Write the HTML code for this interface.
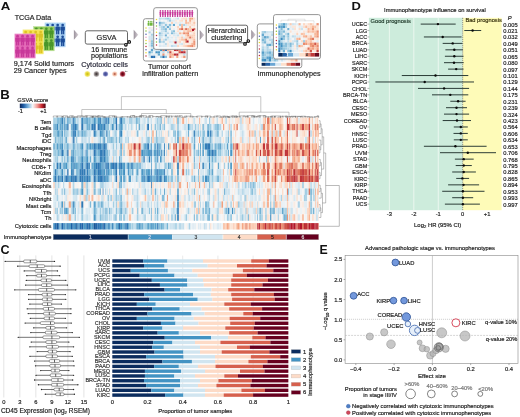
<!DOCTYPE html>
<html><head><meta charset="utf-8"><style>
html,body{margin:0;padding:0;background:#fff;width:520px;height:417px;overflow:hidden}
svg{display:block;will-change:transform}
text{font-family:"Liberation Sans",sans-serif}
</style></head><body>
<svg width="520" height="417" viewBox="0 0 520 417" font-family="Liberation Sans, sans-serif">
<defs><filter id="tblur" x="0" y="0" width="1" height="1"><feGaussianBlur stdDeviation="0.5"/></filter></defs>
<text transform="translate(0.75,9.85) scale(1.25,1)" font-size="10.6" text-anchor="start" fill="#111" font-weight="bold" >A</text>
<text x="14.70" y="20.00" font-size="7.15" text-anchor="start" fill="#222" stroke="#222" stroke-width="0.18" >TCGA Data</text>
<rect x="44.9" y="22.8" width="20.6" height="24.2" fill="#a9d1f2" stroke="#cfe5f8" stroke-width="0.6"/>
<circle cx="47.65" cy="25.05" r="1.35" fill="#1d4d9a" stroke="none" stroke-width="0.5" />
<rect x="45.4" y="26.4" width="4.5" height="4.4" fill="#1d4d9a" rx="1.0"/>
<rect x="46.05" y="30.2" width="1.45" height="4.1" fill="#1d4d9a"/>
<rect x="47.8" y="30.2" width="1.45" height="4.1" fill="#1d4d9a"/>
<circle cx="52.65" cy="25.05" r="1.35" fill="#1d4d9a" stroke="none" stroke-width="0.5" />
<rect x="50.4" y="26.4" width="4.5" height="4.4" fill="#1d4d9a" rx="1.0"/>
<rect x="51.05" y="30.2" width="1.45" height="4.1" fill="#1d4d9a"/>
<rect x="52.8" y="30.2" width="1.45" height="4.1" fill="#1d4d9a"/>
<circle cx="57.65" cy="25.05" r="1.35" fill="#1d4d9a" stroke="none" stroke-width="0.5" />
<rect x="55.4" y="26.4" width="4.5" height="4.4" fill="#1d4d9a" rx="1.0"/>
<rect x="56.05" y="30.2" width="1.45" height="4.1" fill="#1d4d9a"/>
<rect x="57.8" y="30.2" width="1.45" height="4.1" fill="#1d4d9a"/>
<circle cx="62.65" cy="25.05" r="1.35" fill="#1d4d9a" stroke="none" stroke-width="0.5" />
<rect x="60.4" y="26.4" width="4.5" height="4.4" fill="#1d4d9a" rx="1.0"/>
<rect x="61.05" y="30.2" width="1.45" height="4.1" fill="#1d4d9a"/>
<rect x="62.8" y="30.2" width="1.45" height="4.1" fill="#1d4d9a"/>
<circle cx="47.65" cy="36.85" r="1.35" fill="#1d4d9a" stroke="none" stroke-width="0.5" />
<rect x="45.4" y="38.2" width="4.5" height="4.4" fill="#1d4d9a" rx="1.0"/>
<rect x="46.05" y="42" width="1.45" height="4.1" fill="#1d4d9a"/>
<rect x="47.8" y="42" width="1.45" height="4.1" fill="#1d4d9a"/>
<circle cx="52.65" cy="36.85" r="1.35" fill="#1d4d9a" stroke="none" stroke-width="0.5" />
<rect x="50.4" y="38.2" width="4.5" height="4.4" fill="#1d4d9a" rx="1.0"/>
<rect x="51.05" y="42" width="1.45" height="4.1" fill="#1d4d9a"/>
<rect x="52.8" y="42" width="1.45" height="4.1" fill="#1d4d9a"/>
<circle cx="57.65" cy="36.85" r="1.35" fill="#1d4d9a" stroke="none" stroke-width="0.5" />
<rect x="55.4" y="38.2" width="4.5" height="4.4" fill="#1d4d9a" rx="1.0"/>
<rect x="56.05" y="42" width="1.45" height="4.1" fill="#1d4d9a"/>
<rect x="57.8" y="42" width="1.45" height="4.1" fill="#1d4d9a"/>
<circle cx="62.65" cy="36.85" r="1.35" fill="#1d4d9a" stroke="none" stroke-width="0.5" />
<rect x="60.4" y="38.2" width="4.5" height="4.4" fill="#1d4d9a" rx="1.0"/>
<rect x="61.05" y="42" width="1.45" height="4.1" fill="#1d4d9a"/>
<rect x="62.8" y="42" width="1.45" height="4.1" fill="#1d4d9a"/>
<rect x="33.6" y="26.6" width="20.6" height="24.2" fill="#93cc5c" stroke="#c0e2a0" stroke-width="0.6"/>
<circle cx="36.35" cy="28.85" r="1.35" fill="#4a962a" stroke="none" stroke-width="0.5" />
<rect x="34.1" y="30.2" width="4.5" height="4.4" fill="#4a962a" rx="1.0"/>
<rect x="34.75" y="34" width="1.45" height="4.1" fill="#4a962a"/>
<rect x="36.5" y="34" width="1.45" height="4.1" fill="#4a962a"/>
<circle cx="41.35" cy="28.85" r="1.35" fill="#4a962a" stroke="none" stroke-width="0.5" />
<rect x="39.1" y="30.2" width="4.5" height="4.4" fill="#4a962a" rx="1.0"/>
<rect x="39.75" y="34" width="1.45" height="4.1" fill="#4a962a"/>
<rect x="41.5" y="34" width="1.45" height="4.1" fill="#4a962a"/>
<circle cx="46.35" cy="28.85" r="1.35" fill="#4a962a" stroke="none" stroke-width="0.5" />
<rect x="44.1" y="30.2" width="4.5" height="4.4" fill="#4a962a" rx="1.0"/>
<rect x="44.75" y="34" width="1.45" height="4.1" fill="#4a962a"/>
<rect x="46.5" y="34" width="1.45" height="4.1" fill="#4a962a"/>
<circle cx="51.35" cy="28.85" r="1.35" fill="#4a962a" stroke="none" stroke-width="0.5" />
<rect x="49.1" y="30.2" width="4.5" height="4.4" fill="#4a962a" rx="1.0"/>
<rect x="49.75" y="34" width="1.45" height="4.1" fill="#4a962a"/>
<rect x="51.5" y="34" width="1.45" height="4.1" fill="#4a962a"/>
<circle cx="36.35" cy="40.65" r="1.35" fill="#4a962a" stroke="none" stroke-width="0.5" />
<rect x="34.1" y="42" width="4.5" height="4.4" fill="#4a962a" rx="1.0"/>
<rect x="34.75" y="45.8" width="1.45" height="4.1" fill="#4a962a"/>
<rect x="36.5" y="45.8" width="1.45" height="4.1" fill="#4a962a"/>
<circle cx="41.35" cy="40.65" r="1.35" fill="#4a962a" stroke="none" stroke-width="0.5" />
<rect x="39.1" y="42" width="4.5" height="4.4" fill="#4a962a" rx="1.0"/>
<rect x="39.75" y="45.8" width="1.45" height="4.1" fill="#4a962a"/>
<rect x="41.5" y="45.8" width="1.45" height="4.1" fill="#4a962a"/>
<circle cx="46.35" cy="40.65" r="1.35" fill="#4a962a" stroke="none" stroke-width="0.5" />
<rect x="44.1" y="42" width="4.5" height="4.4" fill="#4a962a" rx="1.0"/>
<rect x="44.75" y="45.8" width="1.45" height="4.1" fill="#4a962a"/>
<rect x="46.5" y="45.8" width="1.45" height="4.1" fill="#4a962a"/>
<circle cx="51.35" cy="40.65" r="1.35" fill="#4a962a" stroke="none" stroke-width="0.5" />
<rect x="49.1" y="42" width="4.5" height="4.4" fill="#4a962a" rx="1.0"/>
<rect x="49.75" y="45.8" width="1.45" height="4.1" fill="#4a962a"/>
<rect x="51.5" y="45.8" width="1.45" height="4.1" fill="#4a962a"/>
<rect x="22.9" y="29.8" width="20.6" height="24.2" fill="#f5e452" stroke="#f8f0a8" stroke-width="0.6"/>
<circle cx="25.65" cy="32.05" r="1.35" fill="#dcc226" stroke="none" stroke-width="0.5" />
<rect x="23.4" y="33.4" width="4.5" height="4.4" fill="#dcc226" rx="1.0"/>
<rect x="24.05" y="37.2" width="1.45" height="4.1" fill="#dcc226"/>
<rect x="25.8" y="37.2" width="1.45" height="4.1" fill="#dcc226"/>
<circle cx="30.65" cy="32.05" r="1.35" fill="#dcc226" stroke="none" stroke-width="0.5" />
<rect x="28.4" y="33.4" width="4.5" height="4.4" fill="#dcc226" rx="1.0"/>
<rect x="29.05" y="37.2" width="1.45" height="4.1" fill="#dcc226"/>
<rect x="30.8" y="37.2" width="1.45" height="4.1" fill="#dcc226"/>
<circle cx="35.65" cy="32.05" r="1.35" fill="#dcc226" stroke="none" stroke-width="0.5" />
<rect x="33.4" y="33.4" width="4.5" height="4.4" fill="#dcc226" rx="1.0"/>
<rect x="34.05" y="37.2" width="1.45" height="4.1" fill="#dcc226"/>
<rect x="35.8" y="37.2" width="1.45" height="4.1" fill="#dcc226"/>
<circle cx="40.65" cy="32.05" r="1.35" fill="#dcc226" stroke="none" stroke-width="0.5" />
<rect x="38.4" y="33.4" width="4.5" height="4.4" fill="#dcc226" rx="1.0"/>
<rect x="39.05" y="37.2" width="1.45" height="4.1" fill="#dcc226"/>
<rect x="40.8" y="37.2" width="1.45" height="4.1" fill="#dcc226"/>
<circle cx="25.65" cy="43.85" r="1.35" fill="#dcc226" stroke="none" stroke-width="0.5" />
<rect x="23.4" y="45.2" width="4.5" height="4.4" fill="#dcc226" rx="1.0"/>
<rect x="24.05" y="49" width="1.45" height="4.1" fill="#dcc226"/>
<rect x="25.8" y="49" width="1.45" height="4.1" fill="#dcc226"/>
<circle cx="30.65" cy="43.85" r="1.35" fill="#dcc226" stroke="none" stroke-width="0.5" />
<rect x="28.4" y="45.2" width="4.5" height="4.4" fill="#dcc226" rx="1.0"/>
<rect x="29.05" y="49" width="1.45" height="4.1" fill="#dcc226"/>
<rect x="30.8" y="49" width="1.45" height="4.1" fill="#dcc226"/>
<circle cx="35.65" cy="43.85" r="1.35" fill="#dcc226" stroke="none" stroke-width="0.5" />
<rect x="33.4" y="45.2" width="4.5" height="4.4" fill="#dcc226" rx="1.0"/>
<rect x="34.05" y="49" width="1.45" height="4.1" fill="#dcc226"/>
<rect x="35.8" y="49" width="1.45" height="4.1" fill="#dcc226"/>
<circle cx="40.65" cy="43.85" r="1.35" fill="#dcc226" stroke="none" stroke-width="0.5" />
<rect x="38.4" y="45.2" width="4.5" height="4.4" fill="#dcc226" rx="1.0"/>
<rect x="39.05" y="49" width="1.45" height="4.1" fill="#dcc226"/>
<rect x="40.8" y="49" width="1.45" height="4.1" fill="#dcc226"/>
<rect x="14.8" y="33.9" width="20.6" height="24.2" fill="#e46cb8" stroke="#f2b0da" stroke-width="0.6"/>
<circle cx="17.55" cy="36.15" r="1.35" fill="#c8389a" stroke="none" stroke-width="0.5" />
<rect x="15.3" y="37.5" width="4.5" height="4.4" fill="#c8389a" rx="1.0"/>
<rect x="15.95" y="41.3" width="1.45" height="4.1" fill="#c8389a"/>
<rect x="17.7" y="41.3" width="1.45" height="4.1" fill="#c8389a"/>
<circle cx="22.55" cy="36.15" r="1.35" fill="#c8389a" stroke="none" stroke-width="0.5" />
<rect x="20.3" y="37.5" width="4.5" height="4.4" fill="#c8389a" rx="1.0"/>
<rect x="20.95" y="41.3" width="1.45" height="4.1" fill="#c8389a"/>
<rect x="22.7" y="41.3" width="1.45" height="4.1" fill="#c8389a"/>
<circle cx="27.55" cy="36.15" r="1.35" fill="#c8389a" stroke="none" stroke-width="0.5" />
<rect x="25.3" y="37.5" width="4.5" height="4.4" fill="#c8389a" rx="1.0"/>
<rect x="25.95" y="41.3" width="1.45" height="4.1" fill="#c8389a"/>
<rect x="27.7" y="41.3" width="1.45" height="4.1" fill="#c8389a"/>
<circle cx="32.55" cy="36.15" r="1.35" fill="#c8389a" stroke="none" stroke-width="0.5" />
<rect x="30.3" y="37.5" width="4.5" height="4.4" fill="#c8389a" rx="1.0"/>
<rect x="30.95" y="41.3" width="1.45" height="4.1" fill="#c8389a"/>
<rect x="32.7" y="41.3" width="1.45" height="4.1" fill="#c8389a"/>
<circle cx="17.55" cy="47.95" r="1.35" fill="#c8389a" stroke="none" stroke-width="0.5" />
<rect x="15.3" y="49.3" width="4.5" height="4.4" fill="#c8389a" rx="1.0"/>
<rect x="15.95" y="53.1" width="1.45" height="4.1" fill="#c8389a"/>
<rect x="17.7" y="53.1" width="1.45" height="4.1" fill="#c8389a"/>
<circle cx="22.55" cy="47.95" r="1.35" fill="#c8389a" stroke="none" stroke-width="0.5" />
<rect x="20.3" y="49.3" width="4.5" height="4.4" fill="#c8389a" rx="1.0"/>
<rect x="20.95" y="53.1" width="1.45" height="4.1" fill="#c8389a"/>
<rect x="22.7" y="53.1" width="1.45" height="4.1" fill="#c8389a"/>
<circle cx="27.55" cy="47.95" r="1.35" fill="#c8389a" stroke="none" stroke-width="0.5" />
<rect x="25.3" y="49.3" width="4.5" height="4.4" fill="#c8389a" rx="1.0"/>
<rect x="25.95" y="53.1" width="1.45" height="4.1" fill="#c8389a"/>
<rect x="27.7" y="53.1" width="1.45" height="4.1" fill="#c8389a"/>
<circle cx="32.55" cy="47.95" r="1.35" fill="#c8389a" stroke="none" stroke-width="0.5" />
<rect x="30.3" y="49.3" width="4.5" height="4.4" fill="#c8389a" rx="1.0"/>
<rect x="30.95" y="53.1" width="1.45" height="4.1" fill="#c8389a"/>
<rect x="32.7" y="53.1" width="1.45" height="4.1" fill="#c8389a"/>
<text x="13.80" y="66.10" font-size="7.25" text-anchor="start" fill="#222" stroke="#222" stroke-width="0.18" >9,174 Solid tumors</text>
<text x="13.80" y="72.60" font-size="7.25" text-anchor="start" fill="#222" stroke="#222" stroke-width="0.18" >29 Cancer types</text>
<defs><linearGradient id="arr" x1="0" x2="1"><stop offset="0" stop-color="#9a929c"/><stop offset="1" stop-color="#d8d0d6"/></linearGradient></defs>
<path d="M73.9,29.8 L78.4,34.8 L73.9,39.8 Z" fill="url(#arr)"/>
<path d="M133.7,29.8 L138.2,34.8 L133.7,39.8 Z" fill="url(#arr)"/>
<path d="M199.7,29.9 L204.2,34.9 L199.7,39.9 Z" fill="url(#arr)"/>
<path d="M251.2,29.7 L255.7,34.7 L251.2,39.7 Z" fill="url(#arr)"/>
<rect x="85.3" y="30.8" width="42.2" height="13.3" rx="1.8" fill="#fff" stroke="#555" stroke-width="0.9"/>
<text x="106.40" y="40.10" font-size="7.3" text-anchor="middle" fill="#222" stroke="#222" stroke-width="0.18" >GSVA</text>
<circle cx="125.90" cy="44.80" r="1.30" fill="#fff" stroke="#111" stroke-width="1.15" />
<circle cx="129.20" cy="41.90" r="1.30" fill="#fff" stroke="#111" stroke-width="1.15" />
<line x1="126.80" y1="44.00" x2="128.30" y2="42.70" stroke="#111" stroke-width="1.0" />
<text x="109.30" y="51.80" font-size="7.2" text-anchor="middle" fill="#222" stroke="#222" stroke-width="0.18" >16 Immune</text>
<text x="109.40" y="57.70" font-size="7.2" text-anchor="middle" fill="#222" stroke="#222" stroke-width="0.18" >populations</text>
<text x="81.20" y="67.40" font-size="7.3" text-anchor="start" fill="#2b2b3c" stroke="#2b2b3c" stroke-width="0.18" >Cytotoxic cells</text>
<defs><radialGradient id="gy"><stop offset="0" stop-color="#c8b810"/><stop offset="0.55" stop-color="#e8dc40"/><stop offset="1" stop-color="#f8f0b0"/></radialGradient><radialGradient id="gg"><stop offset="0" stop-color="#302828"/><stop offset="0.55" stop-color="#807878"/><stop offset="1" stop-color="#d0cccc"/></radialGradient><radialGradient id="gb"><stop offset="0" stop-color="#404890"/><stop offset="0.55" stop-color="#5a62a8"/><stop offset="1" stop-color="#b8bce0"/></radialGradient><radialGradient id="gp"><stop offset="0" stop-color="#a04030"/><stop offset="0.55" stop-color="#f0b8a0"/><stop offset="1" stop-color="#fde8dc"/></radialGradient><radialGradient id="gr"><stop offset="0" stop-color="#500010"/><stop offset="0.55" stop-color="#901828"/><stop offset="1" stop-color="#e0a0b0"/></radialGradient></defs>
<circle cx="87.40" cy="74.00" r="3.00" fill="url(#gy)" stroke="none" stroke-width="0.5" />
<circle cx="96.40" cy="74.00" r="2.90" fill="url(#gg)" stroke="none" stroke-width="0.5" />
<circle cx="105.50" cy="74.00" r="2.70" fill="url(#gb)" stroke="none" stroke-width="0.5" />
<circle cx="114.70" cy="74.00" r="2.70" fill="url(#gp)" stroke="none" stroke-width="0.5" />
<circle cx="122.60" cy="74.00" r="2.90" fill="url(#gr)" stroke="none" stroke-width="0.5" />
<circle cx="125.80" cy="71.20" r="0.50" fill="#222" stroke="none" stroke-width="0.5" />
<circle cx="127.00" cy="71.60" r="0.40" fill="#222" stroke="none" stroke-width="0.5" />
<rect x="206.2" y="25.2" width="41.4" height="17.6" rx="1.8" fill="#fff" stroke="#555" stroke-width="0.9"/>
<text x="226.90" y="33.10" font-size="7.25" text-anchor="middle" fill="#222" stroke="#222" stroke-width="0.18" >Hierarchical</text>
<text x="226.70" y="39.90" font-size="7.25" text-anchor="middle" fill="#222" stroke="#222" stroke-width="0.18" >clustering</text>
<circle cx="245.00" cy="43.90" r="1.30" fill="#fff" stroke="#111" stroke-width="1.15" />
<circle cx="248.30" cy="41.00" r="1.30" fill="#fff" stroke="#111" stroke-width="1.15" />
<line x1="245.90" y1="43.10" x2="247.40" y2="41.80" stroke="#111" stroke-width="1.0" />
<rect x="143.4" y="18.7" width="43.7" height="42.3" rx="2.2" fill="#fff" stroke="#8a8a8a" stroke-width="0.9"/>
<g filter="url(#tblur)">
<rect x="148.5" y="27" width="2.36" height="2.25" fill="#deebf2"/>
<rect x="148.5" y="29.2" width="2.36" height="2.25" fill="#f9ece5"/>
<rect x="148.5" y="31.4" width="2.36" height="2.25" fill="#acd2e5"/>
<rect x="148.5" y="33.6" width="2.36" height="2.25" fill="#f8f3f0"/>
<rect x="148.5" y="35.8" width="2.36" height="2.25" fill="#d2e5f0"/>
<rect x="148.5" y="38" width="2.36" height="2.25" fill="#d2e5f0"/>
<rect x="148.5" y="40.2" width="2.36" height="2.25" fill="#fddcc9"/>
<rect x="148.5" y="42.4" width="2.36" height="2.25" fill="#e0ecf3"/>
<rect x="148.5" y="44.6" width="2.36" height="2.25" fill="#d9e9f1"/>
<rect x="148.5" y="46.8" width="2.36" height="2.25" fill="#f3f5f6"/>
<rect x="150.81" y="27" width="2.36" height="2.25" fill="#f9f0ea"/>
<rect x="150.81" y="29.2" width="2.36" height="2.25" fill="#d9e9f2"/>
<rect x="150.81" y="31.4" width="2.36" height="2.25" fill="#eff3f5"/>
<rect x="150.81" y="33.6" width="2.36" height="2.25" fill="#aad1e5"/>
<rect x="150.81" y="35.8" width="2.36" height="2.25" fill="#cce2ef"/>
<rect x="150.81" y="38" width="2.36" height="2.25" fill="#c8e0ed"/>
<rect x="150.81" y="40.2" width="2.36" height="2.25" fill="#95c7df"/>
<rect x="150.81" y="42.4" width="2.36" height="2.25" fill="#89c0db"/>
<rect x="150.81" y="44.6" width="2.36" height="2.25" fill="#81bad8"/>
<rect x="150.81" y="46.8" width="2.36" height="2.25" fill="#d2e6f0"/>
<rect x="153.12" y="27" width="2.36" height="2.25" fill="#d5e7f1"/>
<rect x="153.12" y="29.2" width="2.36" height="2.25" fill="#cfe4ef"/>
<rect x="153.12" y="31.4" width="2.36" height="2.25" fill="#ddebf2"/>
<rect x="153.12" y="33.6" width="2.36" height="2.25" fill="#95c7df"/>
<rect x="153.12" y="35.8" width="2.36" height="2.25" fill="#d8e8f1"/>
<rect x="153.12" y="38" width="2.36" height="2.25" fill="#e3edf3"/>
<rect x="153.12" y="40.2" width="2.36" height="2.25" fill="#f4f6f6"/>
<rect x="153.12" y="42.4" width="2.36" height="2.25" fill="#b1d5e7"/>
<rect x="153.12" y="44.6" width="2.36" height="2.25" fill="#cae1ee"/>
<rect x="153.12" y="46.8" width="2.36" height="2.25" fill="#65a9cf"/>
<rect x="155.44" y="27" width="2.36" height="2.25" fill="#c4deec"/>
<rect x="155.44" y="29.2" width="2.36" height="2.25" fill="#59a1ca"/>
<rect x="155.44" y="31.4" width="2.36" height="2.25" fill="#90c4dd"/>
<rect x="155.44" y="33.6" width="2.36" height="2.25" fill="#f8f0eb"/>
<rect x="155.44" y="35.8" width="2.36" height="2.25" fill="#58a0ca"/>
<rect x="155.44" y="38" width="2.36" height="2.25" fill="#f6f6f7"/>
<rect x="155.44" y="40.2" width="2.36" height="2.25" fill="#e6eff4"/>
<rect x="155.44" y="42.4" width="2.36" height="2.25" fill="#cfe4ef"/>
<rect x="155.44" y="44.6" width="2.36" height="2.25" fill="#eaf1f5"/>
<rect x="155.44" y="46.8" width="2.36" height="2.25" fill="#edf2f5"/>
<rect x="157.75" y="27" width="2.36" height="2.25" fill="#f8f2ee"/>
<rect x="157.75" y="29.2" width="2.36" height="2.25" fill="#d3e6f0"/>
<rect x="157.75" y="31.4" width="2.36" height="2.25" fill="#bfdceb"/>
<rect x="157.75" y="33.6" width="2.36" height="2.25" fill="#bedceb"/>
<rect x="157.75" y="35.8" width="2.36" height="2.25" fill="#a9d1e5"/>
<rect x="157.75" y="38" width="2.36" height="2.25" fill="#d9e9f1"/>
<rect x="157.75" y="40.2" width="2.36" height="2.25" fill="#b4d6e8"/>
<rect x="157.75" y="42.4" width="2.36" height="2.25" fill="#f8f1ed"/>
<rect x="157.75" y="44.6" width="2.36" height="2.25" fill="#70afd2"/>
<rect x="157.75" y="46.8" width="2.36" height="2.25" fill="#a3cee3"/>
<rect x="160.06" y="27" width="2.36" height="2.25" fill="#abd2e5"/>
<rect x="160.06" y="29.2" width="2.36" height="2.25" fill="#60a5cd"/>
<rect x="160.06" y="31.4" width="2.36" height="2.25" fill="#fddcc9"/>
<rect x="160.06" y="33.6" width="2.36" height="2.25" fill="#4a97c5"/>
<rect x="160.06" y="35.8" width="2.36" height="2.25" fill="#d1e5f0"/>
<rect x="160.06" y="38" width="2.36" height="2.25" fill="#c3deec"/>
<rect x="160.06" y="40.2" width="2.36" height="2.25" fill="#fbe2d3"/>
<rect x="160.06" y="42.4" width="2.36" height="2.25" fill="#68aad0"/>
<rect x="160.06" y="44.6" width="2.36" height="2.25" fill="#f8f1ed"/>
<rect x="160.06" y="46.8" width="2.36" height="2.25" fill="#b7d8e9"/>
<rect x="162.38" y="27" width="2.36" height="2.25" fill="#d5e7f1"/>
<rect x="162.38" y="29.2" width="2.36" height="2.25" fill="#bbdaea"/>
<rect x="162.38" y="31.4" width="2.36" height="2.25" fill="#f0f4f6"/>
<rect x="162.38" y="33.6" width="2.36" height="2.25" fill="#a0cce2"/>
<rect x="162.38" y="35.8" width="2.36" height="2.25" fill="#d8e8f1"/>
<rect x="162.38" y="38" width="2.36" height="2.25" fill="#e7eff4"/>
<rect x="162.38" y="40.2" width="2.36" height="2.25" fill="#fcdecc"/>
<rect x="162.38" y="42.4" width="2.36" height="2.25" fill="#4a97c5"/>
<rect x="162.38" y="44.6" width="2.36" height="2.25" fill="#fbe6d9"/>
<rect x="162.38" y="46.8" width="2.36" height="2.25" fill="#f8f4f2"/>
<rect x="164.69" y="27" width="2.36" height="2.25" fill="#c5dfed"/>
<rect x="164.69" y="29.2" width="2.36" height="2.25" fill="#e5eef4"/>
<rect x="164.69" y="31.4" width="2.36" height="2.25" fill="#c6e0ed"/>
<rect x="164.69" y="33.6" width="2.36" height="2.25" fill="#fbe3d4"/>
<rect x="164.69" y="35.8" width="2.36" height="2.25" fill="#e2edf3"/>
<rect x="164.69" y="38" width="2.36" height="2.25" fill="#d3e6f0"/>
<rect x="164.69" y="40.2" width="2.36" height="2.25" fill="#d3e6f0"/>
<rect x="164.69" y="42.4" width="2.36" height="2.25" fill="#d4e6f0"/>
<rect x="164.69" y="44.6" width="2.36" height="2.25" fill="#d4e7f1"/>
<rect x="164.69" y="46.8" width="2.36" height="2.25" fill="#afd4e6"/>
<rect x="167" y="27" width="2.36" height="2.25" fill="#fcd5c0"/>
<rect x="167" y="29.2" width="2.36" height="2.25" fill="#6daed1"/>
<rect x="167" y="31.4" width="2.36" height="2.25" fill="#2a71b2"/>
<rect x="167" y="33.6" width="2.36" height="2.25" fill="#d6e8f1"/>
<rect x="167" y="35.8" width="2.36" height="2.25" fill="#d5e7f1"/>
<rect x="167" y="38" width="2.36" height="2.25" fill="#e7f0f4"/>
<rect x="167" y="40.2" width="2.36" height="2.25" fill="#d4e6f0"/>
<rect x="167" y="42.4" width="2.36" height="2.25" fill="#d5e7f1"/>
<rect x="167" y="44.6" width="2.36" height="2.25" fill="#e6eff4"/>
<rect x="167" y="46.8" width="2.36" height="2.25" fill="#f8f4f1"/>
<rect x="169.31" y="27" width="2.36" height="2.25" fill="#f8f4f2"/>
<rect x="169.31" y="29.2" width="2.36" height="2.25" fill="#f8f2ef"/>
<rect x="169.31" y="31.4" width="2.36" height="2.25" fill="#ed9475"/>
<rect x="169.31" y="33.6" width="2.36" height="2.25" fill="#fddcc8"/>
<rect x="169.31" y="35.8" width="2.36" height="2.25" fill="#e8f0f4"/>
<rect x="169.31" y="38" width="2.36" height="2.25" fill="#e27c63"/>
<rect x="169.31" y="40.2" width="2.36" height="2.25" fill="#fbd0b9"/>
<rect x="169.31" y="42.4" width="2.36" height="2.25" fill="#f6f6f7"/>
<rect x="169.31" y="44.6" width="2.36" height="2.25" fill="#e2edf3"/>
<rect x="169.31" y="46.8" width="2.36" height="2.25" fill="#fce1d2"/>
<rect x="171.62" y="27" width="2.36" height="2.25" fill="#eef3f5"/>
<rect x="171.62" y="29.2" width="2.36" height="2.25" fill="#e6eff4"/>
<rect x="171.62" y="31.4" width="2.36" height="2.25" fill="#deebf2"/>
<rect x="171.62" y="33.6" width="2.36" height="2.25" fill="#f7f6f5"/>
<rect x="171.62" y="35.8" width="2.36" height="2.25" fill="#f9c0a5"/>
<rect x="171.62" y="38" width="2.36" height="2.25" fill="#f8f4f2"/>
<rect x="171.62" y="40.2" width="2.36" height="2.25" fill="#d8e9f1"/>
<rect x="171.62" y="42.4" width="2.36" height="2.25" fill="#fcd5c0"/>
<rect x="171.62" y="44.6" width="2.36" height="2.25" fill="#fae7dc"/>
<rect x="171.62" y="46.8" width="2.36" height="2.25" fill="#fbcdb5"/>
<rect x="173.94" y="27" width="2.36" height="2.25" fill="#f8bc9f"/>
<rect x="173.94" y="29.2" width="2.36" height="2.25" fill="#f9ede6"/>
<rect x="173.94" y="31.4" width="2.36" height="2.25" fill="#f9ede5"/>
<rect x="173.94" y="33.6" width="2.36" height="2.25" fill="#faeae1"/>
<rect x="173.94" y="35.8" width="2.36" height="2.25" fill="#e3eef3"/>
<rect x="173.94" y="38" width="2.36" height="2.25" fill="#fcd5c0"/>
<rect x="173.94" y="40.2" width="2.36" height="2.25" fill="#f6b394"/>
<rect x="173.94" y="42.4" width="2.36" height="2.25" fill="#fbe5d7"/>
<rect x="173.94" y="44.6" width="2.36" height="2.25" fill="#f9efe9"/>
<rect x="173.94" y="46.8" width="2.36" height="2.25" fill="#f9f0ea"/>
<rect x="176.25" y="27" width="2.36" height="2.25" fill="#eff3f6"/>
<rect x="176.25" y="29.2" width="2.36" height="2.25" fill="#eff3f5"/>
<rect x="176.25" y="31.4" width="2.36" height="2.25" fill="#f8f3f0"/>
<rect x="176.25" y="33.6" width="2.36" height="2.25" fill="#edf2f5"/>
<rect x="176.25" y="35.8" width="2.36" height="2.25" fill="#f8f4f2"/>
<rect x="176.25" y="38" width="2.36" height="2.25" fill="#d4e6f1"/>
<rect x="176.25" y="40.2" width="2.36" height="2.25" fill="#fce0d0"/>
<rect x="176.25" y="42.4" width="2.36" height="2.25" fill="#fae8dd"/>
<rect x="176.25" y="44.6" width="2.36" height="2.25" fill="#e3edf3"/>
<rect x="176.25" y="46.8" width="2.36" height="2.25" fill="#add3e6"/>
<rect x="178.56" y="27" width="2.36" height="2.25" fill="#fae9df"/>
<rect x="178.56" y="29.2" width="2.36" height="2.25" fill="#f9c0a5"/>
<rect x="178.56" y="31.4" width="2.36" height="2.25" fill="#f1f4f6"/>
<rect x="178.56" y="33.6" width="2.36" height="2.25" fill="#f7f5f4"/>
<rect x="178.56" y="35.8" width="2.36" height="2.25" fill="#f7f7f7"/>
<rect x="178.56" y="38" width="2.36" height="2.25" fill="#fcd6c1"/>
<rect x="178.56" y="40.2" width="2.36" height="2.25" fill="#ebf1f5"/>
<rect x="178.56" y="42.4" width="2.36" height="2.25" fill="#fac6ac"/>
<rect x="178.56" y="44.6" width="2.36" height="2.25" fill="#f8f1ec"/>
<rect x="178.56" y="46.8" width="2.36" height="2.25" fill="#fac9b0"/>
<rect x="180.88" y="27" width="2.36" height="2.25" fill="#fae8de"/>
<rect x="180.88" y="29.2" width="2.36" height="2.25" fill="#f9efe9"/>
<rect x="180.88" y="31.4" width="2.36" height="2.25" fill="#d7e8f1"/>
<rect x="180.88" y="33.6" width="2.36" height="2.25" fill="#f2f5f6"/>
<rect x="180.88" y="35.8" width="2.36" height="2.25" fill="#f9f0ea"/>
<rect x="180.88" y="38" width="2.36" height="2.25" fill="#fcd6c1"/>
<rect x="180.88" y="40.2" width="2.36" height="2.25" fill="#fbe3d4"/>
<rect x="180.88" y="42.4" width="2.36" height="2.25" fill="#f2f5f6"/>
<rect x="180.88" y="44.6" width="2.36" height="2.25" fill="#fcdfcd"/>
<rect x="180.88" y="46.8" width="2.36" height="2.25" fill="#fac6ac"/>
<rect x="183.19" y="27" width="2.36" height="2.25" fill="#f9ede5"/>
<rect x="183.19" y="29.2" width="2.36" height="2.25" fill="#f8f4f2"/>
<rect x="183.19" y="31.4" width="2.36" height="2.25" fill="#f8f3f0"/>
<rect x="183.19" y="33.6" width="2.36" height="2.25" fill="#fbcfb7"/>
<rect x="183.19" y="35.8" width="2.36" height="2.25" fill="#fddbc8"/>
<rect x="183.19" y="38" width="2.36" height="2.25" fill="#eaf1f5"/>
<rect x="183.19" y="40.2" width="2.36" height="2.25" fill="#fce0cf"/>
<rect x="183.19" y="42.4" width="2.36" height="2.25" fill="#f7f5f4"/>
<rect x="183.19" y="44.6" width="2.36" height="2.25" fill="#f0f4f6"/>
<rect x="183.19" y="46.8" width="2.36" height="2.25" fill="#f7ba9d"/>
<rect x="148.5" y="49" width="2.36" height="2.3" fill="#f5f6f7"/>
<rect x="148.5" y="51.25" width="2.36" height="2.3" fill="#559fc9"/>
<rect x="148.5" y="53.5" width="2.36" height="2.3" fill="#bad9e9"/>
<rect x="148.5" y="55.75" width="2.36" height="2.3" fill="#dfecf3"/>
<rect x="150.81" y="49" width="2.36" height="2.3" fill="#61a6cd"/>
<rect x="150.81" y="51.25" width="2.36" height="2.3" fill="#a4cee3"/>
<rect x="150.81" y="53.5" width="2.36" height="2.3" fill="#eaf1f5"/>
<rect x="150.81" y="55.75" width="2.36" height="2.3" fill="#2a71b2"/>
<rect x="153.12" y="49" width="2.36" height="2.3" fill="#d4e6f1"/>
<rect x="153.12" y="51.25" width="2.36" height="2.3" fill="#eff3f6"/>
<rect x="153.12" y="53.5" width="2.36" height="2.3" fill="#e0ecf3"/>
<rect x="153.12" y="55.75" width="2.36" height="2.3" fill="#2a71b2"/>
<rect x="155.44" y="49" width="2.36" height="2.3" fill="#d3e6f0"/>
<rect x="155.44" y="51.25" width="2.36" height="2.3" fill="#4393c3"/>
<rect x="155.44" y="53.5" width="2.36" height="2.3" fill="#e4eef3"/>
<rect x="155.44" y="55.75" width="2.36" height="2.3" fill="#e6eff4"/>
<rect x="157.75" y="49" width="2.36" height="2.3" fill="#c9e1ee"/>
<rect x="157.75" y="51.25" width="2.36" height="2.3" fill="#509bc7"/>
<rect x="157.75" y="53.5" width="2.36" height="2.3" fill="#68aad0"/>
<rect x="157.75" y="55.75" width="2.36" height="2.3" fill="#f7f7f7"/>
<rect x="160.06" y="49" width="2.36" height="2.3" fill="#4190c1"/>
<rect x="160.06" y="51.25" width="2.36" height="2.3" fill="#dfecf3"/>
<rect x="160.06" y="53.5" width="2.36" height="2.3" fill="#e0ecf3"/>
<rect x="160.06" y="55.75" width="2.36" height="2.3" fill="#93c5de"/>
<rect x="162.38" y="49" width="2.36" height="2.3" fill="#df755d"/>
<rect x="162.38" y="51.25" width="2.36" height="2.3" fill="#b9d9e9"/>
<rect x="162.38" y="53.5" width="2.36" height="2.3" fill="#ec9374"/>
<rect x="162.38" y="55.75" width="2.36" height="2.3" fill="#2a71b2"/>
<rect x="164.69" y="49" width="2.36" height="2.3" fill="#2a71b2"/>
<rect x="164.69" y="51.25" width="2.36" height="2.3" fill="#f8f1ed"/>
<rect x="164.69" y="53.5" width="2.36" height="2.3" fill="#e8f0f4"/>
<rect x="164.69" y="55.75" width="2.36" height="2.3" fill="#8ec3dd"/>
<rect x="167" y="49" width="2.36" height="2.3" fill="#f7b89a"/>
<rect x="167" y="51.25" width="2.36" height="2.3" fill="#acd2e6"/>
<rect x="167" y="53.5" width="2.36" height="2.3" fill="#fbe5d8"/>
<rect x="167" y="55.75" width="2.36" height="2.3" fill="#f5f6f7"/>
<rect x="169.31" y="49" width="2.36" height="2.3" fill="#fac7ae"/>
<rect x="169.31" y="51.25" width="2.36" height="2.3" fill="#cb4a43"/>
<rect x="169.31" y="53.5" width="2.36" height="2.3" fill="#f5ad8d"/>
<rect x="169.31" y="55.75" width="2.36" height="2.3" fill="#e8896d"/>
<rect x="171.62" y="49" width="2.36" height="2.3" fill="#fae8de"/>
<rect x="171.62" y="51.25" width="2.36" height="2.3" fill="#fddbc8"/>
<rect x="171.62" y="53.5" width="2.36" height="2.3" fill="#f4a886"/>
<rect x="171.62" y="55.75" width="2.36" height="2.3" fill="#fbcdb5"/>
<rect x="173.94" y="49" width="2.36" height="2.3" fill="#bb2a34"/>
<rect x="173.94" y="51.25" width="2.36" height="2.3" fill="#f8f1ed"/>
<rect x="173.94" y="53.5" width="2.36" height="2.3" fill="#bb2a34"/>
<rect x="173.94" y="55.75" width="2.36" height="2.3" fill="#f7f6f5"/>
<rect x="176.25" y="49" width="2.36" height="2.3" fill="#c03438"/>
<rect x="176.25" y="51.25" width="2.36" height="2.3" fill="#f9ece4"/>
<rect x="176.25" y="53.5" width="2.36" height="2.3" fill="#bb2a34"/>
<rect x="176.25" y="55.75" width="2.36" height="2.3" fill="#f4a683"/>
<rect x="178.56" y="49" width="2.36" height="2.3" fill="#e7866a"/>
<rect x="178.56" y="51.25" width="2.36" height="2.3" fill="#d45c4b"/>
<rect x="178.56" y="53.5" width="2.36" height="2.3" fill="#fbe5d8"/>
<rect x="178.56" y="55.75" width="2.36" height="2.3" fill="#f4f6f6"/>
<rect x="180.88" y="49" width="2.36" height="2.3" fill="#9fcce2"/>
<rect x="180.88" y="51.25" width="2.36" height="2.3" fill="#bb2a34"/>
<rect x="180.88" y="53.5" width="2.36" height="2.3" fill="#fae8dd"/>
<rect x="180.88" y="55.75" width="2.36" height="2.3" fill="#fbe3d5"/>
<rect x="183.19" y="49" width="2.36" height="2.3" fill="#f7b597"/>
<rect x="183.19" y="51.25" width="2.36" height="2.3" fill="#bb2a34"/>
<rect x="183.19" y="53.5" width="2.36" height="2.3" fill="#c0dceb"/>
<rect x="183.19" y="55.75" width="2.36" height="2.3" fill="#ee9878"/>
</g>
<circle cx="146.00" cy="28.00" r="0.75" fill="#e8d830" stroke="none" stroke-width="0.5" />
<circle cx="146.00" cy="31.10" r="0.75" fill="#88c040" stroke="none" stroke-width="0.5" />
<circle cx="146.00" cy="34.20" r="0.75" fill="#5560b0" stroke="none" stroke-width="0.5" />
<circle cx="146.00" cy="37.30" r="0.75" fill="#f0a0c0" stroke="none" stroke-width="0.5" />
<circle cx="146.00" cy="40.40" r="0.75" fill="#e8d830" stroke="none" stroke-width="0.5" />
<circle cx="146.00" cy="43.50" r="0.75" fill="#88c040" stroke="none" stroke-width="0.5" />
<circle cx="146.00" cy="46.60" r="0.75" fill="#c03040" stroke="none" stroke-width="0.5" />
<circle cx="146.00" cy="49.70" r="0.75" fill="#5560b0" stroke="none" stroke-width="0.5" />
<circle cx="146.00" cy="52.80" r="0.75" fill="#e8d830" stroke="none" stroke-width="0.5" />
<circle cx="146.00" cy="55.90" r="0.75" fill="#c03040" stroke="none" stroke-width="0.5" />
<circle cx="148.60" cy="21.60" r="0.85" fill="#6fb83c" stroke="none" stroke-width="0.5" />
<rect x="147.6" y="22.5" width="2" height="3.2" fill="#6fb83c" rx="0.5"/>
<circle cx="151.00" cy="21.60" r="0.85" fill="#6fb83c" stroke="none" stroke-width="0.5" />
<rect x="150" y="22.5" width="2" height="3.2" fill="#6fb83c" rx="0.5"/>
<circle cx="153.40" cy="21.60" r="0.85" fill="#6fb83c" stroke="none" stroke-width="0.5" />
<rect x="152.4" y="22.5" width="2" height="3.2" fill="#6fb83c" rx="0.5"/>
<rect x="153.7" y="7.7" width="43.7" height="41.7" rx="2.2" fill="#fff" stroke="#8a8a8a" stroke-width="0.9"/>
<g filter="url(#tblur)">
<rect x="158.8" y="17.6" width="2.08" height="2.16" fill="#b7d8e8"/>
<rect x="158.8" y="19.71" width="2.08" height="2.16" fill="#ddebf2"/>
<rect x="158.8" y="21.81" width="2.08" height="2.16" fill="#67aacf"/>
<rect x="158.8" y="23.92" width="2.08" height="2.16" fill="#97c8df"/>
<rect x="158.8" y="26.03" width="2.08" height="2.16" fill="#d4e6f1"/>
<rect x="158.8" y="28.14" width="2.08" height="2.16" fill="#eaf1f5"/>
<rect x="158.8" y="30.24" width="2.08" height="2.16" fill="#ebf1f5"/>
<rect x="158.8" y="32.35" width="2.08" height="2.16" fill="#7cb7d6"/>
<rect x="158.8" y="34.46" width="2.08" height="2.16" fill="#aed3e6"/>
<rect x="158.8" y="36.56" width="2.08" height="2.16" fill="#c5dfed"/>
<rect x="158.8" y="38.67" width="2.08" height="2.16" fill="#82bbd9"/>
<rect x="158.8" y="40.78" width="2.08" height="2.16" fill="#7eb8d7"/>
<rect x="158.8" y="42.89" width="2.08" height="2.16" fill="#e4eef4"/>
<rect x="158.8" y="44.99" width="2.08" height="2.16" fill="#d5e7f1"/>
<rect x="160.83" y="17.6" width="2.08" height="2.16" fill="#cbe2ee"/>
<rect x="160.83" y="19.71" width="2.08" height="2.16" fill="#f7f7f7"/>
<rect x="160.83" y="21.81" width="2.08" height="2.16" fill="#a0cce2"/>
<rect x="160.83" y="23.92" width="2.08" height="2.16" fill="#cee3ef"/>
<rect x="160.83" y="26.03" width="2.08" height="2.16" fill="#b4d6e8"/>
<rect x="160.83" y="28.14" width="2.08" height="2.16" fill="#b0d4e7"/>
<rect x="160.83" y="30.24" width="2.08" height="2.16" fill="#cce2ef"/>
<rect x="160.83" y="32.35" width="2.08" height="2.16" fill="#bcdaea"/>
<rect x="160.83" y="34.46" width="2.08" height="2.16" fill="#c1ddeb"/>
<rect x="160.83" y="36.56" width="2.08" height="2.16" fill="#dae9f2"/>
<rect x="160.83" y="38.67" width="2.08" height="2.16" fill="#fae7db"/>
<rect x="160.83" y="40.78" width="2.08" height="2.16" fill="#c3deec"/>
<rect x="160.83" y="42.89" width="2.08" height="2.16" fill="#f1f4f6"/>
<rect x="160.83" y="44.99" width="2.08" height="2.16" fill="#e4eef4"/>
<rect x="162.86" y="17.6" width="2.08" height="2.16" fill="#c9e1ee"/>
<rect x="162.86" y="19.71" width="2.08" height="2.16" fill="#eff3f6"/>
<rect x="162.86" y="21.81" width="2.08" height="2.16" fill="#afd4e6"/>
<rect x="162.86" y="23.92" width="2.08" height="2.16" fill="#e7eff4"/>
<rect x="162.86" y="26.03" width="2.08" height="2.16" fill="#92c5de"/>
<rect x="162.86" y="28.14" width="2.08" height="2.16" fill="#a2cde3"/>
<rect x="162.86" y="30.24" width="2.08" height="2.16" fill="#cbe2ee"/>
<rect x="162.86" y="32.35" width="2.08" height="2.16" fill="#ddebf2"/>
<rect x="162.86" y="34.46" width="2.08" height="2.16" fill="#dfecf3"/>
<rect x="162.86" y="36.56" width="2.08" height="2.16" fill="#f2f5f6"/>
<rect x="162.86" y="38.67" width="2.08" height="2.16" fill="#d0e4f0"/>
<rect x="162.86" y="40.78" width="2.08" height="2.16" fill="#aad1e5"/>
<rect x="162.86" y="42.89" width="2.08" height="2.16" fill="#e7f0f4"/>
<rect x="162.86" y="44.99" width="2.08" height="2.16" fill="#e0ecf3"/>
<rect x="164.88" y="17.6" width="2.08" height="2.16" fill="#b2d5e7"/>
<rect x="164.88" y="19.71" width="2.08" height="2.16" fill="#f7f5f4"/>
<rect x="164.88" y="21.81" width="2.08" height="2.16" fill="#e2edf3"/>
<rect x="164.88" y="23.92" width="2.08" height="2.16" fill="#93c5de"/>
<rect x="164.88" y="26.03" width="2.08" height="2.16" fill="#d6e7f1"/>
<rect x="164.88" y="28.14" width="2.08" height="2.16" fill="#7bb7d6"/>
<rect x="164.88" y="30.24" width="2.08" height="2.16" fill="#97c7df"/>
<rect x="164.88" y="32.35" width="2.08" height="2.16" fill="#d5e7f1"/>
<rect x="164.88" y="34.46" width="2.08" height="2.16" fill="#6dadd1"/>
<rect x="164.88" y="36.56" width="2.08" height="2.16" fill="#ddeaf2"/>
<rect x="164.88" y="38.67" width="2.08" height="2.16" fill="#9ecbe1"/>
<rect x="164.88" y="40.78" width="2.08" height="2.16" fill="#f2f5f6"/>
<rect x="164.88" y="42.89" width="2.08" height="2.16" fill="#bedbea"/>
<rect x="164.88" y="44.99" width="2.08" height="2.16" fill="#e1edf3"/>
<rect x="166.91" y="17.6" width="2.08" height="2.16" fill="#9ecbe2"/>
<rect x="166.91" y="19.71" width="2.08" height="2.16" fill="#d6e7f1"/>
<rect x="166.91" y="21.81" width="2.08" height="2.16" fill="#f8f3ef"/>
<rect x="166.91" y="23.92" width="2.08" height="2.16" fill="#dbeaf2"/>
<rect x="166.91" y="26.03" width="2.08" height="2.16" fill="#65a8cf"/>
<rect x="166.91" y="28.14" width="2.08" height="2.16" fill="#e9f1f4"/>
<rect x="166.91" y="30.24" width="2.08" height="2.16" fill="#e8f0f4"/>
<rect x="166.91" y="32.35" width="2.08" height="2.16" fill="#b8d8e9"/>
<rect x="166.91" y="34.46" width="2.08" height="2.16" fill="#f7f6f5"/>
<rect x="166.91" y="36.56" width="2.08" height="2.16" fill="#b5d7e8"/>
<rect x="166.91" y="38.67" width="2.08" height="2.16" fill="#deebf2"/>
<rect x="166.91" y="40.78" width="2.08" height="2.16" fill="#f9efe9"/>
<rect x="166.91" y="42.89" width="2.08" height="2.16" fill="#faeae1"/>
<rect x="166.91" y="44.99" width="2.08" height="2.16" fill="#faebe3"/>
<rect x="168.94" y="17.6" width="2.08" height="2.16" fill="#bbdaea"/>
<rect x="168.94" y="19.71" width="2.08" height="2.16" fill="#98c8e0"/>
<rect x="168.94" y="21.81" width="2.08" height="2.16" fill="#f1f4f6"/>
<rect x="168.94" y="23.92" width="2.08" height="2.16" fill="#88bfdb"/>
<rect x="168.94" y="26.03" width="2.08" height="2.16" fill="#cce2ef"/>
<rect x="168.94" y="28.14" width="2.08" height="2.16" fill="#92c5de"/>
<rect x="168.94" y="30.24" width="2.08" height="2.16" fill="#f2f5f6"/>
<rect x="168.94" y="32.35" width="2.08" height="2.16" fill="#eaf1f5"/>
<rect x="168.94" y="34.46" width="2.08" height="2.16" fill="#e3edf3"/>
<rect x="168.94" y="36.56" width="2.08" height="2.16" fill="#e5eff4"/>
<rect x="168.94" y="38.67" width="2.08" height="2.16" fill="#e6eff4"/>
<rect x="168.94" y="40.78" width="2.08" height="2.16" fill="#dceaf2"/>
<rect x="168.94" y="42.89" width="2.08" height="2.16" fill="#f1f4f6"/>
<rect x="168.94" y="44.99" width="2.08" height="2.16" fill="#edf2f5"/>
<rect x="170.97" y="17.6" width="2.08" height="2.16" fill="#f7f7f6"/>
<rect x="170.97" y="19.71" width="2.08" height="2.16" fill="#ddebf2"/>
<rect x="170.97" y="21.81" width="2.08" height="2.16" fill="#fbd2bb"/>
<rect x="170.97" y="23.92" width="2.08" height="2.16" fill="#dfecf3"/>
<rect x="170.97" y="26.03" width="2.08" height="2.16" fill="#f9f0ea"/>
<rect x="170.97" y="28.14" width="2.08" height="2.16" fill="#f8f1ed"/>
<rect x="170.97" y="30.24" width="2.08" height="2.16" fill="#aed3e6"/>
<rect x="170.97" y="32.35" width="2.08" height="2.16" fill="#82bbd9"/>
<rect x="170.97" y="34.46" width="2.08" height="2.16" fill="#f8f3f0"/>
<rect x="170.97" y="36.56" width="2.08" height="2.16" fill="#deebf2"/>
<rect x="170.97" y="38.67" width="2.08" height="2.16" fill="#ecf2f5"/>
<rect x="170.97" y="40.78" width="2.08" height="2.16" fill="#e2edf3"/>
<rect x="170.97" y="42.89" width="2.08" height="2.16" fill="#eef3f5"/>
<rect x="170.97" y="44.99" width="2.08" height="2.16" fill="#bedbeb"/>
<rect x="172.99" y="17.6" width="2.08" height="2.16" fill="#ebf1f5"/>
<rect x="172.99" y="19.71" width="2.08" height="2.16" fill="#e0ecf3"/>
<rect x="172.99" y="21.81" width="2.08" height="2.16" fill="#eef3f5"/>
<rect x="172.99" y="23.92" width="2.08" height="2.16" fill="#63a7ce"/>
<rect x="172.99" y="26.03" width="2.08" height="2.16" fill="#f4f6f7"/>
<rect x="172.99" y="28.14" width="2.08" height="2.16" fill="#e6eff4"/>
<rect x="172.99" y="30.24" width="2.08" height="2.16" fill="#8ac0db"/>
<rect x="172.99" y="32.35" width="2.08" height="2.16" fill="#bddbea"/>
<rect x="172.99" y="34.46" width="2.08" height="2.16" fill="#dceaf2"/>
<rect x="172.99" y="36.56" width="2.08" height="2.16" fill="#f9efea"/>
<rect x="172.99" y="38.67" width="2.08" height="2.16" fill="#eef3f5"/>
<rect x="172.99" y="40.78" width="2.08" height="2.16" fill="#fcdecd"/>
<rect x="172.99" y="42.89" width="2.08" height="2.16" fill="#eff3f6"/>
<rect x="172.99" y="44.99" width="2.08" height="2.16" fill="#cfe4f0"/>
<rect x="175.02" y="17.6" width="2.08" height="2.16" fill="#dfebf3"/>
<rect x="175.02" y="19.71" width="2.08" height="2.16" fill="#fae9df"/>
<rect x="175.02" y="21.81" width="2.08" height="2.16" fill="#e1ecf3"/>
<rect x="175.02" y="23.92" width="2.08" height="2.16" fill="#f7f5f4"/>
<rect x="175.02" y="26.03" width="2.08" height="2.16" fill="#f8f1ed"/>
<rect x="175.02" y="28.14" width="2.08" height="2.16" fill="#f2f5f6"/>
<rect x="175.02" y="30.24" width="2.08" height="2.16" fill="#f8f1ed"/>
<rect x="175.02" y="32.35" width="2.08" height="2.16" fill="#dbeaf2"/>
<rect x="175.02" y="34.46" width="2.08" height="2.16" fill="#e0ecf3"/>
<rect x="175.02" y="36.56" width="2.08" height="2.16" fill="#e1edf3"/>
<rect x="175.02" y="38.67" width="2.08" height="2.16" fill="#e1ecf3"/>
<rect x="175.02" y="40.78" width="2.08" height="2.16" fill="#bbdaea"/>
<rect x="175.02" y="42.89" width="2.08" height="2.16" fill="#e2edf3"/>
<rect x="175.02" y="44.99" width="2.08" height="2.16" fill="#d3e6f0"/>
<rect x="177.05" y="17.6" width="2.08" height="2.16" fill="#cae1ee"/>
<rect x="177.05" y="19.71" width="2.08" height="2.16" fill="#f8f3f0"/>
<rect x="177.05" y="21.81" width="2.08" height="2.16" fill="#f9ece4"/>
<rect x="177.05" y="23.92" width="2.08" height="2.16" fill="#eef3f5"/>
<rect x="177.05" y="26.03" width="2.08" height="2.16" fill="#fcd5bf"/>
<rect x="177.05" y="28.14" width="2.08" height="2.16" fill="#fce1d2"/>
<rect x="177.05" y="30.24" width="2.08" height="2.16" fill="#fcdfce"/>
<rect x="177.05" y="32.35" width="2.08" height="2.16" fill="#e6eff4"/>
<rect x="177.05" y="34.46" width="2.08" height="2.16" fill="#c6e0ed"/>
<rect x="177.05" y="36.56" width="2.08" height="2.16" fill="#faeae0"/>
<rect x="177.05" y="38.67" width="2.08" height="2.16" fill="#f9efea"/>
<rect x="177.05" y="40.78" width="2.08" height="2.16" fill="#fbe6da"/>
<rect x="177.05" y="42.89" width="2.08" height="2.16" fill="#f9ede6"/>
<rect x="177.05" y="44.99" width="2.08" height="2.16" fill="#fdd9c5"/>
<rect x="179.08" y="17.6" width="2.08" height="2.16" fill="#f4f6f6"/>
<rect x="179.08" y="19.71" width="2.08" height="2.16" fill="#fbe4d6"/>
<rect x="179.08" y="21.81" width="2.08" height="2.16" fill="#e1edf3"/>
<rect x="179.08" y="23.92" width="2.08" height="2.16" fill="#a5cfe3"/>
<rect x="179.08" y="26.03" width="2.08" height="2.16" fill="#eff3f6"/>
<rect x="179.08" y="28.14" width="2.08" height="2.16" fill="#f19e7d"/>
<rect x="179.08" y="30.24" width="2.08" height="2.16" fill="#e6eff4"/>
<rect x="179.08" y="32.35" width="2.08" height="2.16" fill="#f7b496"/>
<rect x="179.08" y="34.46" width="2.08" height="2.16" fill="#f9ede6"/>
<rect x="179.08" y="36.56" width="2.08" height="2.16" fill="#fae7db"/>
<rect x="179.08" y="38.67" width="2.08" height="2.16" fill="#fdddca"/>
<rect x="179.08" y="40.78" width="2.08" height="2.16" fill="#fcd7c2"/>
<rect x="179.08" y="42.89" width="2.08" height="2.16" fill="#dfecf3"/>
<rect x="179.08" y="44.99" width="2.08" height="2.16" fill="#f9f0eb"/>
<rect x="181.11" y="17.6" width="2.08" height="2.16" fill="#fbe5d9"/>
<rect x="181.11" y="19.71" width="2.08" height="2.16" fill="#fdddca"/>
<rect x="181.11" y="21.81" width="2.08" height="2.16" fill="#ebf1f5"/>
<rect x="181.11" y="23.92" width="2.08" height="2.16" fill="#f8bfa3"/>
<rect x="181.11" y="26.03" width="2.08" height="2.16" fill="#f6b090"/>
<rect x="181.11" y="28.14" width="2.08" height="2.16" fill="#d7634f"/>
<rect x="181.11" y="30.24" width="2.08" height="2.16" fill="#f5f6f7"/>
<rect x="181.11" y="32.35" width="2.08" height="2.16" fill="#fcd2bc"/>
<rect x="181.11" y="34.46" width="2.08" height="2.16" fill="#e5eff4"/>
<rect x="181.11" y="36.56" width="2.08" height="2.16" fill="#fac9b0"/>
<rect x="181.11" y="38.67" width="2.08" height="2.16" fill="#f9c2a7"/>
<rect x="181.11" y="40.78" width="2.08" height="2.16" fill="#f8f4f2"/>
<rect x="181.11" y="42.89" width="2.08" height="2.16" fill="#d1e5f0"/>
<rect x="181.11" y="44.99" width="2.08" height="2.16" fill="#faebe3"/>
<rect x="183.13" y="17.6" width="2.08" height="2.16" fill="#fcdecc"/>
<rect x="183.13" y="19.71" width="2.08" height="2.16" fill="#eef3f5"/>
<rect x="183.13" y="21.81" width="2.08" height="2.16" fill="#f8f2ee"/>
<rect x="183.13" y="23.92" width="2.08" height="2.16" fill="#aad1e5"/>
<rect x="183.13" y="26.03" width="2.08" height="2.16" fill="#f1f4f6"/>
<rect x="183.13" y="28.14" width="2.08" height="2.16" fill="#fbcdb5"/>
<rect x="183.13" y="30.24" width="2.08" height="2.16" fill="#fbccb4"/>
<rect x="183.13" y="32.35" width="2.08" height="2.16" fill="#e8886c"/>
<rect x="183.13" y="34.46" width="2.08" height="2.16" fill="#f8f0ec"/>
<rect x="183.13" y="36.56" width="2.08" height="2.16" fill="#deebf2"/>
<rect x="183.13" y="38.67" width="2.08" height="2.16" fill="#f8bfa4"/>
<rect x="183.13" y="40.78" width="2.08" height="2.16" fill="#fbe4d7"/>
<rect x="183.13" y="42.89" width="2.08" height="2.16" fill="#fbe5d9"/>
<rect x="183.13" y="44.99" width="2.08" height="2.16" fill="#fddcc8"/>
<rect x="185.16" y="17.6" width="2.08" height="2.16" fill="#fddbc7"/>
<rect x="185.16" y="19.71" width="2.08" height="2.16" fill="#f7b698"/>
<rect x="185.16" y="21.81" width="2.08" height="2.16" fill="#f8ba9d"/>
<rect x="185.16" y="23.92" width="2.08" height="2.16" fill="#d8e8f1"/>
<rect x="185.16" y="26.03" width="2.08" height="2.16" fill="#faeae0"/>
<rect x="185.16" y="28.14" width="2.08" height="2.16" fill="#da6954"/>
<rect x="185.16" y="30.24" width="2.08" height="2.16" fill="#fddcc9"/>
<rect x="185.16" y="32.35" width="2.08" height="2.16" fill="#f3a27f"/>
<rect x="185.16" y="34.46" width="2.08" height="2.16" fill="#fbcfb7"/>
<rect x="185.16" y="36.56" width="2.08" height="2.16" fill="#fdddca"/>
<rect x="185.16" y="38.67" width="2.08" height="2.16" fill="#e48065"/>
<rect x="185.16" y="40.78" width="2.08" height="2.16" fill="#f19e7c"/>
<rect x="185.16" y="42.89" width="2.08" height="2.16" fill="#f9eee7"/>
<rect x="185.16" y="44.99" width="2.08" height="2.16" fill="#fbcdb6"/>
<rect x="187.19" y="17.6" width="2.08" height="2.16" fill="#e8f0f4"/>
<rect x="187.19" y="19.71" width="2.08" height="2.16" fill="#f7f5f4"/>
<rect x="187.19" y="21.81" width="2.08" height="2.16" fill="#fac7ad"/>
<rect x="187.19" y="23.92" width="2.08" height="2.16" fill="#fbe4d6"/>
<rect x="187.19" y="26.03" width="2.08" height="2.16" fill="#eff3f6"/>
<rect x="187.19" y="28.14" width="2.08" height="2.16" fill="#f6b293"/>
<rect x="187.19" y="30.24" width="2.08" height="2.16" fill="#f7b799"/>
<rect x="187.19" y="32.35" width="2.08" height="2.16" fill="#e7876b"/>
<rect x="187.19" y="34.46" width="2.08" height="2.16" fill="#ef9a79"/>
<rect x="187.19" y="36.56" width="2.08" height="2.16" fill="#fbd1bb"/>
<rect x="187.19" y="38.67" width="2.08" height="2.16" fill="#fddac6"/>
<rect x="187.19" y="40.78" width="2.08" height="2.16" fill="#facbb3"/>
<rect x="187.19" y="42.89" width="2.08" height="2.16" fill="#faeae1"/>
<rect x="187.19" y="44.99" width="2.08" height="2.16" fill="#f6af8e"/>
<rect x="189.22" y="17.6" width="2.08" height="2.16" fill="#f3a280"/>
<rect x="189.22" y="19.71" width="2.08" height="2.16" fill="#f5ad8c"/>
<rect x="189.22" y="21.81" width="2.08" height="2.16" fill="#fcd7c2"/>
<rect x="189.22" y="23.92" width="2.08" height="2.16" fill="#fae7db"/>
<rect x="189.22" y="26.03" width="2.08" height="2.16" fill="#f9c0a5"/>
<rect x="189.22" y="28.14" width="2.08" height="2.16" fill="#fbceb6"/>
<rect x="189.22" y="30.24" width="2.08" height="2.16" fill="#f7b496"/>
<rect x="189.22" y="32.35" width="2.08" height="2.16" fill="#f8f2ee"/>
<rect x="189.22" y="34.46" width="2.08" height="2.16" fill="#fbd1ba"/>
<rect x="189.22" y="36.56" width="2.08" height="2.16" fill="#e0765e"/>
<rect x="189.22" y="38.67" width="2.08" height="2.16" fill="#fbe3d5"/>
<rect x="189.22" y="40.78" width="2.08" height="2.16" fill="#f9eee7"/>
<rect x="189.22" y="42.89" width="2.08" height="2.16" fill="#fbe5d8"/>
<rect x="189.22" y="44.99" width="2.08" height="2.16" fill="#f19d7c"/>
<rect x="191.24" y="17.6" width="2.08" height="2.16" fill="#f2a17f"/>
<rect x="191.24" y="19.71" width="2.08" height="2.16" fill="#fbe6da"/>
<rect x="191.24" y="21.81" width="2.08" height="2.16" fill="#fae9de"/>
<rect x="191.24" y="23.92" width="2.08" height="2.16" fill="#fce0d0"/>
<rect x="191.24" y="26.03" width="2.08" height="2.16" fill="#f8f3f0"/>
<rect x="191.24" y="28.14" width="2.08" height="2.16" fill="#f7b698"/>
<rect x="191.24" y="30.24" width="2.08" height="2.16" fill="#f9c5ab"/>
<rect x="191.24" y="32.35" width="2.08" height="2.16" fill="#faeae0"/>
<rect x="191.24" y="34.46" width="2.08" height="2.16" fill="#fbd1ba"/>
<rect x="191.24" y="36.56" width="2.08" height="2.16" fill="#f9c3a8"/>
<rect x="191.24" y="38.67" width="2.08" height="2.16" fill="#fddcc9"/>
<rect x="191.24" y="40.78" width="2.08" height="2.16" fill="#fce2d3"/>
<rect x="191.24" y="42.89" width="2.08" height="2.16" fill="#f7b99c"/>
<rect x="191.24" y="44.99" width="2.08" height="2.16" fill="#e8886c"/>
<rect x="193.27" y="17.6" width="2.08" height="2.16" fill="#fce1d1"/>
<rect x="193.27" y="19.71" width="2.08" height="2.16" fill="#fbe4d6"/>
<rect x="193.27" y="21.81" width="2.08" height="2.16" fill="#f9c4aa"/>
<rect x="193.27" y="23.92" width="2.08" height="2.16" fill="#fcdfcf"/>
<rect x="193.27" y="26.03" width="2.08" height="2.16" fill="#f9ece4"/>
<rect x="193.27" y="28.14" width="2.08" height="2.16" fill="#d96853"/>
<rect x="193.27" y="30.24" width="2.08" height="2.16" fill="#fdddca"/>
<rect x="193.27" y="32.35" width="2.08" height="2.16" fill="#fbd1ba"/>
<rect x="193.27" y="34.46" width="2.08" height="2.16" fill="#fbceb6"/>
<rect x="193.27" y="36.56" width="2.08" height="2.16" fill="#fcd7c2"/>
<rect x="193.27" y="38.67" width="2.08" height="2.16" fill="#f8bb9f"/>
<rect x="193.27" y="40.78" width="2.08" height="2.16" fill="#ed9576"/>
<rect x="193.27" y="42.89" width="2.08" height="2.16" fill="#ef9979"/>
<rect x="193.27" y="44.99" width="2.08" height="2.16" fill="#f8bda1"/>
</g>
<rect x="174.5" y="41.5" width="2" height="2" fill="#b01830"/>
<rect x="186.5" y="40.5" width="2" height="2" fill="#b01830"/>
<rect x="192" y="29" width="2" height="2" fill="#b01830"/>
<circle cx="156.50" cy="19.50" r="0.75" fill="#e8d830" stroke="none" stroke-width="0.5" />
<circle cx="156.50" cy="22.70" r="0.75" fill="#5560b0" stroke="none" stroke-width="0.5" />
<circle cx="156.50" cy="25.90" r="0.75" fill="#88c040" stroke="none" stroke-width="0.5" />
<circle cx="156.50" cy="29.10" r="0.75" fill="#f0a0c0" stroke="none" stroke-width="0.5" />
<circle cx="156.50" cy="32.30" r="0.75" fill="#e8d830" stroke="none" stroke-width="0.5" />
<circle cx="156.50" cy="35.50" r="0.75" fill="#c03040" stroke="none" stroke-width="0.5" />
<circle cx="156.50" cy="38.70" r="0.75" fill="#5560b0" stroke="none" stroke-width="0.5" />
<circle cx="156.50" cy="41.90" r="0.75" fill="#88c040" stroke="none" stroke-width="0.5" />
<circle cx="156.50" cy="45.10" r="0.75" fill="#c03040" stroke="none" stroke-width="0.5" />
<circle cx="160.40" cy="10.90" r="0.85" fill="#c6399a" stroke="none" stroke-width="0.5" />
<rect x="159.55" y="11.8" width="1.7" height="3.2" fill="#c6399a" rx="0.5"/>
<rect x="159.75" y="14.6" width="1.3" height="2.4" fill="#c6399a"/>
<circle cx="162.85" cy="10.90" r="0.85" fill="#c6399a" stroke="none" stroke-width="0.5" />
<rect x="162" y="11.8" width="1.7" height="3.2" fill="#c6399a" rx="0.5"/>
<rect x="162.2" y="14.6" width="1.3" height="2.4" fill="#c6399a"/>
<circle cx="165.30" cy="10.90" r="0.85" fill="#c6399a" stroke="none" stroke-width="0.5" />
<rect x="164.45" y="11.8" width="1.7" height="3.2" fill="#c6399a" rx="0.5"/>
<rect x="164.65" y="14.6" width="1.3" height="2.4" fill="#c6399a"/>
<circle cx="167.75" cy="10.90" r="0.85" fill="#c6399a" stroke="none" stroke-width="0.5" />
<rect x="166.9" y="11.8" width="1.7" height="3.2" fill="#c6399a" rx="0.5"/>
<rect x="167.1" y="14.6" width="1.3" height="2.4" fill="#c6399a"/>
<circle cx="170.20" cy="10.90" r="0.85" fill="#c6399a" stroke="none" stroke-width="0.5" />
<rect x="169.35" y="11.8" width="1.7" height="3.2" fill="#c6399a" rx="0.5"/>
<rect x="169.55" y="14.6" width="1.3" height="2.4" fill="#c6399a"/>
<circle cx="172.65" cy="10.90" r="0.85" fill="#c6399a" stroke="none" stroke-width="0.5" />
<rect x="171.8" y="11.8" width="1.7" height="3.2" fill="#c6399a" rx="0.5"/>
<rect x="172" y="14.6" width="1.3" height="2.4" fill="#c6399a"/>
<circle cx="175.10" cy="10.90" r="0.85" fill="#c6399a" stroke="none" stroke-width="0.5" />
<rect x="174.25" y="11.8" width="1.7" height="3.2" fill="#c6399a" rx="0.5"/>
<rect x="174.45" y="14.6" width="1.3" height="2.4" fill="#c6399a"/>
<circle cx="177.55" cy="10.90" r="0.85" fill="#c6399a" stroke="none" stroke-width="0.5" />
<rect x="176.7" y="11.8" width="1.7" height="3.2" fill="#c6399a" rx="0.5"/>
<rect x="176.9" y="14.6" width="1.3" height="2.4" fill="#c6399a"/>
<circle cx="180.00" cy="10.90" r="0.85" fill="#c6399a" stroke="none" stroke-width="0.5" />
<rect x="179.15" y="11.8" width="1.7" height="3.2" fill="#c6399a" rx="0.5"/>
<rect x="179.35" y="14.6" width="1.3" height="2.4" fill="#c6399a"/>
<circle cx="182.45" cy="10.90" r="0.85" fill="#c6399a" stroke="none" stroke-width="0.5" />
<rect x="181.6" y="11.8" width="1.7" height="3.2" fill="#c6399a" rx="0.5"/>
<rect x="181.8" y="14.6" width="1.3" height="2.4" fill="#c6399a"/>
<circle cx="184.90" cy="10.90" r="0.85" fill="#c6399a" stroke="none" stroke-width="0.5" />
<rect x="184.05" y="11.8" width="1.7" height="3.2" fill="#c6399a" rx="0.5"/>
<rect x="184.25" y="14.6" width="1.3" height="2.4" fill="#c6399a"/>
<circle cx="187.35" cy="10.90" r="0.85" fill="#c6399a" stroke="none" stroke-width="0.5" />
<rect x="186.5" y="11.8" width="1.7" height="3.2" fill="#c6399a" rx="0.5"/>
<rect x="186.7" y="14.6" width="1.3" height="2.4" fill="#c6399a"/>
<circle cx="189.80" cy="10.90" r="0.85" fill="#c6399a" stroke="none" stroke-width="0.5" />
<rect x="188.95" y="11.8" width="1.7" height="3.2" fill="#c6399a" rx="0.5"/>
<rect x="189.15" y="14.6" width="1.3" height="2.4" fill="#c6399a"/>
<circle cx="192.25" cy="10.90" r="0.85" fill="#c6399a" stroke="none" stroke-width="0.5" />
<rect x="191.4" y="11.8" width="1.7" height="3.2" fill="#c6399a" rx="0.5"/>
<rect x="191.6" y="14.6" width="1.3" height="2.4" fill="#c6399a"/>
<rect x="257.3" y="23.9" width="44.5" height="44.0" rx="2.2" fill="#fff" stroke="#8a8a8a" stroke-width="0.9"/>
<g filter="url(#tblur)">
<rect x="261.6" y="31" width="2.46" height="2.59" fill="#add3e6"/>
<rect x="261.6" y="33.54" width="2.46" height="2.59" fill="#67aacf"/>
<rect x="261.6" y="36.08" width="2.46" height="2.59" fill="#a8d0e4"/>
<rect x="261.6" y="38.62" width="2.46" height="2.59" fill="#7ab6d6"/>
<rect x="261.6" y="41.17" width="2.46" height="2.59" fill="#a7cfe4"/>
<rect x="261.6" y="43.71" width="2.46" height="2.59" fill="#d6e7f1"/>
<rect x="261.6" y="46.25" width="2.46" height="2.59" fill="#b5d7e8"/>
<rect x="261.6" y="48.79" width="2.46" height="2.59" fill="#a1cde2"/>
<rect x="261.6" y="51.33" width="2.46" height="2.59" fill="#529dc8"/>
<rect x="261.6" y="53.88" width="2.46" height="2.59" fill="#7eb8d7"/>
<rect x="261.6" y="56.42" width="2.46" height="2.59" fill="#86bdda"/>
<rect x="261.6" y="58.96" width="2.46" height="2.59" fill="#4896c5"/>
<rect x="264.01" y="31" width="2.46" height="2.59" fill="#9ecbe1"/>
<rect x="264.01" y="33.54" width="2.46" height="2.59" fill="#dae9f2"/>
<rect x="264.01" y="36.08" width="2.46" height="2.59" fill="#5da3cc"/>
<rect x="264.01" y="38.62" width="2.46" height="2.59" fill="#a1cde2"/>
<rect x="264.01" y="41.17" width="2.46" height="2.59" fill="#7ab6d6"/>
<rect x="264.01" y="43.71" width="2.46" height="2.59" fill="#edf2f5"/>
<rect x="264.01" y="46.25" width="2.46" height="2.59" fill="#d2e5f0"/>
<rect x="264.01" y="48.79" width="2.46" height="2.59" fill="#cee4ef"/>
<rect x="264.01" y="51.33" width="2.46" height="2.59" fill="#a5cfe3"/>
<rect x="264.01" y="53.88" width="2.46" height="2.59" fill="#a0cce2"/>
<rect x="264.01" y="56.42" width="2.46" height="2.59" fill="#a0cce2"/>
<rect x="264.01" y="58.96" width="2.46" height="2.59" fill="#3d8bbf"/>
<rect x="266.41" y="31" width="2.46" height="2.59" fill="#cde3ef"/>
<rect x="266.41" y="33.54" width="2.46" height="2.59" fill="#d8e8f1"/>
<rect x="266.41" y="36.08" width="2.46" height="2.59" fill="#78b5d5"/>
<rect x="266.41" y="38.62" width="2.46" height="2.59" fill="#dfecf3"/>
<rect x="266.41" y="41.17" width="2.46" height="2.59" fill="#dae9f2"/>
<rect x="266.41" y="43.71" width="2.46" height="2.59" fill="#73b1d3"/>
<rect x="266.41" y="46.25" width="2.46" height="2.59" fill="#abd1e5"/>
<rect x="266.41" y="48.79" width="2.46" height="2.59" fill="#b2d5e7"/>
<rect x="266.41" y="51.33" width="2.46" height="2.59" fill="#86bdda"/>
<rect x="266.41" y="53.88" width="2.46" height="2.59" fill="#b4d6e8"/>
<rect x="266.41" y="56.42" width="2.46" height="2.59" fill="#59a1cb"/>
<rect x="266.41" y="58.96" width="2.46" height="2.59" fill="#97c7df"/>
<rect x="268.82" y="31" width="2.46" height="2.59" fill="#d4e7f1"/>
<rect x="268.82" y="33.54" width="2.46" height="2.59" fill="#e2edf3"/>
<rect x="268.82" y="36.08" width="2.46" height="2.59" fill="#cee3ef"/>
<rect x="268.82" y="38.62" width="2.46" height="2.59" fill="#c0dceb"/>
<rect x="268.82" y="41.17" width="2.46" height="2.59" fill="#e1edf3"/>
<rect x="268.82" y="43.71" width="2.46" height="2.59" fill="#64a8ce"/>
<rect x="268.82" y="46.25" width="2.46" height="2.59" fill="#e8f0f4"/>
<rect x="268.82" y="48.79" width="2.46" height="2.59" fill="#bddbea"/>
<rect x="268.82" y="51.33" width="2.46" height="2.59" fill="#6eaed2"/>
<rect x="268.82" y="53.88" width="2.46" height="2.59" fill="#9ccae1"/>
<rect x="268.82" y="56.42" width="2.46" height="2.59" fill="#4b98c6"/>
<rect x="268.82" y="58.96" width="2.46" height="2.59" fill="#4191c2"/>
<rect x="271.23" y="31" width="2.46" height="2.59" fill="#c7e0ed"/>
<rect x="271.23" y="33.54" width="2.46" height="2.59" fill="#b2d5e7"/>
<rect x="271.23" y="36.08" width="2.46" height="2.59" fill="#e9f0f4"/>
<rect x="271.23" y="38.62" width="2.46" height="2.59" fill="#add3e6"/>
<rect x="271.23" y="41.17" width="2.46" height="2.59" fill="#99c9e0"/>
<rect x="271.23" y="43.71" width="2.46" height="2.59" fill="#a9d1e5"/>
<rect x="271.23" y="46.25" width="2.46" height="2.59" fill="#f9ede5"/>
<rect x="271.23" y="48.79" width="2.46" height="2.59" fill="#d5e7f1"/>
<rect x="271.23" y="51.33" width="2.46" height="2.59" fill="#a3cde3"/>
<rect x="271.23" y="53.88" width="2.46" height="2.59" fill="#90c4dd"/>
<rect x="271.23" y="56.42" width="2.46" height="2.59" fill="#8ac0db"/>
<rect x="271.23" y="58.96" width="2.46" height="2.59" fill="#b8d8e9"/>
<rect x="273.63" y="31" width="2.46" height="2.59" fill="#e7eff4"/>
<rect x="273.63" y="33.54" width="2.46" height="2.59" fill="#f8f4f1"/>
<rect x="273.63" y="36.08" width="2.46" height="2.59" fill="#f8f4f1"/>
<rect x="273.63" y="38.62" width="2.46" height="2.59" fill="#e3edf3"/>
<rect x="273.63" y="41.17" width="2.46" height="2.59" fill="#c2ddec"/>
<rect x="273.63" y="43.71" width="2.46" height="2.59" fill="#b9d9e9"/>
<rect x="273.63" y="46.25" width="2.46" height="2.59" fill="#6cadd1"/>
<rect x="273.63" y="48.79" width="2.46" height="2.59" fill="#b1d5e7"/>
<rect x="273.63" y="51.33" width="2.46" height="2.59" fill="#dceaf2"/>
<rect x="273.63" y="53.88" width="2.46" height="2.59" fill="#bfdceb"/>
<rect x="273.63" y="56.42" width="2.46" height="2.59" fill="#dae9f2"/>
<rect x="273.63" y="58.96" width="2.46" height="2.59" fill="#8ec3dd"/>
<rect x="276.04" y="31" width="2.46" height="2.59" fill="#f8f4f2"/>
<rect x="276.04" y="33.54" width="2.46" height="2.59" fill="#eaf1f5"/>
<rect x="276.04" y="36.08" width="2.46" height="2.59" fill="#e3edf3"/>
<rect x="276.04" y="38.62" width="2.46" height="2.59" fill="#edf2f5"/>
<rect x="276.04" y="41.17" width="2.46" height="2.59" fill="#7fb9d7"/>
<rect x="276.04" y="43.71" width="2.46" height="2.59" fill="#d1e5f0"/>
<rect x="276.04" y="46.25" width="2.46" height="2.59" fill="#c2ddec"/>
<rect x="276.04" y="48.79" width="2.46" height="2.59" fill="#fce1d1"/>
<rect x="276.04" y="51.33" width="2.46" height="2.59" fill="#d4e6f0"/>
<rect x="276.04" y="53.88" width="2.46" height="2.59" fill="#c6dfed"/>
<rect x="276.04" y="56.42" width="2.46" height="2.59" fill="#f1f4f6"/>
<rect x="276.04" y="58.96" width="2.46" height="2.59" fill="#acd2e5"/>
<rect x="278.44" y="31" width="2.46" height="2.59" fill="#fbe4d7"/>
<rect x="278.44" y="33.54" width="2.46" height="2.59" fill="#d4e6f1"/>
<rect x="278.44" y="36.08" width="2.46" height="2.59" fill="#e6eff4"/>
<rect x="278.44" y="38.62" width="2.46" height="2.59" fill="#cce2ee"/>
<rect x="278.44" y="41.17" width="2.46" height="2.59" fill="#f8f1ed"/>
<rect x="278.44" y="43.71" width="2.46" height="2.59" fill="#90c4dd"/>
<rect x="278.44" y="46.25" width="2.46" height="2.59" fill="#f8f4f1"/>
<rect x="278.44" y="48.79" width="2.46" height="2.59" fill="#d0e5f0"/>
<rect x="278.44" y="51.33" width="2.46" height="2.59" fill="#e3eef3"/>
<rect x="278.44" y="53.88" width="2.46" height="2.59" fill="#b7d8e8"/>
<rect x="278.44" y="56.42" width="2.46" height="2.59" fill="#e8f0f4"/>
<rect x="278.44" y="58.96" width="2.46" height="2.59" fill="#e7f0f4"/>
<rect x="280.85" y="31" width="2.46" height="2.59" fill="#f8f1ed"/>
<rect x="280.85" y="33.54" width="2.46" height="2.59" fill="#f7f7f6"/>
<rect x="280.85" y="36.08" width="2.46" height="2.59" fill="#f8f0eb"/>
<rect x="280.85" y="38.62" width="2.46" height="2.59" fill="#fae8de"/>
<rect x="280.85" y="41.17" width="2.46" height="2.59" fill="#e3eef3"/>
<rect x="280.85" y="43.71" width="2.46" height="2.59" fill="#cae1ee"/>
<rect x="280.85" y="46.25" width="2.46" height="2.59" fill="#c5dfed"/>
<rect x="280.85" y="48.79" width="2.46" height="2.59" fill="#f9efe9"/>
<rect x="280.85" y="51.33" width="2.46" height="2.59" fill="#e0ecf3"/>
<rect x="280.85" y="53.88" width="2.46" height="2.59" fill="#faeae0"/>
<rect x="280.85" y="56.42" width="2.46" height="2.59" fill="#ecf2f5"/>
<rect x="280.85" y="58.96" width="2.46" height="2.59" fill="#cce3ef"/>
<rect x="283.26" y="31" width="2.46" height="2.59" fill="#fbe5d9"/>
<rect x="283.26" y="33.54" width="2.46" height="2.59" fill="#f9c5ab"/>
<rect x="283.26" y="36.08" width="2.46" height="2.59" fill="#f0f4f6"/>
<rect x="283.26" y="38.62" width="2.46" height="2.59" fill="#dae9f2"/>
<rect x="283.26" y="41.17" width="2.46" height="2.59" fill="#ddebf2"/>
<rect x="283.26" y="43.71" width="2.46" height="2.59" fill="#fbe6da"/>
<rect x="283.26" y="46.25" width="2.46" height="2.59" fill="#e4eef4"/>
<rect x="283.26" y="48.79" width="2.46" height="2.59" fill="#e9f1f4"/>
<rect x="283.26" y="51.33" width="2.46" height="2.59" fill="#faebe2"/>
<rect x="283.26" y="53.88" width="2.46" height="2.59" fill="#f5f6f7"/>
<rect x="283.26" y="56.42" width="2.46" height="2.59" fill="#f7f7f6"/>
<rect x="283.26" y="58.96" width="2.46" height="2.59" fill="#e5eef4"/>
<rect x="285.66" y="31" width="2.46" height="2.59" fill="#e9f1f4"/>
<rect x="285.66" y="33.54" width="2.46" height="2.59" fill="#f8f0eb"/>
<rect x="285.66" y="36.08" width="2.46" height="2.59" fill="#f8f0ec"/>
<rect x="285.66" y="38.62" width="2.46" height="2.59" fill="#fae7dc"/>
<rect x="285.66" y="41.17" width="2.46" height="2.59" fill="#edf2f5"/>
<rect x="285.66" y="43.71" width="2.46" height="2.59" fill="#f9ece5"/>
<rect x="285.66" y="46.25" width="2.46" height="2.59" fill="#faeae0"/>
<rect x="285.66" y="48.79" width="2.46" height="2.59" fill="#f8f2ee"/>
<rect x="285.66" y="51.33" width="2.46" height="2.59" fill="#fbe6da"/>
<rect x="285.66" y="53.88" width="2.46" height="2.59" fill="#fdddcb"/>
<rect x="285.66" y="56.42" width="2.46" height="2.59" fill="#f9eee8"/>
<rect x="285.66" y="58.96" width="2.46" height="2.59" fill="#f8f1ec"/>
<rect x="288.07" y="31" width="2.46" height="2.59" fill="#e6eff4"/>
<rect x="288.07" y="33.54" width="2.46" height="2.59" fill="#fae8dd"/>
<rect x="288.07" y="36.08" width="2.46" height="2.59" fill="#f8f1ec"/>
<rect x="288.07" y="38.62" width="2.46" height="2.59" fill="#f7f5f4"/>
<rect x="288.07" y="41.17" width="2.46" height="2.59" fill="#ebf1f5"/>
<rect x="288.07" y="43.71" width="2.46" height="2.59" fill="#fbe3d4"/>
<rect x="288.07" y="46.25" width="2.46" height="2.59" fill="#ee9777"/>
<rect x="288.07" y="48.79" width="2.46" height="2.59" fill="#fbe6d9"/>
<rect x="288.07" y="51.33" width="2.46" height="2.59" fill="#faeae0"/>
<rect x="288.07" y="53.88" width="2.46" height="2.59" fill="#fbe2d4"/>
<rect x="288.07" y="56.42" width="2.46" height="2.59" fill="#f6f6f7"/>
<rect x="288.07" y="58.96" width="2.46" height="2.59" fill="#faeae0"/>
<rect x="290.48" y="31" width="2.46" height="2.59" fill="#f6f6f7"/>
<rect x="290.48" y="33.54" width="2.46" height="2.59" fill="#f6f7f7"/>
<rect x="290.48" y="36.08" width="2.46" height="2.59" fill="#fbe5d8"/>
<rect x="290.48" y="38.62" width="2.46" height="2.59" fill="#fbe5d9"/>
<rect x="290.48" y="41.17" width="2.46" height="2.59" fill="#f9ece5"/>
<rect x="290.48" y="43.71" width="2.46" height="2.59" fill="#f2f5f6"/>
<rect x="290.48" y="46.25" width="2.46" height="2.59" fill="#fbe5d7"/>
<rect x="290.48" y="48.79" width="2.46" height="2.59" fill="#eaf1f5"/>
<rect x="290.48" y="51.33" width="2.46" height="2.59" fill="#fbcfb7"/>
<rect x="290.48" y="53.88" width="2.46" height="2.59" fill="#f9ece4"/>
<rect x="290.48" y="56.42" width="2.46" height="2.59" fill="#fbe5d8"/>
<rect x="290.48" y="58.96" width="2.46" height="2.59" fill="#fbceb7"/>
<rect x="292.88" y="31" width="2.46" height="2.59" fill="#fdd8c3"/>
<rect x="292.88" y="33.54" width="2.46" height="2.59" fill="#eaf1f5"/>
<rect x="292.88" y="36.08" width="2.46" height="2.59" fill="#faeae2"/>
<rect x="292.88" y="38.62" width="2.46" height="2.59" fill="#fcdecb"/>
<rect x="292.88" y="41.17" width="2.46" height="2.59" fill="#f0f4f6"/>
<rect x="292.88" y="43.71" width="2.46" height="2.59" fill="#c6e0ed"/>
<rect x="292.88" y="46.25" width="2.46" height="2.59" fill="#fae7db"/>
<rect x="292.88" y="48.79" width="2.46" height="2.59" fill="#fbe6da"/>
<rect x="292.88" y="51.33" width="2.46" height="2.59" fill="#fbd0b9"/>
<rect x="292.88" y="53.88" width="2.46" height="2.59" fill="#fddcc9"/>
<rect x="292.88" y="56.42" width="2.46" height="2.59" fill="#fddbc8"/>
<rect x="292.88" y="58.96" width="2.46" height="2.59" fill="#fcd7c2"/>
<rect x="295.29" y="31" width="2.46" height="2.59" fill="#f5ae8d"/>
<rect x="295.29" y="33.54" width="2.46" height="2.59" fill="#fbd2bb"/>
<rect x="295.29" y="36.08" width="2.46" height="2.59" fill="#fbd0b8"/>
<rect x="295.29" y="38.62" width="2.46" height="2.59" fill="#fae9de"/>
<rect x="295.29" y="41.17" width="2.46" height="2.59" fill="#f7b89a"/>
<rect x="295.29" y="43.71" width="2.46" height="2.59" fill="#fbe4d7"/>
<rect x="295.29" y="46.25" width="2.46" height="2.59" fill="#fac8ae"/>
<rect x="295.29" y="48.79" width="2.46" height="2.59" fill="#dae9f2"/>
<rect x="295.29" y="51.33" width="2.46" height="2.59" fill="#facab1"/>
<rect x="295.29" y="53.88" width="2.46" height="2.59" fill="#fcd8c3"/>
<rect x="295.29" y="56.42" width="2.46" height="2.59" fill="#fce1d1"/>
<rect x="295.29" y="58.96" width="2.46" height="2.59" fill="#f19f7d"/>
<rect x="297.69" y="31" width="2.46" height="2.59" fill="#faccb4"/>
<rect x="297.69" y="33.54" width="2.46" height="2.59" fill="#fcdfcd"/>
<rect x="297.69" y="36.08" width="2.46" height="2.59" fill="#fbe7db"/>
<rect x="297.69" y="38.62" width="2.46" height="2.59" fill="#e88a6e"/>
<rect x="297.69" y="41.17" width="2.46" height="2.59" fill="#f8bea2"/>
<rect x="297.69" y="43.71" width="2.46" height="2.59" fill="#f9c2a7"/>
<rect x="297.69" y="46.25" width="2.46" height="2.59" fill="#f9ece3"/>
<rect x="297.69" y="48.79" width="2.46" height="2.59" fill="#f4a785"/>
<rect x="297.69" y="51.33" width="2.46" height="2.59" fill="#f6b091"/>
<rect x="297.69" y="53.88" width="2.46" height="2.59" fill="#fbd2bb"/>
<rect x="297.69" y="56.42" width="2.46" height="2.59" fill="#facbb3"/>
<rect x="297.69" y="58.96" width="2.46" height="2.59" fill="#f8f3f0"/>
</g>
<circle cx="259.40" cy="33.00" r="0.75" fill="#e8d830" stroke="none" stroke-width="0.5" />
<circle cx="259.40" cy="36.20" r="0.75" fill="#5560b0" stroke="none" stroke-width="0.5" />
<circle cx="259.40" cy="39.40" r="0.75" fill="#88c040" stroke="none" stroke-width="0.5" />
<circle cx="259.40" cy="42.60" r="0.75" fill="#e8d830" stroke="none" stroke-width="0.5" />
<circle cx="259.40" cy="45.80" r="0.75" fill="#f0a0c0" stroke="none" stroke-width="0.5" />
<circle cx="259.40" cy="49.00" r="0.75" fill="#c03040" stroke="none" stroke-width="0.5" />
<circle cx="259.40" cy="52.20" r="0.75" fill="#5560b0" stroke="none" stroke-width="0.5" />
<circle cx="259.40" cy="55.40" r="0.75" fill="#c03040" stroke="none" stroke-width="0.5" />
<circle cx="259.40" cy="58.60" r="0.75" fill="#e8d830" stroke="none" stroke-width="0.5" />
<rect x="273.5" y="14.6" width="47.0" height="44.4" rx="2.2" fill="#fff" stroke="#8a8a8a" stroke-width="0.9"/>
<g filter="url(#tblur)">
<rect x="278.3" y="23.1" width="2.29" height="2.48" fill="#b5d7e8"/>
<rect x="278.3" y="25.53" width="2.29" height="2.48" fill="#4997c5"/>
<rect x="278.3" y="27.97" width="2.29" height="2.48" fill="#bfdceb"/>
<rect x="278.3" y="30.4" width="2.29" height="2.48" fill="#75b2d4"/>
<rect x="278.3" y="32.83" width="2.29" height="2.48" fill="#68abd0"/>
<rect x="278.3" y="35.27" width="2.29" height="2.48" fill="#a6cfe4"/>
<rect x="278.3" y="37.7" width="2.29" height="2.48" fill="#9dcbe1"/>
<rect x="278.3" y="40.13" width="2.29" height="2.48" fill="#4695c4"/>
<rect x="278.3" y="42.57" width="2.29" height="2.48" fill="#4190c2"/>
<rect x="278.3" y="45" width="2.29" height="2.48" fill="#6cadd1"/>
<rect x="278.3" y="47.43" width="2.29" height="2.48" fill="#3c89be"/>
<rect x="278.3" y="49.87" width="2.29" height="2.48" fill="#2a71b2"/>
<rect x="280.54" y="23.1" width="2.29" height="2.48" fill="#93c6de"/>
<rect x="280.54" y="25.53" width="2.29" height="2.48" fill="#63a7ce"/>
<rect x="280.54" y="27.97" width="2.29" height="2.48" fill="#7db8d7"/>
<rect x="280.54" y="30.4" width="2.29" height="2.48" fill="#a3cde3"/>
<rect x="280.54" y="32.83" width="2.29" height="2.48" fill="#9dcbe1"/>
<rect x="280.54" y="35.27" width="2.29" height="2.48" fill="#95c6df"/>
<rect x="280.54" y="37.7" width="2.29" height="2.48" fill="#3d8bbf"/>
<rect x="280.54" y="40.13" width="2.29" height="2.48" fill="#b3d6e7"/>
<rect x="280.54" y="42.57" width="2.29" height="2.48" fill="#509bc7"/>
<rect x="280.54" y="45" width="2.29" height="2.48" fill="#4392c3"/>
<rect x="280.54" y="47.43" width="2.29" height="2.48" fill="#68aad0"/>
<rect x="280.54" y="49.87" width="2.29" height="2.48" fill="#cfe4ef"/>
<rect x="282.79" y="23.1" width="2.29" height="2.48" fill="#5fa5cd"/>
<rect x="282.79" y="25.53" width="2.29" height="2.48" fill="#4a97c5"/>
<rect x="282.79" y="27.97" width="2.29" height="2.48" fill="#d4e7f1"/>
<rect x="282.79" y="30.4" width="2.29" height="2.48" fill="#80bad8"/>
<rect x="282.79" y="32.83" width="2.29" height="2.48" fill="#e6eff4"/>
<rect x="282.79" y="35.27" width="2.29" height="2.48" fill="#73b2d3"/>
<rect x="282.79" y="37.7" width="2.29" height="2.48" fill="#94c6df"/>
<rect x="282.79" y="40.13" width="2.29" height="2.48" fill="#d7e8f1"/>
<rect x="282.79" y="42.57" width="2.29" height="2.48" fill="#aed3e6"/>
<rect x="282.79" y="45" width="2.29" height="2.48" fill="#95c6df"/>
<rect x="282.79" y="47.43" width="2.29" height="2.48" fill="#95c7df"/>
<rect x="282.79" y="49.87" width="2.29" height="2.48" fill="#6fafd2"/>
<rect x="285.03" y="23.1" width="2.29" height="2.48" fill="#a5cee3"/>
<rect x="285.03" y="25.53" width="2.29" height="2.48" fill="#b1d5e7"/>
<rect x="285.03" y="27.97" width="2.29" height="2.48" fill="#edf2f5"/>
<rect x="285.03" y="30.4" width="2.29" height="2.48" fill="#dbeaf2"/>
<rect x="285.03" y="32.83" width="2.29" height="2.48" fill="#bddbea"/>
<rect x="285.03" y="35.27" width="2.29" height="2.48" fill="#cde3ef"/>
<rect x="285.03" y="37.7" width="2.29" height="2.48" fill="#dfecf3"/>
<rect x="285.03" y="40.13" width="2.29" height="2.48" fill="#eaf1f5"/>
<rect x="285.03" y="42.57" width="2.29" height="2.48" fill="#89bfdb"/>
<rect x="285.03" y="45" width="2.29" height="2.48" fill="#8dc2dc"/>
<rect x="285.03" y="47.43" width="2.29" height="2.48" fill="#a4cee3"/>
<rect x="285.03" y="49.87" width="2.29" height="2.48" fill="#f8f1ed"/>
<rect x="287.28" y="23.1" width="2.29" height="2.48" fill="#d5e7f1"/>
<rect x="287.28" y="25.53" width="2.29" height="2.48" fill="#f6f6f7"/>
<rect x="287.28" y="27.97" width="2.29" height="2.48" fill="#72b1d3"/>
<rect x="287.28" y="30.4" width="2.29" height="2.48" fill="#e8f0f4"/>
<rect x="287.28" y="32.83" width="2.29" height="2.48" fill="#7ab6d6"/>
<rect x="287.28" y="35.27" width="2.29" height="2.48" fill="#90c4dd"/>
<rect x="287.28" y="37.7" width="2.29" height="2.48" fill="#a8d0e4"/>
<rect x="287.28" y="40.13" width="2.29" height="2.48" fill="#c2deec"/>
<rect x="287.28" y="42.57" width="2.29" height="2.48" fill="#b1d5e7"/>
<rect x="287.28" y="45" width="2.29" height="2.48" fill="#bbdaea"/>
<rect x="287.28" y="47.43" width="2.29" height="2.48" fill="#b3d6e7"/>
<rect x="287.28" y="49.87" width="2.29" height="2.48" fill="#8fc3dd"/>
<rect x="289.52" y="23.1" width="2.29" height="2.48" fill="#facbb2"/>
<rect x="289.52" y="25.53" width="2.29" height="2.48" fill="#e2edf3"/>
<rect x="289.52" y="27.97" width="2.29" height="2.48" fill="#ebf1f5"/>
<rect x="289.52" y="30.4" width="2.29" height="2.48" fill="#fce0d0"/>
<rect x="289.52" y="32.83" width="2.29" height="2.48" fill="#f4f6f6"/>
<rect x="289.52" y="35.27" width="2.29" height="2.48" fill="#e8f0f4"/>
<rect x="289.52" y="37.7" width="2.29" height="2.48" fill="#e0ecf3"/>
<rect x="289.52" y="40.13" width="2.29" height="2.48" fill="#fbe4d6"/>
<rect x="289.52" y="42.57" width="2.29" height="2.48" fill="#7fb9d7"/>
<rect x="289.52" y="45" width="2.29" height="2.48" fill="#87beda"/>
<rect x="289.52" y="47.43" width="2.29" height="2.48" fill="#c4deec"/>
<rect x="289.52" y="49.87" width="2.29" height="2.48" fill="#4191c2"/>
<rect x="291.77" y="23.1" width="2.29" height="2.48" fill="#d1e5f0"/>
<rect x="291.77" y="25.53" width="2.29" height="2.48" fill="#fbe6d9"/>
<rect x="291.77" y="27.97" width="2.29" height="2.48" fill="#dceaf2"/>
<rect x="291.77" y="30.4" width="2.29" height="2.48" fill="#f0f3f6"/>
<rect x="291.77" y="32.83" width="2.29" height="2.48" fill="#f9f0eb"/>
<rect x="291.77" y="35.27" width="2.29" height="2.48" fill="#bddbea"/>
<rect x="291.77" y="37.7" width="2.29" height="2.48" fill="#f3f5f6"/>
<rect x="291.77" y="40.13" width="2.29" height="2.48" fill="#d6e7f1"/>
<rect x="291.77" y="42.57" width="2.29" height="2.48" fill="#b6d8e8"/>
<rect x="291.77" y="45" width="2.29" height="2.48" fill="#dbeaf2"/>
<rect x="291.77" y="47.43" width="2.29" height="2.48" fill="#e2edf3"/>
<rect x="291.77" y="49.87" width="2.29" height="2.48" fill="#d7e8f1"/>
<rect x="294.01" y="23.1" width="2.29" height="2.48" fill="#d9e9f2"/>
<rect x="294.01" y="25.53" width="2.29" height="2.48" fill="#fae7db"/>
<rect x="294.01" y="27.97" width="2.29" height="2.48" fill="#fbe2d3"/>
<rect x="294.01" y="30.4" width="2.29" height="2.48" fill="#f8f0eb"/>
<rect x="294.01" y="32.83" width="2.29" height="2.48" fill="#ebf2f5"/>
<rect x="294.01" y="35.27" width="2.29" height="2.48" fill="#cae1ee"/>
<rect x="294.01" y="37.7" width="2.29" height="2.48" fill="#d4e7f1"/>
<rect x="294.01" y="40.13" width="2.29" height="2.48" fill="#c7e0ed"/>
<rect x="294.01" y="42.57" width="2.29" height="2.48" fill="#f1f4f6"/>
<rect x="294.01" y="45" width="2.29" height="2.48" fill="#faebe2"/>
<rect x="294.01" y="47.43" width="2.29" height="2.48" fill="#faebe2"/>
<rect x="294.01" y="49.87" width="2.29" height="2.48" fill="#eaf1f5"/>
<rect x="296.26" y="23.1" width="2.29" height="2.48" fill="#e6eff4"/>
<rect x="296.26" y="25.53" width="2.29" height="2.48" fill="#f7f6f5"/>
<rect x="296.26" y="27.97" width="2.29" height="2.48" fill="#f7f7f7"/>
<rect x="296.26" y="30.4" width="2.29" height="2.48" fill="#f9ece4"/>
<rect x="296.26" y="32.83" width="2.29" height="2.48" fill="#fcd4be"/>
<rect x="296.26" y="35.27" width="2.29" height="2.48" fill="#ddebf2"/>
<rect x="296.26" y="37.7" width="2.29" height="2.48" fill="#f7b89a"/>
<rect x="296.26" y="40.13" width="2.29" height="2.48" fill="#9ac9e0"/>
<rect x="296.26" y="42.57" width="2.29" height="2.48" fill="#a7d0e4"/>
<rect x="296.26" y="45" width="2.29" height="2.48" fill="#b5d7e8"/>
<rect x="296.26" y="47.43" width="2.29" height="2.48" fill="#cfe4ef"/>
<rect x="296.26" y="49.87" width="2.29" height="2.48" fill="#e9f0f4"/>
<rect x="298.5" y="23.1" width="2.29" height="2.48" fill="#f6b394"/>
<rect x="298.5" y="25.53" width="2.29" height="2.48" fill="#e1ecf3"/>
<rect x="298.5" y="27.97" width="2.29" height="2.48" fill="#fdddca"/>
<rect x="298.5" y="30.4" width="2.29" height="2.48" fill="#ebf2f5"/>
<rect x="298.5" y="32.83" width="2.29" height="2.48" fill="#f8f3f1"/>
<rect x="298.5" y="35.27" width="2.29" height="2.48" fill="#d6e8f1"/>
<rect x="298.5" y="37.7" width="2.29" height="2.48" fill="#f5aa88"/>
<rect x="298.5" y="40.13" width="2.29" height="2.48" fill="#f6f6f7"/>
<rect x="298.5" y="42.57" width="2.29" height="2.48" fill="#e3eef3"/>
<rect x="298.5" y="45" width="2.29" height="2.48" fill="#f5aa88"/>
<rect x="298.5" y="47.43" width="2.29" height="2.48" fill="#f8f3f0"/>
<rect x="298.5" y="49.87" width="2.29" height="2.48" fill="#f9ede6"/>
<rect x="300.74" y="23.1" width="2.29" height="2.48" fill="#f7f7f7"/>
<rect x="300.74" y="25.53" width="2.29" height="2.48" fill="#e1ecf3"/>
<rect x="300.74" y="27.97" width="2.29" height="2.48" fill="#cbe2ee"/>
<rect x="300.74" y="30.4" width="2.29" height="2.48" fill="#f6f6f7"/>
<rect x="300.74" y="32.83" width="2.29" height="2.48" fill="#f9c2a6"/>
<rect x="300.74" y="35.27" width="2.29" height="2.48" fill="#faeae1"/>
<rect x="300.74" y="37.7" width="2.29" height="2.48" fill="#f6f6f7"/>
<rect x="300.74" y="40.13" width="2.29" height="2.48" fill="#fddbc7"/>
<rect x="300.74" y="42.57" width="2.29" height="2.48" fill="#e0ecf3"/>
<rect x="300.74" y="45" width="2.29" height="2.48" fill="#fac9b1"/>
<rect x="300.74" y="47.43" width="2.29" height="2.48" fill="#f8f3f0"/>
<rect x="300.74" y="49.87" width="2.29" height="2.48" fill="#e3edf3"/>
<rect x="302.99" y="23.1" width="2.29" height="2.48" fill="#fddac6"/>
<rect x="302.99" y="25.53" width="2.29" height="2.48" fill="#fcdecd"/>
<rect x="302.99" y="27.97" width="2.29" height="2.48" fill="#f8f3f0"/>
<rect x="302.99" y="30.4" width="2.29" height="2.48" fill="#fbe5d9"/>
<rect x="302.99" y="32.83" width="2.29" height="2.48" fill="#fbcdb4"/>
<rect x="302.99" y="35.27" width="2.29" height="2.48" fill="#f7b99c"/>
<rect x="302.99" y="37.7" width="2.29" height="2.48" fill="#edf2f5"/>
<rect x="302.99" y="40.13" width="2.29" height="2.48" fill="#a0cce2"/>
<rect x="302.99" y="42.57" width="2.29" height="2.48" fill="#e88a6d"/>
<rect x="302.99" y="45" width="2.29" height="2.48" fill="#faebe2"/>
<rect x="302.99" y="47.43" width="2.29" height="2.48" fill="#f9eee8"/>
<rect x="302.99" y="49.87" width="2.29" height="2.48" fill="#fdd9c5"/>
<rect x="305.23" y="23.1" width="2.29" height="2.48" fill="#f9eee8"/>
<rect x="305.23" y="25.53" width="2.29" height="2.48" fill="#f8bea1"/>
<rect x="305.23" y="27.97" width="2.29" height="2.48" fill="#e8f0f4"/>
<rect x="305.23" y="30.4" width="2.29" height="2.48" fill="#fae9df"/>
<rect x="305.23" y="32.83" width="2.29" height="2.48" fill="#e8f0f4"/>
<rect x="305.23" y="35.27" width="2.29" height="2.48" fill="#f4a885"/>
<rect x="305.23" y="37.7" width="2.29" height="2.48" fill="#faeae1"/>
<rect x="305.23" y="40.13" width="2.29" height="2.48" fill="#f8bb9e"/>
<rect x="305.23" y="42.57" width="2.29" height="2.48" fill="#ef9979"/>
<rect x="305.23" y="45" width="2.29" height="2.48" fill="#f7f7f7"/>
<rect x="305.23" y="47.43" width="2.29" height="2.48" fill="#fce0d0"/>
<rect x="305.23" y="49.87" width="2.29" height="2.48" fill="#f8ba9d"/>
<rect x="307.48" y="23.1" width="2.29" height="2.48" fill="#fdddca"/>
<rect x="307.48" y="25.53" width="2.29" height="2.48" fill="#fce1d2"/>
<rect x="307.48" y="27.97" width="2.29" height="2.48" fill="#f8bb9e"/>
<rect x="307.48" y="30.4" width="2.29" height="2.48" fill="#f7b79a"/>
<rect x="307.48" y="32.83" width="2.29" height="2.48" fill="#f9ece4"/>
<rect x="307.48" y="35.27" width="2.29" height="2.48" fill="#fce1d2"/>
<rect x="307.48" y="37.7" width="2.29" height="2.48" fill="#f9c4a9"/>
<rect x="307.48" y="40.13" width="2.29" height="2.48" fill="#fcd7c2"/>
<rect x="307.48" y="42.57" width="2.29" height="2.48" fill="#f9c3a8"/>
<rect x="307.48" y="45" width="2.29" height="2.48" fill="#f9ece4"/>
<rect x="307.48" y="47.43" width="2.29" height="2.48" fill="#dc6d57"/>
<rect x="307.48" y="49.87" width="2.29" height="2.48" fill="#fcd3bd"/>
<rect x="309.72" y="23.1" width="2.29" height="2.48" fill="#fac9b0"/>
<rect x="309.72" y="25.53" width="2.29" height="2.48" fill="#fcd7c1"/>
<rect x="309.72" y="27.97" width="2.29" height="2.48" fill="#fcd2bc"/>
<rect x="309.72" y="30.4" width="2.29" height="2.48" fill="#fbceb7"/>
<rect x="309.72" y="32.83" width="2.29" height="2.48" fill="#f9ece3"/>
<rect x="309.72" y="35.27" width="2.29" height="2.48" fill="#f9c4a9"/>
<rect x="309.72" y="37.7" width="2.29" height="2.48" fill="#f09c7b"/>
<rect x="309.72" y="40.13" width="2.29" height="2.48" fill="#f9c3a8"/>
<rect x="309.72" y="42.57" width="2.29" height="2.48" fill="#ec9273"/>
<rect x="309.72" y="45" width="2.29" height="2.48" fill="#f2a07e"/>
<rect x="309.72" y="47.43" width="2.29" height="2.48" fill="#f7b697"/>
<rect x="309.72" y="49.87" width="2.29" height="2.48" fill="#cf5246"/>
<rect x="311.97" y="23.1" width="2.29" height="2.48" fill="#fce2d3"/>
<rect x="311.97" y="25.53" width="2.29" height="2.48" fill="#f7b79a"/>
<rect x="311.97" y="27.97" width="2.29" height="2.48" fill="#ee9777"/>
<rect x="311.97" y="30.4" width="2.29" height="2.48" fill="#f8bc9f"/>
<rect x="311.97" y="32.83" width="2.29" height="2.48" fill="#faebe2"/>
<rect x="311.97" y="35.27" width="2.29" height="2.48" fill="#faebe3"/>
<rect x="311.97" y="37.7" width="2.29" height="2.48" fill="#e0785f"/>
<rect x="311.97" y="40.13" width="2.29" height="2.48" fill="#fae8de"/>
<rect x="311.97" y="42.57" width="2.29" height="2.48" fill="#f4a482"/>
<rect x="311.97" y="45" width="2.29" height="2.48" fill="#e6856a"/>
<rect x="311.97" y="47.43" width="2.29" height="2.48" fill="#f2a07e"/>
<rect x="311.97" y="49.87" width="2.29" height="2.48" fill="#fae9df"/>
<rect x="314.21" y="23.1" width="2.29" height="2.48" fill="#f5f6f7"/>
<rect x="314.21" y="25.53" width="2.29" height="2.48" fill="#f9c2a7"/>
<rect x="314.21" y="27.97" width="2.29" height="2.48" fill="#fcdecc"/>
<rect x="314.21" y="30.4" width="2.29" height="2.48" fill="#fac9b0"/>
<rect x="314.21" y="32.83" width="2.29" height="2.48" fill="#f7b99b"/>
<rect x="314.21" y="35.27" width="2.29" height="2.48" fill="#f7b697"/>
<rect x="314.21" y="37.7" width="2.29" height="2.48" fill="#faebe2"/>
<rect x="314.21" y="40.13" width="2.29" height="2.48" fill="#f8f3f0"/>
<rect x="314.21" y="42.57" width="2.29" height="2.48" fill="#d15749"/>
<rect x="314.21" y="45" width="2.29" height="2.48" fill="#f6b090"/>
<rect x="314.21" y="47.43" width="2.29" height="2.48" fill="#fac8af"/>
<rect x="314.21" y="49.87" width="2.29" height="2.48" fill="#fbe5d8"/>
<rect x="316.46" y="23.1" width="2.29" height="2.48" fill="#ed9576"/>
<rect x="316.46" y="25.53" width="2.29" height="2.48" fill="#fbe3d5"/>
<rect x="316.46" y="27.97" width="2.29" height="2.48" fill="#fcdecc"/>
<rect x="316.46" y="30.4" width="2.29" height="2.48" fill="#eb9072"/>
<rect x="316.46" y="32.83" width="2.29" height="2.48" fill="#f3a380"/>
<rect x="316.46" y="35.27" width="2.29" height="2.48" fill="#ec9475"/>
<rect x="316.46" y="37.7" width="2.29" height="2.48" fill="#fbe3d5"/>
<rect x="316.46" y="40.13" width="2.29" height="2.48" fill="#dfebf3"/>
<rect x="316.46" y="42.57" width="2.29" height="2.48" fill="#f5ae8d"/>
<rect x="316.46" y="45" width="2.29" height="2.48" fill="#e8896c"/>
<rect x="316.46" y="47.43" width="2.29" height="2.48" fill="#f19e7c"/>
<rect x="316.46" y="49.87" width="2.29" height="2.48" fill="#c7423f"/>
</g>
<circle cx="276.40" cy="25.00" r="0.75" fill="#e8d830" stroke="none" stroke-width="0.5" />
<circle cx="276.40" cy="28.10" r="0.75" fill="#5560b0" stroke="none" stroke-width="0.5" />
<circle cx="276.40" cy="31.20" r="0.75" fill="#88c040" stroke="none" stroke-width="0.5" />
<circle cx="276.40" cy="34.30" r="0.75" fill="#e8d830" stroke="none" stroke-width="0.5" />
<circle cx="276.40" cy="37.40" r="0.75" fill="#f0a0c0" stroke="none" stroke-width="0.5" />
<circle cx="276.40" cy="40.50" r="0.75" fill="#c03040" stroke="none" stroke-width="0.5" />
<circle cx="276.40" cy="43.60" r="0.75" fill="#5560b0" stroke="none" stroke-width="0.5" />
<circle cx="276.40" cy="46.70" r="0.75" fill="#c03040" stroke="none" stroke-width="0.5" />
<circle cx="276.40" cy="49.80" r="0.75" fill="#e8d830" stroke="none" stroke-width="0.5" />
<polyline points="281,22.2 281,20.2 296,20.2 296,22.2" fill="none" stroke="#bbb" stroke-width="0.4"/>
<polyline points="296,22.8 296,20.8 314,20.8 314,22.8" fill="none" stroke="#bbb" stroke-width="0.4"/>
<polyline points="288,21.2 288,19.2 305,19.2 305,21.2" fill="none" stroke="#bbb" stroke-width="0.4"/>
<rect x="278.3" y="53" width="4.5" height="3.6" fill="#0b2c5e"/>
<rect x="282.8" y="53" width="4.5" height="3.6" fill="#2a64a8"/>
<rect x="287.3" y="53" width="6" height="3.6" fill="#6aa6d4"/>
<rect x="293.3" y="53" width="6" height="3.6" fill="#d8e8f2"/>
<rect x="299.3" y="53" width="6" height="3.6" fill="#fde0cc"/>
<rect x="305.3" y="53" width="5" height="3.6" fill="#e08870"/>
<rect x="310.3" y="53" width="4.5" height="3.6" fill="#c03a3a"/>
<rect x="314.8" y="53" width="4.4" height="3.6" fill="#6a0a20"/>
<text x="286.50" y="56.00" font-size="3" text-anchor="start" fill="#fff" stroke="#fff" stroke-width="0.18" >1</text>
<text x="306.00" y="56.00" font-size="3" text-anchor="start" fill="#333" stroke="#333" stroke-width="0.18" >4</text>
<rect x="261.6" y="62.8" width="4.2" height="3" fill="#0b2c5e"/>
<rect x="265.8" y="62.8" width="4.2" height="3" fill="#2a64a8"/>
<rect x="270" y="62.8" width="5.5" height="3" fill="#6aa6d4"/>
<rect x="275.5" y="62.8" width="5.5" height="3" fill="#d8e8f2"/>
<rect x="281" y="62.8" width="5.5" height="3" fill="#fde0cc"/>
<rect x="286.5" y="62.8" width="4.5" height="3" fill="#e08870"/>
<rect x="291" y="62.8" width="4.5" height="3" fill="#c03a3a"/>
<rect x="295.5" y="62.8" width="4.6" height="3" fill="#6a0a20"/>
<text x="289.00" y="76.20" font-size="7.2" text-anchor="middle" fill="#222" stroke="#222" stroke-width="0.18" >Immunophenotypes</text>
<text x="169.50" y="68.80" font-size="7.3" text-anchor="middle" fill="#222" stroke="#222" stroke-width="0.18" >Tumor cohort</text>
<text x="170.35" y="75.90" font-size="7.3" text-anchor="middle" fill="#222" stroke="#222" stroke-width="0.18" >infiltration pattern</text>
<text x="0.20" y="99.20" font-size="13.2" text-anchor="start" fill="#111" font-weight="bold" >B</text>
<text x="17.20" y="101.50" font-size="5.75" text-anchor="start" fill="#222" stroke="#222" stroke-width="0.18" >GSVA score</text>
<defs><linearGradient id="gsva" x1="0" x2="1" y1="0" y2="0"><stop offset="0" stop-color="#0b2559"/><stop offset="0.15" stop-color="#1f5fa8"/><stop offset="0.32" stop-color="#79b2de"/><stop offset="0.5" stop-color="#f7f7f7"/><stop offset="0.68" stop-color="#f39a94"/><stop offset="0.85" stop-color="#c8282e"/><stop offset="1" stop-color="#4a0010"/></linearGradient></defs>
<rect x="19.8" y="103.6" width="25.8" height="4.6" fill="url(#gsva)"/>
<text x="18.00" y="113.40" font-size="5.6" text-anchor="start" fill="#222" stroke="#222" stroke-width="0.18" >-1</text>
<text x="40.30" y="113.40" font-size="5.6" text-anchor="start" fill="#222" stroke="#222" stroke-width="0.18" >+1</text>
<defs><filter id="hblur" x="0" y="0" width="1" height="1"><feGaussianBlur stdDeviation="0.35"/></filter></defs>
<text x="51.40" y="123.72" font-size="5.75" text-anchor="end" fill="#222" stroke="#222" stroke-width="0.18" >Tem</text>
<text x="51.40" y="130.18" font-size="5.75" text-anchor="end" fill="#222" stroke="#222" stroke-width="0.18" >B cells</text>
<text x="51.40" y="136.62" font-size="5.75" text-anchor="end" fill="#222" stroke="#222" stroke-width="0.18" >Tgd</text>
<text x="51.40" y="143.07" font-size="5.75" text-anchor="end" fill="#222" stroke="#222" stroke-width="0.18" >iDC</text>
<text x="51.40" y="149.53" font-size="5.75" text-anchor="end" fill="#222" stroke="#222" stroke-width="0.18" >Macrophages</text>
<text x="51.40" y="155.97" font-size="5.75" text-anchor="end" fill="#222" stroke="#222" stroke-width="0.18" >Treg</text>
<text x="51.40" y="162.42" font-size="5.75" text-anchor="end" fill="#222" stroke="#222" stroke-width="0.18" >Neutrophils</text>
<text x="51.40" y="168.88" font-size="5.75" text-anchor="end" fill="#222" stroke="#222" stroke-width="0.18" >CD8+ T</text>
<text x="51.40" y="175.32" font-size="5.75" text-anchor="end" fill="#222" stroke="#222" stroke-width="0.18" >NKdim</text>
<text x="51.40" y="181.78" font-size="5.75" text-anchor="end" fill="#222" stroke="#222" stroke-width="0.18" >aDC</text>
<text x="51.40" y="188.22" font-size="5.75" text-anchor="end" fill="#222" stroke="#222" stroke-width="0.18" >Eosinophils</text>
<text x="51.40" y="194.67" font-size="5.75" text-anchor="end" fill="#222" stroke="#222" stroke-width="0.18" >Tfh</text>
<text x="51.40" y="201.12" font-size="5.75" text-anchor="end" fill="#222" stroke="#222" stroke-width="0.18" >NKbright</text>
<text x="51.40" y="207.58" font-size="5.75" text-anchor="end" fill="#222" stroke="#222" stroke-width="0.18" >Mast cells</text>
<text x="51.40" y="214.03" font-size="5.75" text-anchor="end" fill="#222" stroke="#222" stroke-width="0.18" >Tcm</text>
<text x="51.40" y="220.47" font-size="5.75" text-anchor="end" fill="#222" stroke="#222" stroke-width="0.18" >Th</text>
<text x="51.40" y="227.50" font-size="5.75" text-anchor="end" fill="#222" stroke="#222" stroke-width="0.18" >Cytotoxic cells</text>
<text x="51.40" y="238.60" font-size="5.75" text-anchor="end" fill="#222" stroke="#222" stroke-width="0.18" >Immunophenotype</text>
<g filter="url(#hblur)">
<rect x="53.3" y="117.5" width="1.56" height="6.51" fill="#9ac9e0"/>
<rect x="53.3" y="123.95" width="1.56" height="6.51" fill="#72b0d3"/>
<rect x="53.3" y="130.4" width="1.56" height="6.51" fill="#8ec2dd"/>
<rect x="53.3" y="136.85" width="1.56" height="6.51" fill="#e2edf3"/>
<rect x="53.3" y="143.3" width="1.56" height="6.51" fill="#5fa4cc"/>
<rect x="53.3" y="149.75" width="1.56" height="6.51" fill="#9ac9e0"/>
<rect x="53.3" y="156.2" width="1.56" height="6.51" fill="#cee3ef"/>
<rect x="53.3" y="162.65" width="1.56" height="6.51" fill="#8ec3dd"/>
<rect x="53.3" y="169.1" width="1.56" height="6.51" fill="#a6cfe4"/>
<rect x="53.3" y="175.55" width="1.56" height="6.51" fill="#61a6cd"/>
<rect x="53.3" y="182" width="1.56" height="6.51" fill="#fbd0b9"/>
<rect x="53.3" y="188.45" width="1.56" height="6.51" fill="#f8f4f1"/>
<rect x="53.3" y="194.9" width="1.56" height="6.51" fill="#d8e8f1"/>
<rect x="53.3" y="201.35" width="1.56" height="6.51" fill="#d8e8f1"/>
<rect x="53.3" y="207.8" width="1.56" height="6.51" fill="#fbe5d8"/>
<rect x="53.3" y="214.25" width="1.56" height="6.51" fill="#e6eff4"/>
<rect x="53.3" y="223.1" width="1.56" height="6.4" fill="#3e8cc0"/>
<rect x="54.8" y="117.5" width="1.86" height="6.51" fill="#afd4e6"/>
<rect x="54.8" y="123.95" width="1.86" height="6.51" fill="#72b1d3"/>
<rect x="54.8" y="130.4" width="1.86" height="6.51" fill="#97c8df"/>
<rect x="54.8" y="136.85" width="1.86" height="6.51" fill="#7eb8d7"/>
<rect x="54.8" y="143.3" width="1.86" height="6.51" fill="#aad1e5"/>
<rect x="54.8" y="149.75" width="1.86" height="6.51" fill="#9bc9e1"/>
<rect x="54.8" y="156.2" width="1.86" height="6.51" fill="#add3e6"/>
<rect x="54.8" y="162.65" width="1.86" height="6.51" fill="#d2e6f0"/>
<rect x="54.8" y="169.1" width="1.86" height="6.51" fill="#3884bc"/>
<rect x="54.8" y="175.55" width="1.86" height="6.51" fill="#2f78b5"/>
<rect x="54.8" y="182" width="1.86" height="6.51" fill="#bedbeb"/>
<rect x="54.8" y="188.45" width="1.86" height="6.51" fill="#b5d7e8"/>
<rect x="54.8" y="194.9" width="1.86" height="6.51" fill="#d9e9f1"/>
<rect x="54.8" y="201.35" width="1.86" height="6.51" fill="#d3e6f0"/>
<rect x="54.8" y="207.8" width="1.86" height="6.51" fill="#aed3e6"/>
<rect x="54.8" y="214.25" width="1.86" height="6.51" fill="#f3f5f6"/>
<rect x="54.8" y="223.1" width="1.86" height="6.4" fill="#2a71b2"/>
<rect x="56.6" y="117.5" width="1.56" height="6.51" fill="#87beda"/>
<rect x="56.6" y="123.95" width="1.56" height="6.51" fill="#3d8bbf"/>
<rect x="56.6" y="130.4" width="1.56" height="6.51" fill="#6aacd0"/>
<rect x="56.6" y="136.85" width="1.56" height="6.51" fill="#b5d7e8"/>
<rect x="56.6" y="143.3" width="1.56" height="6.51" fill="#569fc9"/>
<rect x="56.6" y="149.75" width="1.56" height="6.51" fill="#9ecbe1"/>
<rect x="56.6" y="156.2" width="1.56" height="6.51" fill="#9bc9e1"/>
<rect x="56.6" y="162.65" width="1.56" height="6.51" fill="#317bb7"/>
<rect x="56.6" y="169.1" width="1.56" height="6.51" fill="#89c0db"/>
<rect x="56.6" y="175.55" width="1.56" height="6.51" fill="#89bfdb"/>
<rect x="56.6" y="182" width="1.56" height="6.51" fill="#d8e8f1"/>
<rect x="56.6" y="188.45" width="1.56" height="6.51" fill="#c2ddec"/>
<rect x="56.6" y="194.9" width="1.56" height="6.51" fill="#a9d1e5"/>
<rect x="56.6" y="201.35" width="1.56" height="6.51" fill="#edf2f5"/>
<rect x="56.6" y="207.8" width="1.56" height="6.51" fill="#a4cee3"/>
<rect x="56.6" y="214.25" width="1.56" height="6.51" fill="#b2d5e7"/>
<rect x="56.6" y="223.1" width="1.56" height="6.4" fill="#1a5899"/>
<rect x="58.1" y="117.5" width="1.56" height="6.51" fill="#79b5d6"/>
<rect x="58.1" y="123.95" width="1.56" height="6.51" fill="#9ac9e0"/>
<rect x="58.1" y="130.4" width="1.56" height="6.51" fill="#4796c4"/>
<rect x="58.1" y="136.85" width="1.56" height="6.51" fill="#96c7df"/>
<rect x="58.1" y="143.3" width="1.56" height="6.51" fill="#81bad8"/>
<rect x="58.1" y="149.75" width="1.56" height="6.51" fill="#6cadd1"/>
<rect x="58.1" y="156.2" width="1.56" height="6.51" fill="#d7e8f1"/>
<rect x="58.1" y="162.65" width="1.56" height="6.51" fill="#7fb9d8"/>
<rect x="58.1" y="169.1" width="1.56" height="6.51" fill="#acd2e5"/>
<rect x="58.1" y="175.55" width="1.56" height="6.51" fill="#2f78b5"/>
<rect x="58.1" y="182" width="1.56" height="6.51" fill="#add3e6"/>
<rect x="58.1" y="188.45" width="1.56" height="6.51" fill="#f9ece5"/>
<rect x="58.1" y="194.9" width="1.56" height="6.51" fill="#d8e8f1"/>
<rect x="58.1" y="201.35" width="1.56" height="6.51" fill="#b6d7e8"/>
<rect x="58.1" y="207.8" width="1.56" height="6.51" fill="#eff3f6"/>
<rect x="58.1" y="214.25" width="1.56" height="6.51" fill="#c4deec"/>
<rect x="58.1" y="223.1" width="1.56" height="6.4" fill="#307ab6"/>
<rect x="59.6" y="117.5" width="1.86" height="6.51" fill="#75b3d4"/>
<rect x="59.6" y="123.95" width="1.86" height="6.51" fill="#63a7ce"/>
<rect x="59.6" y="130.4" width="1.86" height="6.51" fill="#90c3dd"/>
<rect x="59.6" y="136.85" width="1.86" height="6.51" fill="#8fc3dd"/>
<rect x="59.6" y="143.3" width="1.86" height="6.51" fill="#62a7ce"/>
<rect x="59.6" y="149.75" width="1.86" height="6.51" fill="#95c7df"/>
<rect x="59.6" y="156.2" width="1.86" height="6.51" fill="#ddebf2"/>
<rect x="59.6" y="162.65" width="1.86" height="6.51" fill="#3682ba"/>
<rect x="59.6" y="169.1" width="1.86" height="6.51" fill="#a3cee3"/>
<rect x="59.6" y="175.55" width="1.86" height="6.51" fill="#63a8ce"/>
<rect x="59.6" y="182" width="1.86" height="6.51" fill="#e9f0f4"/>
<rect x="59.6" y="188.45" width="1.86" height="6.51" fill="#eff3f6"/>
<rect x="59.6" y="194.9" width="1.86" height="6.51" fill="#ecf2f5"/>
<rect x="59.6" y="201.35" width="1.86" height="6.51" fill="#cde3ef"/>
<rect x="59.6" y="207.8" width="1.86" height="6.51" fill="#9fcbe2"/>
<rect x="59.6" y="214.25" width="1.86" height="6.51" fill="#f5f6f7"/>
<rect x="59.6" y="223.1" width="1.86" height="6.4" fill="#89c0db"/>
<rect x="61.4" y="117.5" width="1.86" height="6.51" fill="#3784bb"/>
<rect x="61.4" y="123.95" width="1.86" height="6.51" fill="#60a5cd"/>
<rect x="61.4" y="130.4" width="1.86" height="6.51" fill="#519cc8"/>
<rect x="61.4" y="136.85" width="1.86" height="6.51" fill="#86bdda"/>
<rect x="61.4" y="143.3" width="1.86" height="6.51" fill="#408fc1"/>
<rect x="61.4" y="149.75" width="1.86" height="6.51" fill="#2f78b5"/>
<rect x="61.4" y="156.2" width="1.86" height="6.51" fill="#9ccae1"/>
<rect x="61.4" y="162.65" width="1.86" height="6.51" fill="#add2e6"/>
<rect x="61.4" y="169.1" width="1.86" height="6.51" fill="#408fc1"/>
<rect x="61.4" y="175.55" width="1.86" height="6.51" fill="#2f78b5"/>
<rect x="61.4" y="182" width="1.86" height="6.51" fill="#f7f7f7"/>
<rect x="61.4" y="188.45" width="1.86" height="6.51" fill="#add3e6"/>
<rect x="61.4" y="194.9" width="1.86" height="6.51" fill="#e3edf3"/>
<rect x="61.4" y="201.35" width="1.86" height="6.51" fill="#509bc7"/>
<rect x="61.4" y="207.8" width="1.86" height="6.51" fill="#9ac9e0"/>
<rect x="61.4" y="214.25" width="1.86" height="6.51" fill="#dceaf2"/>
<rect x="61.4" y="223.1" width="1.86" height="6.4" fill="#2065ab"/>
<rect x="63.2" y="117.5" width="1.16" height="6.51" fill="#98c8e0"/>
<rect x="63.2" y="123.95" width="1.16" height="6.51" fill="#9ecbe1"/>
<rect x="63.2" y="130.4" width="1.16" height="6.51" fill="#dbeaf2"/>
<rect x="63.2" y="136.85" width="1.16" height="6.51" fill="#cee4ef"/>
<rect x="63.2" y="143.3" width="1.16" height="6.51" fill="#c4dfec"/>
<rect x="63.2" y="149.75" width="1.16" height="6.51" fill="#61a6cd"/>
<rect x="63.2" y="156.2" width="1.16" height="6.51" fill="#d4e6f1"/>
<rect x="63.2" y="162.65" width="1.16" height="6.51" fill="#61a6cd"/>
<rect x="63.2" y="169.1" width="1.16" height="6.51" fill="#bcdaea"/>
<rect x="63.2" y="175.55" width="1.16" height="6.51" fill="#acd2e5"/>
<rect x="63.2" y="182" width="1.16" height="6.51" fill="#b1d4e7"/>
<rect x="63.2" y="188.45" width="1.16" height="6.51" fill="#dbeaf2"/>
<rect x="63.2" y="194.9" width="1.16" height="6.51" fill="#f8f4f1"/>
<rect x="63.2" y="201.35" width="1.16" height="6.51" fill="#fdd9c5"/>
<rect x="63.2" y="207.8" width="1.16" height="6.51" fill="#deebf2"/>
<rect x="63.2" y="214.25" width="1.16" height="6.51" fill="#fbe4d7"/>
<rect x="63.2" y="223.1" width="1.16" height="6.4" fill="#4393c3"/>
<rect x="64.3" y="117.5" width="1.16" height="6.51" fill="#4190c1"/>
<rect x="64.3" y="123.95" width="1.16" height="6.51" fill="#3a87bd"/>
<rect x="64.3" y="130.4" width="1.16" height="6.51" fill="#5ca3cb"/>
<rect x="64.3" y="136.85" width="1.16" height="6.51" fill="#b1d5e7"/>
<rect x="64.3" y="143.3" width="1.16" height="6.51" fill="#84bcd9"/>
<rect x="64.3" y="149.75" width="1.16" height="6.51" fill="#b8d8e9"/>
<rect x="64.3" y="156.2" width="1.16" height="6.51" fill="#78b5d5"/>
<rect x="64.3" y="162.65" width="1.16" height="6.51" fill="#4393c3"/>
<rect x="64.3" y="169.1" width="1.16" height="6.51" fill="#8fc3dd"/>
<rect x="64.3" y="175.55" width="1.16" height="6.51" fill="#549ec9"/>
<rect x="64.3" y="182" width="1.16" height="6.51" fill="#e5eef4"/>
<rect x="64.3" y="188.45" width="1.16" height="6.51" fill="#67aacf"/>
<rect x="64.3" y="194.9" width="1.16" height="6.51" fill="#ddeaf2"/>
<rect x="64.3" y="201.35" width="1.16" height="6.51" fill="#7ab6d6"/>
<rect x="64.3" y="207.8" width="1.16" height="6.51" fill="#3d8bbf"/>
<rect x="64.3" y="214.25" width="1.16" height="6.51" fill="#e6eff4"/>
<rect x="64.3" y="223.1" width="1.16" height="6.4" fill="#337db8"/>
<rect x="65.4" y="117.5" width="1.86" height="6.51" fill="#c5dfed"/>
<rect x="65.4" y="123.95" width="1.86" height="6.51" fill="#6eaed2"/>
<rect x="65.4" y="130.4" width="1.86" height="6.51" fill="#a8d0e4"/>
<rect x="65.4" y="136.85" width="1.86" height="6.51" fill="#71b0d3"/>
<rect x="65.4" y="143.3" width="1.86" height="6.51" fill="#9fcce2"/>
<rect x="65.4" y="149.75" width="1.86" height="6.51" fill="#a2cde3"/>
<rect x="65.4" y="156.2" width="1.86" height="6.51" fill="#c4deec"/>
<rect x="65.4" y="162.65" width="1.86" height="6.51" fill="#4a98c5"/>
<rect x="65.4" y="169.1" width="1.86" height="6.51" fill="#ddeaf2"/>
<rect x="65.4" y="175.55" width="1.86" height="6.51" fill="#2f78b5"/>
<rect x="65.4" y="182" width="1.86" height="6.51" fill="#f2f5f6"/>
<rect x="65.4" y="188.45" width="1.86" height="6.51" fill="#dceaf2"/>
<rect x="65.4" y="194.9" width="1.86" height="6.51" fill="#d1e5f0"/>
<rect x="65.4" y="201.35" width="1.86" height="6.51" fill="#ebf1f5"/>
<rect x="65.4" y="207.8" width="1.86" height="6.51" fill="#519cc8"/>
<rect x="65.4" y="214.25" width="1.86" height="6.51" fill="#fbe2d4"/>
<rect x="65.4" y="223.1" width="1.86" height="6.4" fill="#69abd0"/>
<rect x="67.2" y="117.5" width="1.56" height="6.51" fill="#5aa2cb"/>
<rect x="67.2" y="123.95" width="1.56" height="6.51" fill="#2f78b5"/>
<rect x="67.2" y="130.4" width="1.56" height="6.51" fill="#a1cde2"/>
<rect x="67.2" y="136.85" width="1.56" height="6.51" fill="#d3e6f0"/>
<rect x="67.2" y="143.3" width="1.56" height="6.51" fill="#5aa2cb"/>
<rect x="67.2" y="149.75" width="1.56" height="6.51" fill="#2f78b5"/>
<rect x="67.2" y="156.2" width="1.56" height="6.51" fill="#5aa1cb"/>
<rect x="67.2" y="162.65" width="1.56" height="6.51" fill="#8fc3dd"/>
<rect x="67.2" y="169.1" width="1.56" height="6.51" fill="#2f78b5"/>
<rect x="67.2" y="175.55" width="1.56" height="6.51" fill="#2f78b5"/>
<rect x="67.2" y="182" width="1.56" height="6.51" fill="#f4f6f7"/>
<rect x="67.2" y="188.45" width="1.56" height="6.51" fill="#dbeaf2"/>
<rect x="67.2" y="194.9" width="1.56" height="6.51" fill="#fbe7db"/>
<rect x="67.2" y="201.35" width="1.56" height="6.51" fill="#e0ecf3"/>
<rect x="67.2" y="207.8" width="1.56" height="6.51" fill="#67aacf"/>
<rect x="67.2" y="214.25" width="1.56" height="6.51" fill="#c6e0ed"/>
<rect x="67.2" y="223.1" width="1.56" height="6.4" fill="#2d75b4"/>
<rect x="68.7" y="117.5" width="2.26" height="6.51" fill="#98c8e0"/>
<rect x="68.7" y="123.95" width="2.26" height="6.51" fill="#eef3f5"/>
<rect x="68.7" y="130.4" width="2.26" height="6.51" fill="#e2edf3"/>
<rect x="68.7" y="136.85" width="2.26" height="6.51" fill="#f9f0eb"/>
<rect x="68.7" y="143.3" width="2.26" height="6.51" fill="#bedbeb"/>
<rect x="68.7" y="149.75" width="2.26" height="6.51" fill="#fbe7db"/>
<rect x="68.7" y="156.2" width="2.26" height="6.51" fill="#c4dfec"/>
<rect x="68.7" y="162.65" width="2.26" height="6.51" fill="#cbe2ee"/>
<rect x="68.7" y="169.1" width="2.26" height="6.51" fill="#f5f6f7"/>
<rect x="68.7" y="175.55" width="2.26" height="6.51" fill="#67aacf"/>
<rect x="68.7" y="182" width="2.26" height="6.51" fill="#f7b698"/>
<rect x="68.7" y="188.45" width="2.26" height="6.51" fill="#fbe4d6"/>
<rect x="68.7" y="194.9" width="2.26" height="6.51" fill="#f8f1ec"/>
<rect x="68.7" y="201.35" width="2.26" height="6.51" fill="#f5a987"/>
<rect x="68.7" y="207.8" width="2.26" height="6.51" fill="#f9eee7"/>
<rect x="68.7" y="214.25" width="2.26" height="6.51" fill="#f6ae8e"/>
<rect x="68.7" y="223.1" width="2.26" height="6.4" fill="#519cc8"/>
<rect x="70.9" y="117.5" width="1.86" height="6.51" fill="#bbdaea"/>
<rect x="70.9" y="123.95" width="1.86" height="6.51" fill="#76b3d4"/>
<rect x="70.9" y="130.4" width="1.86" height="6.51" fill="#8ac0db"/>
<rect x="70.9" y="136.85" width="1.86" height="6.51" fill="#deebf2"/>
<rect x="70.9" y="143.3" width="1.86" height="6.51" fill="#c3deec"/>
<rect x="70.9" y="149.75" width="1.86" height="6.51" fill="#83bbd9"/>
<rect x="70.9" y="156.2" width="1.86" height="6.51" fill="#3f8ec0"/>
<rect x="70.9" y="162.65" width="1.86" height="6.51" fill="#4d99c6"/>
<rect x="70.9" y="169.1" width="1.86" height="6.51" fill="#3986bc"/>
<rect x="70.9" y="175.55" width="1.86" height="6.51" fill="#2f78b5"/>
<rect x="70.9" y="182" width="1.86" height="6.51" fill="#f8f3f1"/>
<rect x="70.9" y="188.45" width="1.86" height="6.51" fill="#edf2f5"/>
<rect x="70.9" y="194.9" width="1.86" height="6.51" fill="#f7f5f4"/>
<rect x="70.9" y="201.35" width="1.86" height="6.51" fill="#bddbea"/>
<rect x="70.9" y="207.8" width="1.86" height="6.51" fill="#bedbea"/>
<rect x="70.9" y="214.25" width="1.86" height="6.51" fill="#d7e8f1"/>
<rect x="70.9" y="223.1" width="1.86" height="6.4" fill="#1e61a5"/>
<rect x="72.7" y="117.5" width="1.16" height="6.51" fill="#2f78b5"/>
<rect x="72.7" y="123.95" width="1.16" height="6.51" fill="#2f78b5"/>
<rect x="72.7" y="130.4" width="1.16" height="6.51" fill="#3079b6"/>
<rect x="72.7" y="136.85" width="1.16" height="6.51" fill="#2f78b5"/>
<rect x="72.7" y="143.3" width="1.16" height="6.51" fill="#63a7ce"/>
<rect x="72.7" y="149.75" width="1.16" height="6.51" fill="#3d8bbf"/>
<rect x="72.7" y="156.2" width="1.16" height="6.51" fill="#2f78b5"/>
<rect x="72.7" y="162.65" width="1.16" height="6.51" fill="#5da4cc"/>
<rect x="72.7" y="169.1" width="1.16" height="6.51" fill="#2f78b5"/>
<rect x="72.7" y="175.55" width="1.16" height="6.51" fill="#2f78b5"/>
<rect x="72.7" y="182" width="1.16" height="6.51" fill="#a3cee3"/>
<rect x="72.7" y="188.45" width="1.16" height="6.51" fill="#8ec2dd"/>
<rect x="72.7" y="194.9" width="1.16" height="6.51" fill="#d3e6f0"/>
<rect x="72.7" y="201.35" width="1.16" height="6.51" fill="#3783bb"/>
<rect x="72.7" y="207.8" width="1.16" height="6.51" fill="#4e9ac7"/>
<rect x="72.7" y="214.25" width="1.16" height="6.51" fill="#e8f0f4"/>
<rect x="72.7" y="223.1" width="1.16" height="6.4" fill="#4594c4"/>
<rect x="73.8" y="117.5" width="0.96" height="6.51" fill="#4292c2"/>
<rect x="73.8" y="123.95" width="0.96" height="6.51" fill="#3e8cc0"/>
<rect x="73.8" y="130.4" width="0.96" height="6.51" fill="#2f78b5"/>
<rect x="73.8" y="136.85" width="0.96" height="6.51" fill="#3783bb"/>
<rect x="73.8" y="143.3" width="0.96" height="6.51" fill="#4c99c6"/>
<rect x="73.8" y="149.75" width="0.96" height="6.51" fill="#8ac0db"/>
<rect x="73.8" y="156.2" width="0.96" height="6.51" fill="#78b5d5"/>
<rect x="73.8" y="162.65" width="0.96" height="6.51" fill="#2f78b5"/>
<rect x="73.8" y="169.1" width="0.96" height="6.51" fill="#a9d1e5"/>
<rect x="73.8" y="175.55" width="0.96" height="6.51" fill="#3480b9"/>
<rect x="73.8" y="182" width="0.96" height="6.51" fill="#c3deec"/>
<rect x="73.8" y="188.45" width="0.96" height="6.51" fill="#8bc1dc"/>
<rect x="73.8" y="194.9" width="0.96" height="6.51" fill="#c8e1ed"/>
<rect x="73.8" y="201.35" width="0.96" height="6.51" fill="#4695c4"/>
<rect x="73.8" y="207.8" width="0.96" height="6.51" fill="#a8d0e4"/>
<rect x="73.8" y="214.25" width="0.96" height="6.51" fill="#d0e5f0"/>
<rect x="73.8" y="223.1" width="0.96" height="6.4" fill="#2d76b4"/>
<rect x="74.7" y="117.5" width="1.56" height="6.51" fill="#93c5de"/>
<rect x="74.7" y="123.95" width="1.56" height="6.51" fill="#2f78b5"/>
<rect x="74.7" y="130.4" width="1.56" height="6.51" fill="#3784bb"/>
<rect x="74.7" y="136.85" width="1.56" height="6.51" fill="#d9e9f1"/>
<rect x="74.7" y="143.3" width="1.56" height="6.51" fill="#b2d5e7"/>
<rect x="74.7" y="149.75" width="1.56" height="6.51" fill="#95c7df"/>
<rect x="74.7" y="156.2" width="1.56" height="6.51" fill="#89bfdb"/>
<rect x="74.7" y="162.65" width="1.56" height="6.51" fill="#69abd0"/>
<rect x="74.7" y="169.1" width="1.56" height="6.51" fill="#d3e6f0"/>
<rect x="74.7" y="175.55" width="1.56" height="6.51" fill="#2f78b5"/>
<rect x="74.7" y="182" width="1.56" height="6.51" fill="#f8f2ee"/>
<rect x="74.7" y="188.45" width="1.56" height="6.51" fill="#b5d7e8"/>
<rect x="74.7" y="194.9" width="1.56" height="6.51" fill="#d4e6f1"/>
<rect x="74.7" y="201.35" width="1.56" height="6.51" fill="#c2deec"/>
<rect x="74.7" y="207.8" width="1.56" height="6.51" fill="#8dc2dc"/>
<rect x="74.7" y="214.25" width="1.56" height="6.51" fill="#a1cde2"/>
<rect x="74.7" y="223.1" width="1.56" height="6.4" fill="#3986bd"/>
<rect x="76.2" y="117.5" width="1.36" height="6.51" fill="#cbe2ee"/>
<rect x="76.2" y="123.95" width="1.36" height="6.51" fill="#3e8dc0"/>
<rect x="76.2" y="130.4" width="1.36" height="6.51" fill="#b5d7e8"/>
<rect x="76.2" y="136.85" width="1.36" height="6.51" fill="#91c4de"/>
<rect x="76.2" y="143.3" width="1.36" height="6.51" fill="#b2d5e7"/>
<rect x="76.2" y="149.75" width="1.36" height="6.51" fill="#a5cfe3"/>
<rect x="76.2" y="156.2" width="1.36" height="6.51" fill="#bedceb"/>
<rect x="76.2" y="162.65" width="1.36" height="6.51" fill="#4796c4"/>
<rect x="76.2" y="169.1" width="1.36" height="6.51" fill="#72b1d3"/>
<rect x="76.2" y="175.55" width="1.36" height="6.51" fill="#2f78b5"/>
<rect x="76.2" y="182" width="1.36" height="6.51" fill="#eef3f5"/>
<rect x="76.2" y="188.45" width="1.36" height="6.51" fill="#9bcae1"/>
<rect x="76.2" y="194.9" width="1.36" height="6.51" fill="#c6dfed"/>
<rect x="76.2" y="201.35" width="1.36" height="6.51" fill="#e1ecf3"/>
<rect x="76.2" y="207.8" width="1.36" height="6.51" fill="#f7f7f7"/>
<rect x="76.2" y="214.25" width="1.36" height="6.51" fill="#f2f5f6"/>
<rect x="76.2" y="223.1" width="1.36" height="6.4" fill="#1a5899"/>
<rect x="77.5" y="117.5" width="1.16" height="6.51" fill="#98c8e0"/>
<rect x="77.5" y="123.95" width="1.16" height="6.51" fill="#68abd0"/>
<rect x="77.5" y="130.4" width="1.16" height="6.51" fill="#6bacd1"/>
<rect x="77.5" y="136.85" width="1.16" height="6.51" fill="#f0f4f6"/>
<rect x="77.5" y="143.3" width="1.16" height="6.51" fill="#6aabd0"/>
<rect x="77.5" y="149.75" width="1.16" height="6.51" fill="#88bfdb"/>
<rect x="77.5" y="156.2" width="1.16" height="6.51" fill="#9dcae1"/>
<rect x="77.5" y="162.65" width="1.16" height="6.51" fill="#509bc8"/>
<rect x="77.5" y="169.1" width="1.16" height="6.51" fill="#59a1cb"/>
<rect x="77.5" y="175.55" width="1.16" height="6.51" fill="#78b4d5"/>
<rect x="77.5" y="182" width="1.16" height="6.51" fill="#f9eee8"/>
<rect x="77.5" y="188.45" width="1.16" height="6.51" fill="#71b0d3"/>
<rect x="77.5" y="194.9" width="1.16" height="6.51" fill="#f2f5f6"/>
<rect x="77.5" y="201.35" width="1.16" height="6.51" fill="#dceaf2"/>
<rect x="77.5" y="207.8" width="1.16" height="6.51" fill="#c4dfec"/>
<rect x="77.5" y="214.25" width="1.16" height="6.51" fill="#bedbeb"/>
<rect x="77.5" y="223.1" width="1.16" height="6.4" fill="#3783bb"/>
<rect x="78.6" y="117.5" width="0.96" height="6.51" fill="#d7e8f1"/>
<rect x="78.6" y="123.95" width="0.96" height="6.51" fill="#dae9f2"/>
<rect x="78.6" y="130.4" width="0.96" height="6.51" fill="#59a1cb"/>
<rect x="78.6" y="136.85" width="0.96" height="6.51" fill="#e4eef3"/>
<rect x="78.6" y="143.3" width="0.96" height="6.51" fill="#bcdaea"/>
<rect x="78.6" y="149.75" width="0.96" height="6.51" fill="#99c9e0"/>
<rect x="78.6" y="156.2" width="0.96" height="6.51" fill="#65a9cf"/>
<rect x="78.6" y="162.65" width="0.96" height="6.51" fill="#75b3d4"/>
<rect x="78.6" y="169.1" width="0.96" height="6.51" fill="#90c4dd"/>
<rect x="78.6" y="175.55" width="0.96" height="6.51" fill="#62a7ce"/>
<rect x="78.6" y="182" width="0.96" height="6.51" fill="#f8f1ec"/>
<rect x="78.6" y="188.45" width="0.96" height="6.51" fill="#f8f0eb"/>
<rect x="78.6" y="194.9" width="0.96" height="6.51" fill="#f7f6f5"/>
<rect x="78.6" y="201.35" width="0.96" height="6.51" fill="#a8d0e4"/>
<rect x="78.6" y="207.8" width="0.96" height="6.51" fill="#c0dceb"/>
<rect x="78.6" y="214.25" width="0.96" height="6.51" fill="#e8f0f4"/>
<rect x="78.6" y="223.1" width="0.96" height="6.4" fill="#4796c4"/>
<rect x="79.5" y="117.5" width="1.86" height="6.51" fill="#dbeaf2"/>
<rect x="79.5" y="123.95" width="1.86" height="6.51" fill="#e8f0f4"/>
<rect x="79.5" y="130.4" width="1.86" height="6.51" fill="#b3d6e8"/>
<rect x="79.5" y="136.85" width="1.86" height="6.51" fill="#f1f4f6"/>
<rect x="79.5" y="143.3" width="1.86" height="6.51" fill="#81bad8"/>
<rect x="79.5" y="149.75" width="1.86" height="6.51" fill="#9dcbe1"/>
<rect x="79.5" y="156.2" width="1.86" height="6.51" fill="#89bfdb"/>
<rect x="79.5" y="162.65" width="1.86" height="6.51" fill="#66a9cf"/>
<rect x="79.5" y="169.1" width="1.86" height="6.51" fill="#317bb7"/>
<rect x="79.5" y="175.55" width="1.86" height="6.51" fill="#2f78b5"/>
<rect x="79.5" y="182" width="1.86" height="6.51" fill="#f7f5f4"/>
<rect x="79.5" y="188.45" width="1.86" height="6.51" fill="#afd4e6"/>
<rect x="79.5" y="194.9" width="1.86" height="6.51" fill="#fce0d0"/>
<rect x="79.5" y="201.35" width="1.86" height="6.51" fill="#fce1d1"/>
<rect x="79.5" y="207.8" width="1.86" height="6.51" fill="#e3eef3"/>
<rect x="79.5" y="214.25" width="1.86" height="6.51" fill="#eaf1f5"/>
<rect x="79.5" y="223.1" width="1.86" height="6.4" fill="#246aae"/>
<rect x="81.3" y="117.5" width="2.26" height="6.51" fill="#3b88bd"/>
<rect x="81.3" y="123.95" width="2.26" height="6.51" fill="#2f78b5"/>
<rect x="81.3" y="130.4" width="2.26" height="6.51" fill="#65a8cf"/>
<rect x="81.3" y="136.85" width="2.26" height="6.51" fill="#b8d8e9"/>
<rect x="81.3" y="143.3" width="2.26" height="6.51" fill="#4090c1"/>
<rect x="81.3" y="149.75" width="2.26" height="6.51" fill="#69abd0"/>
<rect x="81.3" y="156.2" width="2.26" height="6.51" fill="#3c8abe"/>
<rect x="81.3" y="162.65" width="2.26" height="6.51" fill="#2f78b5"/>
<rect x="81.3" y="169.1" width="2.26" height="6.51" fill="#2f78b5"/>
<rect x="81.3" y="175.55" width="2.26" height="6.51" fill="#317bb7"/>
<rect x="81.3" y="182" width="2.26" height="6.51" fill="#72b0d3"/>
<rect x="81.3" y="188.45" width="2.26" height="6.51" fill="#4896c5"/>
<rect x="81.3" y="194.9" width="2.26" height="6.51" fill="#e3eef3"/>
<rect x="81.3" y="201.35" width="2.26" height="6.51" fill="#2f78b5"/>
<rect x="81.3" y="207.8" width="2.26" height="6.51" fill="#86bdda"/>
<rect x="81.3" y="214.25" width="2.26" height="6.51" fill="#98c8e0"/>
<rect x="81.3" y="223.1" width="2.26" height="6.4" fill="#2064a9"/>
<rect x="83.5" y="117.5" width="2.26" height="6.51" fill="#84bcd9"/>
<rect x="83.5" y="123.95" width="2.26" height="6.51" fill="#bfdceb"/>
<rect x="83.5" y="130.4" width="2.26" height="6.51" fill="#88bfdb"/>
<rect x="83.5" y="136.85" width="2.26" height="6.51" fill="#cbe2ee"/>
<rect x="83.5" y="143.3" width="2.26" height="6.51" fill="#d6e7f1"/>
<rect x="83.5" y="149.75" width="2.26" height="6.51" fill="#c6dfed"/>
<rect x="83.5" y="156.2" width="2.26" height="6.51" fill="#8dc2dc"/>
<rect x="83.5" y="162.65" width="2.26" height="6.51" fill="#9ac9e0"/>
<rect x="83.5" y="169.1" width="2.26" height="6.51" fill="#317bb7"/>
<rect x="83.5" y="175.55" width="2.26" height="6.51" fill="#3f8ec0"/>
<rect x="83.5" y="182" width="2.26" height="6.51" fill="#fcd3bd"/>
<rect x="83.5" y="188.45" width="2.26" height="6.51" fill="#fbe6da"/>
<rect x="83.5" y="194.9" width="2.26" height="6.51" fill="#fbccb4"/>
<rect x="83.5" y="201.35" width="2.26" height="6.51" fill="#f8f4f1"/>
<rect x="83.5" y="207.8" width="2.26" height="6.51" fill="#f7f7f7"/>
<rect x="83.5" y="214.25" width="2.26" height="6.51" fill="#ddebf2"/>
<rect x="83.5" y="223.1" width="2.26" height="6.4" fill="#4997c5"/>
<rect x="85.7" y="117.5" width="0.96" height="6.51" fill="#3b88bd"/>
<rect x="85.7" y="123.95" width="0.96" height="6.51" fill="#9dcbe1"/>
<rect x="85.7" y="130.4" width="0.96" height="6.51" fill="#6bacd1"/>
<rect x="85.7" y="136.85" width="0.96" height="6.51" fill="#a6cfe4"/>
<rect x="85.7" y="143.3" width="0.96" height="6.51" fill="#84bcd9"/>
<rect x="85.7" y="149.75" width="0.96" height="6.51" fill="#2f78b5"/>
<rect x="85.7" y="156.2" width="0.96" height="6.51" fill="#4393c3"/>
<rect x="85.7" y="162.65" width="0.96" height="6.51" fill="#2f78b5"/>
<rect x="85.7" y="169.1" width="0.96" height="6.51" fill="#add3e6"/>
<rect x="85.7" y="175.55" width="0.96" height="6.51" fill="#2f78b5"/>
<rect x="85.7" y="182" width="0.96" height="6.51" fill="#a0cce2"/>
<rect x="85.7" y="188.45" width="0.96" height="6.51" fill="#c4deec"/>
<rect x="85.7" y="194.9" width="0.96" height="6.51" fill="#6eaed2"/>
<rect x="85.7" y="201.35" width="0.96" height="6.51" fill="#f4f5f6"/>
<rect x="85.7" y="207.8" width="0.96" height="6.51" fill="#c4deec"/>
<rect x="85.7" y="214.25" width="0.96" height="6.51" fill="#b8d8e9"/>
<rect x="85.7" y="223.1" width="0.96" height="6.4" fill="#1f63a7"/>
<rect x="86.6" y="117.5" width="1.86" height="6.51" fill="#67aacf"/>
<rect x="86.6" y="123.95" width="1.86" height="6.51" fill="#6fafd2"/>
<rect x="86.6" y="130.4" width="1.86" height="6.51" fill="#c1ddec"/>
<rect x="86.6" y="136.85" width="1.86" height="6.51" fill="#e5eff4"/>
<rect x="86.6" y="143.3" width="1.86" height="6.51" fill="#62a7ce"/>
<rect x="86.6" y="149.75" width="1.86" height="6.51" fill="#73b1d3"/>
<rect x="86.6" y="156.2" width="1.86" height="6.51" fill="#4695c4"/>
<rect x="86.6" y="162.65" width="1.86" height="6.51" fill="#2f78b5"/>
<rect x="86.6" y="169.1" width="1.86" height="6.51" fill="#317bb7"/>
<rect x="86.6" y="175.55" width="1.86" height="6.51" fill="#2f78b5"/>
<rect x="86.6" y="182" width="1.86" height="6.51" fill="#a5cfe3"/>
<rect x="86.6" y="188.45" width="1.86" height="6.51" fill="#8dc2dc"/>
<rect x="86.6" y="194.9" width="1.86" height="6.51" fill="#c3deec"/>
<rect x="86.6" y="201.35" width="1.86" height="6.51" fill="#f6f6f7"/>
<rect x="86.6" y="207.8" width="1.86" height="6.51" fill="#dceaf2"/>
<rect x="86.6" y="214.25" width="1.86" height="6.51" fill="#c6e0ed"/>
<rect x="86.6" y="223.1" width="1.86" height="6.4" fill="#2870b1"/>
<rect x="88.4" y="117.5" width="1.56" height="6.51" fill="#79b5d6"/>
<rect x="88.4" y="123.95" width="1.56" height="6.51" fill="#65a8ce"/>
<rect x="88.4" y="130.4" width="1.56" height="6.51" fill="#bedceb"/>
<rect x="88.4" y="136.85" width="1.56" height="6.51" fill="#b7d8e9"/>
<rect x="88.4" y="143.3" width="1.56" height="6.51" fill="#77b4d5"/>
<rect x="88.4" y="149.75" width="1.56" height="6.51" fill="#d3e6f0"/>
<rect x="88.4" y="156.2" width="1.56" height="6.51" fill="#c3deec"/>
<rect x="88.4" y="162.65" width="1.56" height="6.51" fill="#3480b9"/>
<rect x="88.4" y="169.1" width="1.56" height="6.51" fill="#6fafd2"/>
<rect x="88.4" y="175.55" width="1.56" height="6.51" fill="#3885bc"/>
<rect x="88.4" y="182" width="1.56" height="6.51" fill="#e3edf3"/>
<rect x="88.4" y="188.45" width="1.56" height="6.51" fill="#d6e7f1"/>
<rect x="88.4" y="194.9" width="1.56" height="6.51" fill="#f9c3a9"/>
<rect x="88.4" y="201.35" width="1.56" height="6.51" fill="#d3e6f0"/>
<rect x="88.4" y="207.8" width="1.56" height="6.51" fill="#d7e8f1"/>
<rect x="88.4" y="214.25" width="1.56" height="6.51" fill="#dae9f2"/>
<rect x="88.4" y="223.1" width="1.56" height="6.4" fill="#1e61a5"/>
<rect x="89.9" y="117.5" width="1.56" height="6.51" fill="#97c7df"/>
<rect x="89.9" y="123.95" width="1.56" height="6.51" fill="#aed3e6"/>
<rect x="89.9" y="130.4" width="1.56" height="6.51" fill="#cae1ee"/>
<rect x="89.9" y="136.85" width="1.56" height="6.51" fill="#eff3f6"/>
<rect x="89.9" y="143.3" width="1.56" height="6.51" fill="#4594c4"/>
<rect x="89.9" y="149.75" width="1.56" height="6.51" fill="#b3d6e7"/>
<rect x="89.9" y="156.2" width="1.56" height="6.51" fill="#6cadd1"/>
<rect x="89.9" y="162.65" width="1.56" height="6.51" fill="#eaf1f5"/>
<rect x="89.9" y="169.1" width="1.56" height="6.51" fill="#90c3dd"/>
<rect x="89.9" y="175.55" width="1.56" height="6.51" fill="#7ab6d6"/>
<rect x="89.9" y="182" width="1.56" height="6.51" fill="#f4f6f6"/>
<rect x="89.9" y="188.45" width="1.56" height="6.51" fill="#f8f2ee"/>
<rect x="89.9" y="194.9" width="1.56" height="6.51" fill="#f7f5f3"/>
<rect x="89.9" y="201.35" width="1.56" height="6.51" fill="#80bad8"/>
<rect x="89.9" y="207.8" width="1.56" height="6.51" fill="#f0f4f6"/>
<rect x="89.9" y="214.25" width="1.56" height="6.51" fill="#e6eff4"/>
<rect x="89.9" y="223.1" width="1.56" height="6.4" fill="#4d99c7"/>
<rect x="91.4" y="117.5" width="2.26" height="6.51" fill="#97c7df"/>
<rect x="91.4" y="123.95" width="2.26" height="6.51" fill="#327cb7"/>
<rect x="91.4" y="130.4" width="2.26" height="6.51" fill="#ebf2f5"/>
<rect x="91.4" y="136.85" width="2.26" height="6.51" fill="#fbe3d5"/>
<rect x="91.4" y="143.3" width="2.26" height="6.51" fill="#5fa5cd"/>
<rect x="91.4" y="149.75" width="2.26" height="6.51" fill="#c6dfed"/>
<rect x="91.4" y="156.2" width="2.26" height="6.51" fill="#e3eef3"/>
<rect x="91.4" y="162.65" width="2.26" height="6.51" fill="#6eaed2"/>
<rect x="91.4" y="169.1" width="2.26" height="6.51" fill="#8cc1dc"/>
<rect x="91.4" y="175.55" width="2.26" height="6.51" fill="#c5dfed"/>
<rect x="91.4" y="182" width="2.26" height="6.51" fill="#fce0cf"/>
<rect x="91.4" y="188.45" width="2.26" height="6.51" fill="#fbe6da"/>
<rect x="91.4" y="194.9" width="2.26" height="6.51" fill="#f8ba9d"/>
<rect x="91.4" y="201.35" width="2.26" height="6.51" fill="#f2f5f6"/>
<rect x="91.4" y="207.8" width="2.26" height="6.51" fill="#ddebf2"/>
<rect x="91.4" y="214.25" width="2.26" height="6.51" fill="#f5f6f7"/>
<rect x="91.4" y="223.1" width="2.26" height="6.4" fill="#529dc8"/>
<rect x="93.6" y="117.5" width="2.26" height="6.51" fill="#4896c5"/>
<rect x="93.6" y="123.95" width="2.26" height="6.51" fill="#2f78b5"/>
<rect x="93.6" y="130.4" width="2.26" height="6.51" fill="#3885bc"/>
<rect x="93.6" y="136.85" width="2.26" height="6.51" fill="#deebf2"/>
<rect x="93.6" y="143.3" width="2.26" height="6.51" fill="#2f78b5"/>
<rect x="93.6" y="149.75" width="2.26" height="6.51" fill="#2f78b5"/>
<rect x="93.6" y="156.2" width="2.26" height="6.51" fill="#4796c4"/>
<rect x="93.6" y="162.65" width="2.26" height="6.51" fill="#4291c2"/>
<rect x="93.6" y="169.1" width="2.26" height="6.51" fill="#2f78b5"/>
<rect x="93.6" y="175.55" width="2.26" height="6.51" fill="#2f78b5"/>
<rect x="93.6" y="182" width="2.26" height="6.51" fill="#8dc2dc"/>
<rect x="93.6" y="188.45" width="2.26" height="6.51" fill="#81bad8"/>
<rect x="93.6" y="194.9" width="2.26" height="6.51" fill="#f7f5f4"/>
<rect x="93.6" y="201.35" width="2.26" height="6.51" fill="#58a0ca"/>
<rect x="93.6" y="207.8" width="2.26" height="6.51" fill="#6eaed2"/>
<rect x="93.6" y="214.25" width="2.26" height="6.51" fill="#4b98c6"/>
<rect x="93.6" y="223.1" width="2.26" height="6.4" fill="#1a5899"/>
<rect x="95.8" y="117.5" width="1.86" height="6.51" fill="#a0cce2"/>
<rect x="95.8" y="123.95" width="1.86" height="6.51" fill="#deebf2"/>
<rect x="95.8" y="130.4" width="1.86" height="6.51" fill="#a1cce2"/>
<rect x="95.8" y="136.85" width="1.86" height="6.51" fill="#e8f0f4"/>
<rect x="95.8" y="143.3" width="1.86" height="6.51" fill="#5ba2cb"/>
<rect x="95.8" y="149.75" width="1.86" height="6.51" fill="#7eb8d7"/>
<rect x="95.8" y="156.2" width="1.86" height="6.51" fill="#9dcae1"/>
<rect x="95.8" y="162.65" width="1.86" height="6.51" fill="#2f78b5"/>
<rect x="95.8" y="169.1" width="1.86" height="6.51" fill="#64a8ce"/>
<rect x="95.8" y="175.55" width="1.86" height="6.51" fill="#86bdda"/>
<rect x="95.8" y="182" width="1.86" height="6.51" fill="#f9f0eb"/>
<rect x="95.8" y="188.45" width="1.86" height="6.51" fill="#e3eef3"/>
<rect x="95.8" y="194.9" width="1.86" height="6.51" fill="#f9eee7"/>
<rect x="95.8" y="201.35" width="1.86" height="6.51" fill="#d2e5f0"/>
<rect x="95.8" y="207.8" width="1.86" height="6.51" fill="#a8d0e4"/>
<rect x="95.8" y="214.25" width="1.86" height="6.51" fill="#bedbeb"/>
<rect x="95.8" y="223.1" width="1.86" height="6.4" fill="#2065aa"/>
<rect x="97.6" y="117.5" width="2.26" height="6.51" fill="#4a98c5"/>
<rect x="97.6" y="123.95" width="2.26" height="6.51" fill="#2f78b5"/>
<rect x="97.6" y="130.4" width="2.26" height="6.51" fill="#c5dfec"/>
<rect x="97.6" y="136.85" width="2.26" height="6.51" fill="#cde3ef"/>
<rect x="97.6" y="143.3" width="2.26" height="6.51" fill="#337eb8"/>
<rect x="97.6" y="149.75" width="2.26" height="6.51" fill="#6cadd1"/>
<rect x="97.6" y="156.2" width="2.26" height="6.51" fill="#9fcce2"/>
<rect x="97.6" y="162.65" width="2.26" height="6.51" fill="#2f78b5"/>
<rect x="97.6" y="169.1" width="2.26" height="6.51" fill="#2f78b5"/>
<rect x="97.6" y="175.55" width="2.26" height="6.51" fill="#3681ba"/>
<rect x="97.6" y="182" width="2.26" height="6.51" fill="#eff3f6"/>
<rect x="97.6" y="188.45" width="2.26" height="6.51" fill="#afd4e6"/>
<rect x="97.6" y="194.9" width="2.26" height="6.51" fill="#fcdecc"/>
<rect x="97.6" y="201.35" width="2.26" height="6.51" fill="#94c6df"/>
<rect x="97.6" y="207.8" width="2.26" height="6.51" fill="#ddebf2"/>
<rect x="97.6" y="214.25" width="2.26" height="6.51" fill="#d8e8f1"/>
<rect x="97.6" y="223.1" width="2.26" height="6.4" fill="#2d76b4"/>
<rect x="99.8" y="117.5" width="1.16" height="6.51" fill="#2f78b5"/>
<rect x="99.8" y="123.95" width="1.16" height="6.51" fill="#4a98c5"/>
<rect x="99.8" y="130.4" width="1.16" height="6.51" fill="#3b88be"/>
<rect x="99.8" y="136.85" width="1.16" height="6.51" fill="#8bc1dc"/>
<rect x="99.8" y="143.3" width="1.16" height="6.51" fill="#2f78b5"/>
<rect x="99.8" y="149.75" width="1.16" height="6.51" fill="#2f78b5"/>
<rect x="99.8" y="156.2" width="1.16" height="6.51" fill="#3079b6"/>
<rect x="99.8" y="162.65" width="1.16" height="6.51" fill="#3a87bd"/>
<rect x="99.8" y="169.1" width="1.16" height="6.51" fill="#2f78b5"/>
<rect x="99.8" y="175.55" width="1.16" height="6.51" fill="#2f78b5"/>
<rect x="99.8" y="182" width="1.16" height="6.51" fill="#b2d5e7"/>
<rect x="99.8" y="188.45" width="1.16" height="6.51" fill="#6bacd1"/>
<rect x="99.8" y="194.9" width="1.16" height="6.51" fill="#f8f3f1"/>
<rect x="99.8" y="201.35" width="1.16" height="6.51" fill="#b8d8e9"/>
<rect x="99.8" y="207.8" width="1.16" height="6.51" fill="#9ac9e0"/>
<rect x="99.8" y="214.25" width="1.16" height="6.51" fill="#7db8d7"/>
<rect x="99.8" y="223.1" width="1.16" height="6.4" fill="#276fb0"/>
<rect x="100.9" y="117.5" width="1.86" height="6.51" fill="#a3cde3"/>
<rect x="100.9" y="123.95" width="1.86" height="6.51" fill="#408fc1"/>
<rect x="100.9" y="130.4" width="1.86" height="6.51" fill="#5ba2cb"/>
<rect x="100.9" y="136.85" width="1.86" height="6.51" fill="#ddebf2"/>
<rect x="100.9" y="143.3" width="1.86" height="6.51" fill="#65a8cf"/>
<rect x="100.9" y="149.75" width="1.86" height="6.51" fill="#337db8"/>
<rect x="100.9" y="156.2" width="1.86" height="6.51" fill="#3884bb"/>
<rect x="100.9" y="162.65" width="1.86" height="6.51" fill="#6aacd0"/>
<rect x="100.9" y="169.1" width="1.86" height="6.51" fill="#509bc8"/>
<rect x="100.9" y="175.55" width="1.86" height="6.51" fill="#2f78b5"/>
<rect x="100.9" y="182" width="1.86" height="6.51" fill="#acd2e6"/>
<rect x="100.9" y="188.45" width="1.86" height="6.51" fill="#f8f2ef"/>
<rect x="100.9" y="194.9" width="1.86" height="6.51" fill="#d2e5f0"/>
<rect x="100.9" y="201.35" width="1.86" height="6.51" fill="#74b2d4"/>
<rect x="100.9" y="207.8" width="1.86" height="6.51" fill="#d6e8f1"/>
<rect x="100.9" y="214.25" width="1.86" height="6.51" fill="#acd2e5"/>
<rect x="100.9" y="223.1" width="1.86" height="6.4" fill="#3f8ec1"/>
<rect x="102.7" y="117.5" width="0.96" height="6.51" fill="#549ec9"/>
<rect x="102.7" y="123.95" width="0.96" height="6.51" fill="#3682ba"/>
<rect x="102.7" y="130.4" width="0.96" height="6.51" fill="#3580b9"/>
<rect x="102.7" y="136.85" width="0.96" height="6.51" fill="#68aad0"/>
<rect x="102.7" y="143.3" width="0.96" height="6.51" fill="#317bb7"/>
<rect x="102.7" y="149.75" width="0.96" height="6.51" fill="#2f78b5"/>
<rect x="102.7" y="156.2" width="0.96" height="6.51" fill="#4393c3"/>
<rect x="102.7" y="162.65" width="0.96" height="6.51" fill="#2f78b5"/>
<rect x="102.7" y="169.1" width="0.96" height="6.51" fill="#2f78b5"/>
<rect x="102.7" y="175.55" width="0.96" height="6.51" fill="#2f78b5"/>
<rect x="102.7" y="182" width="0.96" height="6.51" fill="#77b4d5"/>
<rect x="102.7" y="188.45" width="0.96" height="6.51" fill="#2f78b5"/>
<rect x="102.7" y="194.9" width="0.96" height="6.51" fill="#a6cfe4"/>
<rect x="102.7" y="201.35" width="0.96" height="6.51" fill="#6aacd0"/>
<rect x="102.7" y="207.8" width="0.96" height="6.51" fill="#6aacd0"/>
<rect x="102.7" y="214.25" width="0.96" height="6.51" fill="#80b9d8"/>
<rect x="102.7" y="223.1" width="0.96" height="6.4" fill="#1a5899"/>
<rect x="103.6" y="117.5" width="1.86" height="6.51" fill="#75b2d4"/>
<rect x="103.6" y="123.95" width="1.86" height="6.51" fill="#337eb8"/>
<rect x="103.6" y="130.4" width="1.86" height="6.51" fill="#9ac9e0"/>
<rect x="103.6" y="136.85" width="1.86" height="6.51" fill="#66a9cf"/>
<rect x="103.6" y="143.3" width="1.86" height="6.51" fill="#2f79b6"/>
<rect x="103.6" y="149.75" width="1.86" height="6.51" fill="#2f78b5"/>
<rect x="103.6" y="156.2" width="1.86" height="6.51" fill="#3682ba"/>
<rect x="103.6" y="162.65" width="1.86" height="6.51" fill="#85bdda"/>
<rect x="103.6" y="169.1" width="1.86" height="6.51" fill="#4a98c5"/>
<rect x="103.6" y="175.55" width="1.86" height="6.51" fill="#4191c2"/>
<rect x="103.6" y="182" width="1.86" height="6.51" fill="#d7e8f1"/>
<rect x="103.6" y="188.45" width="1.86" height="6.51" fill="#f7f6f5"/>
<rect x="103.6" y="194.9" width="1.86" height="6.51" fill="#fae7dc"/>
<rect x="103.6" y="201.35" width="1.86" height="6.51" fill="#e3eef3"/>
<rect x="103.6" y="207.8" width="1.86" height="6.51" fill="#c3deec"/>
<rect x="103.6" y="214.25" width="1.86" height="6.51" fill="#bedbea"/>
<rect x="103.6" y="223.1" width="1.86" height="6.4" fill="#266daf"/>
<rect x="105.4" y="117.5" width="0.96" height="6.51" fill="#2f78b5"/>
<rect x="105.4" y="123.95" width="0.96" height="6.51" fill="#6aabd0"/>
<rect x="105.4" y="130.4" width="0.96" height="6.51" fill="#c1ddec"/>
<rect x="105.4" y="136.85" width="0.96" height="6.51" fill="#ddebf2"/>
<rect x="105.4" y="143.3" width="0.96" height="6.51" fill="#2f78b5"/>
<rect x="105.4" y="149.75" width="0.96" height="6.51" fill="#4695c4"/>
<rect x="105.4" y="156.2" width="0.96" height="6.51" fill="#4292c2"/>
<rect x="105.4" y="162.65" width="0.96" height="6.51" fill="#2f78b5"/>
<rect x="105.4" y="169.1" width="0.96" height="6.51" fill="#abd2e5"/>
<rect x="105.4" y="175.55" width="0.96" height="6.51" fill="#317bb7"/>
<rect x="105.4" y="182" width="0.96" height="6.51" fill="#bedbeb"/>
<rect x="105.4" y="188.45" width="0.96" height="6.51" fill="#83bbd9"/>
<rect x="105.4" y="194.9" width="0.96" height="6.51" fill="#ebf2f5"/>
<rect x="105.4" y="201.35" width="0.96" height="6.51" fill="#c4deec"/>
<rect x="105.4" y="207.8" width="0.96" height="6.51" fill="#60a5cd"/>
<rect x="105.4" y="214.25" width="0.96" height="6.51" fill="#81bad8"/>
<rect x="105.4" y="223.1" width="0.96" height="6.4" fill="#4393c3"/>
<rect x="106.3" y="117.5" width="0.96" height="6.51" fill="#2f78b5"/>
<rect x="106.3" y="123.95" width="0.96" height="6.51" fill="#82bbd9"/>
<rect x="106.3" y="130.4" width="0.96" height="6.51" fill="#2f78b5"/>
<rect x="106.3" y="136.85" width="0.96" height="6.51" fill="#dbeaf2"/>
<rect x="106.3" y="143.3" width="0.96" height="6.51" fill="#4b98c6"/>
<rect x="106.3" y="149.75" width="0.96" height="6.51" fill="#69abd0"/>
<rect x="106.3" y="156.2" width="0.96" height="6.51" fill="#73b1d3"/>
<rect x="106.3" y="162.65" width="0.96" height="6.51" fill="#2f78b5"/>
<rect x="106.3" y="169.1" width="0.96" height="6.51" fill="#2f78b5"/>
<rect x="106.3" y="175.55" width="0.96" height="6.51" fill="#4594c4"/>
<rect x="106.3" y="182" width="0.96" height="6.51" fill="#d8e8f1"/>
<rect x="106.3" y="188.45" width="0.96" height="6.51" fill="#ddebf2"/>
<rect x="106.3" y="194.9" width="0.96" height="6.51" fill="#e6eff4"/>
<rect x="106.3" y="201.35" width="0.96" height="6.51" fill="#dceaf2"/>
<rect x="106.3" y="207.8" width="0.96" height="6.51" fill="#80bad8"/>
<rect x="106.3" y="214.25" width="0.96" height="6.51" fill="#a6cfe4"/>
<rect x="106.3" y="223.1" width="0.96" height="6.4" fill="#5fa5cd"/>
<rect x="107.2" y="117.5" width="0.96" height="6.51" fill="#6cadd1"/>
<rect x="107.2" y="123.95" width="0.96" height="6.51" fill="#7db8d7"/>
<rect x="107.2" y="130.4" width="0.96" height="6.51" fill="#79b5d5"/>
<rect x="107.2" y="136.85" width="0.96" height="6.51" fill="#86bdda"/>
<rect x="107.2" y="143.3" width="0.96" height="6.51" fill="#c6dfed"/>
<rect x="107.2" y="149.75" width="0.96" height="6.51" fill="#67aacf"/>
<rect x="107.2" y="156.2" width="0.96" height="6.51" fill="#66a9cf"/>
<rect x="107.2" y="162.65" width="0.96" height="6.51" fill="#3581ba"/>
<rect x="107.2" y="169.1" width="0.96" height="6.51" fill="#559ec9"/>
<rect x="107.2" y="175.55" width="0.96" height="6.51" fill="#408fc1"/>
<rect x="107.2" y="182" width="0.96" height="6.51" fill="#dae9f2"/>
<rect x="107.2" y="188.45" width="0.96" height="6.51" fill="#cbe2ee"/>
<rect x="107.2" y="194.9" width="0.96" height="6.51" fill="#b9d9e9"/>
<rect x="107.2" y="201.35" width="0.96" height="6.51" fill="#d5e7f1"/>
<rect x="107.2" y="207.8" width="0.96" height="6.51" fill="#a4cee3"/>
<rect x="107.2" y="214.25" width="0.96" height="6.51" fill="#a8d0e4"/>
<rect x="107.2" y="223.1" width="0.96" height="6.4" fill="#65a9cf"/>
<rect x="108.1" y="117.5" width="1.16" height="6.51" fill="#3480b9"/>
<rect x="108.1" y="123.95" width="1.16" height="6.51" fill="#89bfdb"/>
<rect x="108.1" y="130.4" width="1.16" height="6.51" fill="#b3d6e8"/>
<rect x="108.1" y="136.85" width="1.16" height="6.51" fill="#a0cce2"/>
<rect x="108.1" y="143.3" width="1.16" height="6.51" fill="#dbeaf2"/>
<rect x="108.1" y="149.75" width="1.16" height="6.51" fill="#b7d8e9"/>
<rect x="108.1" y="156.2" width="1.16" height="6.51" fill="#9ccae1"/>
<rect x="108.1" y="162.65" width="1.16" height="6.51" fill="#2f78b5"/>
<rect x="108.1" y="169.1" width="1.16" height="6.51" fill="#3f8ec1"/>
<rect x="108.1" y="175.55" width="1.16" height="6.51" fill="#75b2d4"/>
<rect x="108.1" y="182" width="1.16" height="6.51" fill="#e0ecf3"/>
<rect x="108.1" y="188.45" width="1.16" height="6.51" fill="#f9eee8"/>
<rect x="108.1" y="194.9" width="1.16" height="6.51" fill="#90c4dd"/>
<rect x="108.1" y="201.35" width="1.16" height="6.51" fill="#b4d6e8"/>
<rect x="108.1" y="207.8" width="1.16" height="6.51" fill="#d5e7f1"/>
<rect x="108.1" y="214.25" width="1.16" height="6.51" fill="#e0ecf3"/>
<rect x="108.1" y="223.1" width="1.16" height="6.4" fill="#3d8bbf"/>
<rect x="109.2" y="117.5" width="1.16" height="6.51" fill="#94c6de"/>
<rect x="109.2" y="123.95" width="1.16" height="6.51" fill="#ddebf2"/>
<rect x="109.2" y="130.4" width="1.16" height="6.51" fill="#86beda"/>
<rect x="109.2" y="136.85" width="1.16" height="6.51" fill="#86beda"/>
<rect x="109.2" y="143.3" width="1.16" height="6.51" fill="#eaf1f5"/>
<rect x="109.2" y="149.75" width="1.16" height="6.51" fill="#9ecbe1"/>
<rect x="109.2" y="156.2" width="1.16" height="6.51" fill="#d0e4f0"/>
<rect x="109.2" y="162.65" width="1.16" height="6.51" fill="#9bc9e0"/>
<rect x="109.2" y="169.1" width="1.16" height="6.51" fill="#68abd0"/>
<rect x="109.2" y="175.55" width="1.16" height="6.51" fill="#aed3e6"/>
<rect x="109.2" y="182" width="1.16" height="6.51" fill="#eaf1f5"/>
<rect x="109.2" y="188.45" width="1.16" height="6.51" fill="#b6d8e8"/>
<rect x="109.2" y="194.9" width="1.16" height="6.51" fill="#e1ecf3"/>
<rect x="109.2" y="201.35" width="1.16" height="6.51" fill="#e9f0f4"/>
<rect x="109.2" y="207.8" width="1.16" height="6.51" fill="#63a7ce"/>
<rect x="109.2" y="214.25" width="1.16" height="6.51" fill="#aed3e6"/>
<rect x="109.2" y="223.1" width="1.16" height="6.4" fill="#3c89be"/>
<rect x="110.3" y="117.5" width="1.86" height="6.51" fill="#badaea"/>
<rect x="110.3" y="123.95" width="1.86" height="6.51" fill="#a2cde3"/>
<rect x="110.3" y="130.4" width="1.86" height="6.51" fill="#f8f4f2"/>
<rect x="110.3" y="136.85" width="1.86" height="6.51" fill="#80bad8"/>
<rect x="110.3" y="143.3" width="1.86" height="6.51" fill="#dae9f2"/>
<rect x="110.3" y="149.75" width="1.86" height="6.51" fill="#ebf1f5"/>
<rect x="110.3" y="156.2" width="1.86" height="6.51" fill="#ddebf2"/>
<rect x="110.3" y="162.65" width="1.86" height="6.51" fill="#408fc1"/>
<rect x="110.3" y="169.1" width="1.86" height="6.51" fill="#7eb8d7"/>
<rect x="110.3" y="175.55" width="1.86" height="6.51" fill="#c1ddeb"/>
<rect x="110.3" y="182" width="1.86" height="6.51" fill="#eff3f6"/>
<rect x="110.3" y="188.45" width="1.86" height="6.51" fill="#f8f1ec"/>
<rect x="110.3" y="194.9" width="1.86" height="6.51" fill="#a4cee3"/>
<rect x="110.3" y="201.35" width="1.86" height="6.51" fill="#edf2f5"/>
<rect x="110.3" y="207.8" width="1.86" height="6.51" fill="#b5d7e8"/>
<rect x="110.3" y="214.25" width="1.86" height="6.51" fill="#cde3ef"/>
<rect x="110.3" y="223.1" width="1.86" height="6.4" fill="#8ec2dd"/>
<rect x="112.1" y="117.5" width="0.96" height="6.51" fill="#cbe2ee"/>
<rect x="112.1" y="123.95" width="0.96" height="6.51" fill="#3d8bbf"/>
<rect x="112.1" y="130.4" width="0.96" height="6.51" fill="#dbeaf2"/>
<rect x="112.1" y="136.85" width="0.96" height="6.51" fill="#89bfdb"/>
<rect x="112.1" y="143.3" width="0.96" height="6.51" fill="#cae1ee"/>
<rect x="112.1" y="149.75" width="0.96" height="6.51" fill="#cfe4ef"/>
<rect x="112.1" y="156.2" width="0.96" height="6.51" fill="#fcdecc"/>
<rect x="112.1" y="162.65" width="0.96" height="6.51" fill="#2f78b5"/>
<rect x="112.1" y="169.1" width="0.96" height="6.51" fill="#d0e5f0"/>
<rect x="112.1" y="175.55" width="0.96" height="6.51" fill="#f8f0ec"/>
<rect x="112.1" y="182" width="0.96" height="6.51" fill="#fcddcb"/>
<rect x="112.1" y="188.45" width="0.96" height="6.51" fill="#f8f3f0"/>
<rect x="112.1" y="194.9" width="0.96" height="6.51" fill="#fce0d0"/>
<rect x="112.1" y="201.35" width="0.96" height="6.51" fill="#e3eef3"/>
<rect x="112.1" y="207.8" width="0.96" height="6.51" fill="#d4e7f1"/>
<rect x="112.1" y="214.25" width="0.96" height="6.51" fill="#edf2f5"/>
<rect x="112.1" y="223.1" width="0.96" height="6.4" fill="#347fb9"/>
<rect x="113" y="117.5" width="1.56" height="6.51" fill="#8cc1dc"/>
<rect x="113" y="123.95" width="1.56" height="6.51" fill="#73b1d3"/>
<rect x="113" y="130.4" width="1.56" height="6.51" fill="#cde3ef"/>
<rect x="113" y="136.85" width="1.56" height="6.51" fill="#a1cde2"/>
<rect x="113" y="143.3" width="1.56" height="6.51" fill="#9fcce2"/>
<rect x="113" y="149.75" width="1.56" height="6.51" fill="#b2d5e7"/>
<rect x="113" y="156.2" width="1.56" height="6.51" fill="#b6d7e8"/>
<rect x="113" y="162.65" width="1.56" height="6.51" fill="#2f78b5"/>
<rect x="113" y="169.1" width="1.56" height="6.51" fill="#8bc1dc"/>
<rect x="113" y="175.55" width="1.56" height="6.51" fill="#ebf1f5"/>
<rect x="113" y="182" width="1.56" height="6.51" fill="#d5e7f1"/>
<rect x="113" y="188.45" width="1.56" height="6.51" fill="#d4e6f1"/>
<rect x="113" y="194.9" width="1.56" height="6.51" fill="#d3e6f0"/>
<rect x="113" y="201.35" width="1.56" height="6.51" fill="#a5cfe3"/>
<rect x="113" y="207.8" width="1.56" height="6.51" fill="#d9e9f2"/>
<rect x="113" y="214.25" width="1.56" height="6.51" fill="#c0dceb"/>
<rect x="113" y="223.1" width="1.56" height="6.4" fill="#80bad8"/>
<rect x="114.5" y="117.5" width="1.36" height="6.51" fill="#79b5d5"/>
<rect x="114.5" y="123.95" width="1.36" height="6.51" fill="#dae9f2"/>
<rect x="114.5" y="130.4" width="1.36" height="6.51" fill="#97c8df"/>
<rect x="114.5" y="136.85" width="1.36" height="6.51" fill="#bddbea"/>
<rect x="114.5" y="143.3" width="1.36" height="6.51" fill="#f3f5f6"/>
<rect x="114.5" y="149.75" width="1.36" height="6.51" fill="#b0d4e6"/>
<rect x="114.5" y="156.2" width="1.36" height="6.51" fill="#e8f0f4"/>
<rect x="114.5" y="162.65" width="1.36" height="6.51" fill="#2f78b5"/>
<rect x="114.5" y="169.1" width="1.36" height="6.51" fill="#569fca"/>
<rect x="114.5" y="175.55" width="1.36" height="6.51" fill="#8bc1dc"/>
<rect x="114.5" y="182" width="1.36" height="6.51" fill="#f7f6f5"/>
<rect x="114.5" y="188.45" width="1.36" height="6.51" fill="#c8e1ee"/>
<rect x="114.5" y="194.9" width="1.36" height="6.51" fill="#bbdaea"/>
<rect x="114.5" y="201.35" width="1.36" height="6.51" fill="#e5eff4"/>
<rect x="114.5" y="207.8" width="1.36" height="6.51" fill="#e6eff4"/>
<rect x="114.5" y="214.25" width="1.36" height="6.51" fill="#81bad8"/>
<rect x="114.5" y="223.1" width="1.36" height="6.4" fill="#a3cee3"/>
<rect x="115.8" y="117.5" width="1.56" height="6.51" fill="#2f78b5"/>
<rect x="115.8" y="123.95" width="1.56" height="6.51" fill="#2f78b5"/>
<rect x="115.8" y="130.4" width="1.56" height="6.51" fill="#aed3e6"/>
<rect x="115.8" y="136.85" width="1.56" height="6.51" fill="#83bbd9"/>
<rect x="115.8" y="143.3" width="1.56" height="6.51" fill="#9ecbe1"/>
<rect x="115.8" y="149.75" width="1.56" height="6.51" fill="#bbdaea"/>
<rect x="115.8" y="156.2" width="1.56" height="6.51" fill="#b7d8e9"/>
<rect x="115.8" y="162.65" width="1.56" height="6.51" fill="#2f78b5"/>
<rect x="115.8" y="169.1" width="1.56" height="6.51" fill="#2f78b5"/>
<rect x="115.8" y="175.55" width="1.56" height="6.51" fill="#2f78b5"/>
<rect x="115.8" y="182" width="1.56" height="6.51" fill="#dceaf2"/>
<rect x="115.8" y="188.45" width="1.56" height="6.51" fill="#8dc2dc"/>
<rect x="115.8" y="194.9" width="1.56" height="6.51" fill="#94c6df"/>
<rect x="115.8" y="201.35" width="1.56" height="6.51" fill="#a3cee3"/>
<rect x="115.8" y="207.8" width="1.56" height="6.51" fill="#8ac0db"/>
<rect x="115.8" y="214.25" width="1.56" height="6.51" fill="#a2cde3"/>
<rect x="115.8" y="223.1" width="1.56" height="6.4" fill="#65a9cf"/>
<rect x="117.3" y="117.5" width="1.86" height="6.51" fill="#f4f5f6"/>
<rect x="117.3" y="123.95" width="1.86" height="6.51" fill="#b8d8e9"/>
<rect x="117.3" y="130.4" width="1.86" height="6.51" fill="#f7f5f4"/>
<rect x="117.3" y="136.85" width="1.86" height="6.51" fill="#d6e8f1"/>
<rect x="117.3" y="143.3" width="1.86" height="6.51" fill="#e0ecf3"/>
<rect x="117.3" y="149.75" width="1.86" height="6.51" fill="#fae9e0"/>
<rect x="117.3" y="156.2" width="1.86" height="6.51" fill="#edf2f5"/>
<rect x="117.3" y="162.65" width="1.86" height="6.51" fill="#94c6df"/>
<rect x="117.3" y="169.1" width="1.86" height="6.51" fill="#e7f0f4"/>
<rect x="117.3" y="175.55" width="1.86" height="6.51" fill="#fae7dc"/>
<rect x="117.3" y="182" width="1.86" height="6.51" fill="#fddbc8"/>
<rect x="117.3" y="188.45" width="1.86" height="6.51" fill="#f7f7f7"/>
<rect x="117.3" y="194.9" width="1.86" height="6.51" fill="#bbdaea"/>
<rect x="117.3" y="201.35" width="1.86" height="6.51" fill="#fdddca"/>
<rect x="117.3" y="207.8" width="1.86" height="6.51" fill="#c7e0ed"/>
<rect x="117.3" y="214.25" width="1.86" height="6.51" fill="#f7f6f5"/>
<rect x="117.3" y="223.1" width="1.86" height="6.4" fill="#4190c1"/>
<rect x="119.1" y="117.5" width="1.16" height="6.51" fill="#94c6df"/>
<rect x="119.1" y="123.95" width="1.16" height="6.51" fill="#69abd0"/>
<rect x="119.1" y="130.4" width="1.16" height="6.51" fill="#76b3d5"/>
<rect x="119.1" y="136.85" width="1.16" height="6.51" fill="#6eaed2"/>
<rect x="119.1" y="143.3" width="1.16" height="6.51" fill="#ddebf2"/>
<rect x="119.1" y="149.75" width="1.16" height="6.51" fill="#c3deec"/>
<rect x="119.1" y="156.2" width="1.16" height="6.51" fill="#5da3cc"/>
<rect x="119.1" y="162.65" width="1.16" height="6.51" fill="#2f78b5"/>
<rect x="119.1" y="169.1" width="1.16" height="6.51" fill="#408fc1"/>
<rect x="119.1" y="175.55" width="1.16" height="6.51" fill="#a2cde3"/>
<rect x="119.1" y="182" width="1.16" height="6.51" fill="#71b0d3"/>
<rect x="119.1" y="188.45" width="1.16" height="6.51" fill="#a3cee3"/>
<rect x="119.1" y="194.9" width="1.16" height="6.51" fill="#c0dceb"/>
<rect x="119.1" y="201.35" width="1.16" height="6.51" fill="#b3d6e7"/>
<rect x="119.1" y="207.8" width="1.16" height="6.51" fill="#9ecbe1"/>
<rect x="119.1" y="214.25" width="1.16" height="6.51" fill="#8dc2dc"/>
<rect x="119.1" y="223.1" width="1.16" height="6.4" fill="#1a5899"/>
<rect x="120.2" y="117.5" width="1.86" height="6.51" fill="#337eb8"/>
<rect x="120.2" y="123.95" width="1.86" height="6.51" fill="#4f9bc7"/>
<rect x="120.2" y="130.4" width="1.86" height="6.51" fill="#3986bd"/>
<rect x="120.2" y="136.85" width="1.86" height="6.51" fill="#aad1e5"/>
<rect x="120.2" y="143.3" width="1.86" height="6.51" fill="#6eaed2"/>
<rect x="120.2" y="149.75" width="1.86" height="6.51" fill="#7eb8d7"/>
<rect x="120.2" y="156.2" width="1.86" height="6.51" fill="#9ecbe1"/>
<rect x="120.2" y="162.65" width="1.86" height="6.51" fill="#2f78b5"/>
<rect x="120.2" y="169.1" width="1.86" height="6.51" fill="#61a6cd"/>
<rect x="120.2" y="175.55" width="1.86" height="6.51" fill="#4997c5"/>
<rect x="120.2" y="182" width="1.86" height="6.51" fill="#7fb9d8"/>
<rect x="120.2" y="188.45" width="1.86" height="6.51" fill="#c4deec"/>
<rect x="120.2" y="194.9" width="1.86" height="6.51" fill="#85bdda"/>
<rect x="120.2" y="201.35" width="1.86" height="6.51" fill="#80bad8"/>
<rect x="120.2" y="207.8" width="1.86" height="6.51" fill="#69abd0"/>
<rect x="120.2" y="214.25" width="1.86" height="6.51" fill="#95c6df"/>
<rect x="120.2" y="223.1" width="1.86" height="6.4" fill="#4191c2"/>
<rect x="122" y="117.5" width="1.16" height="6.51" fill="#8dc2dc"/>
<rect x="122" y="123.95" width="1.16" height="6.51" fill="#85bcd9"/>
<rect x="122" y="130.4" width="1.16" height="6.51" fill="#b9d9e9"/>
<rect x="122" y="136.85" width="1.16" height="6.51" fill="#d4e6f1"/>
<rect x="122" y="143.3" width="1.16" height="6.51" fill="#fac8ae"/>
<rect x="122" y="149.75" width="1.16" height="6.51" fill="#fcdfce"/>
<rect x="122" y="156.2" width="1.16" height="6.51" fill="#eaf1f5"/>
<rect x="122" y="162.65" width="1.16" height="6.51" fill="#64a8ce"/>
<rect x="122" y="169.1" width="1.16" height="6.51" fill="#91c5de"/>
<rect x="122" y="175.55" width="1.16" height="6.51" fill="#e0ecf3"/>
<rect x="122" y="182" width="1.16" height="6.51" fill="#eaf1f5"/>
<rect x="122" y="188.45" width="1.16" height="6.51" fill="#f9ebe3"/>
<rect x="122" y="194.9" width="1.16" height="6.51" fill="#e9f0f4"/>
<rect x="122" y="201.35" width="1.16" height="6.51" fill="#bfdceb"/>
<rect x="122" y="207.8" width="1.16" height="6.51" fill="#b7d8e9"/>
<rect x="122" y="214.25" width="1.16" height="6.51" fill="#f1f4f6"/>
<rect x="122" y="223.1" width="1.16" height="6.4" fill="#7ab6d6"/>
<rect x="123.1" y="117.5" width="2.26" height="6.51" fill="#92c5de"/>
<rect x="123.1" y="123.95" width="2.26" height="6.51" fill="#d5e7f1"/>
<rect x="123.1" y="130.4" width="2.26" height="6.51" fill="#f9ece3"/>
<rect x="123.1" y="136.85" width="2.26" height="6.51" fill="#ebf1f5"/>
<rect x="123.1" y="143.3" width="2.26" height="6.51" fill="#c1ddec"/>
<rect x="123.1" y="149.75" width="2.26" height="6.51" fill="#b2d5e7"/>
<rect x="123.1" y="156.2" width="2.26" height="6.51" fill="#f8f1ed"/>
<rect x="123.1" y="162.65" width="2.26" height="6.51" fill="#4b98c6"/>
<rect x="123.1" y="169.1" width="2.26" height="6.51" fill="#4090c1"/>
<rect x="123.1" y="175.55" width="2.26" height="6.51" fill="#65a8ce"/>
<rect x="123.1" y="182" width="2.26" height="6.51" fill="#cce2ef"/>
<rect x="123.1" y="188.45" width="2.26" height="6.51" fill="#f3f5f6"/>
<rect x="123.1" y="194.9" width="2.26" height="6.51" fill="#e2edf3"/>
<rect x="123.1" y="201.35" width="2.26" height="6.51" fill="#d1e5f0"/>
<rect x="123.1" y="207.8" width="2.26" height="6.51" fill="#c1ddeb"/>
<rect x="123.1" y="214.25" width="2.26" height="6.51" fill="#9dcbe1"/>
<rect x="123.1" y="223.1" width="2.26" height="6.4" fill="#6badd1"/>
<rect x="125.3" y="117.5" width="1.36" height="6.51" fill="#cee3ef"/>
<rect x="125.3" y="123.95" width="1.36" height="6.51" fill="#a5cfe4"/>
<rect x="125.3" y="130.4" width="1.36" height="6.51" fill="#e8f0f4"/>
<rect x="125.3" y="136.85" width="1.36" height="6.51" fill="#a9d1e4"/>
<rect x="125.3" y="143.3" width="1.36" height="6.51" fill="#f9eee7"/>
<rect x="125.3" y="149.75" width="1.36" height="6.51" fill="#f8f1ec"/>
<rect x="125.3" y="156.2" width="1.36" height="6.51" fill="#eaf1f5"/>
<rect x="125.3" y="162.65" width="1.36" height="6.51" fill="#b5d7e8"/>
<rect x="125.3" y="169.1" width="1.36" height="6.51" fill="#e0ecf3"/>
<rect x="125.3" y="175.55" width="1.36" height="6.51" fill="#99c8e0"/>
<rect x="125.3" y="182" width="1.36" height="6.51" fill="#e0ecf3"/>
<rect x="125.3" y="188.45" width="1.36" height="6.51" fill="#c1ddec"/>
<rect x="125.3" y="194.9" width="1.36" height="6.51" fill="#f8f2ee"/>
<rect x="125.3" y="201.35" width="1.36" height="6.51" fill="#d7e8f1"/>
<rect x="125.3" y="207.8" width="1.36" height="6.51" fill="#7cb7d6"/>
<rect x="125.3" y="214.25" width="1.36" height="6.51" fill="#d7e8f1"/>
<rect x="125.3" y="223.1" width="1.36" height="6.4" fill="#2b74b3"/>
<rect x="126.6" y="117.5" width="1.56" height="6.51" fill="#d2e6f0"/>
<rect x="126.6" y="123.95" width="1.56" height="6.51" fill="#f0f4f6"/>
<rect x="126.6" y="130.4" width="1.56" height="6.51" fill="#d0e4f0"/>
<rect x="126.6" y="136.85" width="1.56" height="6.51" fill="#cee3ef"/>
<rect x="126.6" y="143.3" width="1.56" height="6.51" fill="#fbe3d4"/>
<rect x="126.6" y="149.75" width="1.56" height="6.51" fill="#fcdfce"/>
<rect x="126.6" y="156.2" width="1.56" height="6.51" fill="#f0f4f6"/>
<rect x="126.6" y="162.65" width="1.56" height="6.51" fill="#6eaed2"/>
<rect x="126.6" y="169.1" width="1.56" height="6.51" fill="#bfdceb"/>
<rect x="126.6" y="175.55" width="1.56" height="6.51" fill="#f9efea"/>
<rect x="126.6" y="182" width="1.56" height="6.51" fill="#faeae1"/>
<rect x="126.6" y="188.45" width="1.56" height="6.51" fill="#f7b495"/>
<rect x="126.6" y="194.9" width="1.56" height="6.51" fill="#fddbc7"/>
<rect x="126.6" y="201.35" width="1.56" height="6.51" fill="#f8bca0"/>
<rect x="126.6" y="207.8" width="1.56" height="6.51" fill="#d6e7f1"/>
<rect x="126.6" y="214.25" width="1.56" height="6.51" fill="#d3e6f0"/>
<rect x="126.6" y="223.1" width="1.56" height="6.4" fill="#2f79b6"/>
<rect x="128.1" y="117.5" width="0.96" height="6.51" fill="#d6e7f1"/>
<rect x="128.1" y="123.95" width="0.96" height="6.51" fill="#c3deec"/>
<rect x="128.1" y="130.4" width="0.96" height="6.51" fill="#deebf2"/>
<rect x="128.1" y="136.85" width="0.96" height="6.51" fill="#a8d0e4"/>
<rect x="128.1" y="143.3" width="0.96" height="6.51" fill="#f6b495"/>
<rect x="128.1" y="149.75" width="0.96" height="6.51" fill="#fddbc8"/>
<rect x="128.1" y="156.2" width="0.96" height="6.51" fill="#f9eee7"/>
<rect x="128.1" y="162.65" width="0.96" height="6.51" fill="#3682ba"/>
<rect x="128.1" y="169.1" width="0.96" height="6.51" fill="#3d8bbf"/>
<rect x="128.1" y="175.55" width="0.96" height="6.51" fill="#a0cce2"/>
<rect x="128.1" y="182" width="0.96" height="6.51" fill="#f7f5f3"/>
<rect x="128.1" y="188.45" width="0.96" height="6.51" fill="#c1ddeb"/>
<rect x="128.1" y="194.9" width="0.96" height="6.51" fill="#e5eef4"/>
<rect x="128.1" y="201.35" width="0.96" height="6.51" fill="#fbe4d6"/>
<rect x="128.1" y="207.8" width="0.96" height="6.51" fill="#f2f5f6"/>
<rect x="128.1" y="214.25" width="0.96" height="6.51" fill="#f9efea"/>
<rect x="128.1" y="223.1" width="0.96" height="6.4" fill="#5ca3cb"/>
<rect x="129" y="117.5" width="2.26" height="6.51" fill="#acd2e5"/>
<rect x="129" y="123.95" width="2.26" height="6.51" fill="#e1edf3"/>
<rect x="129" y="130.4" width="2.26" height="6.51" fill="#e4eef3"/>
<rect x="129" y="136.85" width="2.26" height="6.51" fill="#f6f6f7"/>
<rect x="129" y="143.3" width="2.26" height="6.51" fill="#fbccb4"/>
<rect x="129" y="149.75" width="2.26" height="6.51" fill="#ec9274"/>
<rect x="129" y="156.2" width="2.26" height="6.51" fill="#fce1d1"/>
<rect x="129" y="162.65" width="2.26" height="6.51" fill="#85bdda"/>
<rect x="129" y="169.1" width="2.26" height="6.51" fill="#99c9e0"/>
<rect x="129" y="175.55" width="2.26" height="6.51" fill="#539dc8"/>
<rect x="129" y="182" width="2.26" height="6.51" fill="#f0f4f6"/>
<rect x="129" y="188.45" width="2.26" height="6.51" fill="#fae8dd"/>
<rect x="129" y="194.9" width="2.26" height="6.51" fill="#f7f7f7"/>
<rect x="129" y="201.35" width="2.26" height="6.51" fill="#eff3f6"/>
<rect x="129" y="207.8" width="2.26" height="6.51" fill="#fbe6d9"/>
<rect x="129" y="214.25" width="2.26" height="6.51" fill="#f9c2a7"/>
<rect x="129" y="223.1" width="2.26" height="6.4" fill="#91c4de"/>
<rect x="131.2" y="117.5" width="0.96" height="6.51" fill="#98c8e0"/>
<rect x="131.2" y="123.95" width="0.96" height="6.51" fill="#acd2e5"/>
<rect x="131.2" y="130.4" width="0.96" height="6.51" fill="#fae7dc"/>
<rect x="131.2" y="136.85" width="0.96" height="6.51" fill="#f6f6f7"/>
<rect x="131.2" y="143.3" width="0.96" height="6.51" fill="#f19f7d"/>
<rect x="131.2" y="149.75" width="0.96" height="6.51" fill="#eb9072"/>
<rect x="131.2" y="156.2" width="0.96" height="6.51" fill="#f9ece4"/>
<rect x="131.2" y="162.65" width="0.96" height="6.51" fill="#2f78b5"/>
<rect x="131.2" y="169.1" width="0.96" height="6.51" fill="#a5cfe3"/>
<rect x="131.2" y="175.55" width="0.96" height="6.51" fill="#e9f0f4"/>
<rect x="131.2" y="182" width="0.96" height="6.51" fill="#f4f5f6"/>
<rect x="131.2" y="188.45" width="0.96" height="6.51" fill="#f5f6f7"/>
<rect x="131.2" y="194.9" width="0.96" height="6.51" fill="#f9ece4"/>
<rect x="131.2" y="201.35" width="0.96" height="6.51" fill="#fbd0ba"/>
<rect x="131.2" y="207.8" width="0.96" height="6.51" fill="#d2e6f0"/>
<rect x="131.2" y="214.25" width="0.96" height="6.51" fill="#f9f0ea"/>
<rect x="131.2" y="223.1" width="0.96" height="6.4" fill="#b6d8e8"/>
<rect x="132.1" y="117.5" width="1.56" height="6.51" fill="#bedbea"/>
<rect x="132.1" y="123.95" width="1.56" height="6.51" fill="#d1e5f0"/>
<rect x="132.1" y="130.4" width="1.56" height="6.51" fill="#f9ece5"/>
<rect x="132.1" y="136.85" width="1.56" height="6.51" fill="#e5eef4"/>
<rect x="132.1" y="143.3" width="1.56" height="6.51" fill="#fbcdb6"/>
<rect x="132.1" y="149.75" width="1.56" height="6.51" fill="#fbe4d6"/>
<rect x="132.1" y="156.2" width="1.56" height="6.51" fill="#eaf1f5"/>
<rect x="132.1" y="162.65" width="1.56" height="6.51" fill="#4190c2"/>
<rect x="132.1" y="169.1" width="1.56" height="6.51" fill="#5fa5cd"/>
<rect x="132.1" y="175.55" width="1.56" height="6.51" fill="#cfe4ef"/>
<rect x="132.1" y="182" width="1.56" height="6.51" fill="#f7f7f6"/>
<rect x="132.1" y="188.45" width="1.56" height="6.51" fill="#abd2e5"/>
<rect x="132.1" y="194.9" width="1.56" height="6.51" fill="#fae9df"/>
<rect x="132.1" y="201.35" width="1.56" height="6.51" fill="#f0f4f6"/>
<rect x="132.1" y="207.8" width="1.56" height="6.51" fill="#9ccae1"/>
<rect x="132.1" y="214.25" width="1.56" height="6.51" fill="#eff3f5"/>
<rect x="132.1" y="223.1" width="1.56" height="6.4" fill="#9ecbe1"/>
<rect x="133.6" y="117.5" width="2.26" height="6.51" fill="#cae2ee"/>
<rect x="133.6" y="123.95" width="2.26" height="6.51" fill="#f4f6f6"/>
<rect x="133.6" y="130.4" width="2.26" height="6.51" fill="#faeae1"/>
<rect x="133.6" y="136.85" width="2.26" height="6.51" fill="#eff3f6"/>
<rect x="133.6" y="143.3" width="2.26" height="6.51" fill="#c2383a"/>
<rect x="133.6" y="149.75" width="2.26" height="6.51" fill="#e98c6f"/>
<rect x="133.6" y="156.2" width="2.26" height="6.51" fill="#f7b89a"/>
<rect x="133.6" y="162.65" width="2.26" height="6.51" fill="#95c7df"/>
<rect x="133.6" y="169.1" width="2.26" height="6.51" fill="#f0f4f6"/>
<rect x="133.6" y="175.55" width="2.26" height="6.51" fill="#e0ecf3"/>
<rect x="133.6" y="182" width="2.26" height="6.51" fill="#eef3f5"/>
<rect x="133.6" y="188.45" width="2.26" height="6.51" fill="#e0ecf3"/>
<rect x="133.6" y="194.9" width="2.26" height="6.51" fill="#c9e1ee"/>
<rect x="133.6" y="201.35" width="2.26" height="6.51" fill="#edf2f5"/>
<rect x="133.6" y="207.8" width="2.26" height="6.51" fill="#f4f5f6"/>
<rect x="133.6" y="214.25" width="2.26" height="6.51" fill="#eaf1f5"/>
<rect x="133.6" y="223.1" width="2.26" height="6.4" fill="#c5dfec"/>
<rect x="135.8" y="117.5" width="1.36" height="6.51" fill="#7ab6d6"/>
<rect x="135.8" y="123.95" width="1.36" height="6.51" fill="#a2cde3"/>
<rect x="135.8" y="130.4" width="1.36" height="6.51" fill="#cfe4ef"/>
<rect x="135.8" y="136.85" width="1.36" height="6.51" fill="#f7f6f6"/>
<rect x="135.8" y="143.3" width="1.36" height="6.51" fill="#fac6ad"/>
<rect x="135.8" y="149.75" width="1.36" height="6.51" fill="#f9eee8"/>
<rect x="135.8" y="156.2" width="1.36" height="6.51" fill="#f7f5f4"/>
<rect x="135.8" y="162.65" width="1.36" height="6.51" fill="#8ec2dc"/>
<rect x="135.8" y="169.1" width="1.36" height="6.51" fill="#92c5de"/>
<rect x="135.8" y="175.55" width="1.36" height="6.51" fill="#98c8e0"/>
<rect x="135.8" y="182" width="1.36" height="6.51" fill="#f7f6f6"/>
<rect x="135.8" y="188.45" width="1.36" height="6.51" fill="#ddebf2"/>
<rect x="135.8" y="194.9" width="1.36" height="6.51" fill="#cce2ef"/>
<rect x="135.8" y="201.35" width="1.36" height="6.51" fill="#cde3ef"/>
<rect x="135.8" y="207.8" width="1.36" height="6.51" fill="#faeae2"/>
<rect x="135.8" y="214.25" width="1.36" height="6.51" fill="#dae9f2"/>
<rect x="135.8" y="223.1" width="1.36" height="6.4" fill="#91c4de"/>
<rect x="137.1" y="117.5" width="1.56" height="6.51" fill="#8cc1dc"/>
<rect x="137.1" y="123.95" width="1.56" height="6.51" fill="#f8f4f2"/>
<rect x="137.1" y="130.4" width="1.56" height="6.51" fill="#7db7d7"/>
<rect x="137.1" y="136.85" width="1.56" height="6.51" fill="#f3f5f6"/>
<rect x="137.1" y="143.3" width="1.56" height="6.51" fill="#f9c0a5"/>
<rect x="137.1" y="149.75" width="1.56" height="6.51" fill="#fcd7c2"/>
<rect x="137.1" y="156.2" width="1.56" height="6.51" fill="#deebf2"/>
<rect x="137.1" y="162.65" width="1.56" height="6.51" fill="#74b2d4"/>
<rect x="137.1" y="169.1" width="1.56" height="6.51" fill="#529dc8"/>
<rect x="137.1" y="175.55" width="1.56" height="6.51" fill="#b0d4e7"/>
<rect x="137.1" y="182" width="1.56" height="6.51" fill="#f8f2ee"/>
<rect x="137.1" y="188.45" width="1.56" height="6.51" fill="#bad9e9"/>
<rect x="137.1" y="194.9" width="1.56" height="6.51" fill="#b2d5e7"/>
<rect x="137.1" y="201.35" width="1.56" height="6.51" fill="#a8d0e4"/>
<rect x="137.1" y="207.8" width="1.56" height="6.51" fill="#90c4dd"/>
<rect x="137.1" y="214.25" width="1.56" height="6.51" fill="#9ecbe1"/>
<rect x="137.1" y="223.1" width="1.56" height="6.4" fill="#65a8ce"/>
<rect x="138.6" y="117.5" width="1.86" height="6.51" fill="#9ccae1"/>
<rect x="138.6" y="123.95" width="1.86" height="6.51" fill="#6cadd1"/>
<rect x="138.6" y="130.4" width="1.86" height="6.51" fill="#f2f5f6"/>
<rect x="138.6" y="136.85" width="1.86" height="6.51" fill="#fbe3d5"/>
<rect x="138.6" y="143.3" width="1.86" height="6.51" fill="#c43b3c"/>
<rect x="138.6" y="149.75" width="1.86" height="6.51" fill="#e17a61"/>
<rect x="138.6" y="156.2" width="1.86" height="6.51" fill="#f4a683"/>
<rect x="138.6" y="162.65" width="1.86" height="6.51" fill="#8cc1dc"/>
<rect x="138.6" y="169.1" width="1.86" height="6.51" fill="#e0ecf3"/>
<rect x="138.6" y="175.55" width="1.86" height="6.51" fill="#dceaf2"/>
<rect x="138.6" y="182" width="1.86" height="6.51" fill="#d3e6f0"/>
<rect x="138.6" y="188.45" width="1.86" height="6.51" fill="#f8f0eb"/>
<rect x="138.6" y="194.9" width="1.86" height="6.51" fill="#e7eff4"/>
<rect x="138.6" y="201.35" width="1.86" height="6.51" fill="#e7eff4"/>
<rect x="138.6" y="207.8" width="1.86" height="6.51" fill="#f8f3f0"/>
<rect x="138.6" y="214.25" width="1.86" height="6.51" fill="#ddebf2"/>
<rect x="138.6" y="223.1" width="1.86" height="6.4" fill="#509bc7"/>
<rect x="140.4" y="117.5" width="0.96" height="6.51" fill="#e9f1f5"/>
<rect x="140.4" y="123.95" width="0.96" height="6.51" fill="#e2edf3"/>
<rect x="140.4" y="130.4" width="0.96" height="6.51" fill="#e3edf3"/>
<rect x="140.4" y="136.85" width="0.96" height="6.51" fill="#fce2d3"/>
<rect x="140.4" y="143.3" width="0.96" height="6.51" fill="#ea8e70"/>
<rect x="140.4" y="149.75" width="0.96" height="6.51" fill="#e58267"/>
<rect x="140.4" y="156.2" width="0.96" height="6.51" fill="#f8bea2"/>
<rect x="140.4" y="162.65" width="0.96" height="6.51" fill="#60a5cd"/>
<rect x="140.4" y="169.1" width="0.96" height="6.51" fill="#cde3ef"/>
<rect x="140.4" y="175.55" width="0.96" height="6.51" fill="#c9e1ee"/>
<rect x="140.4" y="182" width="0.96" height="6.51" fill="#fcdecd"/>
<rect x="140.4" y="188.45" width="0.96" height="6.51" fill="#fae9df"/>
<rect x="140.4" y="194.9" width="0.96" height="6.51" fill="#f8f3f0"/>
<rect x="140.4" y="201.35" width="0.96" height="6.51" fill="#fbceb7"/>
<rect x="140.4" y="207.8" width="0.96" height="6.51" fill="#f3f5f6"/>
<rect x="140.4" y="214.25" width="0.96" height="6.51" fill="#d6e8f1"/>
<rect x="140.4" y="223.1" width="0.96" height="6.4" fill="#549ec9"/>
<rect x="141.3" y="117.5" width="2.26" height="6.51" fill="#deebf2"/>
<rect x="141.3" y="123.95" width="2.26" height="6.51" fill="#c7e0ed"/>
<rect x="141.3" y="130.4" width="2.26" height="6.51" fill="#e3eef3"/>
<rect x="141.3" y="136.85" width="2.26" height="6.51" fill="#c9e1ee"/>
<rect x="141.3" y="143.3" width="2.26" height="6.51" fill="#c1ddeb"/>
<rect x="141.3" y="149.75" width="2.26" height="6.51" fill="#4191c2"/>
<rect x="141.3" y="156.2" width="2.26" height="6.51" fill="#9ecbe1"/>
<rect x="141.3" y="162.65" width="2.26" height="6.51" fill="#c2ddec"/>
<rect x="141.3" y="169.1" width="2.26" height="6.51" fill="#4c98c6"/>
<rect x="141.3" y="175.55" width="2.26" height="6.51" fill="#559ec9"/>
<rect x="141.3" y="182" width="2.26" height="6.51" fill="#d5e7f1"/>
<rect x="141.3" y="188.45" width="2.26" height="6.51" fill="#dbeaf2"/>
<rect x="141.3" y="194.9" width="2.26" height="6.51" fill="#f6f6f7"/>
<rect x="141.3" y="201.35" width="2.26" height="6.51" fill="#c2ddec"/>
<rect x="141.3" y="207.8" width="2.26" height="6.51" fill="#7bb7d6"/>
<rect x="141.3" y="214.25" width="2.26" height="6.51" fill="#deebf2"/>
<rect x="141.3" y="223.1" width="2.26" height="6.4" fill="#6eaed2"/>
<rect x="143.5" y="117.5" width="1.36" height="6.51" fill="#bfdceb"/>
<rect x="143.5" y="123.95" width="1.36" height="6.51" fill="#c1ddec"/>
<rect x="143.5" y="130.4" width="1.36" height="6.51" fill="#fbe5d9"/>
<rect x="143.5" y="136.85" width="1.36" height="6.51" fill="#e5eef4"/>
<rect x="143.5" y="143.3" width="1.36" height="6.51" fill="#64a8ce"/>
<rect x="143.5" y="149.75" width="1.36" height="6.51" fill="#4a98c5"/>
<rect x="143.5" y="156.2" width="1.36" height="6.51" fill="#2f78b5"/>
<rect x="143.5" y="162.65" width="1.36" height="6.51" fill="#cde3ef"/>
<rect x="143.5" y="169.1" width="1.36" height="6.51" fill="#5ea4cc"/>
<rect x="143.5" y="175.55" width="1.36" height="6.51" fill="#3079b6"/>
<rect x="143.5" y="182" width="1.36" height="6.51" fill="#c0dceb"/>
<rect x="143.5" y="188.45" width="1.36" height="6.51" fill="#c3deec"/>
<rect x="143.5" y="194.9" width="1.36" height="6.51" fill="#fae9df"/>
<rect x="143.5" y="201.35" width="1.36" height="6.51" fill="#d7e8f1"/>
<rect x="143.5" y="207.8" width="1.36" height="6.51" fill="#d2e5f0"/>
<rect x="143.5" y="214.25" width="1.36" height="6.51" fill="#aed3e6"/>
<rect x="143.5" y="223.1" width="1.36" height="6.4" fill="#a8d0e4"/>
<rect x="144.8" y="117.5" width="1.36" height="6.51" fill="#d7e8f1"/>
<rect x="144.8" y="123.95" width="1.36" height="6.51" fill="#f9eee7"/>
<rect x="144.8" y="130.4" width="1.36" height="6.51" fill="#e0ecf3"/>
<rect x="144.8" y="136.85" width="1.36" height="6.51" fill="#dfebf3"/>
<rect x="144.8" y="143.3" width="1.36" height="6.51" fill="#61a6cd"/>
<rect x="144.8" y="149.75" width="1.36" height="6.51" fill="#76b3d4"/>
<rect x="144.8" y="156.2" width="1.36" height="6.51" fill="#dfecf3"/>
<rect x="144.8" y="162.65" width="1.36" height="6.51" fill="#d9e9f1"/>
<rect x="144.8" y="169.1" width="1.36" height="6.51" fill="#a2cde2"/>
<rect x="144.8" y="175.55" width="1.36" height="6.51" fill="#83bcd9"/>
<rect x="144.8" y="182" width="1.36" height="6.51" fill="#dfecf3"/>
<rect x="144.8" y="188.45" width="1.36" height="6.51" fill="#a6cfe4"/>
<rect x="144.8" y="194.9" width="1.36" height="6.51" fill="#f9c2a7"/>
<rect x="144.8" y="201.35" width="1.36" height="6.51" fill="#dbeaf2"/>
<rect x="144.8" y="207.8" width="1.36" height="6.51" fill="#d2e5f0"/>
<rect x="144.8" y="214.25" width="1.36" height="6.51" fill="#b3d6e7"/>
<rect x="144.8" y="223.1" width="1.36" height="6.4" fill="#a2cde2"/>
<rect x="146.1" y="117.5" width="1.16" height="6.51" fill="#edf2f5"/>
<rect x="146.1" y="123.95" width="1.16" height="6.51" fill="#d0e5f0"/>
<rect x="146.1" y="130.4" width="1.16" height="6.51" fill="#aed3e6"/>
<rect x="146.1" y="136.85" width="1.16" height="6.51" fill="#b3d6e8"/>
<rect x="146.1" y="143.3" width="1.16" height="6.51" fill="#6bacd1"/>
<rect x="146.1" y="149.75" width="1.16" height="6.51" fill="#60a6cd"/>
<rect x="146.1" y="156.2" width="1.16" height="6.51" fill="#d2e5f0"/>
<rect x="146.1" y="162.65" width="1.16" height="6.51" fill="#f7f7f7"/>
<rect x="146.1" y="169.1" width="1.16" height="6.51" fill="#569fc9"/>
<rect x="146.1" y="175.55" width="1.16" height="6.51" fill="#7ab6d6"/>
<rect x="146.1" y="182" width="1.16" height="6.51" fill="#e7f0f4"/>
<rect x="146.1" y="188.45" width="1.16" height="6.51" fill="#e7eff4"/>
<rect x="146.1" y="194.9" width="1.16" height="6.51" fill="#fae9df"/>
<rect x="146.1" y="201.35" width="1.16" height="6.51" fill="#e1edf3"/>
<rect x="146.1" y="207.8" width="1.16" height="6.51" fill="#e3edf3"/>
<rect x="146.1" y="214.25" width="1.16" height="6.51" fill="#f7f7f7"/>
<rect x="146.1" y="223.1" width="1.16" height="6.4" fill="#9bcae1"/>
<rect x="147.2" y="117.5" width="1.86" height="6.51" fill="#aed3e6"/>
<rect x="147.2" y="123.95" width="1.86" height="6.51" fill="#2f78b5"/>
<rect x="147.2" y="130.4" width="1.86" height="6.51" fill="#e2edf3"/>
<rect x="147.2" y="136.85" width="1.86" height="6.51" fill="#93c6de"/>
<rect x="147.2" y="143.3" width="1.86" height="6.51" fill="#2f78b5"/>
<rect x="147.2" y="149.75" width="1.86" height="6.51" fill="#4c99c6"/>
<rect x="147.2" y="156.2" width="1.86" height="6.51" fill="#a9d1e5"/>
<rect x="147.2" y="162.65" width="1.86" height="6.51" fill="#e2edf3"/>
<rect x="147.2" y="169.1" width="1.86" height="6.51" fill="#509bc8"/>
<rect x="147.2" y="175.55" width="1.86" height="6.51" fill="#2f78b5"/>
<rect x="147.2" y="182" width="1.86" height="6.51" fill="#dfecf3"/>
<rect x="147.2" y="188.45" width="1.86" height="6.51" fill="#d6e7f1"/>
<rect x="147.2" y="194.9" width="1.86" height="6.51" fill="#cfe4ef"/>
<rect x="147.2" y="201.35" width="1.86" height="6.51" fill="#b8d8e9"/>
<rect x="147.2" y="207.8" width="1.86" height="6.51" fill="#d7e8f1"/>
<rect x="147.2" y="214.25" width="1.86" height="6.51" fill="#ecf2f5"/>
<rect x="147.2" y="223.1" width="1.86" height="6.4" fill="#5ca3cb"/>
<rect x="149" y="117.5" width="1.36" height="6.51" fill="#e5eef4"/>
<rect x="149" y="123.95" width="1.36" height="6.51" fill="#f0f4f6"/>
<rect x="149" y="130.4" width="1.36" height="6.51" fill="#fbe6d9"/>
<rect x="149" y="136.85" width="1.36" height="6.51" fill="#a9d1e4"/>
<rect x="149" y="143.3" width="1.36" height="6.51" fill="#bbdaea"/>
<rect x="149" y="149.75" width="1.36" height="6.51" fill="#4f9bc7"/>
<rect x="149" y="156.2" width="1.36" height="6.51" fill="#347fb9"/>
<rect x="149" y="162.65" width="1.36" height="6.51" fill="#e7eff4"/>
<rect x="149" y="169.1" width="1.36" height="6.51" fill="#57a0ca"/>
<rect x="149" y="175.55" width="1.36" height="6.51" fill="#3885bc"/>
<rect x="149" y="182" width="1.36" height="6.51" fill="#e9f0f4"/>
<rect x="149" y="188.45" width="1.36" height="6.51" fill="#eaf1f5"/>
<rect x="149" y="194.9" width="1.36" height="6.51" fill="#cfe4f0"/>
<rect x="149" y="201.35" width="1.36" height="6.51" fill="#dceaf2"/>
<rect x="149" y="207.8" width="1.36" height="6.51" fill="#93c6de"/>
<rect x="149" y="214.25" width="1.36" height="6.51" fill="#f2f5f6"/>
<rect x="149" y="223.1" width="1.36" height="6.4" fill="#8ec3dd"/>
<rect x="150.3" y="117.5" width="0.96" height="6.51" fill="#d6e7f1"/>
<rect x="150.3" y="123.95" width="0.96" height="6.51" fill="#e4eef4"/>
<rect x="150.3" y="130.4" width="0.96" height="6.51" fill="#f8f5f3"/>
<rect x="150.3" y="136.85" width="0.96" height="6.51" fill="#f3f5f6"/>
<rect x="150.3" y="143.3" width="0.96" height="6.51" fill="#8ac0db"/>
<rect x="150.3" y="149.75" width="0.96" height="6.51" fill="#3885bc"/>
<rect x="150.3" y="156.2" width="0.96" height="6.51" fill="#bedbeb"/>
<rect x="150.3" y="162.65" width="0.96" height="6.51" fill="#eff3f6"/>
<rect x="150.3" y="169.1" width="0.96" height="6.51" fill="#9bcae1"/>
<rect x="150.3" y="175.55" width="0.96" height="6.51" fill="#4190c2"/>
<rect x="150.3" y="182" width="0.96" height="6.51" fill="#fbe3d5"/>
<rect x="150.3" y="188.45" width="0.96" height="6.51" fill="#d3e6f0"/>
<rect x="150.3" y="194.9" width="0.96" height="6.51" fill="#d7e8f1"/>
<rect x="150.3" y="201.35" width="0.96" height="6.51" fill="#e2edf3"/>
<rect x="150.3" y="207.8" width="0.96" height="6.51" fill="#e8f0f4"/>
<rect x="150.3" y="214.25" width="0.96" height="6.51" fill="#d4e7f1"/>
<rect x="150.3" y="223.1" width="0.96" height="6.4" fill="#4f9bc7"/>
<rect x="151.2" y="117.5" width="0.96" height="6.51" fill="#c6dfed"/>
<rect x="151.2" y="123.95" width="0.96" height="6.51" fill="#8dc2dc"/>
<rect x="151.2" y="130.4" width="0.96" height="6.51" fill="#c5dfec"/>
<rect x="151.2" y="136.85" width="0.96" height="6.51" fill="#8ac0db"/>
<rect x="151.2" y="143.3" width="0.96" height="6.51" fill="#4d99c6"/>
<rect x="151.2" y="149.75" width="0.96" height="6.51" fill="#3581ba"/>
<rect x="151.2" y="156.2" width="0.96" height="6.51" fill="#559fc9"/>
<rect x="151.2" y="162.65" width="0.96" height="6.51" fill="#59a1ca"/>
<rect x="151.2" y="169.1" width="0.96" height="6.51" fill="#2f78b5"/>
<rect x="151.2" y="175.55" width="0.96" height="6.51" fill="#3884bc"/>
<rect x="151.2" y="182" width="0.96" height="6.51" fill="#337eb8"/>
<rect x="151.2" y="188.45" width="0.96" height="6.51" fill="#87beda"/>
<rect x="151.2" y="194.9" width="0.96" height="6.51" fill="#e4eef4"/>
<rect x="151.2" y="201.35" width="0.96" height="6.51" fill="#bbdaea"/>
<rect x="151.2" y="207.8" width="0.96" height="6.51" fill="#79b5d5"/>
<rect x="151.2" y="214.25" width="0.96" height="6.51" fill="#80bad8"/>
<rect x="151.2" y="223.1" width="0.96" height="6.4" fill="#4090c1"/>
<rect x="152.1" y="117.5" width="1.86" height="6.51" fill="#f1f4f6"/>
<rect x="152.1" y="123.95" width="1.86" height="6.51" fill="#f9ede6"/>
<rect x="152.1" y="130.4" width="1.86" height="6.51" fill="#f7b799"/>
<rect x="152.1" y="136.85" width="1.86" height="6.51" fill="#fbccb4"/>
<rect x="152.1" y="143.3" width="1.86" height="6.51" fill="#e5eff4"/>
<rect x="152.1" y="149.75" width="1.86" height="6.51" fill="#bbdaea"/>
<rect x="152.1" y="156.2" width="1.86" height="6.51" fill="#eef3f5"/>
<rect x="152.1" y="162.65" width="1.86" height="6.51" fill="#f2f4f6"/>
<rect x="152.1" y="169.1" width="1.86" height="6.51" fill="#d3e6f0"/>
<rect x="152.1" y="175.55" width="1.86" height="6.51" fill="#7eb8d7"/>
<rect x="152.1" y="182" width="1.86" height="6.51" fill="#fcdfcd"/>
<rect x="152.1" y="188.45" width="1.86" height="6.51" fill="#fddac6"/>
<rect x="152.1" y="194.9" width="1.86" height="6.51" fill="#f9c0a5"/>
<rect x="152.1" y="201.35" width="1.86" height="6.51" fill="#f8f3ef"/>
<rect x="152.1" y="207.8" width="1.86" height="6.51" fill="#faebe3"/>
<rect x="152.1" y="214.25" width="1.86" height="6.51" fill="#f9eee8"/>
<rect x="152.1" y="223.1" width="1.86" height="6.4" fill="#60a5cd"/>
<rect x="153.9" y="117.5" width="0.96" height="6.51" fill="#f0f4f6"/>
<rect x="153.9" y="123.95" width="0.96" height="6.51" fill="#d3e6f0"/>
<rect x="153.9" y="130.4" width="0.96" height="6.51" fill="#f6f7f7"/>
<rect x="153.9" y="136.85" width="0.96" height="6.51" fill="#c3deec"/>
<rect x="153.9" y="143.3" width="0.96" height="6.51" fill="#7bb6d6"/>
<rect x="153.9" y="149.75" width="0.96" height="6.51" fill="#4190c1"/>
<rect x="153.9" y="156.2" width="0.96" height="6.51" fill="#abd2e5"/>
<rect x="153.9" y="162.65" width="0.96" height="6.51" fill="#f9efea"/>
<rect x="153.9" y="169.1" width="0.96" height="6.51" fill="#89c0db"/>
<rect x="153.9" y="175.55" width="0.96" height="6.51" fill="#5fa5cd"/>
<rect x="153.9" y="182" width="0.96" height="6.51" fill="#f8f0ec"/>
<rect x="153.9" y="188.45" width="0.96" height="6.51" fill="#e7eff4"/>
<rect x="153.9" y="194.9" width="0.96" height="6.51" fill="#f8f2ef"/>
<rect x="153.9" y="201.35" width="0.96" height="6.51" fill="#c4deec"/>
<rect x="153.9" y="207.8" width="0.96" height="6.51" fill="#e6eff4"/>
<rect x="153.9" y="214.25" width="0.96" height="6.51" fill="#d6e7f1"/>
<rect x="153.9" y="223.1" width="0.96" height="6.4" fill="#86beda"/>
<rect x="154.8" y="117.5" width="1.56" height="6.51" fill="#d3e6f0"/>
<rect x="154.8" y="123.95" width="1.56" height="6.51" fill="#91c5de"/>
<rect x="154.8" y="130.4" width="1.56" height="6.51" fill="#fae8dd"/>
<rect x="154.8" y="136.85" width="1.56" height="6.51" fill="#bfdceb"/>
<rect x="154.8" y="143.3" width="1.56" height="6.51" fill="#6badd1"/>
<rect x="154.8" y="149.75" width="1.56" height="6.51" fill="#58a0ca"/>
<rect x="154.8" y="156.2" width="1.56" height="6.51" fill="#84bcd9"/>
<rect x="154.8" y="162.65" width="1.56" height="6.51" fill="#90c4dd"/>
<rect x="154.8" y="169.1" width="1.56" height="6.51" fill="#66a9cf"/>
<rect x="154.8" y="175.55" width="1.56" height="6.51" fill="#79b5d5"/>
<rect x="154.8" y="182" width="1.56" height="6.51" fill="#dceaf2"/>
<rect x="154.8" y="188.45" width="1.56" height="6.51" fill="#77b4d5"/>
<rect x="154.8" y="194.9" width="1.56" height="6.51" fill="#bcdaea"/>
<rect x="154.8" y="201.35" width="1.56" height="6.51" fill="#e0ecf3"/>
<rect x="154.8" y="207.8" width="1.56" height="6.51" fill="#8ec3dd"/>
<rect x="154.8" y="214.25" width="1.56" height="6.51" fill="#bddbea"/>
<rect x="154.8" y="223.1" width="1.56" height="6.4" fill="#5da3cc"/>
<rect x="156.3" y="117.5" width="0.96" height="6.51" fill="#bfdceb"/>
<rect x="156.3" y="123.95" width="0.96" height="6.51" fill="#d7e8f1"/>
<rect x="156.3" y="130.4" width="0.96" height="6.51" fill="#63a8ce"/>
<rect x="156.3" y="136.85" width="0.96" height="6.51" fill="#6fafd2"/>
<rect x="156.3" y="143.3" width="0.96" height="6.51" fill="#aad1e5"/>
<rect x="156.3" y="149.75" width="0.96" height="6.51" fill="#63a7ce"/>
<rect x="156.3" y="156.2" width="0.96" height="6.51" fill="#87beda"/>
<rect x="156.3" y="162.65" width="0.96" height="6.51" fill="#88bfdb"/>
<rect x="156.3" y="169.1" width="0.96" height="6.51" fill="#3a87bd"/>
<rect x="156.3" y="175.55" width="0.96" height="6.51" fill="#2f78b5"/>
<rect x="156.3" y="182" width="0.96" height="6.51" fill="#fbe6da"/>
<rect x="156.3" y="188.45" width="0.96" height="6.51" fill="#d3e6f0"/>
<rect x="156.3" y="194.9" width="0.96" height="6.51" fill="#e1ecf3"/>
<rect x="156.3" y="201.35" width="0.96" height="6.51" fill="#cce2ef"/>
<rect x="156.3" y="207.8" width="0.96" height="6.51" fill="#e9f0f4"/>
<rect x="156.3" y="214.25" width="0.96" height="6.51" fill="#c2deec"/>
<rect x="156.3" y="223.1" width="0.96" height="6.4" fill="#80bad8"/>
<rect x="157.2" y="117.5" width="1.36" height="6.51" fill="#93c6de"/>
<rect x="157.2" y="123.95" width="1.36" height="6.51" fill="#a4cee3"/>
<rect x="157.2" y="130.4" width="1.36" height="6.51" fill="#e2edf3"/>
<rect x="157.2" y="136.85" width="1.36" height="6.51" fill="#93c6de"/>
<rect x="157.2" y="143.3" width="1.36" height="6.51" fill="#2f78b5"/>
<rect x="157.2" y="149.75" width="1.36" height="6.51" fill="#2f78b5"/>
<rect x="157.2" y="156.2" width="1.36" height="6.51" fill="#408ec1"/>
<rect x="157.2" y="162.65" width="1.36" height="6.51" fill="#dceaf2"/>
<rect x="157.2" y="169.1" width="1.36" height="6.51" fill="#2f78b5"/>
<rect x="157.2" y="175.55" width="1.36" height="6.51" fill="#2f78b5"/>
<rect x="157.2" y="182" width="1.36" height="6.51" fill="#e1edf3"/>
<rect x="157.2" y="188.45" width="1.36" height="6.51" fill="#d4e6f0"/>
<rect x="157.2" y="194.9" width="1.36" height="6.51" fill="#abd2e5"/>
<rect x="157.2" y="201.35" width="1.36" height="6.51" fill="#a7d0e4"/>
<rect x="157.2" y="207.8" width="1.36" height="6.51" fill="#529dc8"/>
<rect x="157.2" y="214.25" width="1.36" height="6.51" fill="#84bcd9"/>
<rect x="157.2" y="223.1" width="1.36" height="6.4" fill="#2c75b3"/>
<rect x="158.5" y="117.5" width="1.56" height="6.51" fill="#bedbea"/>
<rect x="158.5" y="123.95" width="1.56" height="6.51" fill="#afd4e6"/>
<rect x="158.5" y="130.4" width="1.56" height="6.51" fill="#c6e0ed"/>
<rect x="158.5" y="136.85" width="1.56" height="6.51" fill="#c3deec"/>
<rect x="158.5" y="143.3" width="1.56" height="6.51" fill="#77b4d5"/>
<rect x="158.5" y="149.75" width="1.56" height="6.51" fill="#63a7ce"/>
<rect x="158.5" y="156.2" width="1.56" height="6.51" fill="#eaf1f5"/>
<rect x="158.5" y="162.65" width="1.56" height="6.51" fill="#bbdaea"/>
<rect x="158.5" y="169.1" width="1.56" height="6.51" fill="#5ca3cc"/>
<rect x="158.5" y="175.55" width="1.56" height="6.51" fill="#529cc8"/>
<rect x="158.5" y="182" width="1.56" height="6.51" fill="#f9ede6"/>
<rect x="158.5" y="188.45" width="1.56" height="6.51" fill="#f1f4f6"/>
<rect x="158.5" y="194.9" width="1.56" height="6.51" fill="#fae9df"/>
<rect x="158.5" y="201.35" width="1.56" height="6.51" fill="#e9f0f4"/>
<rect x="158.5" y="207.8" width="1.56" height="6.51" fill="#dfecf3"/>
<rect x="158.5" y="214.25" width="1.56" height="6.51" fill="#eef3f5"/>
<rect x="158.5" y="223.1" width="1.56" height="6.4" fill="#87beda"/>
<rect x="160" y="117.5" width="0.96" height="6.51" fill="#aed3e6"/>
<rect x="160" y="123.95" width="0.96" height="6.51" fill="#70b0d2"/>
<rect x="160" y="130.4" width="0.96" height="6.51" fill="#e6eff4"/>
<rect x="160" y="136.85" width="0.96" height="6.51" fill="#bfdceb"/>
<rect x="160" y="143.3" width="0.96" height="6.51" fill="#7bb6d6"/>
<rect x="160" y="149.75" width="0.96" height="6.51" fill="#acd2e5"/>
<rect x="160" y="156.2" width="0.96" height="6.51" fill="#4594c4"/>
<rect x="160" y="162.65" width="0.96" height="6.51" fill="#e2edf3"/>
<rect x="160" y="169.1" width="0.96" height="6.51" fill="#5ea4cc"/>
<rect x="160" y="175.55" width="0.96" height="6.51" fill="#2f78b5"/>
<rect x="160" y="182" width="0.96" height="6.51" fill="#deebf2"/>
<rect x="160" y="188.45" width="0.96" height="6.51" fill="#a0cce2"/>
<rect x="160" y="194.9" width="0.96" height="6.51" fill="#f8f3f0"/>
<rect x="160" y="201.35" width="0.96" height="6.51" fill="#d6e8f1"/>
<rect x="160" y="207.8" width="0.96" height="6.51" fill="#f8f4f3"/>
<rect x="160" y="214.25" width="0.96" height="6.51" fill="#c7e0ed"/>
<rect x="160" y="223.1" width="0.96" height="6.4" fill="#a0cce2"/>
<rect x="160.9" y="117.5" width="0.96" height="6.51" fill="#6eaed2"/>
<rect x="160.9" y="123.95" width="0.96" height="6.51" fill="#e2edf3"/>
<rect x="160.9" y="130.4" width="0.96" height="6.51" fill="#b0d4e7"/>
<rect x="160.9" y="136.85" width="0.96" height="6.51" fill="#a5cee3"/>
<rect x="160.9" y="143.3" width="0.96" height="6.51" fill="#abd1e5"/>
<rect x="160.9" y="149.75" width="0.96" height="6.51" fill="#347fb9"/>
<rect x="160.9" y="156.2" width="0.96" height="6.51" fill="#5ea4cc"/>
<rect x="160.9" y="162.65" width="0.96" height="6.51" fill="#d9e9f1"/>
<rect x="160.9" y="169.1" width="0.96" height="6.51" fill="#4291c2"/>
<rect x="160.9" y="175.55" width="0.96" height="6.51" fill="#2f78b5"/>
<rect x="160.9" y="182" width="0.96" height="6.51" fill="#f9ede6"/>
<rect x="160.9" y="188.45" width="0.96" height="6.51" fill="#e0ecf3"/>
<rect x="160.9" y="194.9" width="0.96" height="6.51" fill="#f7f5f4"/>
<rect x="160.9" y="201.35" width="0.96" height="6.51" fill="#f9eee8"/>
<rect x="160.9" y="207.8" width="0.96" height="6.51" fill="#d7e8f1"/>
<rect x="160.9" y="214.25" width="0.96" height="6.51" fill="#fbd1ba"/>
<rect x="160.9" y="223.1" width="0.96" height="6.4" fill="#519cc8"/>
<rect x="161.8" y="117.5" width="2.26" height="6.51" fill="#faeae1"/>
<rect x="161.8" y="123.95" width="2.26" height="6.51" fill="#bddbea"/>
<rect x="161.8" y="130.4" width="2.26" height="6.51" fill="#faeae0"/>
<rect x="161.8" y="136.85" width="2.26" height="6.51" fill="#b6d7e8"/>
<rect x="161.8" y="143.3" width="2.26" height="6.51" fill="#e5eef4"/>
<rect x="161.8" y="149.75" width="2.26" height="6.51" fill="#aed3e6"/>
<rect x="161.8" y="156.2" width="2.26" height="6.51" fill="#cee3ef"/>
<rect x="161.8" y="162.65" width="2.26" height="6.51" fill="#e9f0f4"/>
<rect x="161.8" y="169.1" width="2.26" height="6.51" fill="#72b1d3"/>
<rect x="161.8" y="175.55" width="2.26" height="6.51" fill="#a5cfe4"/>
<rect x="161.8" y="182" width="2.26" height="6.51" fill="#f9ede5"/>
<rect x="161.8" y="188.45" width="2.26" height="6.51" fill="#ebf1f5"/>
<rect x="161.8" y="194.9" width="2.26" height="6.51" fill="#86bdda"/>
<rect x="161.8" y="201.35" width="2.26" height="6.51" fill="#faeae1"/>
<rect x="161.8" y="207.8" width="2.26" height="6.51" fill="#f8f2ef"/>
<rect x="161.8" y="214.25" width="2.26" height="6.51" fill="#fcdecc"/>
<rect x="161.8" y="223.1" width="2.26" height="6.4" fill="#88bfdb"/>
<rect x="164" y="117.5" width="0.96" height="6.51" fill="#a5cfe3"/>
<rect x="164" y="123.95" width="0.96" height="6.51" fill="#7db8d7"/>
<rect x="164" y="130.4" width="0.96" height="6.51" fill="#f1f4f6"/>
<rect x="164" y="136.85" width="0.96" height="6.51" fill="#cbe2ee"/>
<rect x="164" y="143.3" width="0.96" height="6.51" fill="#347fb9"/>
<rect x="164" y="149.75" width="0.96" height="6.51" fill="#2f78b5"/>
<rect x="164" y="156.2" width="0.96" height="6.51" fill="#a1cce2"/>
<rect x="164" y="162.65" width="0.96" height="6.51" fill="#b3d6e8"/>
<rect x="164" y="169.1" width="0.96" height="6.51" fill="#2f78b5"/>
<rect x="164" y="175.55" width="0.96" height="6.51" fill="#2f78b5"/>
<rect x="164" y="182" width="0.96" height="6.51" fill="#e7eff4"/>
<rect x="164" y="188.45" width="0.96" height="6.51" fill="#5aa1cb"/>
<rect x="164" y="194.9" width="0.96" height="6.51" fill="#aed3e6"/>
<rect x="164" y="201.35" width="0.96" height="6.51" fill="#c8e0ed"/>
<rect x="164" y="207.8" width="0.96" height="6.51" fill="#bedbeb"/>
<rect x="164" y="214.25" width="0.96" height="6.51" fill="#f5f6f7"/>
<rect x="164" y="223.1" width="0.96" height="6.4" fill="#b9d9e9"/>
<rect x="164.9" y="117.5" width="1.16" height="6.51" fill="#f9ede6"/>
<rect x="164.9" y="123.95" width="1.16" height="6.51" fill="#edf2f5"/>
<rect x="164.9" y="130.4" width="1.16" height="6.51" fill="#faeae1"/>
<rect x="164.9" y="136.85" width="1.16" height="6.51" fill="#fbe3d5"/>
<rect x="164.9" y="143.3" width="1.16" height="6.51" fill="#e8f0f4"/>
<rect x="164.9" y="149.75" width="1.16" height="6.51" fill="#f8f3f0"/>
<rect x="164.9" y="156.2" width="1.16" height="6.51" fill="#f9eee8"/>
<rect x="164.9" y="162.65" width="1.16" height="6.51" fill="#9ccae1"/>
<rect x="164.9" y="169.1" width="1.16" height="6.51" fill="#d2e5f0"/>
<rect x="164.9" y="175.55" width="1.16" height="6.51" fill="#59a1cb"/>
<rect x="164.9" y="182" width="1.16" height="6.51" fill="#f0f4f6"/>
<rect x="164.9" y="188.45" width="1.16" height="6.51" fill="#e3eef3"/>
<rect x="164.9" y="194.9" width="1.16" height="6.51" fill="#f6f7f7"/>
<rect x="164.9" y="201.35" width="1.16" height="6.51" fill="#fbd0b9"/>
<rect x="164.9" y="207.8" width="1.16" height="6.51" fill="#f2f5f6"/>
<rect x="164.9" y="214.25" width="1.16" height="6.51" fill="#e0ecf3"/>
<rect x="164.9" y="223.1" width="1.16" height="6.4" fill="#c0dceb"/>
<rect x="166" y="117.5" width="1.16" height="6.51" fill="#fbe6d9"/>
<rect x="166" y="123.95" width="1.16" height="6.51" fill="#f8f5f3"/>
<rect x="166" y="130.4" width="1.16" height="6.51" fill="#f9eee8"/>
<rect x="166" y="136.85" width="1.16" height="6.51" fill="#fbe4d7"/>
<rect x="166" y="143.3" width="1.16" height="6.51" fill="#d8e8f1"/>
<rect x="166" y="149.75" width="1.16" height="6.51" fill="#bcdaea"/>
<rect x="166" y="156.2" width="1.16" height="6.51" fill="#fae8de"/>
<rect x="166" y="162.65" width="1.16" height="6.51" fill="#aad1e5"/>
<rect x="166" y="169.1" width="1.16" height="6.51" fill="#d0e5f0"/>
<rect x="166" y="175.55" width="1.16" height="6.51" fill="#5aa1cb"/>
<rect x="166" y="182" width="1.16" height="6.51" fill="#edf2f5"/>
<rect x="166" y="188.45" width="1.16" height="6.51" fill="#e0ecf3"/>
<rect x="166" y="194.9" width="1.16" height="6.51" fill="#eaf1f5"/>
<rect x="166" y="201.35" width="1.16" height="6.51" fill="#f9c2a6"/>
<rect x="166" y="207.8" width="1.16" height="6.51" fill="#d2e5f0"/>
<rect x="166" y="214.25" width="1.16" height="6.51" fill="#fbe5d8"/>
<rect x="166" y="223.1" width="1.16" height="6.4" fill="#b0d4e7"/>
<rect x="167.1" y="117.5" width="0.96" height="6.51" fill="#d2e5f0"/>
<rect x="167.1" y="123.95" width="0.96" height="6.51" fill="#f3f5f6"/>
<rect x="167.1" y="130.4" width="0.96" height="6.51" fill="#fbe3d4"/>
<rect x="167.1" y="136.85" width="0.96" height="6.51" fill="#fae9df"/>
<rect x="167.1" y="143.3" width="0.96" height="6.51" fill="#f9ece4"/>
<rect x="167.1" y="149.75" width="0.96" height="6.51" fill="#fbe4d6"/>
<rect x="167.1" y="156.2" width="0.96" height="6.51" fill="#f9ece5"/>
<rect x="167.1" y="162.65" width="0.96" height="6.51" fill="#c6e0ed"/>
<rect x="167.1" y="169.1" width="0.96" height="6.51" fill="#acd2e6"/>
<rect x="167.1" y="175.55" width="0.96" height="6.51" fill="#afd4e6"/>
<rect x="167.1" y="182" width="0.96" height="6.51" fill="#f9eee8"/>
<rect x="167.1" y="188.45" width="0.96" height="6.51" fill="#fae8dd"/>
<rect x="167.1" y="194.9" width="0.96" height="6.51" fill="#ef9a7a"/>
<rect x="167.1" y="201.35" width="0.96" height="6.51" fill="#fbcfb7"/>
<rect x="167.1" y="207.8" width="0.96" height="6.51" fill="#f2f5f6"/>
<rect x="167.1" y="214.25" width="0.96" height="6.51" fill="#fae7dc"/>
<rect x="167.1" y="223.1" width="0.96" height="6.4" fill="#6badd1"/>
<rect x="168" y="117.5" width="1.56" height="6.51" fill="#bddbea"/>
<rect x="168" y="123.95" width="1.56" height="6.51" fill="#eaf1f5"/>
<rect x="168" y="130.4" width="1.56" height="6.51" fill="#b8d8e9"/>
<rect x="168" y="136.85" width="1.56" height="6.51" fill="#f4f6f6"/>
<rect x="168" y="143.3" width="1.56" height="6.51" fill="#57a0ca"/>
<rect x="168" y="149.75" width="1.56" height="6.51" fill="#fcddcb"/>
<rect x="168" y="156.2" width="1.56" height="6.51" fill="#fae8de"/>
<rect x="168" y="162.65" width="1.56" height="6.51" fill="#559ec9"/>
<rect x="168" y="169.1" width="1.56" height="6.51" fill="#d5e7f1"/>
<rect x="168" y="175.55" width="1.56" height="6.51" fill="#8cc2dc"/>
<rect x="168" y="182" width="1.56" height="6.51" fill="#fac9b0"/>
<rect x="168" y="188.45" width="1.56" height="6.51" fill="#f9ece3"/>
<rect x="168" y="194.9" width="1.56" height="6.51" fill="#f1f4f6"/>
<rect x="168" y="201.35" width="1.56" height="6.51" fill="#eff3f6"/>
<rect x="168" y="207.8" width="1.56" height="6.51" fill="#f4f6f6"/>
<rect x="168" y="214.25" width="1.56" height="6.51" fill="#bddbea"/>
<rect x="168" y="223.1" width="1.56" height="6.4" fill="#d6e8f1"/>
<rect x="169.5" y="117.5" width="1.56" height="6.51" fill="#d4e7f1"/>
<rect x="169.5" y="123.95" width="1.56" height="6.51" fill="#d3e6f0"/>
<rect x="169.5" y="130.4" width="1.56" height="6.51" fill="#ecf2f5"/>
<rect x="169.5" y="136.85" width="1.56" height="6.51" fill="#ecf2f5"/>
<rect x="169.5" y="143.3" width="1.56" height="6.51" fill="#fac8af"/>
<rect x="169.5" y="149.75" width="1.56" height="6.51" fill="#e8f0f4"/>
<rect x="169.5" y="156.2" width="1.56" height="6.51" fill="#f7f6f5"/>
<rect x="169.5" y="162.65" width="1.56" height="6.51" fill="#88bfdb"/>
<rect x="169.5" y="169.1" width="1.56" height="6.51" fill="#f0f4f6"/>
<rect x="169.5" y="175.55" width="1.56" height="6.51" fill="#b4d6e8"/>
<rect x="169.5" y="182" width="1.56" height="6.51" fill="#fbd0b9"/>
<rect x="169.5" y="188.45" width="1.56" height="6.51" fill="#bcdaea"/>
<rect x="169.5" y="194.9" width="1.56" height="6.51" fill="#ebf1f5"/>
<rect x="169.5" y="201.35" width="1.56" height="6.51" fill="#f8f3f0"/>
<rect x="169.5" y="207.8" width="1.56" height="6.51" fill="#f0f4f6"/>
<rect x="169.5" y="214.25" width="1.56" height="6.51" fill="#f8f2ee"/>
<rect x="169.5" y="223.1" width="1.56" height="6.4" fill="#cde3ef"/>
<rect x="171" y="117.5" width="2.26" height="6.51" fill="#e2edf3"/>
<rect x="171" y="123.95" width="2.26" height="6.51" fill="#abd2e5"/>
<rect x="171" y="130.4" width="2.26" height="6.51" fill="#f3f5f6"/>
<rect x="171" y="136.85" width="2.26" height="6.51" fill="#dbeaf2"/>
<rect x="171" y="143.3" width="2.26" height="6.51" fill="#f9f0eb"/>
<rect x="171" y="149.75" width="2.26" height="6.51" fill="#f3f5f6"/>
<rect x="171" y="156.2" width="2.26" height="6.51" fill="#dbeaf2"/>
<rect x="171" y="162.65" width="2.26" height="6.51" fill="#bbdaea"/>
<rect x="171" y="169.1" width="2.26" height="6.51" fill="#8fc3dd"/>
<rect x="171" y="175.55" width="2.26" height="6.51" fill="#8cc1dc"/>
<rect x="171" y="182" width="2.26" height="6.51" fill="#ddeaf2"/>
<rect x="171" y="188.45" width="2.26" height="6.51" fill="#f8f1ed"/>
<rect x="171" y="194.9" width="2.26" height="6.51" fill="#e8f0f4"/>
<rect x="171" y="201.35" width="2.26" height="6.51" fill="#f8f2ef"/>
<rect x="171" y="207.8" width="2.26" height="6.51" fill="#d3e6f0"/>
<rect x="171" y="214.25" width="2.26" height="6.51" fill="#add3e6"/>
<rect x="171" y="223.1" width="2.26" height="6.4" fill="#d1e5f0"/>
<rect x="173.2" y="117.5" width="1.56" height="6.51" fill="#fdd9c5"/>
<rect x="173.2" y="123.95" width="1.56" height="6.51" fill="#aed3e6"/>
<rect x="173.2" y="130.4" width="1.56" height="6.51" fill="#87beda"/>
<rect x="173.2" y="136.85" width="1.56" height="6.51" fill="#eff3f6"/>
<rect x="173.2" y="143.3" width="1.56" height="6.51" fill="#d86551"/>
<rect x="173.2" y="149.75" width="1.56" height="6.51" fill="#fac9b0"/>
<rect x="173.2" y="156.2" width="1.56" height="6.51" fill="#c33b3c"/>
<rect x="173.2" y="162.65" width="1.56" height="6.51" fill="#fcd4be"/>
<rect x="173.2" y="169.1" width="1.56" height="6.51" fill="#fcdfce"/>
<rect x="173.2" y="175.55" width="1.56" height="6.51" fill="#d9e9f2"/>
<rect x="173.2" y="182" width="1.56" height="6.51" fill="#fbceb6"/>
<rect x="173.2" y="188.45" width="1.56" height="6.51" fill="#f8f0ec"/>
<rect x="173.2" y="194.9" width="1.56" height="6.51" fill="#fae9df"/>
<rect x="173.2" y="201.35" width="1.56" height="6.51" fill="#f5ac8b"/>
<rect x="173.2" y="207.8" width="1.56" height="6.51" fill="#b4d6e8"/>
<rect x="173.2" y="214.25" width="1.56" height="6.51" fill="#d6e7f1"/>
<rect x="173.2" y="223.1" width="1.56" height="6.4" fill="#c0ddeb"/>
<rect x="174.7" y="117.5" width="1.56" height="6.51" fill="#eff3f5"/>
<rect x="174.7" y="123.95" width="1.56" height="6.51" fill="#dceaf2"/>
<rect x="174.7" y="130.4" width="1.56" height="6.51" fill="#8fc3dd"/>
<rect x="174.7" y="136.85" width="1.56" height="6.51" fill="#aad1e5"/>
<rect x="174.7" y="143.3" width="1.56" height="6.51" fill="#ec9374"/>
<rect x="174.7" y="149.75" width="1.56" height="6.51" fill="#f8bea2"/>
<rect x="174.7" y="156.2" width="1.56" height="6.51" fill="#f8bea1"/>
<rect x="174.7" y="162.65" width="1.56" height="6.51" fill="#f7f5f4"/>
<rect x="174.7" y="169.1" width="1.56" height="6.51" fill="#faebe2"/>
<rect x="174.7" y="175.55" width="1.56" height="6.51" fill="#b9d9e9"/>
<rect x="174.7" y="182" width="1.56" height="6.51" fill="#e5eff4"/>
<rect x="174.7" y="188.45" width="1.56" height="6.51" fill="#faeae1"/>
<rect x="174.7" y="194.9" width="1.56" height="6.51" fill="#d7e8f1"/>
<rect x="174.7" y="201.35" width="1.56" height="6.51" fill="#dae9f2"/>
<rect x="174.7" y="207.8" width="1.56" height="6.51" fill="#dbeaf2"/>
<rect x="174.7" y="214.25" width="1.56" height="6.51" fill="#7eb8d7"/>
<rect x="174.7" y="223.1" width="1.56" height="6.4" fill="#b0d4e6"/>
<rect x="176.2" y="117.5" width="0.96" height="6.51" fill="#f9c6ac"/>
<rect x="176.2" y="123.95" width="0.96" height="6.51" fill="#fbe4d6"/>
<rect x="176.2" y="130.4" width="0.96" height="6.51" fill="#eaf1f5"/>
<rect x="176.2" y="136.85" width="0.96" height="6.51" fill="#edf2f5"/>
<rect x="176.2" y="143.3" width="0.96" height="6.51" fill="#c03539"/>
<rect x="176.2" y="149.75" width="0.96" height="6.51" fill="#c03539"/>
<rect x="176.2" y="156.2" width="0.96" height="6.51" fill="#f5aa89"/>
<rect x="176.2" y="162.65" width="0.96" height="6.51" fill="#fddcc9"/>
<rect x="176.2" y="169.1" width="0.96" height="6.51" fill="#f4f5f6"/>
<rect x="176.2" y="175.55" width="0.96" height="6.51" fill="#fcd7c2"/>
<rect x="176.2" y="182" width="0.96" height="6.51" fill="#fbe5d8"/>
<rect x="176.2" y="188.45" width="0.96" height="6.51" fill="#f9ede6"/>
<rect x="176.2" y="194.9" width="0.96" height="6.51" fill="#fcd4be"/>
<rect x="176.2" y="201.35" width="0.96" height="6.51" fill="#f4f5f6"/>
<rect x="176.2" y="207.8" width="0.96" height="6.51" fill="#a4cee3"/>
<rect x="176.2" y="214.25" width="0.96" height="6.51" fill="#fbe6da"/>
<rect x="176.2" y="223.1" width="0.96" height="6.4" fill="#a5cfe4"/>
<rect x="177.1" y="117.5" width="1.86" height="6.51" fill="#86beda"/>
<rect x="177.1" y="123.95" width="1.86" height="6.51" fill="#9dcae1"/>
<rect x="177.1" y="130.4" width="1.86" height="6.51" fill="#75b2d4"/>
<rect x="177.1" y="136.85" width="1.86" height="6.51" fill="#62a7ce"/>
<rect x="177.1" y="143.3" width="1.86" height="6.51" fill="#e3eef3"/>
<rect x="177.1" y="149.75" width="1.86" height="6.51" fill="#fae7dc"/>
<rect x="177.1" y="156.2" width="1.86" height="6.51" fill="#b2d5e7"/>
<rect x="177.1" y="162.65" width="1.86" height="6.51" fill="#347fb9"/>
<rect x="177.1" y="169.1" width="1.86" height="6.51" fill="#529cc8"/>
<rect x="177.1" y="175.55" width="1.86" height="6.51" fill="#7db8d7"/>
<rect x="177.1" y="182" width="1.86" height="6.51" fill="#b8d8e9"/>
<rect x="177.1" y="188.45" width="1.86" height="6.51" fill="#5ea4cc"/>
<rect x="177.1" y="194.9" width="1.86" height="6.51" fill="#3c8abe"/>
<rect x="177.1" y="201.35" width="1.86" height="6.51" fill="#4695c4"/>
<rect x="177.1" y="207.8" width="1.86" height="6.51" fill="#3580b9"/>
<rect x="177.1" y="214.25" width="1.86" height="6.51" fill="#3a86bd"/>
<rect x="177.1" y="223.1" width="1.86" height="6.4" fill="#dbeaf2"/>
<rect x="178.9" y="117.5" width="2.26" height="6.51" fill="#dbeaf2"/>
<rect x="178.9" y="123.95" width="2.26" height="6.51" fill="#e6eff4"/>
<rect x="178.9" y="130.4" width="2.26" height="6.51" fill="#c0ddeb"/>
<rect x="178.9" y="136.85" width="2.26" height="6.51" fill="#faccb3"/>
<rect x="178.9" y="143.3" width="2.26" height="6.51" fill="#f5a987"/>
<rect x="178.9" y="149.75" width="2.26" height="6.51" fill="#ca4841"/>
<rect x="178.9" y="156.2" width="2.26" height="6.51" fill="#e58267"/>
<rect x="178.9" y="162.65" width="2.26" height="6.51" fill="#fcdfcf"/>
<rect x="178.9" y="169.1" width="2.26" height="6.51" fill="#f9efe9"/>
<rect x="178.9" y="175.55" width="2.26" height="6.51" fill="#ddebf2"/>
<rect x="178.9" y="182" width="2.26" height="6.51" fill="#f5aa88"/>
<rect x="178.9" y="188.45" width="2.26" height="6.51" fill="#f9ede6"/>
<rect x="178.9" y="194.9" width="2.26" height="6.51" fill="#deebf2"/>
<rect x="178.9" y="201.35" width="2.26" height="6.51" fill="#fbceb7"/>
<rect x="178.9" y="207.8" width="2.26" height="6.51" fill="#f9ede6"/>
<rect x="178.9" y="214.25" width="2.26" height="6.51" fill="#fae8dd"/>
<rect x="178.9" y="223.1" width="2.26" height="6.4" fill="#b6d7e8"/>
<rect x="181.1" y="117.5" width="1.16" height="6.51" fill="#f9efe8"/>
<rect x="181.1" y="123.95" width="1.16" height="6.51" fill="#edf2f5"/>
<rect x="181.1" y="130.4" width="1.16" height="6.51" fill="#e1edf3"/>
<rect x="181.1" y="136.85" width="1.16" height="6.51" fill="#cce2ee"/>
<rect x="181.1" y="143.3" width="1.16" height="6.51" fill="#fac8ae"/>
<rect x="181.1" y="149.75" width="1.16" height="6.51" fill="#e0785f"/>
<rect x="181.1" y="156.2" width="1.16" height="6.51" fill="#fbcfb7"/>
<rect x="181.1" y="162.65" width="1.16" height="6.51" fill="#f7f5f3"/>
<rect x="181.1" y="169.1" width="1.16" height="6.51" fill="#dceaf2"/>
<rect x="181.1" y="175.55" width="1.16" height="6.51" fill="#fbe5d8"/>
<rect x="181.1" y="182" width="1.16" height="6.51" fill="#fae8dd"/>
<rect x="181.1" y="188.45" width="1.16" height="6.51" fill="#e6eff4"/>
<rect x="181.1" y="194.9" width="1.16" height="6.51" fill="#faebe2"/>
<rect x="181.1" y="201.35" width="1.16" height="6.51" fill="#fae8dd"/>
<rect x="181.1" y="207.8" width="1.16" height="6.51" fill="#faeae0"/>
<rect x="181.1" y="214.25" width="1.16" height="6.51" fill="#e6eff4"/>
<rect x="181.1" y="223.1" width="1.16" height="6.4" fill="#cae2ee"/>
<rect x="182.2" y="117.5" width="2.26" height="6.51" fill="#f6ae8e"/>
<rect x="182.2" y="123.95" width="2.26" height="6.51" fill="#dfecf3"/>
<rect x="182.2" y="130.4" width="2.26" height="6.51" fill="#f7f5f3"/>
<rect x="182.2" y="136.85" width="2.26" height="6.51" fill="#f6ae8e"/>
<rect x="182.2" y="143.3" width="2.26" height="6.51" fill="#c03539"/>
<rect x="182.2" y="149.75" width="2.26" height="6.51" fill="#df745d"/>
<rect x="182.2" y="156.2" width="2.26" height="6.51" fill="#f6b090"/>
<rect x="182.2" y="162.65" width="2.26" height="6.51" fill="#f6b08f"/>
<rect x="182.2" y="169.1" width="2.26" height="6.51" fill="#dc6e58"/>
<rect x="182.2" y="175.55" width="2.26" height="6.51" fill="#f7f5f4"/>
<rect x="182.2" y="182" width="2.26" height="6.51" fill="#f1f4f6"/>
<rect x="182.2" y="188.45" width="2.26" height="6.51" fill="#f8f5f3"/>
<rect x="182.2" y="194.9" width="2.26" height="6.51" fill="#fae9df"/>
<rect x="182.2" y="201.35" width="2.26" height="6.51" fill="#fcdecc"/>
<rect x="182.2" y="207.8" width="2.26" height="6.51" fill="#f8f1ec"/>
<rect x="182.2" y="214.25" width="2.26" height="6.51" fill="#ecf2f5"/>
<rect x="182.2" y="223.1" width="2.26" height="6.4" fill="#c4deec"/>
<rect x="184.4" y="117.5" width="1.36" height="6.51" fill="#f2f4f6"/>
<rect x="184.4" y="123.95" width="1.36" height="6.51" fill="#aed3e6"/>
<rect x="184.4" y="130.4" width="1.36" height="6.51" fill="#eff3f6"/>
<rect x="184.4" y="136.85" width="1.36" height="6.51" fill="#fbe3d5"/>
<rect x="184.4" y="143.3" width="1.36" height="6.51" fill="#eb9072"/>
<rect x="184.4" y="149.75" width="1.36" height="6.51" fill="#e17860"/>
<rect x="184.4" y="156.2" width="1.36" height="6.51" fill="#faccb4"/>
<rect x="184.4" y="162.65" width="1.36" height="6.51" fill="#f7f7f6"/>
<rect x="184.4" y="169.1" width="1.36" height="6.51" fill="#eef3f5"/>
<rect x="184.4" y="175.55" width="1.36" height="6.51" fill="#fae9e0"/>
<rect x="184.4" y="182" width="1.36" height="6.51" fill="#f8f4f2"/>
<rect x="184.4" y="188.45" width="1.36" height="6.51" fill="#fbe2d3"/>
<rect x="184.4" y="194.9" width="1.36" height="6.51" fill="#bcdaea"/>
<rect x="184.4" y="201.35" width="1.36" height="6.51" fill="#d6e7f1"/>
<rect x="184.4" y="207.8" width="1.36" height="6.51" fill="#f7f6f5"/>
<rect x="184.4" y="214.25" width="1.36" height="6.51" fill="#c9e1ee"/>
<rect x="184.4" y="223.1" width="1.36" height="6.4" fill="#f3f5f6"/>
<rect x="185.7" y="117.5" width="1.36" height="6.51" fill="#d7e8f1"/>
<rect x="185.7" y="123.95" width="1.36" height="6.51" fill="#d5e7f1"/>
<rect x="185.7" y="130.4" width="1.36" height="6.51" fill="#cde3ef"/>
<rect x="185.7" y="136.85" width="1.36" height="6.51" fill="#d0e4f0"/>
<rect x="185.7" y="143.3" width="1.36" height="6.51" fill="#e7876b"/>
<rect x="185.7" y="149.75" width="1.36" height="6.51" fill="#e58468"/>
<rect x="185.7" y="156.2" width="1.36" height="6.51" fill="#fbe3d5"/>
<rect x="185.7" y="162.65" width="1.36" height="6.51" fill="#dbeaf2"/>
<rect x="185.7" y="169.1" width="1.36" height="6.51" fill="#97c8df"/>
<rect x="185.7" y="175.55" width="1.36" height="6.51" fill="#d7e8f1"/>
<rect x="185.7" y="182" width="1.36" height="6.51" fill="#f9ece3"/>
<rect x="185.7" y="188.45" width="1.36" height="6.51" fill="#f8f1ed"/>
<rect x="185.7" y="194.9" width="1.36" height="6.51" fill="#f0f4f6"/>
<rect x="185.7" y="201.35" width="1.36" height="6.51" fill="#f2f5f6"/>
<rect x="185.7" y="207.8" width="1.36" height="6.51" fill="#e1edf3"/>
<rect x="185.7" y="214.25" width="1.36" height="6.51" fill="#9ac9e0"/>
<rect x="185.7" y="223.1" width="1.36" height="6.4" fill="#f8f2ee"/>
<rect x="187" y="117.5" width="0.96" height="6.51" fill="#f7f7f7"/>
<rect x="187" y="123.95" width="0.96" height="6.51" fill="#d9e9f2"/>
<rect x="187" y="130.4" width="0.96" height="6.51" fill="#ecf2f5"/>
<rect x="187" y="136.85" width="0.96" height="6.51" fill="#fae7dc"/>
<rect x="187" y="143.3" width="0.96" height="6.51" fill="#e27b62"/>
<rect x="187" y="149.75" width="0.96" height="6.51" fill="#e37d63"/>
<rect x="187" y="156.2" width="0.96" height="6.51" fill="#e27c62"/>
<rect x="187" y="162.65" width="0.96" height="6.51" fill="#fbe6da"/>
<rect x="187" y="169.1" width="0.96" height="6.51" fill="#d9e9f1"/>
<rect x="187" y="175.55" width="0.96" height="6.51" fill="#e1ecf3"/>
<rect x="187" y="182" width="0.96" height="6.51" fill="#f09c7b"/>
<rect x="187" y="188.45" width="0.96" height="6.51" fill="#faeae1"/>
<rect x="187" y="194.9" width="0.96" height="6.51" fill="#eef3f5"/>
<rect x="187" y="201.35" width="0.96" height="6.51" fill="#fae9e0"/>
<rect x="187" y="207.8" width="0.96" height="6.51" fill="#d8e8f1"/>
<rect x="187" y="214.25" width="0.96" height="6.51" fill="#e4eef4"/>
<rect x="187" y="223.1" width="0.96" height="6.4" fill="#eef3f5"/>
<rect x="187.9" y="117.5" width="1.36" height="6.51" fill="#fcdfce"/>
<rect x="187.9" y="123.95" width="1.36" height="6.51" fill="#4494c3"/>
<rect x="187.9" y="130.4" width="1.36" height="6.51" fill="#73b1d3"/>
<rect x="187.9" y="136.85" width="1.36" height="6.51" fill="#f7b89a"/>
<rect x="187.9" y="143.3" width="1.36" height="6.51" fill="#f9c1a6"/>
<rect x="187.9" y="149.75" width="1.36" height="6.51" fill="#fddcc9"/>
<rect x="187.9" y="156.2" width="1.36" height="6.51" fill="#f5a886"/>
<rect x="187.9" y="162.65" width="1.36" height="6.51" fill="#d6e8f1"/>
<rect x="187.9" y="169.1" width="1.36" height="6.51" fill="#aad1e5"/>
<rect x="187.9" y="175.55" width="1.36" height="6.51" fill="#e8f0f4"/>
<rect x="187.9" y="182" width="1.36" height="6.51" fill="#f0f4f6"/>
<rect x="187.9" y="188.45" width="1.36" height="6.51" fill="#b7d8e9"/>
<rect x="187.9" y="194.9" width="1.36" height="6.51" fill="#d1e5f0"/>
<rect x="187.9" y="201.35" width="1.36" height="6.51" fill="#eff3f6"/>
<rect x="187.9" y="207.8" width="1.36" height="6.51" fill="#abd2e5"/>
<rect x="187.9" y="214.25" width="1.36" height="6.51" fill="#e8f0f4"/>
<rect x="187.9" y="223.1" width="1.36" height="6.4" fill="#d9e9f2"/>
<rect x="189.2" y="117.5" width="1.36" height="6.51" fill="#f9efe9"/>
<rect x="189.2" y="123.95" width="1.36" height="6.51" fill="#7fb9d8"/>
<rect x="189.2" y="130.4" width="1.36" height="6.51" fill="#edf2f5"/>
<rect x="189.2" y="136.85" width="1.36" height="6.51" fill="#f2f5f6"/>
<rect x="189.2" y="143.3" width="1.36" height="6.51" fill="#ee9677"/>
<rect x="189.2" y="149.75" width="1.36" height="6.51" fill="#f7ba9d"/>
<rect x="189.2" y="156.2" width="1.36" height="6.51" fill="#f9ece4"/>
<rect x="189.2" y="162.65" width="1.36" height="6.51" fill="#f5f6f7"/>
<rect x="189.2" y="169.1" width="1.36" height="6.51" fill="#cbe2ee"/>
<rect x="189.2" y="175.55" width="1.36" height="6.51" fill="#f5f6f7"/>
<rect x="189.2" y="182" width="1.36" height="6.51" fill="#c8e0ed"/>
<rect x="189.2" y="188.45" width="1.36" height="6.51" fill="#e6eff4"/>
<rect x="189.2" y="194.9" width="1.36" height="6.51" fill="#b8d9e9"/>
<rect x="189.2" y="201.35" width="1.36" height="6.51" fill="#f8f4f2"/>
<rect x="189.2" y="207.8" width="1.36" height="6.51" fill="#d1e5f0"/>
<rect x="189.2" y="214.25" width="1.36" height="6.51" fill="#f9ece5"/>
<rect x="189.2" y="223.1" width="1.36" height="6.4" fill="#9bc9e0"/>
<rect x="190.5" y="117.5" width="0.96" height="6.51" fill="#f9efea"/>
<rect x="190.5" y="123.95" width="0.96" height="6.51" fill="#b6d7e8"/>
<rect x="190.5" y="130.4" width="0.96" height="6.51" fill="#f8f4f1"/>
<rect x="190.5" y="136.85" width="0.96" height="6.51" fill="#e5eef4"/>
<rect x="190.5" y="143.3" width="0.96" height="6.51" fill="#eb9172"/>
<rect x="190.5" y="149.75" width="0.96" height="6.51" fill="#dd6f59"/>
<rect x="190.5" y="156.2" width="0.96" height="6.51" fill="#fddbc7"/>
<rect x="190.5" y="162.65" width="0.96" height="6.51" fill="#f6f7f7"/>
<rect x="190.5" y="169.1" width="0.96" height="6.51" fill="#f1f4f6"/>
<rect x="190.5" y="175.55" width="0.96" height="6.51" fill="#e4eef4"/>
<rect x="190.5" y="182" width="0.96" height="6.51" fill="#f8f1ed"/>
<rect x="190.5" y="188.45" width="0.96" height="6.51" fill="#fbe5d8"/>
<rect x="190.5" y="194.9" width="0.96" height="6.51" fill="#f1f4f6"/>
<rect x="190.5" y="201.35" width="0.96" height="6.51" fill="#f9efea"/>
<rect x="190.5" y="207.8" width="0.96" height="6.51" fill="#fbe6d9"/>
<rect x="190.5" y="214.25" width="0.96" height="6.51" fill="#e9f0f4"/>
<rect x="190.5" y="223.1" width="0.96" height="6.4" fill="#f2f5f6"/>
<rect x="191.4" y="117.5" width="1.56" height="6.51" fill="#f9ece4"/>
<rect x="191.4" y="123.95" width="1.56" height="6.51" fill="#b4d7e8"/>
<rect x="191.4" y="130.4" width="1.56" height="6.51" fill="#dae9f2"/>
<rect x="191.4" y="136.85" width="1.56" height="6.51" fill="#a5cee3"/>
<rect x="191.4" y="143.3" width="1.56" height="6.51" fill="#deebf2"/>
<rect x="191.4" y="149.75" width="1.56" height="6.51" fill="#f2f5f6"/>
<rect x="191.4" y="156.2" width="1.56" height="6.51" fill="#f9ede6"/>
<rect x="191.4" y="162.65" width="1.56" height="6.51" fill="#fce0cf"/>
<rect x="191.4" y="169.1" width="1.56" height="6.51" fill="#fac8ae"/>
<rect x="191.4" y="175.55" width="1.56" height="6.51" fill="#9fcce2"/>
<rect x="191.4" y="182" width="1.56" height="6.51" fill="#f9ede7"/>
<rect x="191.4" y="188.45" width="1.56" height="6.51" fill="#c6dfed"/>
<rect x="191.4" y="194.9" width="1.56" height="6.51" fill="#dae9f2"/>
<rect x="191.4" y="201.35" width="1.56" height="6.51" fill="#fddcc9"/>
<rect x="191.4" y="207.8" width="1.56" height="6.51" fill="#e5eff4"/>
<rect x="191.4" y="214.25" width="1.56" height="6.51" fill="#f3f5f6"/>
<rect x="191.4" y="223.1" width="1.56" height="6.4" fill="#e5eef4"/>
<rect x="192.9" y="117.5" width="0.96" height="6.51" fill="#d5e7f1"/>
<rect x="192.9" y="123.95" width="0.96" height="6.51" fill="#dfecf3"/>
<rect x="192.9" y="130.4" width="0.96" height="6.51" fill="#b5d7e8"/>
<rect x="192.9" y="136.85" width="0.96" height="6.51" fill="#e6eff4"/>
<rect x="192.9" y="143.3" width="0.96" height="6.51" fill="#cde3ef"/>
<rect x="192.9" y="149.75" width="0.96" height="6.51" fill="#d9e9f1"/>
<rect x="192.9" y="156.2" width="0.96" height="6.51" fill="#f2f5f6"/>
<rect x="192.9" y="162.65" width="0.96" height="6.51" fill="#fce1d2"/>
<rect x="192.9" y="169.1" width="0.96" height="6.51" fill="#e4eef3"/>
<rect x="192.9" y="175.55" width="0.96" height="6.51" fill="#d5e7f1"/>
<rect x="192.9" y="182" width="0.96" height="6.51" fill="#f9efe9"/>
<rect x="192.9" y="188.45" width="0.96" height="6.51" fill="#ecf2f5"/>
<rect x="192.9" y="194.9" width="0.96" height="6.51" fill="#f9ece5"/>
<rect x="192.9" y="201.35" width="0.96" height="6.51" fill="#f8f1ed"/>
<rect x="192.9" y="207.8" width="0.96" height="6.51" fill="#f8f4f3"/>
<rect x="192.9" y="214.25" width="0.96" height="6.51" fill="#f7f5f4"/>
<rect x="192.9" y="223.1" width="0.96" height="6.4" fill="#dae9f2"/>
<rect x="193.8" y="117.5" width="1.16" height="6.51" fill="#c5dfed"/>
<rect x="193.8" y="123.95" width="1.16" height="6.51" fill="#dfebf2"/>
<rect x="193.8" y="130.4" width="1.16" height="6.51" fill="#2f78b5"/>
<rect x="193.8" y="136.85" width="1.16" height="6.51" fill="#65a8cf"/>
<rect x="193.8" y="143.3" width="1.16" height="6.51" fill="#4c99c6"/>
<rect x="193.8" y="149.75" width="1.16" height="6.51" fill="#86beda"/>
<rect x="193.8" y="156.2" width="1.16" height="6.51" fill="#6fafd2"/>
<rect x="193.8" y="162.65" width="1.16" height="6.51" fill="#87beda"/>
<rect x="193.8" y="169.1" width="1.16" height="6.51" fill="#e0ecf3"/>
<rect x="193.8" y="175.55" width="1.16" height="6.51" fill="#66a9cf"/>
<rect x="193.8" y="182" width="1.16" height="6.51" fill="#ecf2f5"/>
<rect x="193.8" y="188.45" width="1.16" height="6.51" fill="#7bb7d6"/>
<rect x="193.8" y="194.9" width="1.16" height="6.51" fill="#d5e7f1"/>
<rect x="193.8" y="201.35" width="1.16" height="6.51" fill="#a1cce2"/>
<rect x="193.8" y="207.8" width="1.16" height="6.51" fill="#c8e0ed"/>
<rect x="193.8" y="214.25" width="1.16" height="6.51" fill="#7fb9d7"/>
<rect x="193.8" y="223.1" width="1.16" height="6.4" fill="#e6eff4"/>
<rect x="194.9" y="117.5" width="1.16" height="6.51" fill="#eaf1f5"/>
<rect x="194.9" y="123.95" width="1.16" height="6.51" fill="#9ecbe2"/>
<rect x="194.9" y="130.4" width="1.16" height="6.51" fill="#afd4e6"/>
<rect x="194.9" y="136.85" width="1.16" height="6.51" fill="#cee3ef"/>
<rect x="194.9" y="143.3" width="1.16" height="6.51" fill="#cde3ef"/>
<rect x="194.9" y="149.75" width="1.16" height="6.51" fill="#cfe4ef"/>
<rect x="194.9" y="156.2" width="1.16" height="6.51" fill="#e6eff4"/>
<rect x="194.9" y="162.65" width="1.16" height="6.51" fill="#d2e6f0"/>
<rect x="194.9" y="169.1" width="1.16" height="6.51" fill="#f8f2ef"/>
<rect x="194.9" y="175.55" width="1.16" height="6.51" fill="#c3deec"/>
<rect x="194.9" y="182" width="1.16" height="6.51" fill="#fac7ae"/>
<rect x="194.9" y="188.45" width="1.16" height="6.51" fill="#e5eff4"/>
<rect x="194.9" y="194.9" width="1.16" height="6.51" fill="#f3f5f6"/>
<rect x="194.9" y="201.35" width="1.16" height="6.51" fill="#a2cde3"/>
<rect x="194.9" y="207.8" width="1.16" height="6.51" fill="#faeae1"/>
<rect x="194.9" y="214.25" width="1.16" height="6.51" fill="#f8f3f1"/>
<rect x="194.9" y="223.1" width="1.16" height="6.4" fill="#e5eff4"/>
<rect x="196" y="117.5" width="2.26" height="6.51" fill="#f8f1ec"/>
<rect x="196" y="123.95" width="2.26" height="6.51" fill="#d3e6f0"/>
<rect x="196" y="130.4" width="2.26" height="6.51" fill="#c0dceb"/>
<rect x="196" y="136.85" width="2.26" height="6.51" fill="#e7eff4"/>
<rect x="196" y="143.3" width="2.26" height="6.51" fill="#f8f4f1"/>
<rect x="196" y="149.75" width="2.26" height="6.51" fill="#a8d0e4"/>
<rect x="196" y="156.2" width="2.26" height="6.51" fill="#dceaf2"/>
<rect x="196" y="162.65" width="2.26" height="6.51" fill="#d1e5f0"/>
<rect x="196" y="169.1" width="2.26" height="6.51" fill="#f4f5f6"/>
<rect x="196" y="175.55" width="2.26" height="6.51" fill="#d7e8f1"/>
<rect x="196" y="182" width="2.26" height="6.51" fill="#f9ece4"/>
<rect x="196" y="188.45" width="2.26" height="6.51" fill="#fbe6d9"/>
<rect x="196" y="194.9" width="2.26" height="6.51" fill="#fbe3d5"/>
<rect x="196" y="201.35" width="2.26" height="6.51" fill="#f8f1ec"/>
<rect x="196" y="207.8" width="2.26" height="6.51" fill="#fbcfb8"/>
<rect x="196" y="214.25" width="2.26" height="6.51" fill="#a6cfe4"/>
<rect x="196" y="223.1" width="2.26" height="6.4" fill="#f7f6f5"/>
<rect x="198.2" y="117.5" width="0.96" height="6.51" fill="#e9f0f4"/>
<rect x="198.2" y="123.95" width="0.96" height="6.51" fill="#abd2e5"/>
<rect x="198.2" y="130.4" width="0.96" height="6.51" fill="#7eb8d7"/>
<rect x="198.2" y="136.85" width="0.96" height="6.51" fill="#f8f2ee"/>
<rect x="198.2" y="143.3" width="0.96" height="6.51" fill="#89bfdb"/>
<rect x="198.2" y="149.75" width="0.96" height="6.51" fill="#68abd0"/>
<rect x="198.2" y="156.2" width="0.96" height="6.51" fill="#d5e7f1"/>
<rect x="198.2" y="162.65" width="0.96" height="6.51" fill="#deebf2"/>
<rect x="198.2" y="169.1" width="0.96" height="6.51" fill="#71b0d3"/>
<rect x="198.2" y="175.55" width="0.96" height="6.51" fill="#88bfda"/>
<rect x="198.2" y="182" width="0.96" height="6.51" fill="#deebf2"/>
<rect x="198.2" y="188.45" width="0.96" height="6.51" fill="#d3e6f0"/>
<rect x="198.2" y="194.9" width="0.96" height="6.51" fill="#d3e6f0"/>
<rect x="198.2" y="201.35" width="0.96" height="6.51" fill="#b8d8e9"/>
<rect x="198.2" y="207.8" width="0.96" height="6.51" fill="#99c9e0"/>
<rect x="198.2" y="214.25" width="0.96" height="6.51" fill="#e4eef3"/>
<rect x="198.2" y="223.1" width="0.96" height="6.4" fill="#d6e7f1"/>
<rect x="199.1" y="117.5" width="0.96" height="6.51" fill="#f7ba9d"/>
<rect x="199.1" y="123.95" width="0.96" height="6.51" fill="#fbe5d9"/>
<rect x="199.1" y="130.4" width="0.96" height="6.51" fill="#d6e7f1"/>
<rect x="199.1" y="136.85" width="0.96" height="6.51" fill="#f19f7d"/>
<rect x="199.1" y="143.3" width="0.96" height="6.51" fill="#f8f3ef"/>
<rect x="199.1" y="149.75" width="0.96" height="6.51" fill="#cae1ee"/>
<rect x="199.1" y="156.2" width="0.96" height="6.51" fill="#fbd2bb"/>
<rect x="199.1" y="162.65" width="0.96" height="6.51" fill="#e48066"/>
<rect x="199.1" y="169.1" width="0.96" height="6.51" fill="#fbe3d6"/>
<rect x="199.1" y="175.55" width="0.96" height="6.51" fill="#faccb3"/>
<rect x="199.1" y="182" width="0.96" height="6.51" fill="#ee9677"/>
<rect x="199.1" y="188.45" width="0.96" height="6.51" fill="#f5f6f7"/>
<rect x="199.1" y="194.9" width="0.96" height="6.51" fill="#f6ae8e"/>
<rect x="199.1" y="201.35" width="0.96" height="6.51" fill="#fce1d2"/>
<rect x="199.1" y="207.8" width="0.96" height="6.51" fill="#f9c4a9"/>
<rect x="199.1" y="214.25" width="0.96" height="6.51" fill="#f9efea"/>
<rect x="199.1" y="223.1" width="0.96" height="6.4" fill="#e8f0f4"/>
<rect x="200" y="117.5" width="0.96" height="6.51" fill="#f9ede5"/>
<rect x="200" y="123.95" width="0.96" height="6.51" fill="#c8e0ed"/>
<rect x="200" y="130.4" width="0.96" height="6.51" fill="#9dcbe1"/>
<rect x="200" y="136.85" width="0.96" height="6.51" fill="#ddebf2"/>
<rect x="200" y="143.3" width="0.96" height="6.51" fill="#4796c4"/>
<rect x="200" y="149.75" width="0.96" height="6.51" fill="#64a8ce"/>
<rect x="200" y="156.2" width="0.96" height="6.51" fill="#acd2e5"/>
<rect x="200" y="162.65" width="0.96" height="6.51" fill="#dae9f2"/>
<rect x="200" y="169.1" width="0.96" height="6.51" fill="#d9e9f1"/>
<rect x="200" y="175.55" width="0.96" height="6.51" fill="#cde3ef"/>
<rect x="200" y="182" width="0.96" height="6.51" fill="#dae9f2"/>
<rect x="200" y="188.45" width="0.96" height="6.51" fill="#e3edf3"/>
<rect x="200" y="194.9" width="0.96" height="6.51" fill="#d2e5f0"/>
<rect x="200" y="201.35" width="0.96" height="6.51" fill="#afd4e6"/>
<rect x="200" y="207.8" width="0.96" height="6.51" fill="#dae9f2"/>
<rect x="200" y="214.25" width="0.96" height="6.51" fill="#bfdceb"/>
<rect x="200" y="223.1" width="0.96" height="6.4" fill="#dae9f2"/>
<rect x="200.9" y="117.5" width="1.56" height="6.51" fill="#ecf2f5"/>
<rect x="200.9" y="123.95" width="1.56" height="6.51" fill="#f9eee7"/>
<rect x="200.9" y="130.4" width="1.56" height="6.51" fill="#d9e9f1"/>
<rect x="200.9" y="136.85" width="1.56" height="6.51" fill="#d1e5f0"/>
<rect x="200.9" y="143.3" width="1.56" height="6.51" fill="#f1f4f6"/>
<rect x="200.9" y="149.75" width="1.56" height="6.51" fill="#e8f0f4"/>
<rect x="200.9" y="156.2" width="1.56" height="6.51" fill="#d8e8f1"/>
<rect x="200.9" y="162.65" width="1.56" height="6.51" fill="#e5eff4"/>
<rect x="200.9" y="169.1" width="1.56" height="6.51" fill="#d5e7f1"/>
<rect x="200.9" y="175.55" width="1.56" height="6.51" fill="#d5e7f1"/>
<rect x="200.9" y="182" width="1.56" height="6.51" fill="#f8f1ed"/>
<rect x="200.9" y="188.45" width="1.56" height="6.51" fill="#f7f6f5"/>
<rect x="200.9" y="194.9" width="1.56" height="6.51" fill="#f1f4f6"/>
<rect x="200.9" y="201.35" width="1.56" height="6.51" fill="#f2f5f6"/>
<rect x="200.9" y="207.8" width="1.56" height="6.51" fill="#e6eff4"/>
<rect x="200.9" y="214.25" width="1.56" height="6.51" fill="#dceaf2"/>
<rect x="200.9" y="223.1" width="1.56" height="6.4" fill="#eff3f6"/>
<rect x="202.4" y="117.5" width="1.56" height="6.51" fill="#f7f7f6"/>
<rect x="202.4" y="123.95" width="1.56" height="6.51" fill="#7bb7d6"/>
<rect x="202.4" y="130.4" width="1.56" height="6.51" fill="#87beda"/>
<rect x="202.4" y="136.85" width="1.56" height="6.51" fill="#64a8ce"/>
<rect x="202.4" y="143.3" width="1.56" height="6.51" fill="#5ba2cb"/>
<rect x="202.4" y="149.75" width="1.56" height="6.51" fill="#4997c5"/>
<rect x="202.4" y="156.2" width="1.56" height="6.51" fill="#d9e9f2"/>
<rect x="202.4" y="162.65" width="1.56" height="6.51" fill="#3681ba"/>
<rect x="202.4" y="169.1" width="1.56" height="6.51" fill="#cee4ef"/>
<rect x="202.4" y="175.55" width="1.56" height="6.51" fill="#63a7ce"/>
<rect x="202.4" y="182" width="1.56" height="6.51" fill="#faeae0"/>
<rect x="202.4" y="188.45" width="1.56" height="6.51" fill="#d1e5f0"/>
<rect x="202.4" y="194.9" width="1.56" height="6.51" fill="#eff3f5"/>
<rect x="202.4" y="201.35" width="1.56" height="6.51" fill="#d4e6f1"/>
<rect x="202.4" y="207.8" width="1.56" height="6.51" fill="#7cb7d7"/>
<rect x="202.4" y="214.25" width="1.56" height="6.51" fill="#aed3e6"/>
<rect x="202.4" y="223.1" width="1.56" height="6.4" fill="#ecf2f5"/>
<rect x="203.9" y="117.5" width="1.16" height="6.51" fill="#e0ecf3"/>
<rect x="203.9" y="123.95" width="1.16" height="6.51" fill="#d6e8f1"/>
<rect x="203.9" y="130.4" width="1.16" height="6.51" fill="#94c6df"/>
<rect x="203.9" y="136.85" width="1.16" height="6.51" fill="#c7e0ed"/>
<rect x="203.9" y="143.3" width="1.16" height="6.51" fill="#9ccae1"/>
<rect x="203.9" y="149.75" width="1.16" height="6.51" fill="#f8f2ee"/>
<rect x="203.9" y="156.2" width="1.16" height="6.51" fill="#d3e6f0"/>
<rect x="203.9" y="162.65" width="1.16" height="6.51" fill="#c0dceb"/>
<rect x="203.9" y="169.1" width="1.16" height="6.51" fill="#eff3f6"/>
<rect x="203.9" y="175.55" width="1.16" height="6.51" fill="#cee4ef"/>
<rect x="203.9" y="182" width="1.16" height="6.51" fill="#f8bda1"/>
<rect x="203.9" y="188.45" width="1.16" height="6.51" fill="#f9eee8"/>
<rect x="203.9" y="194.9" width="1.16" height="6.51" fill="#faebe2"/>
<rect x="203.9" y="201.35" width="1.16" height="6.51" fill="#f8f2ef"/>
<rect x="203.9" y="207.8" width="1.16" height="6.51" fill="#e0ecf3"/>
<rect x="203.9" y="214.25" width="1.16" height="6.51" fill="#d1e5f0"/>
<rect x="203.9" y="223.1" width="1.16" height="6.4" fill="#c2ddec"/>
<rect x="205" y="117.5" width="2.26" height="6.51" fill="#cde3ef"/>
<rect x="205" y="123.95" width="2.26" height="6.51" fill="#e3edf3"/>
<rect x="205" y="130.4" width="2.26" height="6.51" fill="#e0ecf3"/>
<rect x="205" y="136.85" width="2.26" height="6.51" fill="#c3deec"/>
<rect x="205" y="143.3" width="2.26" height="6.51" fill="#347fb9"/>
<rect x="205" y="149.75" width="2.26" height="6.51" fill="#c0dceb"/>
<rect x="205" y="156.2" width="2.26" height="6.51" fill="#d7e8f1"/>
<rect x="205" y="162.65" width="2.26" height="6.51" fill="#c1ddec"/>
<rect x="205" y="169.1" width="2.26" height="6.51" fill="#d6e8f1"/>
<rect x="205" y="175.55" width="2.26" height="6.51" fill="#408ec1"/>
<rect x="205" y="182" width="2.26" height="6.51" fill="#d8e8f1"/>
<rect x="205" y="188.45" width="2.26" height="6.51" fill="#f0f4f6"/>
<rect x="205" y="194.9" width="2.26" height="6.51" fill="#f7f6f6"/>
<rect x="205" y="201.35" width="2.26" height="6.51" fill="#7fb9d7"/>
<rect x="205" y="207.8" width="2.26" height="6.51" fill="#87beda"/>
<rect x="205" y="214.25" width="2.26" height="6.51" fill="#e1edf3"/>
<rect x="205" y="223.1" width="2.26" height="6.4" fill="#d4e6f1"/>
<rect x="207.2" y="117.5" width="1.86" height="6.51" fill="#f7f7f7"/>
<rect x="207.2" y="123.95" width="1.86" height="6.51" fill="#7eb8d7"/>
<rect x="207.2" y="130.4" width="1.86" height="6.51" fill="#3b88be"/>
<rect x="207.2" y="136.85" width="1.86" height="6.51" fill="#c9e1ee"/>
<rect x="207.2" y="143.3" width="1.86" height="6.51" fill="#3079b6"/>
<rect x="207.2" y="149.75" width="1.86" height="6.51" fill="#4896c5"/>
<rect x="207.2" y="156.2" width="1.86" height="6.51" fill="#add3e6"/>
<rect x="207.2" y="162.65" width="1.86" height="6.51" fill="#d3e6f0"/>
<rect x="207.2" y="169.1" width="1.86" height="6.51" fill="#a1cde2"/>
<rect x="207.2" y="175.55" width="1.86" height="6.51" fill="#5fa5cd"/>
<rect x="207.2" y="182" width="1.86" height="6.51" fill="#e4eef3"/>
<rect x="207.2" y="188.45" width="1.86" height="6.51" fill="#a9d1e5"/>
<rect x="207.2" y="194.9" width="1.86" height="6.51" fill="#d2e5f0"/>
<rect x="207.2" y="201.35" width="1.86" height="6.51" fill="#94c6de"/>
<rect x="207.2" y="207.8" width="1.86" height="6.51" fill="#9dcbe1"/>
<rect x="207.2" y="214.25" width="1.86" height="6.51" fill="#7db8d7"/>
<rect x="207.2" y="223.1" width="1.86" height="6.4" fill="#f6f6f7"/>
<rect x="209" y="117.5" width="1.16" height="6.51" fill="#a1cde2"/>
<rect x="209" y="123.95" width="1.16" height="6.51" fill="#aad1e5"/>
<rect x="209" y="130.4" width="1.16" height="6.51" fill="#a7d0e4"/>
<rect x="209" y="136.85" width="1.16" height="6.51" fill="#afd4e6"/>
<rect x="209" y="143.3" width="1.16" height="6.51" fill="#2f78b5"/>
<rect x="209" y="149.75" width="1.16" height="6.51" fill="#2f78b5"/>
<rect x="209" y="156.2" width="1.16" height="6.51" fill="#569fca"/>
<rect x="209" y="162.65" width="1.16" height="6.51" fill="#3b88bd"/>
<rect x="209" y="169.1" width="1.16" height="6.51" fill="#72b1d3"/>
<rect x="209" y="175.55" width="1.16" height="6.51" fill="#9fcce2"/>
<rect x="209" y="182" width="1.16" height="6.51" fill="#8ec2dd"/>
<rect x="209" y="188.45" width="1.16" height="6.51" fill="#96c7df"/>
<rect x="209" y="194.9" width="1.16" height="6.51" fill="#b6d8e8"/>
<rect x="209" y="201.35" width="1.16" height="6.51" fill="#d0e4f0"/>
<rect x="209" y="207.8" width="1.16" height="6.51" fill="#6fafd2"/>
<rect x="209" y="214.25" width="1.16" height="6.51" fill="#7bb6d6"/>
<rect x="209" y="223.1" width="1.16" height="6.4" fill="#d4e6f1"/>
<rect x="210.1" y="117.5" width="1.56" height="6.51" fill="#ddebf2"/>
<rect x="210.1" y="123.95" width="1.56" height="6.51" fill="#9ac9e0"/>
<rect x="210.1" y="130.4" width="1.56" height="6.51" fill="#2f78b5"/>
<rect x="210.1" y="136.85" width="1.56" height="6.51" fill="#75b3d4"/>
<rect x="210.1" y="143.3" width="1.56" height="6.51" fill="#84bcd9"/>
<rect x="210.1" y="149.75" width="1.56" height="6.51" fill="#5aa1cb"/>
<rect x="210.1" y="156.2" width="1.56" height="6.51" fill="#c4dfec"/>
<rect x="210.1" y="162.65" width="1.56" height="6.51" fill="#cee3ef"/>
<rect x="210.1" y="169.1" width="1.56" height="6.51" fill="#b1d5e7"/>
<rect x="210.1" y="175.55" width="1.56" height="6.51" fill="#c9e1ee"/>
<rect x="210.1" y="182" width="1.56" height="6.51" fill="#cee4ef"/>
<rect x="210.1" y="188.45" width="1.56" height="6.51" fill="#f9eee8"/>
<rect x="210.1" y="194.9" width="1.56" height="6.51" fill="#f0f4f6"/>
<rect x="210.1" y="201.35" width="1.56" height="6.51" fill="#f3f5f6"/>
<rect x="210.1" y="207.8" width="1.56" height="6.51" fill="#d8e8f1"/>
<rect x="210.1" y="214.25" width="1.56" height="6.51" fill="#f7f7f7"/>
<rect x="210.1" y="223.1" width="1.56" height="6.4" fill="#fbe3d4"/>
<rect x="211.6" y="117.5" width="1.86" height="6.51" fill="#fbe5d8"/>
<rect x="211.6" y="123.95" width="1.86" height="6.51" fill="#e4eef4"/>
<rect x="211.6" y="130.4" width="1.86" height="6.51" fill="#abd2e5"/>
<rect x="211.6" y="136.85" width="1.86" height="6.51" fill="#cbe2ee"/>
<rect x="211.6" y="143.3" width="1.86" height="6.51" fill="#96c7df"/>
<rect x="211.6" y="149.75" width="1.86" height="6.51" fill="#2f78b5"/>
<rect x="211.6" y="156.2" width="1.86" height="6.51" fill="#6fafd2"/>
<rect x="211.6" y="162.65" width="1.86" height="6.51" fill="#9bcae1"/>
<rect x="211.6" y="169.1" width="1.86" height="6.51" fill="#61a6cd"/>
<rect x="211.6" y="175.55" width="1.86" height="6.51" fill="#9dcbe1"/>
<rect x="211.6" y="182" width="1.86" height="6.51" fill="#b7d8e9"/>
<rect x="211.6" y="188.45" width="1.86" height="6.51" fill="#eff3f6"/>
<rect x="211.6" y="194.9" width="1.86" height="6.51" fill="#eaf1f5"/>
<rect x="211.6" y="201.35" width="1.86" height="6.51" fill="#e8f0f4"/>
<rect x="211.6" y="207.8" width="1.86" height="6.51" fill="#e7eff4"/>
<rect x="211.6" y="214.25" width="1.86" height="6.51" fill="#8ec2dd"/>
<rect x="211.6" y="223.1" width="1.86" height="6.4" fill="#f7f5f4"/>
<rect x="213.4" y="117.5" width="1.16" height="6.51" fill="#fbcfb8"/>
<rect x="213.4" y="123.95" width="1.16" height="6.51" fill="#b8d8e9"/>
<rect x="213.4" y="130.4" width="1.16" height="6.51" fill="#dceaf2"/>
<rect x="213.4" y="136.85" width="1.16" height="6.51" fill="#f9ede5"/>
<rect x="213.4" y="143.3" width="1.16" height="6.51" fill="#dbeaf2"/>
<rect x="213.4" y="149.75" width="1.16" height="6.51" fill="#3a87bd"/>
<rect x="213.4" y="156.2" width="1.16" height="6.51" fill="#badaea"/>
<rect x="213.4" y="162.65" width="1.16" height="6.51" fill="#dae9f2"/>
<rect x="213.4" y="169.1" width="1.16" height="6.51" fill="#e2edf3"/>
<rect x="213.4" y="175.55" width="1.16" height="6.51" fill="#bbdaea"/>
<rect x="213.4" y="182" width="1.16" height="6.51" fill="#fddbc7"/>
<rect x="213.4" y="188.45" width="1.16" height="6.51" fill="#ddebf2"/>
<rect x="213.4" y="194.9" width="1.16" height="6.51" fill="#acd2e5"/>
<rect x="213.4" y="201.35" width="1.16" height="6.51" fill="#f5a988"/>
<rect x="213.4" y="207.8" width="1.16" height="6.51" fill="#ddebf2"/>
<rect x="213.4" y="214.25" width="1.16" height="6.51" fill="#fbe4d6"/>
<rect x="213.4" y="223.1" width="1.16" height="6.4" fill="#cfe4ef"/>
<rect x="214.5" y="117.5" width="2.26" height="6.51" fill="#f0f4f6"/>
<rect x="214.5" y="123.95" width="2.26" height="6.51" fill="#9ac9e0"/>
<rect x="214.5" y="130.4" width="2.26" height="6.51" fill="#bedbeb"/>
<rect x="214.5" y="136.85" width="2.26" height="6.51" fill="#cfe4f0"/>
<rect x="214.5" y="143.3" width="2.26" height="6.51" fill="#79b5d5"/>
<rect x="214.5" y="149.75" width="2.26" height="6.51" fill="#4896c5"/>
<rect x="214.5" y="156.2" width="2.26" height="6.51" fill="#91c5de"/>
<rect x="214.5" y="162.65" width="2.26" height="6.51" fill="#f8f3ef"/>
<rect x="214.5" y="169.1" width="2.26" height="6.51" fill="#f1f4f6"/>
<rect x="214.5" y="175.55" width="2.26" height="6.51" fill="#c5dfed"/>
<rect x="214.5" y="182" width="2.26" height="6.51" fill="#f7f5f3"/>
<rect x="214.5" y="188.45" width="2.26" height="6.51" fill="#fce1d1"/>
<rect x="214.5" y="194.9" width="2.26" height="6.51" fill="#fcdfce"/>
<rect x="214.5" y="201.35" width="2.26" height="6.51" fill="#f7f6f5"/>
<rect x="214.5" y="207.8" width="2.26" height="6.51" fill="#deebf2"/>
<rect x="214.5" y="214.25" width="2.26" height="6.51" fill="#fae9de"/>
<rect x="214.5" y="223.1" width="2.26" height="6.4" fill="#edf2f5"/>
<rect x="216.7" y="117.5" width="1.16" height="6.51" fill="#b7d8e9"/>
<rect x="216.7" y="123.95" width="1.16" height="6.51" fill="#70b0d3"/>
<rect x="216.7" y="130.4" width="1.16" height="6.51" fill="#70b0d2"/>
<rect x="216.7" y="136.85" width="1.16" height="6.51" fill="#cde3ef"/>
<rect x="216.7" y="143.3" width="1.16" height="6.51" fill="#9ccae1"/>
<rect x="216.7" y="149.75" width="1.16" height="6.51" fill="#d6e8f1"/>
<rect x="216.7" y="156.2" width="1.16" height="6.51" fill="#dae9f2"/>
<rect x="216.7" y="162.65" width="1.16" height="6.51" fill="#f9eee7"/>
<rect x="216.7" y="169.1" width="1.16" height="6.51" fill="#bfdceb"/>
<rect x="216.7" y="175.55" width="1.16" height="6.51" fill="#73b2d4"/>
<rect x="216.7" y="182" width="1.16" height="6.51" fill="#f7f6f4"/>
<rect x="216.7" y="188.45" width="1.16" height="6.51" fill="#d5e7f1"/>
<rect x="216.7" y="194.9" width="1.16" height="6.51" fill="#e5eff4"/>
<rect x="216.7" y="201.35" width="1.16" height="6.51" fill="#e4eef4"/>
<rect x="216.7" y="207.8" width="1.16" height="6.51" fill="#a8d0e4"/>
<rect x="216.7" y="214.25" width="1.16" height="6.51" fill="#8ac0db"/>
<rect x="216.7" y="223.1" width="1.16" height="6.4" fill="#d6e7f1"/>
<rect x="217.8" y="117.5" width="1.56" height="6.51" fill="#f8f2ee"/>
<rect x="217.8" y="123.95" width="1.56" height="6.51" fill="#8dc2dc"/>
<rect x="217.8" y="130.4" width="1.56" height="6.51" fill="#99c9e0"/>
<rect x="217.8" y="136.85" width="1.56" height="6.51" fill="#d3e6f0"/>
<rect x="217.8" y="143.3" width="1.56" height="6.51" fill="#76b3d5"/>
<rect x="217.8" y="149.75" width="1.56" height="6.51" fill="#95c7df"/>
<rect x="217.8" y="156.2" width="1.56" height="6.51" fill="#cce3ef"/>
<rect x="217.8" y="162.65" width="1.56" height="6.51" fill="#64a8ce"/>
<rect x="217.8" y="169.1" width="1.56" height="6.51" fill="#cae1ee"/>
<rect x="217.8" y="175.55" width="1.56" height="6.51" fill="#79b5d6"/>
<rect x="217.8" y="182" width="1.56" height="6.51" fill="#f5f6f7"/>
<rect x="217.8" y="188.45" width="1.56" height="6.51" fill="#bad9e9"/>
<rect x="217.8" y="194.9" width="1.56" height="6.51" fill="#c0dceb"/>
<rect x="217.8" y="201.35" width="1.56" height="6.51" fill="#bbdaea"/>
<rect x="217.8" y="207.8" width="1.56" height="6.51" fill="#bad9e9"/>
<rect x="217.8" y="214.25" width="1.56" height="6.51" fill="#c5dfed"/>
<rect x="217.8" y="223.1" width="1.56" height="6.4" fill="#dae9f2"/>
<rect x="219.3" y="117.5" width="2.26" height="6.51" fill="#faeae2"/>
<rect x="219.3" y="123.95" width="2.26" height="6.51" fill="#b1d5e7"/>
<rect x="219.3" y="130.4" width="2.26" height="6.51" fill="#e9f0f4"/>
<rect x="219.3" y="136.85" width="2.26" height="6.51" fill="#bfdceb"/>
<rect x="219.3" y="143.3" width="2.26" height="6.51" fill="#62a6cd"/>
<rect x="219.3" y="149.75" width="2.26" height="6.51" fill="#93c6de"/>
<rect x="219.3" y="156.2" width="2.26" height="6.51" fill="#d0e5f0"/>
<rect x="219.3" y="162.65" width="2.26" height="6.51" fill="#dfecf3"/>
<rect x="219.3" y="169.1" width="2.26" height="6.51" fill="#c2ddec"/>
<rect x="219.3" y="175.55" width="2.26" height="6.51" fill="#bfdceb"/>
<rect x="219.3" y="182" width="2.26" height="6.51" fill="#fce0cf"/>
<rect x="219.3" y="188.45" width="2.26" height="6.51" fill="#f9efe9"/>
<rect x="219.3" y="194.9" width="2.26" height="6.51" fill="#eef3f5"/>
<rect x="219.3" y="201.35" width="2.26" height="6.51" fill="#c4deec"/>
<rect x="219.3" y="207.8" width="2.26" height="6.51" fill="#fbe6da"/>
<rect x="219.3" y="214.25" width="2.26" height="6.51" fill="#f0f4f6"/>
<rect x="219.3" y="223.1" width="2.26" height="6.4" fill="#e3edf3"/>
<rect x="221.5" y="117.5" width="1.56" height="6.51" fill="#f8bda0"/>
<rect x="221.5" y="123.95" width="1.56" height="6.51" fill="#f5f6f7"/>
<rect x="221.5" y="130.4" width="1.56" height="6.51" fill="#bbdaea"/>
<rect x="221.5" y="136.85" width="1.56" height="6.51" fill="#f8f0eb"/>
<rect x="221.5" y="143.3" width="1.56" height="6.51" fill="#b8d8e9"/>
<rect x="221.5" y="149.75" width="1.56" height="6.51" fill="#c6e0ed"/>
<rect x="221.5" y="156.2" width="1.56" height="6.51" fill="#fce1d1"/>
<rect x="221.5" y="162.65" width="1.56" height="6.51" fill="#f7f6f6"/>
<rect x="221.5" y="169.1" width="1.56" height="6.51" fill="#d9e9f1"/>
<rect x="221.5" y="175.55" width="1.56" height="6.51" fill="#dfecf3"/>
<rect x="221.5" y="182" width="1.56" height="6.51" fill="#fbe3d5"/>
<rect x="221.5" y="188.45" width="1.56" height="6.51" fill="#e7eff4"/>
<rect x="221.5" y="194.9" width="1.56" height="6.51" fill="#fae7dc"/>
<rect x="221.5" y="201.35" width="1.56" height="6.51" fill="#f19f7d"/>
<rect x="221.5" y="207.8" width="1.56" height="6.51" fill="#fbe3d4"/>
<rect x="221.5" y="214.25" width="1.56" height="6.51" fill="#f8f3f1"/>
<rect x="221.5" y="223.1" width="1.56" height="6.4" fill="#f0f4f6"/>
<rect x="223" y="117.5" width="0.96" height="6.51" fill="#f8f1ed"/>
<rect x="223" y="123.95" width="0.96" height="6.51" fill="#ef9a7a"/>
<rect x="223" y="130.4" width="0.96" height="6.51" fill="#f7f7f7"/>
<rect x="223" y="136.85" width="0.96" height="6.51" fill="#fbe5d7"/>
<rect x="223" y="143.3" width="0.96" height="6.51" fill="#d5e7f1"/>
<rect x="223" y="149.75" width="0.96" height="6.51" fill="#e0ecf3"/>
<rect x="223" y="156.2" width="0.96" height="6.51" fill="#dbeaf2"/>
<rect x="223" y="162.65" width="0.96" height="6.51" fill="#faebe3"/>
<rect x="223" y="169.1" width="0.96" height="6.51" fill="#f7b799"/>
<rect x="223" y="175.55" width="0.96" height="6.51" fill="#fcd5c0"/>
<rect x="223" y="182" width="0.96" height="6.51" fill="#e0ecf3"/>
<rect x="223" y="188.45" width="0.96" height="6.51" fill="#f9f0ea"/>
<rect x="223" y="194.9" width="0.96" height="6.51" fill="#bfdceb"/>
<rect x="223" y="201.35" width="0.96" height="6.51" fill="#e7f0f4"/>
<rect x="223" y="207.8" width="0.96" height="6.51" fill="#edf2f5"/>
<rect x="223" y="214.25" width="0.96" height="6.51" fill="#f8f1ec"/>
<rect x="223" y="223.1" width="0.96" height="6.4" fill="#f9c4a9"/>
<rect x="223.9" y="117.5" width="1.56" height="6.51" fill="#f9ece4"/>
<rect x="223.9" y="123.95" width="1.56" height="6.51" fill="#fce1d2"/>
<rect x="223.9" y="130.4" width="1.56" height="6.51" fill="#f3f5f6"/>
<rect x="223.9" y="136.85" width="1.56" height="6.51" fill="#f2f5f6"/>
<rect x="223.9" y="143.3" width="1.56" height="6.51" fill="#aed3e6"/>
<rect x="223.9" y="149.75" width="1.56" height="6.51" fill="#cbe2ee"/>
<rect x="223.9" y="156.2" width="1.56" height="6.51" fill="#f9ede6"/>
<rect x="223.9" y="162.65" width="1.56" height="6.51" fill="#a7d0e4"/>
<rect x="223.9" y="169.1" width="1.56" height="6.51" fill="#f8f4f3"/>
<rect x="223.9" y="175.55" width="1.56" height="6.51" fill="#e8f0f4"/>
<rect x="223.9" y="182" width="1.56" height="6.51" fill="#dae9f2"/>
<rect x="223.9" y="188.45" width="1.56" height="6.51" fill="#7bb6d6"/>
<rect x="223.9" y="194.9" width="1.56" height="6.51" fill="#d8e9f1"/>
<rect x="223.9" y="201.35" width="1.56" height="6.51" fill="#ecf2f5"/>
<rect x="223.9" y="207.8" width="1.56" height="6.51" fill="#c2ddec"/>
<rect x="223.9" y="214.25" width="1.56" height="6.51" fill="#ddebf2"/>
<rect x="223.9" y="223.1" width="1.56" height="6.4" fill="#fac9b0"/>
<rect x="225.4" y="117.5" width="1.56" height="6.51" fill="#bbdaea"/>
<rect x="225.4" y="123.95" width="1.56" height="6.51" fill="#f4f5f6"/>
<rect x="225.4" y="130.4" width="1.56" height="6.51" fill="#d5e7f1"/>
<rect x="225.4" y="136.85" width="1.56" height="6.51" fill="#bad9e9"/>
<rect x="225.4" y="143.3" width="1.56" height="6.51" fill="#cee4ef"/>
<rect x="225.4" y="149.75" width="1.56" height="6.51" fill="#a1cde2"/>
<rect x="225.4" y="156.2" width="1.56" height="6.51" fill="#fcd4be"/>
<rect x="225.4" y="162.65" width="1.56" height="6.51" fill="#f4f6f6"/>
<rect x="225.4" y="169.1" width="1.56" height="6.51" fill="#f6f6f7"/>
<rect x="225.4" y="175.55" width="1.56" height="6.51" fill="#e2edf3"/>
<rect x="225.4" y="182" width="1.56" height="6.51" fill="#c0dceb"/>
<rect x="225.4" y="188.45" width="1.56" height="6.51" fill="#c9e1ee"/>
<rect x="225.4" y="194.9" width="1.56" height="6.51" fill="#e3edf3"/>
<rect x="225.4" y="201.35" width="1.56" height="6.51" fill="#fdd8c3"/>
<rect x="225.4" y="207.8" width="1.56" height="6.51" fill="#76b3d4"/>
<rect x="225.4" y="214.25" width="1.56" height="6.51" fill="#f2f5f6"/>
<rect x="225.4" y="223.1" width="1.56" height="6.4" fill="#fbcdb5"/>
<rect x="226.9" y="117.5" width="1.16" height="6.51" fill="#f8f1ed"/>
<rect x="226.9" y="123.95" width="1.16" height="6.51" fill="#f9eee8"/>
<rect x="226.9" y="130.4" width="1.16" height="6.51" fill="#d9e9f1"/>
<rect x="226.9" y="136.85" width="1.16" height="6.51" fill="#c3deec"/>
<rect x="226.9" y="143.3" width="1.16" height="6.51" fill="#5ba2cb"/>
<rect x="226.9" y="149.75" width="1.16" height="6.51" fill="#c7e0ed"/>
<rect x="226.9" y="156.2" width="1.16" height="6.51" fill="#e9f0f4"/>
<rect x="226.9" y="162.65" width="1.16" height="6.51" fill="#d4e6f1"/>
<rect x="226.9" y="169.1" width="1.16" height="6.51" fill="#cfe4f0"/>
<rect x="226.9" y="175.55" width="1.16" height="6.51" fill="#f1f4f6"/>
<rect x="226.9" y="182" width="1.16" height="6.51" fill="#bad9e9"/>
<rect x="226.9" y="188.45" width="1.16" height="6.51" fill="#d6e7f1"/>
<rect x="226.9" y="194.9" width="1.16" height="6.51" fill="#d8e8f1"/>
<rect x="226.9" y="201.35" width="1.16" height="6.51" fill="#c1ddeb"/>
<rect x="226.9" y="207.8" width="1.16" height="6.51" fill="#a3cee3"/>
<rect x="226.9" y="214.25" width="1.16" height="6.51" fill="#a1cde2"/>
<rect x="226.9" y="223.1" width="1.16" height="6.4" fill="#f5a987"/>
<rect x="228" y="117.5" width="0.96" height="6.51" fill="#f9eee7"/>
<rect x="228" y="123.95" width="0.96" height="6.51" fill="#dae9f2"/>
<rect x="228" y="130.4" width="0.96" height="6.51" fill="#92c5de"/>
<rect x="228" y="136.85" width="0.96" height="6.51" fill="#6aacd0"/>
<rect x="228" y="143.3" width="0.96" height="6.51" fill="#bddbea"/>
<rect x="228" y="149.75" width="0.96" height="6.51" fill="#59a1cb"/>
<rect x="228" y="156.2" width="0.96" height="6.51" fill="#c6e0ed"/>
<rect x="228" y="162.65" width="0.96" height="6.51" fill="#77b4d5"/>
<rect x="228" y="169.1" width="0.96" height="6.51" fill="#dbeaf2"/>
<rect x="228" y="175.55" width="0.96" height="6.51" fill="#d6e7f1"/>
<rect x="228" y="182" width="0.96" height="6.51" fill="#f9ece4"/>
<rect x="228" y="188.45" width="0.96" height="6.51" fill="#cae2ee"/>
<rect x="228" y="194.9" width="0.96" height="6.51" fill="#faeae1"/>
<rect x="228" y="201.35" width="0.96" height="6.51" fill="#e0ecf3"/>
<rect x="228" y="207.8" width="0.96" height="6.51" fill="#317bb7"/>
<rect x="228" y="214.25" width="0.96" height="6.51" fill="#add3e6"/>
<rect x="228" y="223.1" width="0.96" height="6.4" fill="#f7b596"/>
<rect x="228.9" y="117.5" width="1.36" height="6.51" fill="#fce2d2"/>
<rect x="228.9" y="123.95" width="1.36" height="6.51" fill="#f9c6ac"/>
<rect x="228.9" y="130.4" width="1.36" height="6.51" fill="#fbe5d9"/>
<rect x="228.9" y="136.85" width="1.36" height="6.51" fill="#eaf1f5"/>
<rect x="228.9" y="143.3" width="1.36" height="6.51" fill="#e6eff4"/>
<rect x="228.9" y="149.75" width="1.36" height="6.51" fill="#f7f5f3"/>
<rect x="228.9" y="156.2" width="1.36" height="6.51" fill="#f5ad8d"/>
<rect x="228.9" y="162.65" width="1.36" height="6.51" fill="#e4eef4"/>
<rect x="228.9" y="169.1" width="1.36" height="6.51" fill="#fcdecc"/>
<rect x="228.9" y="175.55" width="1.36" height="6.51" fill="#fce0d0"/>
<rect x="228.9" y="182" width="1.36" height="6.51" fill="#e2edf3"/>
<rect x="228.9" y="188.45" width="1.36" height="6.51" fill="#d1e5f0"/>
<rect x="228.9" y="194.9" width="1.36" height="6.51" fill="#e4eef4"/>
<rect x="228.9" y="201.35" width="1.36" height="6.51" fill="#f9ede5"/>
<rect x="228.9" y="207.8" width="1.36" height="6.51" fill="#abd2e5"/>
<rect x="228.9" y="214.25" width="1.36" height="6.51" fill="#d3e6f0"/>
<rect x="228.9" y="223.1" width="1.36" height="6.4" fill="#fcd4be"/>
<rect x="230.2" y="117.5" width="1.86" height="6.51" fill="#ecf2f5"/>
<rect x="230.2" y="123.95" width="1.86" height="6.51" fill="#c1ddeb"/>
<rect x="230.2" y="130.4" width="1.86" height="6.51" fill="#90c3dd"/>
<rect x="230.2" y="136.85" width="1.86" height="6.51" fill="#9ac9e0"/>
<rect x="230.2" y="143.3" width="1.86" height="6.51" fill="#6cadd1"/>
<rect x="230.2" y="149.75" width="1.86" height="6.51" fill="#4a97c5"/>
<rect x="230.2" y="156.2" width="1.86" height="6.51" fill="#d9e9f1"/>
<rect x="230.2" y="162.65" width="1.86" height="6.51" fill="#529dc8"/>
<rect x="230.2" y="169.1" width="1.86" height="6.51" fill="#8ac0db"/>
<rect x="230.2" y="175.55" width="1.86" height="6.51" fill="#eff3f6"/>
<rect x="230.2" y="182" width="1.86" height="6.51" fill="#edf2f5"/>
<rect x="230.2" y="188.45" width="1.86" height="6.51" fill="#f2f4f6"/>
<rect x="230.2" y="194.9" width="1.86" height="6.51" fill="#dfecf3"/>
<rect x="230.2" y="201.35" width="1.86" height="6.51" fill="#b7d8e8"/>
<rect x="230.2" y="207.8" width="1.86" height="6.51" fill="#d5e7f1"/>
<rect x="230.2" y="214.25" width="1.86" height="6.51" fill="#99c9e0"/>
<rect x="230.2" y="223.1" width="1.86" height="6.4" fill="#fbe5d7"/>
<rect x="232" y="117.5" width="1.36" height="6.51" fill="#faebe3"/>
<rect x="232" y="123.95" width="1.36" height="6.51" fill="#f7f5f3"/>
<rect x="232" y="130.4" width="1.36" height="6.51" fill="#f8f4f2"/>
<rect x="232" y="136.85" width="1.36" height="6.51" fill="#fae9df"/>
<rect x="232" y="143.3" width="1.36" height="6.51" fill="#abd1e5"/>
<rect x="232" y="149.75" width="1.36" height="6.51" fill="#b5d7e8"/>
<rect x="232" y="156.2" width="1.36" height="6.51" fill="#fae9df"/>
<rect x="232" y="162.65" width="1.36" height="6.51" fill="#f8f3ef"/>
<rect x="232" y="169.1" width="1.36" height="6.51" fill="#f4f6f7"/>
<rect x="232" y="175.55" width="1.36" height="6.51" fill="#fcdecb"/>
<rect x="232" y="182" width="1.36" height="6.51" fill="#fbe6da"/>
<rect x="232" y="188.45" width="1.36" height="6.51" fill="#f8f0ec"/>
<rect x="232" y="194.9" width="1.36" height="6.51" fill="#facab1"/>
<rect x="232" y="201.35" width="1.36" height="6.51" fill="#f9ede5"/>
<rect x="232" y="207.8" width="1.36" height="6.51" fill="#4291c2"/>
<rect x="232" y="214.25" width="1.36" height="6.51" fill="#f8f2ef"/>
<rect x="232" y="223.1" width="1.36" height="6.4" fill="#fbe5d8"/>
<rect x="233.3" y="117.5" width="0.96" height="6.51" fill="#e8f0f4"/>
<rect x="233.3" y="123.95" width="0.96" height="6.51" fill="#facab1"/>
<rect x="233.3" y="130.4" width="0.96" height="6.51" fill="#ddebf2"/>
<rect x="233.3" y="136.85" width="0.96" height="6.51" fill="#fdddca"/>
<rect x="233.3" y="143.3" width="0.96" height="6.51" fill="#d45c4b"/>
<rect x="233.3" y="149.75" width="0.96" height="6.51" fill="#f7b89b"/>
<rect x="233.3" y="156.2" width="0.96" height="6.51" fill="#f8ba9d"/>
<rect x="233.3" y="162.65" width="0.96" height="6.51" fill="#f9c2a7"/>
<rect x="233.3" y="169.1" width="0.96" height="6.51" fill="#f4a582"/>
<rect x="233.3" y="175.55" width="0.96" height="6.51" fill="#fcd4bd"/>
<rect x="233.3" y="182" width="0.96" height="6.51" fill="#e5eef4"/>
<rect x="233.3" y="188.45" width="0.96" height="6.51" fill="#f1f4f6"/>
<rect x="233.3" y="194.9" width="0.96" height="6.51" fill="#b7d8e8"/>
<rect x="233.3" y="201.35" width="0.96" height="6.51" fill="#f6b090"/>
<rect x="233.3" y="207.8" width="0.96" height="6.51" fill="#cbe2ee"/>
<rect x="233.3" y="214.25" width="0.96" height="6.51" fill="#eaf1f5"/>
<rect x="233.3" y="223.1" width="0.96" height="6.4" fill="#f9c4aa"/>
<rect x="234.2" y="117.5" width="1.16" height="6.51" fill="#f4f6f6"/>
<rect x="234.2" y="123.95" width="1.16" height="6.51" fill="#f5ae8d"/>
<rect x="234.2" y="130.4" width="1.16" height="6.51" fill="#f4f5f6"/>
<rect x="234.2" y="136.85" width="1.16" height="6.51" fill="#eaf1f5"/>
<rect x="234.2" y="143.3" width="1.16" height="6.51" fill="#f6b191"/>
<rect x="234.2" y="149.75" width="1.16" height="6.51" fill="#fcdecc"/>
<rect x="234.2" y="156.2" width="1.16" height="6.51" fill="#e0ecf3"/>
<rect x="234.2" y="162.65" width="1.16" height="6.51" fill="#f5ac8b"/>
<rect x="234.2" y="169.1" width="1.16" height="6.51" fill="#f9c1a6"/>
<rect x="234.2" y="175.55" width="1.16" height="6.51" fill="#ee9878"/>
<rect x="234.2" y="182" width="1.16" height="6.51" fill="#f5f6f7"/>
<rect x="234.2" y="188.45" width="1.16" height="6.51" fill="#fae9df"/>
<rect x="234.2" y="194.9" width="1.16" height="6.51" fill="#e9f0f4"/>
<rect x="234.2" y="201.35" width="1.16" height="6.51" fill="#f6f7f7"/>
<rect x="234.2" y="207.8" width="1.16" height="6.51" fill="#94c6de"/>
<rect x="234.2" y="214.25" width="1.16" height="6.51" fill="#f7f7f6"/>
<rect x="234.2" y="223.1" width="1.16" height="6.4" fill="#fdd9c4"/>
<rect x="235.3" y="117.5" width="1.16" height="6.51" fill="#fddcc9"/>
<rect x="235.3" y="123.95" width="1.16" height="6.51" fill="#fbe3d5"/>
<rect x="235.3" y="130.4" width="1.16" height="6.51" fill="#fbcfb8"/>
<rect x="235.3" y="136.85" width="1.16" height="6.51" fill="#fcdfcf"/>
<rect x="235.3" y="143.3" width="1.16" height="6.51" fill="#e37e64"/>
<rect x="235.3" y="149.75" width="1.16" height="6.51" fill="#d15648"/>
<rect x="235.3" y="156.2" width="1.16" height="6.51" fill="#db6c57"/>
<rect x="235.3" y="162.65" width="1.16" height="6.51" fill="#f29f7e"/>
<rect x="235.3" y="169.1" width="1.16" height="6.51" fill="#c03539"/>
<rect x="235.3" y="175.55" width="1.16" height="6.51" fill="#e17a61"/>
<rect x="235.3" y="182" width="1.16" height="6.51" fill="#d3e6f0"/>
<rect x="235.3" y="188.45" width="1.16" height="6.51" fill="#e5eff4"/>
<rect x="235.3" y="194.9" width="1.16" height="6.51" fill="#f8f4f1"/>
<rect x="235.3" y="201.35" width="1.16" height="6.51" fill="#fcdfcd"/>
<rect x="235.3" y="207.8" width="1.16" height="6.51" fill="#fcddcb"/>
<rect x="235.3" y="214.25" width="1.16" height="6.51" fill="#eef3f5"/>
<rect x="235.3" y="223.1" width="1.16" height="6.4" fill="#fcdfcd"/>
<rect x="236.4" y="117.5" width="1.56" height="6.51" fill="#fbe2d3"/>
<rect x="236.4" y="123.95" width="1.56" height="6.51" fill="#e37e64"/>
<rect x="236.4" y="130.4" width="1.56" height="6.51" fill="#f8f4f2"/>
<rect x="236.4" y="136.85" width="1.56" height="6.51" fill="#f8f4f1"/>
<rect x="236.4" y="143.3" width="1.56" height="6.51" fill="#c03539"/>
<rect x="236.4" y="149.75" width="1.56" height="6.51" fill="#fbe4d6"/>
<rect x="236.4" y="156.2" width="1.56" height="6.51" fill="#f7f6f6"/>
<rect x="236.4" y="162.65" width="1.56" height="6.51" fill="#f7b698"/>
<rect x="236.4" y="169.1" width="1.56" height="6.51" fill="#f7b799"/>
<rect x="236.4" y="175.55" width="1.56" height="6.51" fill="#f5a988"/>
<rect x="236.4" y="182" width="1.56" height="6.51" fill="#fbe2d4"/>
<rect x="236.4" y="188.45" width="1.56" height="6.51" fill="#e9f0f4"/>
<rect x="236.4" y="194.9" width="1.56" height="6.51" fill="#f1f4f6"/>
<rect x="236.4" y="201.35" width="1.56" height="6.51" fill="#fbd1ba"/>
<rect x="236.4" y="207.8" width="1.56" height="6.51" fill="#dfecf3"/>
<rect x="236.4" y="214.25" width="1.56" height="6.51" fill="#c8e1ee"/>
<rect x="236.4" y="223.1" width="1.56" height="6.4" fill="#f6b292"/>
<rect x="237.9" y="117.5" width="1.86" height="6.51" fill="#fcdecc"/>
<rect x="237.9" y="123.95" width="1.86" height="6.51" fill="#f7f7f6"/>
<rect x="237.9" y="130.4" width="1.86" height="6.51" fill="#f6f7f7"/>
<rect x="237.9" y="136.85" width="1.86" height="6.51" fill="#f2f5f6"/>
<rect x="237.9" y="143.3" width="1.86" height="6.51" fill="#f6b293"/>
<rect x="237.9" y="149.75" width="1.86" height="6.51" fill="#ef9a79"/>
<rect x="237.9" y="156.2" width="1.86" height="6.51" fill="#fddcc8"/>
<rect x="237.9" y="162.65" width="1.86" height="6.51" fill="#d9e9f1"/>
<rect x="237.9" y="169.1" width="1.86" height="6.51" fill="#f9c3a8"/>
<rect x="237.9" y="175.55" width="1.86" height="6.51" fill="#fddbc7"/>
<rect x="237.9" y="182" width="1.86" height="6.51" fill="#bbdaea"/>
<rect x="237.9" y="188.45" width="1.86" height="6.51" fill="#c4deec"/>
<rect x="237.9" y="194.9" width="1.86" height="6.51" fill="#e6eff4"/>
<rect x="237.9" y="201.35" width="1.86" height="6.51" fill="#9ac9e0"/>
<rect x="237.9" y="207.8" width="1.86" height="6.51" fill="#f0f4f6"/>
<rect x="237.9" y="214.25" width="1.86" height="6.51" fill="#f7f5f3"/>
<rect x="237.9" y="223.1" width="1.86" height="6.4" fill="#f3a280"/>
<rect x="239.7" y="117.5" width="2.26" height="6.51" fill="#c2ddec"/>
<rect x="239.7" y="123.95" width="2.26" height="6.51" fill="#d2e5f0"/>
<rect x="239.7" y="130.4" width="2.26" height="6.51" fill="#e1edf3"/>
<rect x="239.7" y="136.85" width="2.26" height="6.51" fill="#fdd9c5"/>
<rect x="239.7" y="143.3" width="2.26" height="6.51" fill="#faebe3"/>
<rect x="239.7" y="149.75" width="2.26" height="6.51" fill="#fddac5"/>
<rect x="239.7" y="156.2" width="2.26" height="6.51" fill="#fbcfb8"/>
<rect x="239.7" y="162.65" width="2.26" height="6.51" fill="#f9c3a8"/>
<rect x="239.7" y="169.1" width="2.26" height="6.51" fill="#fbcdb5"/>
<rect x="239.7" y="175.55" width="2.26" height="6.51" fill="#f8c0a4"/>
<rect x="239.7" y="182" width="2.26" height="6.51" fill="#f6f6f7"/>
<rect x="239.7" y="188.45" width="2.26" height="6.51" fill="#d8e8f1"/>
<rect x="239.7" y="194.9" width="2.26" height="6.51" fill="#cde3ef"/>
<rect x="239.7" y="201.35" width="2.26" height="6.51" fill="#cfe4ef"/>
<rect x="239.7" y="207.8" width="2.26" height="6.51" fill="#c7e0ed"/>
<rect x="239.7" y="214.25" width="2.26" height="6.51" fill="#c5dfec"/>
<rect x="239.7" y="223.1" width="2.26" height="6.4" fill="#fbe5d8"/>
<rect x="241.9" y="117.5" width="1.86" height="6.51" fill="#fcd8c3"/>
<rect x="241.9" y="123.95" width="1.86" height="6.51" fill="#dceaf2"/>
<rect x="241.9" y="130.4" width="1.86" height="6.51" fill="#c5dfed"/>
<rect x="241.9" y="136.85" width="1.86" height="6.51" fill="#c0dceb"/>
<rect x="241.9" y="143.3" width="1.86" height="6.51" fill="#fbd0b8"/>
<rect x="241.9" y="149.75" width="1.86" height="6.51" fill="#f7b799"/>
<rect x="241.9" y="156.2" width="1.86" height="6.51" fill="#fce1d2"/>
<rect x="241.9" y="162.65" width="1.86" height="6.51" fill="#f4a582"/>
<rect x="241.9" y="169.1" width="1.86" height="6.51" fill="#fce0d0"/>
<rect x="241.9" y="175.55" width="1.86" height="6.51" fill="#fbcdb5"/>
<rect x="241.9" y="182" width="1.86" height="6.51" fill="#c7e0ed"/>
<rect x="241.9" y="188.45" width="1.86" height="6.51" fill="#b8d8e9"/>
<rect x="241.9" y="194.9" width="1.86" height="6.51" fill="#f3f5f6"/>
<rect x="241.9" y="201.35" width="1.86" height="6.51" fill="#d6e7f1"/>
<rect x="241.9" y="207.8" width="1.86" height="6.51" fill="#d7e8f1"/>
<rect x="241.9" y="214.25" width="1.86" height="6.51" fill="#9ac9e0"/>
<rect x="241.9" y="223.1" width="1.86" height="6.4" fill="#f4a885"/>
<rect x="243.7" y="117.5" width="0.96" height="6.51" fill="#e8f0f4"/>
<rect x="243.7" y="123.95" width="0.96" height="6.51" fill="#f0f4f6"/>
<rect x="243.7" y="130.4" width="0.96" height="6.51" fill="#ddebf2"/>
<rect x="243.7" y="136.85" width="0.96" height="6.51" fill="#eff3f6"/>
<rect x="243.7" y="143.3" width="0.96" height="6.51" fill="#facab1"/>
<rect x="243.7" y="149.75" width="0.96" height="6.51" fill="#fac7ad"/>
<rect x="243.7" y="156.2" width="0.96" height="6.51" fill="#f9ede7"/>
<rect x="243.7" y="162.65" width="0.96" height="6.51" fill="#f6b192"/>
<rect x="243.7" y="169.1" width="0.96" height="6.51" fill="#f4a481"/>
<rect x="243.7" y="175.55" width="0.96" height="6.51" fill="#f6b292"/>
<rect x="243.7" y="182" width="0.96" height="6.51" fill="#dbeaf2"/>
<rect x="243.7" y="188.45" width="0.96" height="6.51" fill="#b6d7e8"/>
<rect x="243.7" y="194.9" width="0.96" height="6.51" fill="#eef3f5"/>
<rect x="243.7" y="201.35" width="0.96" height="6.51" fill="#f9c3a9"/>
<rect x="243.7" y="207.8" width="0.96" height="6.51" fill="#fbe6d9"/>
<rect x="243.7" y="214.25" width="0.96" height="6.51" fill="#f7f7f7"/>
<rect x="243.7" y="223.1" width="0.96" height="6.4" fill="#fdd9c4"/>
<rect x="244.6" y="117.5" width="0.96" height="6.51" fill="#e5eff4"/>
<rect x="244.6" y="123.95" width="0.96" height="6.51" fill="#f9ede6"/>
<rect x="244.6" y="130.4" width="0.96" height="6.51" fill="#ebf1f5"/>
<rect x="244.6" y="136.85" width="0.96" height="6.51" fill="#ddeaf2"/>
<rect x="244.6" y="143.3" width="0.96" height="6.51" fill="#f9c1a6"/>
<rect x="244.6" y="149.75" width="0.96" height="6.51" fill="#f8bc9f"/>
<rect x="244.6" y="156.2" width="0.96" height="6.51" fill="#e6eff4"/>
<rect x="244.6" y="162.65" width="0.96" height="6.51" fill="#f1f4f6"/>
<rect x="244.6" y="169.1" width="0.96" height="6.51" fill="#f7b99b"/>
<rect x="244.6" y="175.55" width="0.96" height="6.51" fill="#f9c4aa"/>
<rect x="244.6" y="182" width="0.96" height="6.51" fill="#a8d0e4"/>
<rect x="244.6" y="188.45" width="0.96" height="6.51" fill="#d2e6f0"/>
<rect x="244.6" y="194.9" width="0.96" height="6.51" fill="#72b1d3"/>
<rect x="244.6" y="201.35" width="0.96" height="6.51" fill="#c5dfec"/>
<rect x="244.6" y="207.8" width="0.96" height="6.51" fill="#d9e9f1"/>
<rect x="244.6" y="214.25" width="0.96" height="6.51" fill="#a0cce2"/>
<rect x="244.6" y="223.1" width="0.96" height="6.4" fill="#f5ad8c"/>
<rect x="245.5" y="117.5" width="1.16" height="6.51" fill="#fddcc8"/>
<rect x="245.5" y="123.95" width="1.16" height="6.51" fill="#e7eff4"/>
<rect x="245.5" y="130.4" width="1.16" height="6.51" fill="#f8f2ee"/>
<rect x="245.5" y="136.85" width="1.16" height="6.51" fill="#edf2f5"/>
<rect x="245.5" y="143.3" width="1.16" height="6.51" fill="#f9efe9"/>
<rect x="245.5" y="149.75" width="1.16" height="6.51" fill="#e7f0f4"/>
<rect x="245.5" y="156.2" width="1.16" height="6.51" fill="#fbe6da"/>
<rect x="245.5" y="162.65" width="1.16" height="6.51" fill="#f4f5f6"/>
<rect x="245.5" y="169.1" width="1.16" height="6.51" fill="#f8bda0"/>
<rect x="245.5" y="175.55" width="1.16" height="6.51" fill="#dd715a"/>
<rect x="245.5" y="182" width="1.16" height="6.51" fill="#75b3d4"/>
<rect x="245.5" y="188.45" width="1.16" height="6.51" fill="#d2e5f0"/>
<rect x="245.5" y="194.9" width="1.16" height="6.51" fill="#99c9e0"/>
<rect x="245.5" y="201.35" width="1.16" height="6.51" fill="#d2e5f0"/>
<rect x="245.5" y="207.8" width="1.16" height="6.51" fill="#93c6de"/>
<rect x="245.5" y="214.25" width="1.16" height="6.51" fill="#c2ddec"/>
<rect x="245.5" y="223.1" width="1.16" height="6.4" fill="#e48166"/>
<rect x="246.6" y="117.5" width="1.16" height="6.51" fill="#fdd9c5"/>
<rect x="246.6" y="123.95" width="1.16" height="6.51" fill="#fcd7c1"/>
<rect x="246.6" y="130.4" width="1.16" height="6.51" fill="#fae8de"/>
<rect x="246.6" y="136.85" width="1.16" height="6.51" fill="#fbe4d7"/>
<rect x="246.6" y="143.3" width="1.16" height="6.51" fill="#f3a380"/>
<rect x="246.6" y="149.75" width="1.16" height="6.51" fill="#e27c63"/>
<rect x="246.6" y="156.2" width="1.16" height="6.51" fill="#fce1d1"/>
<rect x="246.6" y="162.65" width="1.16" height="6.51" fill="#e0785f"/>
<rect x="246.6" y="169.1" width="1.16" height="6.51" fill="#e17960"/>
<rect x="246.6" y="175.55" width="1.16" height="6.51" fill="#e7876b"/>
<rect x="246.6" y="182" width="1.16" height="6.51" fill="#f8f5f3"/>
<rect x="246.6" y="188.45" width="1.16" height="6.51" fill="#d5e7f1"/>
<rect x="246.6" y="194.9" width="1.16" height="6.51" fill="#fcdfcd"/>
<rect x="246.6" y="201.35" width="1.16" height="6.51" fill="#fcdecb"/>
<rect x="246.6" y="207.8" width="1.16" height="6.51" fill="#f8c0a4"/>
<rect x="246.6" y="214.25" width="1.16" height="6.51" fill="#fbe6da"/>
<rect x="246.6" y="223.1" width="1.16" height="6.4" fill="#ee9878"/>
<rect x="247.7" y="117.5" width="1.56" height="6.51" fill="#fcdfcf"/>
<rect x="247.7" y="123.95" width="1.56" height="6.51" fill="#fbd1ba"/>
<rect x="247.7" y="130.4" width="1.56" height="6.51" fill="#fae7db"/>
<rect x="247.7" y="136.85" width="1.56" height="6.51" fill="#dbeaf2"/>
<rect x="247.7" y="143.3" width="1.56" height="6.51" fill="#fbccb4"/>
<rect x="247.7" y="149.75" width="1.56" height="6.51" fill="#e98d6f"/>
<rect x="247.7" y="156.2" width="1.56" height="6.51" fill="#fae7db"/>
<rect x="247.7" y="162.65" width="1.56" height="6.51" fill="#faeae1"/>
<rect x="247.7" y="169.1" width="1.56" height="6.51" fill="#f8bc9f"/>
<rect x="247.7" y="175.55" width="1.56" height="6.51" fill="#f2a17f"/>
<rect x="247.7" y="182" width="1.56" height="6.51" fill="#b0d4e7"/>
<rect x="247.7" y="188.45" width="1.56" height="6.51" fill="#d9e9f1"/>
<rect x="247.7" y="194.9" width="1.56" height="6.51" fill="#e2edf3"/>
<rect x="247.7" y="201.35" width="1.56" height="6.51" fill="#f8f2ee"/>
<rect x="247.7" y="207.8" width="1.56" height="6.51" fill="#d2e6f0"/>
<rect x="247.7" y="214.25" width="1.56" height="6.51" fill="#85bdda"/>
<rect x="247.7" y="223.1" width="1.56" height="6.4" fill="#fcd5bf"/>
<rect x="249.2" y="117.5" width="1.36" height="6.51" fill="#ee9878"/>
<rect x="249.2" y="123.95" width="1.36" height="6.51" fill="#fce2d3"/>
<rect x="249.2" y="130.4" width="1.36" height="6.51" fill="#f09c7b"/>
<rect x="249.2" y="136.85" width="1.36" height="6.51" fill="#fac7ae"/>
<rect x="249.2" y="143.3" width="1.36" height="6.51" fill="#f19d7c"/>
<rect x="249.2" y="149.75" width="1.36" height="6.51" fill="#f9c2a7"/>
<rect x="249.2" y="156.2" width="1.36" height="6.51" fill="#fbd2bb"/>
<rect x="249.2" y="162.65" width="1.36" height="6.51" fill="#fac8af"/>
<rect x="249.2" y="169.1" width="1.36" height="6.51" fill="#e37e64"/>
<rect x="249.2" y="175.55" width="1.36" height="6.51" fill="#fbd1bb"/>
<rect x="249.2" y="182" width="1.36" height="6.51" fill="#cce3ef"/>
<rect x="249.2" y="188.45" width="1.36" height="6.51" fill="#edf2f5"/>
<rect x="249.2" y="194.9" width="1.36" height="6.51" fill="#e5eef4"/>
<rect x="249.2" y="201.35" width="1.36" height="6.51" fill="#fcd7c2"/>
<rect x="249.2" y="207.8" width="1.36" height="6.51" fill="#e6eff4"/>
<rect x="249.2" y="214.25" width="1.36" height="6.51" fill="#fdddcb"/>
<rect x="249.2" y="223.1" width="1.36" height="6.4" fill="#ed9475"/>
<rect x="250.5" y="117.5" width="0.96" height="6.51" fill="#eff3f6"/>
<rect x="250.5" y="123.95" width="0.96" height="6.51" fill="#fbe5d8"/>
<rect x="250.5" y="130.4" width="0.96" height="6.51" fill="#dfecf3"/>
<rect x="250.5" y="136.85" width="0.96" height="6.51" fill="#f1f4f6"/>
<rect x="250.5" y="143.3" width="0.96" height="6.51" fill="#faeae1"/>
<rect x="250.5" y="149.75" width="0.96" height="6.51" fill="#fbe4d6"/>
<rect x="250.5" y="156.2" width="0.96" height="6.51" fill="#e9f0f4"/>
<rect x="250.5" y="162.65" width="0.96" height="6.51" fill="#f0f4f6"/>
<rect x="250.5" y="169.1" width="0.96" height="6.51" fill="#f4a481"/>
<rect x="250.5" y="175.55" width="0.96" height="6.51" fill="#f8f3f0"/>
<rect x="250.5" y="182" width="0.96" height="6.51" fill="#4b98c6"/>
<rect x="250.5" y="188.45" width="0.96" height="6.51" fill="#90c4dd"/>
<rect x="250.5" y="194.9" width="0.96" height="6.51" fill="#c6dfed"/>
<rect x="250.5" y="201.35" width="0.96" height="6.51" fill="#b7d8e8"/>
<rect x="250.5" y="207.8" width="0.96" height="6.51" fill="#e0ecf3"/>
<rect x="250.5" y="214.25" width="0.96" height="6.51" fill="#e0ecf3"/>
<rect x="250.5" y="223.1" width="0.96" height="6.4" fill="#f7b698"/>
<rect x="251.4" y="117.5" width="1.86" height="6.51" fill="#f0f4f6"/>
<rect x="251.4" y="123.95" width="1.86" height="6.51" fill="#ecf2f5"/>
<rect x="251.4" y="130.4" width="1.86" height="6.51" fill="#f9c3a8"/>
<rect x="251.4" y="136.85" width="1.86" height="6.51" fill="#f9efe9"/>
<rect x="251.4" y="143.3" width="1.86" height="6.51" fill="#fdd8c3"/>
<rect x="251.4" y="149.75" width="1.86" height="6.51" fill="#f9c3a8"/>
<rect x="251.4" y="156.2" width="1.86" height="6.51" fill="#fcdfcd"/>
<rect x="251.4" y="162.65" width="1.86" height="6.51" fill="#f5a987"/>
<rect x="251.4" y="169.1" width="1.86" height="6.51" fill="#ee9677"/>
<rect x="251.4" y="175.55" width="1.86" height="6.51" fill="#fbceb6"/>
<rect x="251.4" y="182" width="1.86" height="6.51" fill="#aed3e6"/>
<rect x="251.4" y="188.45" width="1.86" height="6.51" fill="#88bfdb"/>
<rect x="251.4" y="194.9" width="1.86" height="6.51" fill="#d5e7f1"/>
<rect x="251.4" y="201.35" width="1.86" height="6.51" fill="#fcd3bd"/>
<rect x="251.4" y="207.8" width="1.86" height="6.51" fill="#e5eef4"/>
<rect x="251.4" y="214.25" width="1.86" height="6.51" fill="#e8f0f4"/>
<rect x="251.4" y="223.1" width="1.86" height="6.4" fill="#faccb4"/>
<rect x="253.2" y="117.5" width="1.36" height="6.51" fill="#cfe4f0"/>
<rect x="253.2" y="123.95" width="1.36" height="6.51" fill="#e0ecf3"/>
<rect x="253.2" y="130.4" width="1.36" height="6.51" fill="#fbcdb6"/>
<rect x="253.2" y="136.85" width="1.36" height="6.51" fill="#f1f4f6"/>
<rect x="253.2" y="143.3" width="1.36" height="6.51" fill="#f3a481"/>
<rect x="253.2" y="149.75" width="1.36" height="6.51" fill="#fcdfcd"/>
<rect x="253.2" y="156.2" width="1.36" height="6.51" fill="#fbd1ba"/>
<rect x="253.2" y="162.65" width="1.36" height="6.51" fill="#fcd8c3"/>
<rect x="253.2" y="169.1" width="1.36" height="6.51" fill="#fae8dd"/>
<rect x="253.2" y="175.55" width="1.36" height="6.51" fill="#e3eef3"/>
<rect x="253.2" y="182" width="1.36" height="6.51" fill="#6daed1"/>
<rect x="253.2" y="188.45" width="1.36" height="6.51" fill="#d2e5f0"/>
<rect x="253.2" y="194.9" width="1.36" height="6.51" fill="#e3edf3"/>
<rect x="253.2" y="201.35" width="1.36" height="6.51" fill="#dfecf3"/>
<rect x="253.2" y="207.8" width="1.36" height="6.51" fill="#cae2ee"/>
<rect x="253.2" y="214.25" width="1.36" height="6.51" fill="#f1f4f6"/>
<rect x="253.2" y="223.1" width="1.36" height="6.4" fill="#f9c1a6"/>
<rect x="254.5" y="117.5" width="1.36" height="6.51" fill="#f7f7f7"/>
<rect x="254.5" y="123.95" width="1.36" height="6.51" fill="#fbe6db"/>
<rect x="254.5" y="130.4" width="1.36" height="6.51" fill="#97c8e0"/>
<rect x="254.5" y="136.85" width="1.36" height="6.51" fill="#d5e7f1"/>
<rect x="254.5" y="143.3" width="1.36" height="6.51" fill="#f9ece4"/>
<rect x="254.5" y="149.75" width="1.36" height="6.51" fill="#f8f5f3"/>
<rect x="254.5" y="156.2" width="1.36" height="6.51" fill="#fddbc8"/>
<rect x="254.5" y="162.65" width="1.36" height="6.51" fill="#fbe5d8"/>
<rect x="254.5" y="169.1" width="1.36" height="6.51" fill="#e37d63"/>
<rect x="254.5" y="175.55" width="1.36" height="6.51" fill="#fbd1ba"/>
<rect x="254.5" y="182" width="1.36" height="6.51" fill="#9dcbe1"/>
<rect x="254.5" y="188.45" width="1.36" height="6.51" fill="#9fcbe2"/>
<rect x="254.5" y="194.9" width="1.36" height="6.51" fill="#cfe4ef"/>
<rect x="254.5" y="201.35" width="1.36" height="6.51" fill="#dbeaf2"/>
<rect x="254.5" y="207.8" width="1.36" height="6.51" fill="#b7d8e8"/>
<rect x="254.5" y="214.25" width="1.36" height="6.51" fill="#bfdceb"/>
<rect x="254.5" y="223.1" width="1.36" height="6.4" fill="#f9c6ac"/>
<rect x="255.8" y="117.5" width="1.56" height="6.51" fill="#f8f5f3"/>
<rect x="255.8" y="123.95" width="1.56" height="6.51" fill="#fbe4d6"/>
<rect x="255.8" y="130.4" width="1.56" height="6.51" fill="#fae7dc"/>
<rect x="255.8" y="136.85" width="1.56" height="6.51" fill="#fcd3bd"/>
<rect x="255.8" y="143.3" width="1.56" height="6.51" fill="#ef9979"/>
<rect x="255.8" y="149.75" width="1.56" height="6.51" fill="#d6614e"/>
<rect x="255.8" y="156.2" width="1.56" height="6.51" fill="#fcd4be"/>
<rect x="255.8" y="162.65" width="1.56" height="6.51" fill="#f7b89a"/>
<rect x="255.8" y="169.1" width="1.56" height="6.51" fill="#f3a481"/>
<rect x="255.8" y="175.55" width="1.56" height="6.51" fill="#f19e7d"/>
<rect x="255.8" y="182" width="1.56" height="6.51" fill="#f0f4f6"/>
<rect x="255.8" y="188.45" width="1.56" height="6.51" fill="#e7eff4"/>
<rect x="255.8" y="194.9" width="1.56" height="6.51" fill="#dceaf2"/>
<rect x="255.8" y="201.35" width="1.56" height="6.51" fill="#f9eee8"/>
<rect x="255.8" y="207.8" width="1.56" height="6.51" fill="#fcd7c2"/>
<rect x="255.8" y="214.25" width="1.56" height="6.51" fill="#eef3f5"/>
<rect x="255.8" y="223.1" width="1.56" height="6.4" fill="#fcd6c0"/>
<rect x="257.3" y="117.5" width="0.96" height="6.51" fill="#f7f5f4"/>
<rect x="257.3" y="123.95" width="0.96" height="6.51" fill="#e0ecf3"/>
<rect x="257.3" y="130.4" width="0.96" height="6.51" fill="#e1edf3"/>
<rect x="257.3" y="136.85" width="0.96" height="6.51" fill="#e7eff4"/>
<rect x="257.3" y="143.3" width="0.96" height="6.51" fill="#f5ac8b"/>
<rect x="257.3" y="149.75" width="0.96" height="6.51" fill="#f8bea2"/>
<rect x="257.3" y="156.2" width="0.96" height="6.51" fill="#f7f7f7"/>
<rect x="257.3" y="162.65" width="0.96" height="6.51" fill="#f6ae8e"/>
<rect x="257.3" y="169.1" width="0.96" height="6.51" fill="#fddbc7"/>
<rect x="257.3" y="175.55" width="0.96" height="6.51" fill="#f5f6f7"/>
<rect x="257.3" y="182" width="0.96" height="6.51" fill="#c8e1ed"/>
<rect x="257.3" y="188.45" width="0.96" height="6.51" fill="#f9efe9"/>
<rect x="257.3" y="194.9" width="0.96" height="6.51" fill="#f2f5f6"/>
<rect x="257.3" y="201.35" width="0.96" height="6.51" fill="#b5d7e8"/>
<rect x="257.3" y="207.8" width="0.96" height="6.51" fill="#a9d0e4"/>
<rect x="257.3" y="214.25" width="0.96" height="6.51" fill="#72b0d3"/>
<rect x="257.3" y="223.1" width="0.96" height="6.4" fill="#b2182b"/>
<rect x="258.2" y="117.5" width="0.96" height="6.51" fill="#e3eef3"/>
<rect x="258.2" y="123.95" width="0.96" height="6.51" fill="#f7f7f7"/>
<rect x="258.2" y="130.4" width="0.96" height="6.51" fill="#ddeaf2"/>
<rect x="258.2" y="136.85" width="0.96" height="6.51" fill="#eef3f5"/>
<rect x="258.2" y="143.3" width="0.96" height="6.51" fill="#f3a381"/>
<rect x="258.2" y="149.75" width="0.96" height="6.51" fill="#f8bb9e"/>
<rect x="258.2" y="156.2" width="0.96" height="6.51" fill="#fbe6db"/>
<rect x="258.2" y="162.65" width="0.96" height="6.51" fill="#fcdfcd"/>
<rect x="258.2" y="169.1" width="0.96" height="6.51" fill="#f7b596"/>
<rect x="258.2" y="175.55" width="0.96" height="6.51" fill="#edf2f5"/>
<rect x="258.2" y="182" width="0.96" height="6.51" fill="#e4eef4"/>
<rect x="258.2" y="188.45" width="0.96" height="6.51" fill="#f8f2ee"/>
<rect x="258.2" y="194.9" width="0.96" height="6.51" fill="#d8e8f1"/>
<rect x="258.2" y="201.35" width="0.96" height="6.51" fill="#fbe5d8"/>
<rect x="258.2" y="207.8" width="0.96" height="6.51" fill="#c8e1ee"/>
<rect x="258.2" y="214.25" width="0.96" height="6.51" fill="#f8f5f3"/>
<rect x="258.2" y="223.1" width="0.96" height="6.4" fill="#d25849"/>
<rect x="259.1" y="117.5" width="0.96" height="6.51" fill="#eaf1f5"/>
<rect x="259.1" y="123.95" width="0.96" height="6.51" fill="#fbe3d4"/>
<rect x="259.1" y="130.4" width="0.96" height="6.51" fill="#fbceb6"/>
<rect x="259.1" y="136.85" width="0.96" height="6.51" fill="#fbe4d7"/>
<rect x="259.1" y="143.3" width="0.96" height="6.51" fill="#fbe6da"/>
<rect x="259.1" y="149.75" width="0.96" height="6.51" fill="#fac6ac"/>
<rect x="259.1" y="156.2" width="0.96" height="6.51" fill="#add3e6"/>
<rect x="259.1" y="162.65" width="0.96" height="6.51" fill="#fbe6da"/>
<rect x="259.1" y="169.1" width="0.96" height="6.51" fill="#facbb3"/>
<rect x="259.1" y="175.55" width="0.96" height="6.51" fill="#d6e7f1"/>
<rect x="259.1" y="182" width="0.96" height="6.51" fill="#c6e0ed"/>
<rect x="259.1" y="188.45" width="0.96" height="6.51" fill="#fddbc7"/>
<rect x="259.1" y="194.9" width="0.96" height="6.51" fill="#d0e5f0"/>
<rect x="259.1" y="201.35" width="0.96" height="6.51" fill="#edf2f5"/>
<rect x="259.1" y="207.8" width="0.96" height="6.51" fill="#97c8df"/>
<rect x="259.1" y="214.25" width="0.96" height="6.51" fill="#a9d1e5"/>
<rect x="259.1" y="223.1" width="0.96" height="6.4" fill="#b2182b"/>
<rect x="260" y="117.5" width="1.16" height="6.51" fill="#e2edf3"/>
<rect x="260" y="123.95" width="1.16" height="6.51" fill="#dae9f2"/>
<rect x="260" y="130.4" width="1.16" height="6.51" fill="#fce0cf"/>
<rect x="260" y="136.85" width="1.16" height="6.51" fill="#64a8ce"/>
<rect x="260" y="143.3" width="1.16" height="6.51" fill="#fddcc9"/>
<rect x="260" y="149.75" width="1.16" height="6.51" fill="#c2383a"/>
<rect x="260" y="156.2" width="1.16" height="6.51" fill="#f9efea"/>
<rect x="260" y="162.65" width="1.16" height="6.51" fill="#fac7ae"/>
<rect x="260" y="169.1" width="1.16" height="6.51" fill="#fbe3d4"/>
<rect x="260" y="175.55" width="1.16" height="6.51" fill="#dfecf3"/>
<rect x="260" y="182" width="1.16" height="6.51" fill="#e9f0f4"/>
<rect x="260" y="188.45" width="1.16" height="6.51" fill="#ebf1f5"/>
<rect x="260" y="194.9" width="1.16" height="6.51" fill="#ddebf2"/>
<rect x="260" y="201.35" width="1.16" height="6.51" fill="#f4f6f7"/>
<rect x="260" y="207.8" width="1.16" height="6.51" fill="#76b3d4"/>
<rect x="260" y="214.25" width="1.16" height="6.51" fill="#93c6de"/>
<rect x="260" y="223.1" width="1.16" height="6.4" fill="#f19e7d"/>
<rect x="261.1" y="117.5" width="1.86" height="6.51" fill="#f3f5f6"/>
<rect x="261.1" y="123.95" width="1.86" height="6.51" fill="#bbdaea"/>
<rect x="261.1" y="130.4" width="1.86" height="6.51" fill="#f8f0ec"/>
<rect x="261.1" y="136.85" width="1.86" height="6.51" fill="#f3f5f6"/>
<rect x="261.1" y="143.3" width="1.86" height="6.51" fill="#fcd2bc"/>
<rect x="261.1" y="149.75" width="1.86" height="6.51" fill="#fddbc8"/>
<rect x="261.1" y="156.2" width="1.86" height="6.51" fill="#f4f6f7"/>
<rect x="261.1" y="162.65" width="1.86" height="6.51" fill="#fcdfce"/>
<rect x="261.1" y="169.1" width="1.86" height="6.51" fill="#f4a784"/>
<rect x="261.1" y="175.55" width="1.86" height="6.51" fill="#fae8de"/>
<rect x="261.1" y="182" width="1.86" height="6.51" fill="#dbeaf2"/>
<rect x="261.1" y="188.45" width="1.86" height="6.51" fill="#e7eff4"/>
<rect x="261.1" y="194.9" width="1.86" height="6.51" fill="#f8f1ed"/>
<rect x="261.1" y="201.35" width="1.86" height="6.51" fill="#ebf1f5"/>
<rect x="261.1" y="207.8" width="1.86" height="6.51" fill="#bcdaea"/>
<rect x="261.1" y="214.25" width="1.86" height="6.51" fill="#add3e6"/>
<rect x="261.1" y="223.1" width="1.86" height="6.4" fill="#e98c6f"/>
<rect x="262.9" y="117.5" width="2.26" height="6.51" fill="#fcd5bf"/>
<rect x="262.9" y="123.95" width="2.26" height="6.51" fill="#ea8f71"/>
<rect x="262.9" y="130.4" width="2.26" height="6.51" fill="#f6b393"/>
<rect x="262.9" y="136.85" width="2.26" height="6.51" fill="#fbcdb5"/>
<rect x="262.9" y="143.3" width="2.26" height="6.51" fill="#c03539"/>
<rect x="262.9" y="149.75" width="2.26" height="6.51" fill="#d96652"/>
<rect x="262.9" y="156.2" width="2.26" height="6.51" fill="#e8f0f4"/>
<rect x="262.9" y="162.65" width="2.26" height="6.51" fill="#dc6e58"/>
<rect x="262.9" y="169.1" width="2.26" height="6.51" fill="#e7876b"/>
<rect x="262.9" y="175.55" width="2.26" height="6.51" fill="#f4a683"/>
<rect x="262.9" y="182" width="2.26" height="6.51" fill="#f8f1ec"/>
<rect x="262.9" y="188.45" width="2.26" height="6.51" fill="#fbe4d7"/>
<rect x="262.9" y="194.9" width="2.26" height="6.51" fill="#fae8dd"/>
<rect x="262.9" y="201.35" width="2.26" height="6.51" fill="#facbb2"/>
<rect x="262.9" y="207.8" width="2.26" height="6.51" fill="#f9ede7"/>
<rect x="262.9" y="214.25" width="2.26" height="6.51" fill="#f9f0eb"/>
<rect x="262.9" y="223.1" width="2.26" height="6.4" fill="#dd705a"/>
<rect x="265.1" y="117.5" width="1.16" height="6.51" fill="#f6ae8e"/>
<rect x="265.1" y="123.95" width="1.16" height="6.51" fill="#fddcc9"/>
<rect x="265.1" y="130.4" width="1.16" height="6.51" fill="#fcd3bd"/>
<rect x="265.1" y="136.85" width="1.16" height="6.51" fill="#d5e7f1"/>
<rect x="265.1" y="143.3" width="1.16" height="6.51" fill="#fce2d2"/>
<rect x="265.1" y="149.75" width="1.16" height="6.51" fill="#d2594a"/>
<rect x="265.1" y="156.2" width="1.16" height="6.51" fill="#f8f2ee"/>
<rect x="265.1" y="162.65" width="1.16" height="6.51" fill="#fbe5d8"/>
<rect x="265.1" y="169.1" width="1.16" height="6.51" fill="#e98c6f"/>
<rect x="265.1" y="175.55" width="1.16" height="6.51" fill="#fcdecc"/>
<rect x="265.1" y="182" width="1.16" height="6.51" fill="#fcdfce"/>
<rect x="265.1" y="188.45" width="1.16" height="6.51" fill="#f7f6f6"/>
<rect x="265.1" y="194.9" width="1.16" height="6.51" fill="#f8f1ec"/>
<rect x="265.1" y="201.35" width="1.16" height="6.51" fill="#faeae1"/>
<rect x="265.1" y="207.8" width="1.16" height="6.51" fill="#b5d7e8"/>
<rect x="265.1" y="214.25" width="1.16" height="6.51" fill="#a9d1e5"/>
<rect x="265.1" y="223.1" width="1.16" height="6.4" fill="#b2182b"/>
<rect x="266.2" y="117.5" width="0.96" height="6.51" fill="#f8f3f0"/>
<rect x="266.2" y="123.95" width="0.96" height="6.51" fill="#fbe4d6"/>
<rect x="266.2" y="130.4" width="0.96" height="6.51" fill="#fbe5d8"/>
<rect x="266.2" y="136.85" width="0.96" height="6.51" fill="#f7f6f6"/>
<rect x="266.2" y="143.3" width="0.96" height="6.51" fill="#cc4c43"/>
<rect x="266.2" y="149.75" width="0.96" height="6.51" fill="#f9c0a5"/>
<rect x="266.2" y="156.2" width="0.96" height="6.51" fill="#89bfdb"/>
<rect x="266.2" y="162.65" width="0.96" height="6.51" fill="#fcd4bf"/>
<rect x="266.2" y="169.1" width="0.96" height="6.51" fill="#faeae1"/>
<rect x="266.2" y="175.55" width="0.96" height="6.51" fill="#f7f7f7"/>
<rect x="266.2" y="182" width="0.96" height="6.51" fill="#faebe2"/>
<rect x="266.2" y="188.45" width="0.96" height="6.51" fill="#dfecf3"/>
<rect x="266.2" y="194.9" width="0.96" height="6.51" fill="#e0ecf3"/>
<rect x="266.2" y="201.35" width="0.96" height="6.51" fill="#d6e8f1"/>
<rect x="266.2" y="207.8" width="0.96" height="6.51" fill="#bcdaea"/>
<rect x="266.2" y="214.25" width="0.96" height="6.51" fill="#abd2e5"/>
<rect x="266.2" y="223.1" width="0.96" height="6.4" fill="#da6954"/>
<rect x="267.1" y="117.5" width="1.86" height="6.51" fill="#db6b56"/>
<rect x="267.1" y="123.95" width="1.86" height="6.51" fill="#f19e7d"/>
<rect x="267.1" y="130.4" width="1.86" height="6.51" fill="#df755d"/>
<rect x="267.1" y="136.85" width="1.86" height="6.51" fill="#d45b4b"/>
<rect x="267.1" y="143.3" width="1.86" height="6.51" fill="#c03539"/>
<rect x="267.1" y="149.75" width="1.86" height="6.51" fill="#c03539"/>
<rect x="267.1" y="156.2" width="1.86" height="6.51" fill="#f6b495"/>
<rect x="267.1" y="162.65" width="1.86" height="6.51" fill="#db6c56"/>
<rect x="267.1" y="169.1" width="1.86" height="6.51" fill="#c53f3d"/>
<rect x="267.1" y="175.55" width="1.86" height="6.51" fill="#d45c4b"/>
<rect x="267.1" y="182" width="1.86" height="6.51" fill="#fce2d3"/>
<rect x="267.1" y="188.45" width="1.86" height="6.51" fill="#f6b393"/>
<rect x="267.1" y="194.9" width="1.86" height="6.51" fill="#f4a885"/>
<rect x="267.1" y="201.35" width="1.86" height="6.51" fill="#f5a988"/>
<rect x="267.1" y="207.8" width="1.86" height="6.51" fill="#faebe3"/>
<rect x="267.1" y="214.25" width="1.86" height="6.51" fill="#fcdfce"/>
<rect x="267.1" y="223.1" width="1.86" height="6.4" fill="#dd6f59"/>
<rect x="268.9" y="117.5" width="1.36" height="6.51" fill="#f8bc9f"/>
<rect x="268.9" y="123.95" width="1.36" height="6.51" fill="#f9c1a6"/>
<rect x="268.9" y="130.4" width="1.36" height="6.51" fill="#ebf1f5"/>
<rect x="268.9" y="136.85" width="1.36" height="6.51" fill="#fce2d3"/>
<rect x="268.9" y="143.3" width="1.36" height="6.51" fill="#fddac5"/>
<rect x="268.9" y="149.75" width="1.36" height="6.51" fill="#e58368"/>
<rect x="268.9" y="156.2" width="1.36" height="6.51" fill="#f7f6f5"/>
<rect x="268.9" y="162.65" width="1.36" height="6.51" fill="#ed9576"/>
<rect x="268.9" y="169.1" width="1.36" height="6.51" fill="#f9c5aa"/>
<rect x="268.9" y="175.55" width="1.36" height="6.51" fill="#f9c5ab"/>
<rect x="268.9" y="182" width="1.36" height="6.51" fill="#f8f1ed"/>
<rect x="268.9" y="188.45" width="1.36" height="6.51" fill="#f8bda1"/>
<rect x="268.9" y="194.9" width="1.36" height="6.51" fill="#f7f5f4"/>
<rect x="268.9" y="201.35" width="1.36" height="6.51" fill="#f7f5f4"/>
<rect x="268.9" y="207.8" width="1.36" height="6.51" fill="#dbeaf2"/>
<rect x="268.9" y="214.25" width="1.36" height="6.51" fill="#faebe2"/>
<rect x="268.9" y="223.1" width="1.36" height="6.4" fill="#ce4f45"/>
<rect x="270.2" y="117.5" width="1.36" height="6.51" fill="#a2cde3"/>
<rect x="270.2" y="123.95" width="1.36" height="6.51" fill="#ecf2f5"/>
<rect x="270.2" y="130.4" width="1.36" height="6.51" fill="#d4e6f1"/>
<rect x="270.2" y="136.85" width="1.36" height="6.51" fill="#d6e7f1"/>
<rect x="270.2" y="143.3" width="1.36" height="6.51" fill="#fbcfb8"/>
<rect x="270.2" y="149.75" width="1.36" height="6.51" fill="#fac6ad"/>
<rect x="270.2" y="156.2" width="1.36" height="6.51" fill="#d4e6f1"/>
<rect x="270.2" y="162.65" width="1.36" height="6.51" fill="#f8f1ed"/>
<rect x="270.2" y="169.1" width="1.36" height="6.51" fill="#f3f5f6"/>
<rect x="270.2" y="175.55" width="1.36" height="6.51" fill="#f8f1ed"/>
<rect x="270.2" y="182" width="1.36" height="6.51" fill="#ddebf2"/>
<rect x="270.2" y="188.45" width="1.36" height="6.51" fill="#9ecbe2"/>
<rect x="270.2" y="194.9" width="1.36" height="6.51" fill="#b5d7e8"/>
<rect x="270.2" y="201.35" width="1.36" height="6.51" fill="#8dc2dc"/>
<rect x="270.2" y="207.8" width="1.36" height="6.51" fill="#4d99c6"/>
<rect x="270.2" y="214.25" width="1.36" height="6.51" fill="#3e8cc0"/>
<rect x="270.2" y="223.1" width="1.36" height="6.4" fill="#ca4841"/>
<rect x="271.5" y="117.5" width="1.86" height="6.51" fill="#f7b697"/>
<rect x="271.5" y="123.95" width="1.86" height="6.51" fill="#f6b192"/>
<rect x="271.5" y="130.4" width="1.86" height="6.51" fill="#f6af8e"/>
<rect x="271.5" y="136.85" width="1.86" height="6.51" fill="#d6604d"/>
<rect x="271.5" y="143.3" width="1.86" height="6.51" fill="#d55e4c"/>
<rect x="271.5" y="149.75" width="1.86" height="6.51" fill="#e47f65"/>
<rect x="271.5" y="156.2" width="1.86" height="6.51" fill="#fae8dd"/>
<rect x="271.5" y="162.65" width="1.86" height="6.51" fill="#fddcc8"/>
<rect x="271.5" y="169.1" width="1.86" height="6.51" fill="#f4a684"/>
<rect x="271.5" y="175.55" width="1.86" height="6.51" fill="#e7876b"/>
<rect x="271.5" y="182" width="1.86" height="6.51" fill="#fbcfb7"/>
<rect x="271.5" y="188.45" width="1.86" height="6.51" fill="#fae9df"/>
<rect x="271.5" y="194.9" width="1.86" height="6.51" fill="#edf2f5"/>
<rect x="271.5" y="201.35" width="1.86" height="6.51" fill="#fae9df"/>
<rect x="271.5" y="207.8" width="1.86" height="6.51" fill="#99c8e0"/>
<rect x="271.5" y="214.25" width="1.86" height="6.51" fill="#f9efea"/>
<rect x="271.5" y="223.1" width="1.86" height="6.4" fill="#d55e4c"/>
<rect x="273.3" y="117.5" width="1.56" height="6.51" fill="#f9c6ac"/>
<rect x="273.3" y="123.95" width="1.56" height="6.51" fill="#fae8dd"/>
<rect x="273.3" y="130.4" width="1.56" height="6.51" fill="#c5dfec"/>
<rect x="273.3" y="136.85" width="1.56" height="6.51" fill="#fbe6d9"/>
<rect x="273.3" y="143.3" width="1.56" height="6.51" fill="#f9c2a6"/>
<rect x="273.3" y="149.75" width="1.56" height="6.51" fill="#fce1d1"/>
<rect x="273.3" y="156.2" width="1.56" height="6.51" fill="#fbe6da"/>
<rect x="273.3" y="162.65" width="1.56" height="6.51" fill="#f9c1a6"/>
<rect x="273.3" y="169.1" width="1.56" height="6.51" fill="#fce0cf"/>
<rect x="273.3" y="175.55" width="1.56" height="6.51" fill="#f5aa88"/>
<rect x="273.3" y="182" width="1.56" height="6.51" fill="#dceaf2"/>
<rect x="273.3" y="188.45" width="1.56" height="6.51" fill="#f4f5f6"/>
<rect x="273.3" y="194.9" width="1.56" height="6.51" fill="#bcdaea"/>
<rect x="273.3" y="201.35" width="1.56" height="6.51" fill="#9ecbe2"/>
<rect x="273.3" y="207.8" width="1.56" height="6.51" fill="#59a1ca"/>
<rect x="273.3" y="214.25" width="1.56" height="6.51" fill="#dae9f2"/>
<rect x="273.3" y="223.1" width="1.56" height="6.4" fill="#e7876b"/>
<rect x="274.8" y="117.5" width="1.16" height="6.51" fill="#fbe3d4"/>
<rect x="274.8" y="123.95" width="1.16" height="6.51" fill="#cf5347"/>
<rect x="274.8" y="130.4" width="1.16" height="6.51" fill="#fac9b1"/>
<rect x="274.8" y="136.85" width="1.16" height="6.51" fill="#d96652"/>
<rect x="274.8" y="143.3" width="1.16" height="6.51" fill="#c03539"/>
<rect x="274.8" y="149.75" width="1.16" height="6.51" fill="#c63f3d"/>
<rect x="274.8" y="156.2" width="1.16" height="6.51" fill="#e37f65"/>
<rect x="274.8" y="162.65" width="1.16" height="6.51" fill="#c03539"/>
<rect x="274.8" y="169.1" width="1.16" height="6.51" fill="#c03539"/>
<rect x="274.8" y="175.55" width="1.16" height="6.51" fill="#c03539"/>
<rect x="274.8" y="182" width="1.16" height="6.51" fill="#ef9a7a"/>
<rect x="274.8" y="188.45" width="1.16" height="6.51" fill="#f7b99c"/>
<rect x="274.8" y="194.9" width="1.16" height="6.51" fill="#ef9a7a"/>
<rect x="274.8" y="201.35" width="1.16" height="6.51" fill="#f7ba9c"/>
<rect x="274.8" y="207.8" width="1.16" height="6.51" fill="#faeae1"/>
<rect x="274.8" y="214.25" width="1.16" height="6.51" fill="#deebf2"/>
<rect x="274.8" y="223.1" width="1.16" height="6.4" fill="#cc4c43"/>
<rect x="275.9" y="117.5" width="1.86" height="6.51" fill="#fddbc7"/>
<rect x="275.9" y="123.95" width="1.86" height="6.51" fill="#f9ece5"/>
<rect x="275.9" y="130.4" width="1.86" height="6.51" fill="#f7b89a"/>
<rect x="275.9" y="136.85" width="1.86" height="6.51" fill="#f8bb9f"/>
<rect x="275.9" y="143.3" width="1.86" height="6.51" fill="#c03539"/>
<rect x="275.9" y="149.75" width="1.86" height="6.51" fill="#d2594a"/>
<rect x="275.9" y="156.2" width="1.86" height="6.51" fill="#f9c3a8"/>
<rect x="275.9" y="162.65" width="1.86" height="6.51" fill="#ec9273"/>
<rect x="275.9" y="169.1" width="1.86" height="6.51" fill="#f2a07e"/>
<rect x="275.9" y="175.55" width="1.86" height="6.51" fill="#f8bb9e"/>
<rect x="275.9" y="182" width="1.86" height="6.51" fill="#f9efe9"/>
<rect x="275.9" y="188.45" width="1.86" height="6.51" fill="#f7f7f6"/>
<rect x="275.9" y="194.9" width="1.86" height="6.51" fill="#fae7db"/>
<rect x="275.9" y="201.35" width="1.86" height="6.51" fill="#f7ba9d"/>
<rect x="275.9" y="207.8" width="1.86" height="6.51" fill="#dae9f2"/>
<rect x="275.9" y="214.25" width="1.86" height="6.51" fill="#f9ece4"/>
<rect x="275.9" y="223.1" width="1.86" height="6.4" fill="#cc4c43"/>
<rect x="277.7" y="117.5" width="1.56" height="6.51" fill="#f9c3a8"/>
<rect x="277.7" y="123.95" width="1.56" height="6.51" fill="#faebe2"/>
<rect x="277.7" y="130.4" width="1.56" height="6.51" fill="#cae1ee"/>
<rect x="277.7" y="136.85" width="1.56" height="6.51" fill="#facab2"/>
<rect x="277.7" y="143.3" width="1.56" height="6.51" fill="#f6b191"/>
<rect x="277.7" y="149.75" width="1.56" height="6.51" fill="#f3a381"/>
<rect x="277.7" y="156.2" width="1.56" height="6.51" fill="#fce1d2"/>
<rect x="277.7" y="162.65" width="1.56" height="6.51" fill="#fac7ae"/>
<rect x="277.7" y="169.1" width="1.56" height="6.51" fill="#de735b"/>
<rect x="277.7" y="175.55" width="1.56" height="6.51" fill="#f6f7f7"/>
<rect x="277.7" y="182" width="1.56" height="6.51" fill="#f8f4f2"/>
<rect x="277.7" y="188.45" width="1.56" height="6.51" fill="#fbe6da"/>
<rect x="277.7" y="194.9" width="1.56" height="6.51" fill="#fbe5d7"/>
<rect x="277.7" y="201.35" width="1.56" height="6.51" fill="#fae7db"/>
<rect x="277.7" y="207.8" width="1.56" height="6.51" fill="#c0dceb"/>
<rect x="277.7" y="214.25" width="1.56" height="6.51" fill="#b2d5e7"/>
<rect x="277.7" y="223.1" width="1.56" height="6.4" fill="#e0775f"/>
<rect x="279.2" y="117.5" width="1.86" height="6.51" fill="#fac7ad"/>
<rect x="279.2" y="123.95" width="1.86" height="6.51" fill="#f6b090"/>
<rect x="279.2" y="130.4" width="1.86" height="6.51" fill="#f2a07f"/>
<rect x="279.2" y="136.85" width="1.86" height="6.51" fill="#f8f2ee"/>
<rect x="279.2" y="143.3" width="1.86" height="6.51" fill="#ee9677"/>
<rect x="279.2" y="149.75" width="1.86" height="6.51" fill="#ce5146"/>
<rect x="279.2" y="156.2" width="1.86" height="6.51" fill="#fbe5d8"/>
<rect x="279.2" y="162.65" width="1.86" height="6.51" fill="#e17a61"/>
<rect x="279.2" y="169.1" width="1.86" height="6.51" fill="#ea8f71"/>
<rect x="279.2" y="175.55" width="1.86" height="6.51" fill="#f9ede6"/>
<rect x="279.2" y="182" width="1.86" height="6.51" fill="#fce0d0"/>
<rect x="279.2" y="188.45" width="1.86" height="6.51" fill="#f7f5f3"/>
<rect x="279.2" y="194.9" width="1.86" height="6.51" fill="#deebf2"/>
<rect x="279.2" y="201.35" width="1.86" height="6.51" fill="#fcd3bc"/>
<rect x="279.2" y="207.8" width="1.86" height="6.51" fill="#cae1ee"/>
<rect x="279.2" y="214.25" width="1.86" height="6.51" fill="#f9efea"/>
<rect x="279.2" y="223.1" width="1.86" height="6.4" fill="#c53f3d"/>
<rect x="281" y="117.5" width="1.16" height="6.51" fill="#fcd6c1"/>
<rect x="281" y="123.95" width="1.16" height="6.51" fill="#f8bea2"/>
<rect x="281" y="130.4" width="1.16" height="6.51" fill="#fce0cf"/>
<rect x="281" y="136.85" width="1.16" height="6.51" fill="#f5ad8c"/>
<rect x="281" y="143.3" width="1.16" height="6.51" fill="#da6a54"/>
<rect x="281" y="149.75" width="1.16" height="6.51" fill="#c63f3d"/>
<rect x="281" y="156.2" width="1.16" height="6.51" fill="#fbceb7"/>
<rect x="281" y="162.65" width="1.16" height="6.51" fill="#e37e64"/>
<rect x="281" y="169.1" width="1.16" height="6.51" fill="#fac6ad"/>
<rect x="281" y="175.55" width="1.16" height="6.51" fill="#eb8f71"/>
<rect x="281" y="182" width="1.16" height="6.51" fill="#fddac6"/>
<rect x="281" y="188.45" width="1.16" height="6.51" fill="#f7f6f5"/>
<rect x="281" y="194.9" width="1.16" height="6.51" fill="#afd4e6"/>
<rect x="281" y="201.35" width="1.16" height="6.51" fill="#e6eff4"/>
<rect x="281" y="207.8" width="1.16" height="6.51" fill="#cce2ef"/>
<rect x="281" y="214.25" width="1.16" height="6.51" fill="#f6f7f7"/>
<rect x="281" y="223.1" width="1.16" height="6.4" fill="#ee9677"/>
<rect x="282.1" y="117.5" width="1.56" height="6.51" fill="#fddcc8"/>
<rect x="282.1" y="123.95" width="1.56" height="6.51" fill="#fac9b0"/>
<rect x="282.1" y="130.4" width="1.56" height="6.51" fill="#eef3f5"/>
<rect x="282.1" y="136.85" width="1.56" height="6.51" fill="#fddcc9"/>
<rect x="282.1" y="143.3" width="1.56" height="6.51" fill="#e27c63"/>
<rect x="282.1" y="149.75" width="1.56" height="6.51" fill="#ed9575"/>
<rect x="282.1" y="156.2" width="1.56" height="6.51" fill="#fbe5d8"/>
<rect x="282.1" y="162.65" width="1.56" height="6.51" fill="#f8bb9e"/>
<rect x="282.1" y="169.1" width="1.56" height="6.51" fill="#f8bea2"/>
<rect x="282.1" y="175.55" width="1.56" height="6.51" fill="#facab2"/>
<rect x="282.1" y="182" width="1.56" height="6.51" fill="#f9efe9"/>
<rect x="282.1" y="188.45" width="1.56" height="6.51" fill="#fddac6"/>
<rect x="282.1" y="194.9" width="1.56" height="6.51" fill="#fce0d0"/>
<rect x="282.1" y="201.35" width="1.56" height="6.51" fill="#e9f0f4"/>
<rect x="282.1" y="207.8" width="1.56" height="6.51" fill="#569fc9"/>
<rect x="282.1" y="214.25" width="1.56" height="6.51" fill="#e3eef3"/>
<rect x="282.1" y="223.1" width="1.56" height="6.4" fill="#e7886c"/>
<rect x="283.6" y="117.5" width="1.16" height="6.51" fill="#f5f6f7"/>
<rect x="283.6" y="123.95" width="1.16" height="6.51" fill="#f7f6f5"/>
<rect x="283.6" y="130.4" width="1.16" height="6.51" fill="#c1ddeb"/>
<rect x="283.6" y="136.85" width="1.16" height="6.51" fill="#faeae1"/>
<rect x="283.6" y="143.3" width="1.16" height="6.51" fill="#fce1d1"/>
<rect x="283.6" y="149.75" width="1.16" height="6.51" fill="#fce2d2"/>
<rect x="283.6" y="156.2" width="1.16" height="6.51" fill="#ecf2f5"/>
<rect x="283.6" y="162.65" width="1.16" height="6.51" fill="#d4e7f1"/>
<rect x="283.6" y="169.1" width="1.16" height="6.51" fill="#d55e4c"/>
<rect x="283.6" y="175.55" width="1.16" height="6.51" fill="#fdddcb"/>
<rect x="283.6" y="182" width="1.16" height="6.51" fill="#d7e8f1"/>
<rect x="283.6" y="188.45" width="1.16" height="6.51" fill="#f5f6f7"/>
<rect x="283.6" y="194.9" width="1.16" height="6.51" fill="#dae9f2"/>
<rect x="283.6" y="201.35" width="1.16" height="6.51" fill="#e2edf3"/>
<rect x="283.6" y="207.8" width="1.16" height="6.51" fill="#a5cfe3"/>
<rect x="283.6" y="214.25" width="1.16" height="6.51" fill="#4795c4"/>
<rect x="283.6" y="223.1" width="1.16" height="6.4" fill="#cc4c44"/>
<rect x="284.7" y="117.5" width="2.26" height="6.51" fill="#eef3f5"/>
<rect x="284.7" y="123.95" width="2.26" height="6.51" fill="#faeae1"/>
<rect x="284.7" y="130.4" width="2.26" height="6.51" fill="#fddbc7"/>
<rect x="284.7" y="136.85" width="2.26" height="6.51" fill="#fddcc9"/>
<rect x="284.7" y="143.3" width="2.26" height="6.51" fill="#f6b495"/>
<rect x="284.7" y="149.75" width="2.26" height="6.51" fill="#c03539"/>
<rect x="284.7" y="156.2" width="2.26" height="6.51" fill="#f8f2ef"/>
<rect x="284.7" y="162.65" width="2.26" height="6.51" fill="#f9c4aa"/>
<rect x="284.7" y="169.1" width="2.26" height="6.51" fill="#f8ba9d"/>
<rect x="284.7" y="175.55" width="2.26" height="6.51" fill="#f19e7d"/>
<rect x="284.7" y="182" width="2.26" height="6.51" fill="#fddbc7"/>
<rect x="284.7" y="188.45" width="2.26" height="6.51" fill="#f0f4f6"/>
<rect x="284.7" y="194.9" width="2.26" height="6.51" fill="#dceaf2"/>
<rect x="284.7" y="201.35" width="2.26" height="6.51" fill="#f1f4f6"/>
<rect x="284.7" y="207.8" width="2.26" height="6.51" fill="#a8d0e4"/>
<rect x="284.7" y="214.25" width="2.26" height="6.51" fill="#86beda"/>
<rect x="284.7" y="223.1" width="2.26" height="6.4" fill="#d05447"/>
<rect x="286.9" y="117.5" width="1.16" height="6.51" fill="#d25849"/>
<rect x="286.9" y="123.95" width="1.16" height="6.51" fill="#c13539"/>
<rect x="286.9" y="130.4" width="1.16" height="6.51" fill="#d96651"/>
<rect x="286.9" y="136.85" width="1.16" height="6.51" fill="#e17a61"/>
<rect x="286.9" y="143.3" width="1.16" height="6.51" fill="#c63f3e"/>
<rect x="286.9" y="149.75" width="1.16" height="6.51" fill="#c03539"/>
<rect x="286.9" y="156.2" width="1.16" height="6.51" fill="#d45c4b"/>
<rect x="286.9" y="162.65" width="1.16" height="6.51" fill="#ed9676"/>
<rect x="286.9" y="169.1" width="1.16" height="6.51" fill="#c03539"/>
<rect x="286.9" y="175.55" width="1.16" height="6.51" fill="#c03539"/>
<rect x="286.9" y="182" width="1.16" height="6.51" fill="#fcd8c3"/>
<rect x="286.9" y="188.45" width="1.16" height="6.51" fill="#e48066"/>
<rect x="286.9" y="194.9" width="1.16" height="6.51" fill="#f8bb9e"/>
<rect x="286.9" y="201.35" width="1.16" height="6.51" fill="#fbd1ba"/>
<rect x="286.9" y="207.8" width="1.16" height="6.51" fill="#f9c4aa"/>
<rect x="286.9" y="214.25" width="1.16" height="6.51" fill="#ec9475"/>
<rect x="286.9" y="223.1" width="1.16" height="6.4" fill="#c84440"/>
<rect x="288" y="117.5" width="1.36" height="6.51" fill="#fbe6da"/>
<rect x="288" y="123.95" width="1.36" height="6.51" fill="#c03539"/>
<rect x="288" y="130.4" width="1.36" height="6.51" fill="#f6f7f7"/>
<rect x="288" y="136.85" width="1.36" height="6.51" fill="#f9ede6"/>
<rect x="288" y="143.3" width="1.36" height="6.51" fill="#f7b99b"/>
<rect x="288" y="149.75" width="1.36" height="6.51" fill="#f2a07f"/>
<rect x="288" y="156.2" width="1.36" height="6.51" fill="#e3eef3"/>
<rect x="288" y="162.65" width="1.36" height="6.51" fill="#f09b7b"/>
<rect x="288" y="169.1" width="1.36" height="6.51" fill="#e17a61"/>
<rect x="288" y="175.55" width="1.36" height="6.51" fill="#d05447"/>
<rect x="288" y="182" width="1.36" height="6.51" fill="#f0f4f6"/>
<rect x="288" y="188.45" width="1.36" height="6.51" fill="#96c7df"/>
<rect x="288" y="194.9" width="1.36" height="6.51" fill="#d3e6f0"/>
<rect x="288" y="201.35" width="1.36" height="6.51" fill="#faeae1"/>
<rect x="288" y="207.8" width="1.36" height="6.51" fill="#d7e8f1"/>
<rect x="288" y="214.25" width="1.36" height="6.51" fill="#e2edf3"/>
<rect x="288" y="223.1" width="1.36" height="6.4" fill="#c6413e"/>
<rect x="289.3" y="117.5" width="1.16" height="6.51" fill="#e17860"/>
<rect x="289.3" y="123.95" width="1.16" height="6.51" fill="#da6a55"/>
<rect x="289.3" y="130.4" width="1.16" height="6.51" fill="#fcdecc"/>
<rect x="289.3" y="136.85" width="1.16" height="6.51" fill="#fae8dd"/>
<rect x="289.3" y="143.3" width="1.16" height="6.51" fill="#c94540"/>
<rect x="289.3" y="149.75" width="1.16" height="6.51" fill="#d86450"/>
<rect x="289.3" y="156.2" width="1.16" height="6.51" fill="#fddbc8"/>
<rect x="289.3" y="162.65" width="1.16" height="6.51" fill="#d45b4b"/>
<rect x="289.3" y="169.1" width="1.16" height="6.51" fill="#c03539"/>
<rect x="289.3" y="175.55" width="1.16" height="6.51" fill="#c03539"/>
<rect x="289.3" y="182" width="1.16" height="6.51" fill="#f6b090"/>
<rect x="289.3" y="188.45" width="1.16" height="6.51" fill="#e4eef3"/>
<rect x="289.3" y="194.9" width="1.16" height="6.51" fill="#f9ede7"/>
<rect x="289.3" y="201.35" width="1.16" height="6.51" fill="#f9ede7"/>
<rect x="289.3" y="207.8" width="1.16" height="6.51" fill="#fcdfce"/>
<rect x="289.3" y="214.25" width="1.16" height="6.51" fill="#f6b495"/>
<rect x="289.3" y="223.1" width="1.16" height="6.4" fill="#b2182b"/>
<rect x="290.4" y="117.5" width="1.86" height="6.51" fill="#faeae1"/>
<rect x="290.4" y="123.95" width="1.86" height="6.51" fill="#f7b799"/>
<rect x="290.4" y="130.4" width="1.86" height="6.51" fill="#edf2f5"/>
<rect x="290.4" y="136.85" width="1.86" height="6.51" fill="#edf2f5"/>
<rect x="290.4" y="143.3" width="1.86" height="6.51" fill="#fcd4bf"/>
<rect x="290.4" y="149.75" width="1.86" height="6.51" fill="#fddac6"/>
<rect x="290.4" y="156.2" width="1.86" height="6.51" fill="#f7f7f7"/>
<rect x="290.4" y="162.65" width="1.86" height="6.51" fill="#df745c"/>
<rect x="290.4" y="169.1" width="1.86" height="6.51" fill="#e37e64"/>
<rect x="290.4" y="175.55" width="1.86" height="6.51" fill="#d55e4c"/>
<rect x="290.4" y="182" width="1.86" height="6.51" fill="#d6e7f1"/>
<rect x="290.4" y="188.45" width="1.86" height="6.51" fill="#d5e7f1"/>
<rect x="290.4" y="194.9" width="1.86" height="6.51" fill="#f1f4f6"/>
<rect x="290.4" y="201.35" width="1.86" height="6.51" fill="#e6eff4"/>
<rect x="290.4" y="207.8" width="1.86" height="6.51" fill="#cbe2ee"/>
<rect x="290.4" y="214.25" width="1.86" height="6.51" fill="#d4e7f1"/>
<rect x="290.4" y="223.1" width="1.86" height="6.4" fill="#b2182b"/>
<rect x="292.2" y="117.5" width="1.16" height="6.51" fill="#f9f0eb"/>
<rect x="292.2" y="123.95" width="1.16" height="6.51" fill="#d6614e"/>
<rect x="292.2" y="130.4" width="1.16" height="6.51" fill="#fbe3d5"/>
<rect x="292.2" y="136.85" width="1.16" height="6.51" fill="#fddcc9"/>
<rect x="292.2" y="143.3" width="1.16" height="6.51" fill="#f09c7b"/>
<rect x="292.2" y="149.75" width="1.16" height="6.51" fill="#df765e"/>
<rect x="292.2" y="156.2" width="1.16" height="6.51" fill="#f5ab8a"/>
<rect x="292.2" y="162.65" width="1.16" height="6.51" fill="#d35a4a"/>
<rect x="292.2" y="169.1" width="1.16" height="6.51" fill="#f7b596"/>
<rect x="292.2" y="175.55" width="1.16" height="6.51" fill="#c03539"/>
<rect x="292.2" y="182" width="1.16" height="6.51" fill="#fddac6"/>
<rect x="292.2" y="188.45" width="1.16" height="6.51" fill="#fbe5d9"/>
<rect x="292.2" y="194.9" width="1.16" height="6.51" fill="#f9ede6"/>
<rect x="292.2" y="201.35" width="1.16" height="6.51" fill="#e6eff4"/>
<rect x="292.2" y="207.8" width="1.16" height="6.51" fill="#c9e1ee"/>
<rect x="292.2" y="214.25" width="1.16" height="6.51" fill="#fcd7c2"/>
<rect x="292.2" y="223.1" width="1.16" height="6.4" fill="#b82431"/>
<rect x="293.3" y="117.5" width="2.26" height="6.51" fill="#fae9df"/>
<rect x="293.3" y="123.95" width="2.26" height="6.51" fill="#dd6f59"/>
<rect x="293.3" y="130.4" width="2.26" height="6.51" fill="#fae8dd"/>
<rect x="293.3" y="136.85" width="2.26" height="6.51" fill="#fae8dd"/>
<rect x="293.3" y="143.3" width="2.26" height="6.51" fill="#e98c6f"/>
<rect x="293.3" y="149.75" width="2.26" height="6.51" fill="#ea8e71"/>
<rect x="293.3" y="156.2" width="2.26" height="6.51" fill="#f3a280"/>
<rect x="293.3" y="162.65" width="2.26" height="6.51" fill="#f2a17f"/>
<rect x="293.3" y="169.1" width="2.26" height="6.51" fill="#c03539"/>
<rect x="293.3" y="175.55" width="2.26" height="6.51" fill="#c03539"/>
<rect x="293.3" y="182" width="2.26" height="6.51" fill="#f8f1ec"/>
<rect x="293.3" y="188.45" width="2.26" height="6.51" fill="#f8f0eb"/>
<rect x="293.3" y="194.9" width="2.26" height="6.51" fill="#d7e8f1"/>
<rect x="293.3" y="201.35" width="2.26" height="6.51" fill="#f9ebe3"/>
<rect x="293.3" y="207.8" width="2.26" height="6.51" fill="#f8f3f1"/>
<rect x="293.3" y="214.25" width="2.26" height="6.51" fill="#f9c2a8"/>
<rect x="293.3" y="223.1" width="2.26" height="6.4" fill="#b2182b"/>
<rect x="295.5" y="117.5" width="1.16" height="6.51" fill="#fce0cf"/>
<rect x="295.5" y="123.95" width="1.16" height="6.51" fill="#fbd1ba"/>
<rect x="295.5" y="130.4" width="1.16" height="6.51" fill="#fbd0b9"/>
<rect x="295.5" y="136.85" width="1.16" height="6.51" fill="#fce0d0"/>
<rect x="295.5" y="143.3" width="1.16" height="6.51" fill="#ea8e70"/>
<rect x="295.5" y="149.75" width="1.16" height="6.51" fill="#f6b191"/>
<rect x="295.5" y="156.2" width="1.16" height="6.51" fill="#f9c1a5"/>
<rect x="295.5" y="162.65" width="1.16" height="6.51" fill="#da6a55"/>
<rect x="295.5" y="169.1" width="1.16" height="6.51" fill="#dd6f59"/>
<rect x="295.5" y="175.55" width="1.16" height="6.51" fill="#c03539"/>
<rect x="295.5" y="182" width="1.16" height="6.51" fill="#d8e9f1"/>
<rect x="295.5" y="188.45" width="1.16" height="6.51" fill="#e6eff4"/>
<rect x="295.5" y="194.9" width="1.16" height="6.51" fill="#e3eef3"/>
<rect x="295.5" y="201.35" width="1.16" height="6.51" fill="#f9efea"/>
<rect x="295.5" y="207.8" width="1.16" height="6.51" fill="#deebf2"/>
<rect x="295.5" y="214.25" width="1.16" height="6.51" fill="#f1f4f6"/>
<rect x="295.5" y="223.1" width="1.16" height="6.4" fill="#c43c3c"/>
<rect x="296.6" y="117.5" width="1.16" height="6.51" fill="#f3a381"/>
<rect x="296.6" y="123.95" width="1.16" height="6.51" fill="#c03539"/>
<rect x="296.6" y="130.4" width="1.16" height="6.51" fill="#c3393b"/>
<rect x="296.6" y="136.85" width="1.16" height="6.51" fill="#f8f2ee"/>
<rect x="296.6" y="143.3" width="1.16" height="6.51" fill="#f19e7d"/>
<rect x="296.6" y="149.75" width="1.16" height="6.51" fill="#c03539"/>
<rect x="296.6" y="156.2" width="1.16" height="6.51" fill="#f8bfa4"/>
<rect x="296.6" y="162.65" width="1.16" height="6.51" fill="#ea8e70"/>
<rect x="296.6" y="169.1" width="1.16" height="6.51" fill="#d86551"/>
<rect x="296.6" y="175.55" width="1.16" height="6.51" fill="#c03539"/>
<rect x="296.6" y="182" width="1.16" height="6.51" fill="#e4eef4"/>
<rect x="296.6" y="188.45" width="1.16" height="6.51" fill="#fcd5c0"/>
<rect x="296.6" y="194.9" width="1.16" height="6.51" fill="#fcd4be"/>
<rect x="296.6" y="201.35" width="1.16" height="6.51" fill="#f7f5f3"/>
<rect x="296.6" y="207.8" width="1.16" height="6.51" fill="#fce0d0"/>
<rect x="296.6" y="214.25" width="1.16" height="6.51" fill="#fbe7db"/>
<rect x="296.6" y="223.1" width="1.16" height="6.4" fill="#df745d"/>
<rect x="297.7" y="117.5" width="2.26" height="6.51" fill="#ddebf2"/>
<rect x="297.7" y="123.95" width="2.26" height="6.51" fill="#faccb4"/>
<rect x="297.7" y="130.4" width="2.26" height="6.51" fill="#e7f0f4"/>
<rect x="297.7" y="136.85" width="2.26" height="6.51" fill="#f7f6f6"/>
<rect x="297.7" y="143.3" width="2.26" height="6.51" fill="#facab1"/>
<rect x="297.7" y="149.75" width="2.26" height="6.51" fill="#e88a6d"/>
<rect x="297.7" y="156.2" width="2.26" height="6.51" fill="#f6b394"/>
<rect x="297.7" y="162.65" width="2.26" height="6.51" fill="#fce0cf"/>
<rect x="297.7" y="169.1" width="2.26" height="6.51" fill="#e17960"/>
<rect x="297.7" y="175.55" width="2.26" height="6.51" fill="#f7b698"/>
<rect x="297.7" y="182" width="2.26" height="6.51" fill="#d4e7f1"/>
<rect x="297.7" y="188.45" width="2.26" height="6.51" fill="#badaea"/>
<rect x="297.7" y="194.9" width="2.26" height="6.51" fill="#f4f5f6"/>
<rect x="297.7" y="201.35" width="2.26" height="6.51" fill="#acd2e6"/>
<rect x="297.7" y="207.8" width="2.26" height="6.51" fill="#f3f5f6"/>
<rect x="297.7" y="214.25" width="2.26" height="6.51" fill="#d6e8f1"/>
<rect x="297.7" y="223.1" width="2.26" height="6.4" fill="#c1373a"/>
<rect x="299.9" y="117.5" width="2.26" height="6.51" fill="#fbe6da"/>
<rect x="299.9" y="123.95" width="2.26" height="6.51" fill="#ef9a79"/>
<rect x="299.9" y="130.4" width="2.26" height="6.51" fill="#fae9de"/>
<rect x="299.9" y="136.85" width="2.26" height="6.51" fill="#fae7dc"/>
<rect x="299.9" y="143.3" width="2.26" height="6.51" fill="#ce4f45"/>
<rect x="299.9" y="149.75" width="2.26" height="6.51" fill="#fbccb4"/>
<rect x="299.9" y="156.2" width="2.26" height="6.51" fill="#f9ede6"/>
<rect x="299.9" y="162.65" width="2.26" height="6.51" fill="#fbd1bb"/>
<rect x="299.9" y="169.1" width="2.26" height="6.51" fill="#d05347"/>
<rect x="299.9" y="175.55" width="2.26" height="6.51" fill="#c03539"/>
<rect x="299.9" y="182" width="2.26" height="6.51" fill="#fae9df"/>
<rect x="299.9" y="188.45" width="2.26" height="6.51" fill="#eaf1f5"/>
<rect x="299.9" y="194.9" width="2.26" height="6.51" fill="#fae7db"/>
<rect x="299.9" y="201.35" width="2.26" height="6.51" fill="#f9efea"/>
<rect x="299.9" y="207.8" width="2.26" height="6.51" fill="#ecf2f5"/>
<rect x="299.9" y="214.25" width="2.26" height="6.51" fill="#f9f0eb"/>
<rect x="299.9" y="223.1" width="2.26" height="6.4" fill="#b2182b"/>
<rect x="302.1" y="117.5" width="1.86" height="6.51" fill="#fdddcb"/>
<rect x="302.1" y="123.95" width="1.86" height="6.51" fill="#c03539"/>
<rect x="302.1" y="130.4" width="1.86" height="6.51" fill="#fce0cf"/>
<rect x="302.1" y="136.85" width="1.86" height="6.51" fill="#fbe5d9"/>
<rect x="302.1" y="143.3" width="1.86" height="6.51" fill="#e58267"/>
<rect x="302.1" y="149.75" width="1.86" height="6.51" fill="#c8433f"/>
<rect x="302.1" y="156.2" width="1.86" height="6.51" fill="#dfecf3"/>
<rect x="302.1" y="162.65" width="1.86" height="6.51" fill="#dd715a"/>
<rect x="302.1" y="169.1" width="1.86" height="6.51" fill="#c03539"/>
<rect x="302.1" y="175.55" width="1.86" height="6.51" fill="#c03539"/>
<rect x="302.1" y="182" width="1.86" height="6.51" fill="#a8d0e4"/>
<rect x="302.1" y="188.45" width="1.86" height="6.51" fill="#f7f6f5"/>
<rect x="302.1" y="194.9" width="1.86" height="6.51" fill="#f7f5f4"/>
<rect x="302.1" y="201.35" width="1.86" height="6.51" fill="#faeae0"/>
<rect x="302.1" y="207.8" width="1.86" height="6.51" fill="#f8f2ef"/>
<rect x="302.1" y="214.25" width="1.86" height="6.51" fill="#f8bea2"/>
<rect x="302.1" y="223.1" width="1.86" height="6.4" fill="#db6c56"/>
<rect x="303.9" y="117.5" width="1.16" height="6.51" fill="#fbe3d5"/>
<rect x="303.9" y="123.95" width="1.16" height="6.51" fill="#f8bda1"/>
<rect x="303.9" y="130.4" width="1.16" height="6.51" fill="#fcd6c1"/>
<rect x="303.9" y="136.85" width="1.16" height="6.51" fill="#f4f6f6"/>
<rect x="303.9" y="143.3" width="1.16" height="6.51" fill="#fdddca"/>
<rect x="303.9" y="149.75" width="1.16" height="6.51" fill="#ec9274"/>
<rect x="303.9" y="156.2" width="1.16" height="6.51" fill="#f8f4f2"/>
<rect x="303.9" y="162.65" width="1.16" height="6.51" fill="#fcd7c2"/>
<rect x="303.9" y="169.1" width="1.16" height="6.51" fill="#da6954"/>
<rect x="303.9" y="175.55" width="1.16" height="6.51" fill="#db6c56"/>
<rect x="303.9" y="182" width="1.16" height="6.51" fill="#f8f0eb"/>
<rect x="303.9" y="188.45" width="1.16" height="6.51" fill="#d8e8f1"/>
<rect x="303.9" y="194.9" width="1.16" height="6.51" fill="#a5cfe3"/>
<rect x="303.9" y="201.35" width="1.16" height="6.51" fill="#e2edf3"/>
<rect x="303.9" y="207.8" width="1.16" height="6.51" fill="#f8f0eb"/>
<rect x="303.9" y="214.25" width="1.16" height="6.51" fill="#f7f6f6"/>
<rect x="303.9" y="223.1" width="1.16" height="6.4" fill="#bb2a34"/>
<rect x="305" y="117.5" width="2.26" height="6.51" fill="#fddcc9"/>
<rect x="305" y="123.95" width="2.26" height="6.51" fill="#f3a27f"/>
<rect x="305" y="130.4" width="2.26" height="6.51" fill="#fae7dc"/>
<rect x="305" y="136.85" width="2.26" height="6.51" fill="#cbe2ee"/>
<rect x="305" y="143.3" width="2.26" height="6.51" fill="#e37f65"/>
<rect x="305" y="149.75" width="2.26" height="6.51" fill="#f19e7d"/>
<rect x="305" y="156.2" width="2.26" height="6.51" fill="#fbe6db"/>
<rect x="305" y="162.65" width="2.26" height="6.51" fill="#f9c2a8"/>
<rect x="305" y="169.1" width="2.26" height="6.51" fill="#d05548"/>
<rect x="305" y="175.55" width="2.26" height="6.51" fill="#d3594a"/>
<rect x="305" y="182" width="2.26" height="6.51" fill="#f2f5f6"/>
<rect x="305" y="188.45" width="2.26" height="6.51" fill="#a4cee3"/>
<rect x="305" y="194.9" width="2.26" height="6.51" fill="#b0d4e7"/>
<rect x="305" y="201.35" width="2.26" height="6.51" fill="#e0ecf3"/>
<rect x="305" y="207.8" width="2.26" height="6.51" fill="#e6eff4"/>
<rect x="305" y="214.25" width="2.26" height="6.51" fill="#f1f4f6"/>
<rect x="305" y="223.1" width="2.26" height="6.4" fill="#be3036"/>
<rect x="307.2" y="117.5" width="1.56" height="6.51" fill="#fae9df"/>
<rect x="307.2" y="123.95" width="1.56" height="6.51" fill="#f29f7e"/>
<rect x="307.2" y="130.4" width="1.56" height="6.51" fill="#edf2f5"/>
<rect x="307.2" y="136.85" width="1.56" height="6.51" fill="#f9c2a7"/>
<rect x="307.2" y="143.3" width="1.56" height="6.51" fill="#e48065"/>
<rect x="307.2" y="149.75" width="1.56" height="6.51" fill="#f3a380"/>
<rect x="307.2" y="156.2" width="1.56" height="6.51" fill="#e68469"/>
<rect x="307.2" y="162.65" width="1.56" height="6.51" fill="#ed9475"/>
<rect x="307.2" y="169.1" width="1.56" height="6.51" fill="#e8886c"/>
<rect x="307.2" y="175.55" width="1.56" height="6.51" fill="#d15749"/>
<rect x="307.2" y="182" width="1.56" height="6.51" fill="#f9f0eb"/>
<rect x="307.2" y="188.45" width="1.56" height="6.51" fill="#c0ddeb"/>
<rect x="307.2" y="194.9" width="1.56" height="6.51" fill="#f7f6f5"/>
<rect x="307.2" y="201.35" width="1.56" height="6.51" fill="#f8f1ed"/>
<rect x="307.2" y="207.8" width="1.56" height="6.51" fill="#fcd2bc"/>
<rect x="307.2" y="214.25" width="1.56" height="6.51" fill="#fbd1ba"/>
<rect x="307.2" y="223.1" width="1.56" height="6.4" fill="#cf5146"/>
<rect x="308.7" y="117.5" width="1.56" height="6.51" fill="#f09b7a"/>
<rect x="308.7" y="123.95" width="1.56" height="6.51" fill="#c03539"/>
<rect x="308.7" y="130.4" width="1.56" height="6.51" fill="#c03539"/>
<rect x="308.7" y="136.85" width="1.56" height="6.51" fill="#d65f4d"/>
<rect x="308.7" y="143.3" width="1.56" height="6.51" fill="#c03539"/>
<rect x="308.7" y="149.75" width="1.56" height="6.51" fill="#c03539"/>
<rect x="308.7" y="156.2" width="1.56" height="6.51" fill="#cc4b43"/>
<rect x="308.7" y="162.65" width="1.56" height="6.51" fill="#e58267"/>
<rect x="308.7" y="169.1" width="1.56" height="6.51" fill="#c03539"/>
<rect x="308.7" y="175.55" width="1.56" height="6.51" fill="#c03539"/>
<rect x="308.7" y="182" width="1.56" height="6.51" fill="#fcd4be"/>
<rect x="308.7" y="188.45" width="1.56" height="6.51" fill="#dc6e58"/>
<rect x="308.7" y="194.9" width="1.56" height="6.51" fill="#faeae2"/>
<rect x="308.7" y="201.35" width="1.56" height="6.51" fill="#f8ba9d"/>
<rect x="308.7" y="207.8" width="1.56" height="6.51" fill="#fac9b0"/>
<rect x="308.7" y="214.25" width="1.56" height="6.51" fill="#f7b596"/>
<rect x="308.7" y="223.1" width="1.56" height="6.4" fill="#b2182b"/>
<rect x="310.2" y="117.5" width="1.86" height="6.51" fill="#f9ebe3"/>
<rect x="310.2" y="123.95" width="1.86" height="6.51" fill="#e9f1f4"/>
<rect x="310.2" y="130.4" width="1.86" height="6.51" fill="#c2ddec"/>
<rect x="310.2" y="136.85" width="1.86" height="6.51" fill="#f7f6f5"/>
<rect x="310.2" y="143.3" width="1.86" height="6.51" fill="#fdd9c5"/>
<rect x="310.2" y="149.75" width="1.86" height="6.51" fill="#fddcc9"/>
<rect x="310.2" y="156.2" width="1.86" height="6.51" fill="#d5e7f1"/>
<rect x="310.2" y="162.65" width="1.86" height="6.51" fill="#fce0cf"/>
<rect x="310.2" y="169.1" width="1.86" height="6.51" fill="#f6af8f"/>
<rect x="310.2" y="175.55" width="1.86" height="6.51" fill="#d55e4c"/>
<rect x="310.2" y="182" width="1.86" height="6.51" fill="#c3deec"/>
<rect x="310.2" y="188.45" width="1.86" height="6.51" fill="#83bcd9"/>
<rect x="310.2" y="194.9" width="1.86" height="6.51" fill="#97c7df"/>
<rect x="310.2" y="201.35" width="1.86" height="6.51" fill="#a0cce2"/>
<rect x="310.2" y="207.8" width="1.86" height="6.51" fill="#95c6df"/>
<rect x="310.2" y="214.25" width="1.86" height="6.51" fill="#f3f5f6"/>
<rect x="310.2" y="223.1" width="1.86" height="6.4" fill="#bd2e35"/>
<rect x="312" y="117.5" width="0.96" height="6.51" fill="#fac9b0"/>
<rect x="312" y="123.95" width="0.96" height="6.51" fill="#f9c5ab"/>
<rect x="312" y="130.4" width="0.96" height="6.51" fill="#fddbc7"/>
<rect x="312" y="136.85" width="0.96" height="6.51" fill="#fbd1bb"/>
<rect x="312" y="143.3" width="0.96" height="6.51" fill="#f3a380"/>
<rect x="312" y="149.75" width="0.96" height="6.51" fill="#f4a684"/>
<rect x="312" y="156.2" width="0.96" height="6.51" fill="#fbd1ba"/>
<rect x="312" y="162.65" width="0.96" height="6.51" fill="#e0765e"/>
<rect x="312" y="169.1" width="0.96" height="6.51" fill="#de725b"/>
<rect x="312" y="175.55" width="0.96" height="6.51" fill="#c03539"/>
<rect x="312" y="182" width="0.96" height="6.51" fill="#eef3f5"/>
<rect x="312" y="188.45" width="0.96" height="6.51" fill="#d3e6f0"/>
<rect x="312" y="194.9" width="0.96" height="6.51" fill="#f5f6f7"/>
<rect x="312" y="201.35" width="0.96" height="6.51" fill="#eaf1f5"/>
<rect x="312" y="207.8" width="0.96" height="6.51" fill="#ddebf2"/>
<rect x="312" y="214.25" width="0.96" height="6.51" fill="#fcdecc"/>
<rect x="312" y="223.1" width="0.96" height="6.4" fill="#b2182b"/>
<rect x="312.9" y="117.5" width="1.56" height="6.51" fill="#f4f6f7"/>
<rect x="312.9" y="123.95" width="1.56" height="6.51" fill="#fce1d1"/>
<rect x="312.9" y="130.4" width="1.56" height="6.51" fill="#fbccb4"/>
<rect x="312.9" y="136.85" width="1.56" height="6.51" fill="#cbe2ee"/>
<rect x="312.9" y="143.3" width="1.56" height="6.51" fill="#f9c2a7"/>
<rect x="312.9" y="149.75" width="1.56" height="6.51" fill="#e47f65"/>
<rect x="312.9" y="156.2" width="1.56" height="6.51" fill="#d6e7f1"/>
<rect x="312.9" y="162.65" width="1.56" height="6.51" fill="#facab1"/>
<rect x="312.9" y="169.1" width="1.56" height="6.51" fill="#fcd4be"/>
<rect x="312.9" y="175.55" width="1.56" height="6.51" fill="#f19f7d"/>
<rect x="312.9" y="182" width="1.56" height="6.51" fill="#e2edf3"/>
<rect x="312.9" y="188.45" width="1.56" height="6.51" fill="#add3e6"/>
<rect x="312.9" y="194.9" width="1.56" height="6.51" fill="#b5d7e8"/>
<rect x="312.9" y="201.35" width="1.56" height="6.51" fill="#f8f4f2"/>
<rect x="312.9" y="207.8" width="1.56" height="6.51" fill="#76b3d4"/>
<rect x="312.9" y="214.25" width="1.56" height="6.51" fill="#fbe4d7"/>
<rect x="312.9" y="223.1" width="1.56" height="6.4" fill="#b51e2e"/>
<rect x="314.4" y="117.5" width="0.96" height="6.51" fill="#e9f0f4"/>
<rect x="314.4" y="123.95" width="0.96" height="6.51" fill="#f6b394"/>
<rect x="314.4" y="130.4" width="0.96" height="6.51" fill="#f8f2ef"/>
<rect x="314.4" y="136.85" width="0.96" height="6.51" fill="#e7eff4"/>
<rect x="314.4" y="143.3" width="0.96" height="6.51" fill="#f7b79a"/>
<rect x="314.4" y="149.75" width="0.96" height="6.51" fill="#ed9676"/>
<rect x="314.4" y="156.2" width="0.96" height="6.51" fill="#f9ece4"/>
<rect x="314.4" y="162.65" width="0.96" height="6.51" fill="#fcd2bc"/>
<rect x="314.4" y="169.1" width="0.96" height="6.51" fill="#f09c7b"/>
<rect x="314.4" y="175.55" width="0.96" height="6.51" fill="#d45b4b"/>
<rect x="314.4" y="182" width="0.96" height="6.51" fill="#add3e6"/>
<rect x="314.4" y="188.45" width="0.96" height="6.51" fill="#dae9f2"/>
<rect x="314.4" y="194.9" width="0.96" height="6.51" fill="#acd2e5"/>
<rect x="314.4" y="201.35" width="0.96" height="6.51" fill="#e8f0f4"/>
<rect x="314.4" y="207.8" width="0.96" height="6.51" fill="#d0e5f0"/>
<rect x="314.4" y="214.25" width="0.96" height="6.51" fill="#edf2f5"/>
<rect x="314.4" y="223.1" width="0.96" height="6.4" fill="#b2182b"/>
<rect x="315.3" y="117.5" width="0.96" height="6.51" fill="#fddcc8"/>
<rect x="315.3" y="123.95" width="0.96" height="6.51" fill="#d35a4a"/>
<rect x="315.3" y="130.4" width="0.96" height="6.51" fill="#ef9878"/>
<rect x="315.3" y="136.85" width="0.96" height="6.51" fill="#f8bca0"/>
<rect x="315.3" y="143.3" width="0.96" height="6.51" fill="#f4a885"/>
<rect x="315.3" y="149.75" width="0.96" height="6.51" fill="#c03539"/>
<rect x="315.3" y="156.2" width="0.96" height="6.51" fill="#dd6f59"/>
<rect x="315.3" y="162.65" width="0.96" height="6.51" fill="#d86450"/>
<rect x="315.3" y="169.1" width="0.96" height="6.51" fill="#c03539"/>
<rect x="315.3" y="175.55" width="0.96" height="6.51" fill="#c03539"/>
<rect x="315.3" y="182" width="0.96" height="6.51" fill="#fddcc9"/>
<rect x="315.3" y="188.45" width="0.96" height="6.51" fill="#f19d7c"/>
<rect x="315.3" y="194.9" width="0.96" height="6.51" fill="#f8bc9f"/>
<rect x="315.3" y="201.35" width="0.96" height="6.51" fill="#f9c1a6"/>
<rect x="315.3" y="207.8" width="0.96" height="6.51" fill="#faeae0"/>
<rect x="315.3" y="214.25" width="0.96" height="6.51" fill="#fae7dc"/>
<rect x="315.3" y="223.1" width="0.96" height="6.4" fill="#bb2933"/>
<rect x="316.2" y="117.5" width="0.96" height="6.51" fill="#fae8de"/>
<rect x="316.2" y="123.95" width="0.96" height="6.51" fill="#f7b596"/>
<rect x="316.2" y="130.4" width="0.96" height="6.51" fill="#f8c0a4"/>
<rect x="316.2" y="136.85" width="0.96" height="6.51" fill="#f7f6f5"/>
<rect x="316.2" y="143.3" width="0.96" height="6.51" fill="#ed9576"/>
<rect x="316.2" y="149.75" width="0.96" height="6.51" fill="#fcdecd"/>
<rect x="316.2" y="156.2" width="0.96" height="6.51" fill="#f7f5f3"/>
<rect x="316.2" y="162.65" width="0.96" height="6.51" fill="#c13639"/>
<rect x="316.2" y="169.1" width="0.96" height="6.51" fill="#ef9a7a"/>
<rect x="316.2" y="175.55" width="0.96" height="6.51" fill="#c03539"/>
<rect x="316.2" y="182" width="0.96" height="6.51" fill="#dfecf3"/>
<rect x="316.2" y="188.45" width="0.96" height="6.51" fill="#f2f5f6"/>
<rect x="316.2" y="194.9" width="0.96" height="6.51" fill="#faebe3"/>
<rect x="316.2" y="201.35" width="0.96" height="6.51" fill="#e2edf3"/>
<rect x="316.2" y="207.8" width="0.96" height="6.51" fill="#c4deec"/>
<rect x="316.2" y="214.25" width="0.96" height="6.51" fill="#c0dceb"/>
<rect x="316.2" y="223.1" width="0.96" height="6.4" fill="#b2182b"/>
<rect x="317.1" y="117.5" width="0.96" height="6.51" fill="#fcd6c1"/>
<rect x="317.1" y="123.95" width="0.96" height="6.51" fill="#e17a61"/>
<rect x="317.1" y="130.4" width="0.96" height="6.51" fill="#fbcfb7"/>
<rect x="317.1" y="136.85" width="0.96" height="6.51" fill="#fce1d2"/>
<rect x="317.1" y="143.3" width="0.96" height="6.51" fill="#fce1d2"/>
<rect x="317.1" y="149.75" width="0.96" height="6.51" fill="#d7614e"/>
<rect x="317.1" y="156.2" width="0.96" height="6.51" fill="#fac9b0"/>
<rect x="317.1" y="162.65" width="0.96" height="6.51" fill="#ec9374"/>
<rect x="317.1" y="169.1" width="0.96" height="6.51" fill="#c03539"/>
<rect x="317.1" y="175.55" width="0.96" height="6.51" fill="#c03539"/>
<rect x="317.1" y="182" width="0.96" height="6.51" fill="#e8f0f4"/>
<rect x="317.1" y="188.45" width="0.96" height="6.51" fill="#f8bfa4"/>
<rect x="317.1" y="194.9" width="0.96" height="6.51" fill="#fcdfcd"/>
<rect x="317.1" y="201.35" width="0.96" height="6.51" fill="#fac7ae"/>
<rect x="317.1" y="207.8" width="0.96" height="6.51" fill="#e3eef3"/>
<rect x="317.1" y="214.25" width="0.96" height="6.51" fill="#cfe4f0"/>
<rect x="317.1" y="223.1" width="0.96" height="6.4" fill="#ba2933"/>
<rect x="318" y="117.5" width="0.66" height="6.51" fill="#f8f1ed"/>
<rect x="318" y="123.95" width="0.66" height="6.51" fill="#ed9676"/>
<rect x="318" y="130.4" width="0.66" height="6.51" fill="#f4a582"/>
<rect x="318" y="136.85" width="0.66" height="6.51" fill="#fbe2d3"/>
<rect x="318" y="143.3" width="0.66" height="6.51" fill="#f6b192"/>
<rect x="318" y="149.75" width="0.66" height="6.51" fill="#ea8f71"/>
<rect x="318" y="156.2" width="0.66" height="6.51" fill="#fddac6"/>
<rect x="318" y="162.65" width="0.66" height="6.51" fill="#db6a55"/>
<rect x="318" y="169.1" width="0.66" height="6.51" fill="#d6604d"/>
<rect x="318" y="175.55" width="0.66" height="6.51" fill="#c03539"/>
<rect x="318" y="182" width="0.66" height="6.51" fill="#f4a684"/>
<rect x="318" y="188.45" width="0.66" height="6.51" fill="#f7b496"/>
<rect x="318" y="194.9" width="0.66" height="6.51" fill="#ddebf2"/>
<rect x="318" y="201.35" width="0.66" height="6.51" fill="#fcd4be"/>
<rect x="318" y="207.8" width="0.66" height="6.51" fill="#b9d9e9"/>
<rect x="318" y="214.25" width="0.66" height="6.51" fill="#fce2d3"/>
<rect x="318" y="223.1" width="0.66" height="6.4" fill="#d96752"/>
</g>
<rect x="53.3" y="234.3" width="74.9" height="5.4" fill="#0b2c5e"/>
<rect x="128.2" y="234.3" width="44.3" height="5.4" fill="#4393c3"/>
<line x1="128.20" y1="234.30" x2="128.20" y2="239.70" stroke="#fff" stroke-width="0.5" />
<rect x="172.5" y="234.3" width="50.4" height="5.4" fill="#d1e5f0"/>
<line x1="172.50" y1="234.30" x2="172.50" y2="239.70" stroke="#fff" stroke-width="0.5" />
<rect x="222.9" y="234.3" width="34.1" height="5.4" fill="#fddbc7"/>
<line x1="222.90" y1="234.30" x2="222.90" y2="239.70" stroke="#fff" stroke-width="0.5" />
<rect x="257" y="234.3" width="29.3" height="5.4" fill="#d6604d"/>
<line x1="257.00" y1="234.30" x2="257.00" y2="239.70" stroke="#fff" stroke-width="0.5" />
<rect x="286.3" y="234.3" width="32.3" height="5.4" fill="#67001f"/>
<line x1="286.30" y1="234.30" x2="286.30" y2="239.70" stroke="#fff" stroke-width="0.5" />
<rect x="53.3" y="234.3" width="265.3" height="5.4" fill="none" stroke="#999" stroke-width="0.3"/>
<text x="90.40" y="239.10" font-size="5.0" text-anchor="middle" fill="#ccd" stroke="#ccd" stroke-width="0.18" >1</text>
<text x="149.70" y="239.10" font-size="5.0" text-anchor="middle" fill="#dde" stroke="#dde" stroke-width="0.18" >2</text>
<text x="196.00" y="239.10" font-size="5.0" text-anchor="middle" fill="#333" stroke="#333" stroke-width="0.18" >3</text>
<text x="239.20" y="239.10" font-size="5.0" text-anchor="middle" fill="#333" stroke="#333" stroke-width="0.18" >4</text>
<text x="272.50" y="239.10" font-size="5.0" text-anchor="middle" fill="#222" stroke="#222" stroke-width="0.18" >5</text>
<text x="303.00" y="239.10" font-size="5.0" text-anchor="middle" fill="#ddd" stroke="#ddd" stroke-width="0.18" >6</text>
<polyline points="121.40,109.50 121.40,96.60 260.80,96.60 260.80,112.20" fill="none" stroke="#8c8c8c" stroke-width="0.5"/>
<polyline points="81.80,116.50 81.80,109.50 166.30,109.50 166.30,113.50" fill="none" stroke="#8c8c8c" stroke-width="0.5"/>
<polyline points="141.50,116.00 141.50,113.50 190.80,113.50 190.80,116.00" fill="none" stroke="#8c8c8c" stroke-width="0.5"/>
<polyline points="239.20,116.00 239.20,112.20 289.00,112.20 289.00,116.00" fill="none" stroke="#8c8c8c" stroke-width="0.5"/>
<polyline points="53.30,117.60 53.30,116.01 57.60,116.01 57.60,117.60" fill="none" stroke="#555" stroke-width="0.4"/>
<polyline points="56.73,117.60 56.73,116.02 62.47,116.02 62.47,117.60" fill="none" stroke="#555" stroke-width="0.4"/>
<polyline points="61.68,117.60 61.68,116.46 63.31,116.46 63.31,117.60" fill="none" stroke="#555" stroke-width="0.4"/>
<polyline points="63.10,117.60 63.10,115.76 67.52,115.76 67.52,117.60" fill="none" stroke="#555" stroke-width="0.4"/>
<polyline points="65.12,117.60 65.12,116.81 68.73,116.81 68.73,117.60" fill="none" stroke="#555" stroke-width="0.4"/>
<polyline points="67.54,117.60 67.54,117.18 71.62,117.18 71.62,117.60" fill="none" stroke="#555" stroke-width="0.4"/>
<polyline points="69.62,117.60 69.62,115.73 72.37,115.73 72.37,117.60" fill="none" stroke="#555" stroke-width="0.4"/>
<polyline points="71.78,117.60 71.78,115.92 73.99,115.92 73.99,117.60" fill="none" stroke="#555" stroke-width="0.4"/>
<polyline points="72.82,117.60 72.82,117.00 77.10,117.00 77.10,117.60" fill="none" stroke="#555" stroke-width="0.4"/>
<polyline points="74.53,117.60 74.53,116.86 79.95,116.86 79.95,117.60" fill="none" stroke="#555" stroke-width="0.4"/>
<polyline points="77.29,117.60 77.29,115.80 83.21,115.80 83.21,117.60" fill="none" stroke="#555" stroke-width="0.4"/>
<polyline points="80.51,117.60 80.51,116.34 86.34,116.34 86.34,117.60" fill="none" stroke="#555" stroke-width="0.4"/>
<polyline points="84.82,117.60 84.82,115.69 87.24,115.69 87.24,117.60" fill="none" stroke="#555" stroke-width="0.4"/>
<polyline points="86.62,117.60 86.62,115.77 92.47,115.77 92.47,117.60" fill="none" stroke="#555" stroke-width="0.4"/>
<polyline points="89.83,117.60 89.83,116.93 92.96,116.93 92.96,117.60" fill="none" stroke="#555" stroke-width="0.4"/>
<polyline points="91.31,117.60 91.31,116.72 93.10,116.72 93.10,117.60" fill="none" stroke="#555" stroke-width="0.4"/>
<polyline points="92.57,117.60 92.57,116.12 94.08,116.12 94.08,117.60" fill="none" stroke="#555" stroke-width="0.4"/>
<polyline points="93.43,117.60 93.43,115.89 96.33,115.89 96.33,117.60" fill="none" stroke="#555" stroke-width="0.4"/>
<polyline points="95.29,117.60 95.29,116.43 98.21,116.43 98.21,117.60" fill="none" stroke="#555" stroke-width="0.4"/>
<polyline points="97.48,117.60 97.48,115.64 99.24,115.64 99.24,117.60" fill="none" stroke="#555" stroke-width="0.4"/>
<polyline points="98.21,117.60 98.21,115.85 103.08,115.85 103.08,117.60" fill="none" stroke="#555" stroke-width="0.4"/>
<polyline points="100.20,117.60 100.20,116.61 105.24,116.61 105.24,117.60" fill="none" stroke="#555" stroke-width="0.4"/>
<polyline points="103.68,117.60 103.68,117.13 105.22,117.13 105.22,117.60" fill="none" stroke="#555" stroke-width="0.4"/>
<polyline points="104.43,117.60 104.43,116.89 110.23,116.89 110.23,117.60" fill="none" stroke="#555" stroke-width="0.4"/>
<polyline points="108.94,117.60 108.94,115.69 114.63,115.69 114.63,117.60" fill="none" stroke="#555" stroke-width="0.4"/>
<polyline points="112.19,117.60 112.19,116.36 115.29,116.36 115.29,117.60" fill="none" stroke="#555" stroke-width="0.4"/>
<polyline points="114.63,117.60 114.63,116.00 116.62,116.00 116.62,117.60" fill="none" stroke="#555" stroke-width="0.4"/>
<polyline points="116.22,117.60 116.22,117.14 121.59,117.14 121.59,117.60" fill="none" stroke="#555" stroke-width="0.4"/>
<polyline points="120.91,117.60 120.91,116.65 122.82,116.65 122.82,117.60" fill="none" stroke="#555" stroke-width="0.4"/>
<polyline points="122.25,117.60 122.25,116.66 127.89,116.66 127.89,117.60" fill="none" stroke="#555" stroke-width="0.4"/>
<polyline points="127.11,117.60 127.11,116.70 131.06,116.70 131.06,117.60" fill="none" stroke="#555" stroke-width="0.4"/>
<polyline points="129.32,117.60 129.32,117.07 131.62,117.07 131.62,117.60" fill="none" stroke="#555" stroke-width="0.4"/>
<polyline points="130.41,117.60 130.41,115.61 135.01,115.61 135.01,117.60" fill="none" stroke="#555" stroke-width="0.4"/>
<polyline points="132.62,117.60 132.62,115.62 134.34,115.62 134.34,117.60" fill="none" stroke="#555" stroke-width="0.4"/>
<polyline points="133.77,117.60 133.77,116.82 137.09,116.82 137.09,117.60" fill="none" stroke="#555" stroke-width="0.4"/>
<polyline points="136.08,117.60 136.08,116.47 141.30,116.47 141.30,117.60" fill="none" stroke="#555" stroke-width="0.4"/>
<polyline points="139.27,117.60 139.27,115.73 141.02,115.73 141.02,117.60" fill="none" stroke="#555" stroke-width="0.4"/>
<polyline points="140.00,117.60 140.00,115.86 143.72,115.86 143.72,117.60" fill="none" stroke="#555" stroke-width="0.4"/>
<polyline points="141.73,117.60 141.73,115.68 146.52,115.68 146.52,117.60" fill="none" stroke="#555" stroke-width="0.4"/>
<polyline points="145.16,117.60 145.16,117.03 150.21,117.03 150.21,117.60" fill="none" stroke="#555" stroke-width="0.4"/>
<polyline points="148.27,117.60 148.27,115.85 150.45,115.85 150.45,117.60" fill="none" stroke="#555" stroke-width="0.4"/>
<polyline points="149.46,117.60 149.46,115.60 153.00,115.60 153.00,117.60" fill="none" stroke="#555" stroke-width="0.4"/>
<polyline points="152.39,117.60 152.39,116.47 158.28,116.47 158.28,117.60" fill="none" stroke="#555" stroke-width="0.4"/>
<polyline points="156.18,117.60 156.18,116.43 160.96,116.43 160.96,117.60" fill="none" stroke="#555" stroke-width="0.4"/>
<polyline points="158.79,117.60 158.79,116.97 162.11,116.97 162.11,117.60" fill="none" stroke="#555" stroke-width="0.4"/>
<polyline points="160.74,117.60 160.74,115.66 166.69,115.66 166.69,117.60" fill="none" stroke="#555" stroke-width="0.4"/>
<polyline points="164.99,117.60 164.99,116.66 168.73,116.66 168.73,117.60" fill="none" stroke="#555" stroke-width="0.4"/>
<polyline points="166.65,117.60 166.65,115.95 169.38,115.95 169.38,117.60" fill="none" stroke="#555" stroke-width="0.4"/>
<polyline points="168.92,117.60 168.92,115.94 172.05,115.94 172.05,117.60" fill="none" stroke="#555" stroke-width="0.4"/>
<polyline points="171.39,117.60 171.39,116.14 176.01,116.14 176.01,117.60" fill="none" stroke="#555" stroke-width="0.4"/>
<polyline points="174.99,117.60 174.99,116.07 178.13,116.07 178.13,117.60" fill="none" stroke="#555" stroke-width="0.4"/>
<polyline points="176.69,117.60 176.69,115.97 180.37,115.97 180.37,117.60" fill="none" stroke="#555" stroke-width="0.4"/>
<polyline points="179.43,117.60 179.43,115.69 182.26,115.69 182.26,117.60" fill="none" stroke="#555" stroke-width="0.4"/>
<polyline points="181.48,117.60 181.48,117.18 185.59,117.18 185.59,117.60" fill="none" stroke="#555" stroke-width="0.4"/>
<polyline points="184.25,117.60 184.25,116.13 186.88,116.13 186.88,117.60" fill="none" stroke="#555" stroke-width="0.4"/>
<polyline points="185.91,117.60 185.91,116.16 191.09,116.16 191.09,117.60" fill="none" stroke="#555" stroke-width="0.4"/>
<polyline points="190.04,117.60 190.04,116.17 193.11,116.17 193.11,117.60" fill="none" stroke="#555" stroke-width="0.4"/>
<polyline points="192.40,117.60 192.40,116.64 197.63,116.64 197.63,117.60" fill="none" stroke="#555" stroke-width="0.4"/>
<polyline points="196.69,117.60 196.69,116.10 202.11,116.10 202.11,117.60" fill="none" stroke="#555" stroke-width="0.4"/>
<polyline points="201.50,117.60 201.50,116.37 207.31,116.37 207.31,117.60" fill="none" stroke="#555" stroke-width="0.4"/>
<polyline points="205.36,117.60 205.36,115.86 207.61,115.86 207.61,117.60" fill="none" stroke="#555" stroke-width="0.4"/>
<polyline points="207.31,117.60 207.31,116.09 210.96,116.09 210.96,117.60" fill="none" stroke="#555" stroke-width="0.4"/>
<polyline points="210.09,117.60 210.09,116.93 214.87,116.93 214.87,117.60" fill="none" stroke="#555" stroke-width="0.4"/>
<polyline points="213.87,117.60 213.87,116.14 217.98,116.14 217.98,117.60" fill="none" stroke="#555" stroke-width="0.4"/>
<polyline points="216.38,117.60 216.38,115.96 220.69,115.96 220.69,117.60" fill="none" stroke="#555" stroke-width="0.4"/>
<polyline points="219.47,117.60 219.47,117.16 224.21,117.16 224.21,117.60" fill="none" stroke="#555" stroke-width="0.4"/>
<polyline points="221.75,117.60 221.75,116.16 225.23,116.16 225.23,117.60" fill="none" stroke="#555" stroke-width="0.4"/>
<polyline points="223.52,117.60 223.52,116.19 228.11,116.19 228.11,117.60" fill="none" stroke="#555" stroke-width="0.4"/>
<polyline points="225.46,117.60 225.46,116.84 229.08,116.84 229.08,117.60" fill="none" stroke="#555" stroke-width="0.4"/>
<polyline points="227.00,117.60 227.00,116.69 229.10,116.69 229.10,117.60" fill="none" stroke="#555" stroke-width="0.4"/>
<polyline points="228.03,117.60 228.03,117.14 230.40,117.14 230.40,117.60" fill="none" stroke="#555" stroke-width="0.4"/>
<polyline points="229.53,117.60 229.53,116.22 232.74,116.22 232.74,117.60" fill="none" stroke="#555" stroke-width="0.4"/>
<polyline points="231.76,117.60 231.76,115.75 234.34,115.75 234.34,117.60" fill="none" stroke="#555" stroke-width="0.4"/>
<polyline points="232.79,117.60 232.79,116.75 236.12,116.75 236.12,117.60" fill="none" stroke="#555" stroke-width="0.4"/>
<polyline points="234.81,117.60 234.81,115.87 236.82,115.87 236.82,117.60" fill="none" stroke="#555" stroke-width="0.4"/>
<polyline points="235.99,117.60 235.99,116.22 237.65,116.22 237.65,117.60" fill="none" stroke="#555" stroke-width="0.4"/>
<polyline points="236.73,117.60 236.73,116.66 240.69,116.66 240.69,117.60" fill="none" stroke="#555" stroke-width="0.4"/>
<polyline points="239.46,117.60 239.46,115.89 245.28,115.89 245.28,117.60" fill="none" stroke="#555" stroke-width="0.4"/>
<polyline points="243.01,117.60 243.01,116.17 248.16,116.17 248.16,117.60" fill="none" stroke="#555" stroke-width="0.4"/>
<polyline points="246.02,117.60 246.02,116.25 248.16,116.25 248.16,117.60" fill="none" stroke="#555" stroke-width="0.4"/>
<polyline points="247.48,117.60 247.48,115.65 253.29,115.65 253.29,117.60" fill="none" stroke="#555" stroke-width="0.4"/>
<polyline points="251.57,117.60 251.57,115.77 254.65,115.77 254.65,117.60" fill="none" stroke="#555" stroke-width="0.4"/>
<polyline points="252.80,117.60 252.80,116.29 254.79,116.29 254.79,117.60" fill="none" stroke="#555" stroke-width="0.4"/>
<polyline points="254.21,117.60 254.21,116.19 256.34,116.19 256.34,117.60" fill="none" stroke="#555" stroke-width="0.4"/>
<polyline points="256.01,117.60 256.01,116.51 259.20,116.51 259.20,117.60" fill="none" stroke="#555" stroke-width="0.4"/>
<polyline points="257.65,117.60 257.65,115.64 260.46,115.64 260.46,117.60" fill="none" stroke="#555" stroke-width="0.4"/>
<polyline points="259.31,117.60 259.31,115.74 265.14,115.74 265.14,117.60" fill="none" stroke="#555" stroke-width="0.4"/>
<polyline points="263.38,117.60 263.38,115.63 266.04,115.63 266.04,117.60" fill="none" stroke="#555" stroke-width="0.4"/>
<polyline points="265.11,117.60 265.11,116.69 268.48,116.69 268.48,117.60" fill="none" stroke="#555" stroke-width="0.4"/>
<polyline points="268.11,117.60 268.11,116.74 271.82,116.74 271.82,117.60" fill="none" stroke="#555" stroke-width="0.4"/>
<polyline points="270.48,117.60 270.48,116.21 272.53,116.21 272.53,117.60" fill="none" stroke="#555" stroke-width="0.4"/>
<polyline points="271.76,117.60 271.76,115.95 274.57,115.95 274.57,117.60" fill="none" stroke="#555" stroke-width="0.4"/>
<polyline points="274.05,117.60 274.05,116.35 275.61,116.35 275.61,117.60" fill="none" stroke="#555" stroke-width="0.4"/>
<polyline points="274.89,117.60 274.89,115.95 280.59,115.95 280.59,117.60" fill="none" stroke="#555" stroke-width="0.4"/>
<polyline points="277.87,117.60 277.87,116.95 280.58,116.95 280.58,117.60" fill="none" stroke="#555" stroke-width="0.4"/>
<polyline points="280.29,117.60 280.29,116.23 283.11,116.23 283.11,117.60" fill="none" stroke="#555" stroke-width="0.4"/>
<polyline points="282.09,117.60 282.09,116.23 286.49,116.23 286.49,117.60" fill="none" stroke="#555" stroke-width="0.4"/>
<polyline points="285.48,117.60 285.48,115.98 287.52,115.98 287.52,117.60" fill="none" stroke="#555" stroke-width="0.4"/>
<polyline points="286.60,117.60 286.60,116.66 290.50,116.66 290.50,117.60" fill="none" stroke="#555" stroke-width="0.4"/>
<polyline points="288.74,117.60 288.74,116.46 292.63,116.46 292.63,117.60" fill="none" stroke="#555" stroke-width="0.4"/>
<polyline points="291.00,117.60 291.00,116.25 295.85,116.25 295.85,117.60" fill="none" stroke="#555" stroke-width="0.4"/>
<polyline points="293.03,117.60 293.03,116.47 295.66,116.47 295.66,117.60" fill="none" stroke="#555" stroke-width="0.4"/>
<polyline points="295.29,117.60 295.29,116.33 300.78,116.33 300.78,117.60" fill="none" stroke="#555" stroke-width="0.4"/>
<polyline points="297.53,117.60 297.53,116.52 302.53,116.52 302.53,117.60" fill="none" stroke="#555" stroke-width="0.4"/>
<polyline points="300.97,117.60 300.97,116.19 305.65,116.19 305.65,117.60" fill="none" stroke="#555" stroke-width="0.4"/>
<polyline points="303.97,117.60 303.97,116.58 309.57,116.58 309.57,117.60" fill="none" stroke="#555" stroke-width="0.4"/>
<polyline points="307.31,117.60 307.31,116.89 312.64,116.89 312.64,117.60" fill="none" stroke="#555" stroke-width="0.4"/>
<polyline points="310.23,117.60 310.23,117.09 315.47,117.09 315.47,117.60" fill="none" stroke="#555" stroke-width="0.4"/>
<polyline points="314.52,117.60 314.52,116.51 318.60,116.51 318.60,117.60" fill="none" stroke="#555" stroke-width="0.4"/>
<polyline points="317.03,117.60 317.03,115.74 318.60,115.74 318.60,117.60" fill="none" stroke="#555" stroke-width="0.4"/>
<polyline points="318.90,120.72 320.10,120.72 320.10,127.17 318.90,127.17" fill="none" stroke="#707070" stroke-width="0.45"/>
<polyline points="320.10,123.95 321.10,123.95 321.10,133.62 318.90,133.62" fill="none" stroke="#707070" stroke-width="0.45"/>
<polyline points="318.90,146.53 319.90,146.53 319.90,152.97 318.90,152.97" fill="none" stroke="#707070" stroke-width="0.45"/>
<polyline points="318.90,140.07 320.80,140.07 320.80,149.75 319.90,149.75" fill="none" stroke="#707070" stroke-width="0.45"/>
<polyline points="321.10,128.79 322.20,128.79 322.20,144.91 320.80,144.91" fill="none" stroke="#707070" stroke-width="0.45"/>
<polyline points="318.90,159.43 320.30,159.43 320.30,165.88 318.90,165.88" fill="none" stroke="#707070" stroke-width="0.45"/>
<polyline points="318.90,172.32 320.00,172.32 320.00,178.78 318.90,178.78" fill="none" stroke="#707070" stroke-width="0.45"/>
<polyline points="320.30,162.65 321.50,162.65 321.50,175.55 320.00,175.55" fill="none" stroke="#707070" stroke-width="0.45"/>
<polyline points="322.20,136.85 323.70,136.85 323.70,169.10 321.50,169.10" fill="none" stroke="#707070" stroke-width="0.45"/>
<polyline points="318.90,185.23 320.20,185.23 320.20,191.68 318.90,191.68" fill="none" stroke="#707070" stroke-width="0.45"/>
<polyline points="320.20,188.45 321.20,188.45 321.20,198.12 318.90,198.12" fill="none" stroke="#707070" stroke-width="0.45"/>
<polyline points="318.90,204.57 320.10,204.57 320.10,211.03 318.90,211.03" fill="none" stroke="#707070" stroke-width="0.45"/>
<polyline points="320.10,207.80 320.90,207.80 320.90,217.48 318.90,217.48" fill="none" stroke="#707070" stroke-width="0.45"/>
<polyline points="321.20,193.29 322.50,193.29 322.50,212.64 320.90,212.64" fill="none" stroke="#707070" stroke-width="0.45"/>
<polyline points="323.70,152.98 325.70,152.98 325.70,202.96 322.50,202.96" fill="none" stroke="#707070" stroke-width="0.45"/>
<polyline points="325.70,185.50 339.30,185.50 339.30,226.30 318.90,226.30" fill="none" stroke="#777" stroke-width="0.5"/>
<text x="0.60" y="253.60" font-size="12.6" text-anchor="start" fill="#111" font-weight="bold" >C</text>
<line x1="3.80" y1="255.40" x2="3.80" y2="397.50" stroke="#c8c8c8" stroke-width="0.5" />
<line x1="19.82" y1="255.40" x2="19.82" y2="397.50" stroke="#c8c8c8" stroke-width="0.5" />
<line x1="35.84" y1="255.40" x2="35.84" y2="397.50" stroke="#c8c8c8" stroke-width="0.5" />
<line x1="51.86" y1="255.40" x2="51.86" y2="397.50" stroke="#c8c8c8" stroke-width="0.5" />
<line x1="67.88" y1="255.40" x2="67.88" y2="397.50" stroke="#c8c8c8" stroke-width="0.5" />
<line x1="83.90" y1="255.40" x2="83.90" y2="397.50" stroke="#c8c8c8" stroke-width="0.5" />
<line x1="5.20" y1="261.40" x2="54.50" y2="261.40" stroke="#3a3a3a" stroke-width="0.7" />
<circle cx="5.20" cy="261.40" r="0.65" fill="#222" stroke="none" stroke-width="0.5" />
<circle cx="54.50" cy="261.40" r="0.65" fill="#222" stroke="none" stroke-width="0.5" />
<rect x="23.70" y="260.00" width="13.20" height="2.8" rx="1.0" fill="#fff" stroke="#555" stroke-width="0.6"/>
<line x1="30.30" y1="260.00" x2="30.30" y2="262.80" stroke="#222" stroke-width="0.7" />
<line x1="17.70" y1="266.14" x2="60.20" y2="266.14" stroke="#3a3a3a" stroke-width="0.7" />
<circle cx="17.70" cy="266.14" r="0.65" fill="#222" stroke="none" stroke-width="0.5" />
<circle cx="60.20" cy="266.14" r="0.65" fill="#222" stroke="none" stroke-width="0.5" />
<rect x="29.10" y="264.75" width="15.60" height="2.8" rx="1.0" fill="#fff" stroke="#555" stroke-width="0.6"/>
<line x1="37.20" y1="264.75" x2="37.20" y2="267.54" stroke="#222" stroke-width="0.7" />
<line x1="24.20" y1="270.89" x2="57.50" y2="270.89" stroke="#3a3a3a" stroke-width="0.7" />
<circle cx="24.20" cy="270.89" r="0.65" fill="#222" stroke="none" stroke-width="0.5" />
<circle cx="57.50" cy="270.89" r="0.65" fill="#222" stroke="none" stroke-width="0.5" />
<rect x="35.10" y="269.49" width="11.60" height="2.8" rx="1.0" fill="#fff" stroke="#555" stroke-width="0.6"/>
<line x1="41.50" y1="269.49" x2="41.50" y2="272.29" stroke="#222" stroke-width="0.7" />
<line x1="26.80" y1="275.63" x2="59.70" y2="275.63" stroke="#3a3a3a" stroke-width="0.7" />
<circle cx="26.80" cy="275.63" r="0.65" fill="#222" stroke="none" stroke-width="0.5" />
<circle cx="59.70" cy="275.63" r="0.65" fill="#222" stroke="none" stroke-width="0.5" />
<rect x="36.70" y="274.24" width="10.00" height="2.8" rx="1.0" fill="#fff" stroke="#555" stroke-width="0.6"/>
<line x1="41.50" y1="274.24" x2="41.50" y2="277.03" stroke="#222" stroke-width="0.7" />
<line x1="26.30" y1="280.38" x2="65.80" y2="280.38" stroke="#3a3a3a" stroke-width="0.7" />
<circle cx="26.30" cy="280.38" r="0.65" fill="#222" stroke="none" stroke-width="0.5" />
<circle cx="65.80" cy="280.38" r="0.65" fill="#222" stroke="none" stroke-width="0.5" />
<rect x="41.00" y="278.98" width="10.40" height="2.8" rx="1.0" fill="#fff" stroke="#555" stroke-width="0.6"/>
<line x1="46.40" y1="278.98" x2="46.40" y2="281.78" stroke="#222" stroke-width="0.7" />
<line x1="25.60" y1="285.12" x2="67.50" y2="285.12" stroke="#3a3a3a" stroke-width="0.7" />
<circle cx="25.60" cy="285.12" r="0.65" fill="#222" stroke="none" stroke-width="0.5" />
<circle cx="67.50" cy="285.12" r="0.65" fill="#222" stroke="none" stroke-width="0.5" />
<rect x="41.50" y="283.73" width="10.10" height="2.8" rx="1.0" fill="#fff" stroke="#555" stroke-width="0.6"/>
<line x1="46.70" y1="283.73" x2="46.70" y2="286.52" stroke="#222" stroke-width="0.7" />
<line x1="14.70" y1="289.87" x2="75.80" y2="289.87" stroke="#3a3a3a" stroke-width="0.7" />
<circle cx="14.70" cy="289.87" r="0.65" fill="#222" stroke="none" stroke-width="0.5" />
<circle cx="75.80" cy="289.87" r="0.65" fill="#222" stroke="none" stroke-width="0.5" />
<rect x="38.40" y="288.47" width="16.10" height="2.8" rx="1.0" fill="#fff" stroke="#555" stroke-width="0.6"/>
<line x1="46.70" y1="288.47" x2="46.70" y2="291.27" stroke="#222" stroke-width="0.7" />
<line x1="28.60" y1="294.62" x2="65.40" y2="294.62" stroke="#3a3a3a" stroke-width="0.7" />
<circle cx="28.60" cy="294.62" r="0.65" fill="#222" stroke="none" stroke-width="0.5" />
<circle cx="65.40" cy="294.62" r="0.65" fill="#222" stroke="none" stroke-width="0.5" />
<rect x="42.10" y="293.22" width="9.80" height="2.8" rx="1.0" fill="#fff" stroke="#555" stroke-width="0.6"/>
<line x1="47.20" y1="293.22" x2="47.20" y2="296.01" stroke="#222" stroke-width="0.7" />
<line x1="28.60" y1="299.36" x2="65.80" y2="299.36" stroke="#3a3a3a" stroke-width="0.7" />
<circle cx="28.60" cy="299.36" r="0.65" fill="#222" stroke="none" stroke-width="0.5" />
<circle cx="65.80" cy="299.36" r="0.65" fill="#222" stroke="none" stroke-width="0.5" />
<rect x="42.40" y="297.96" width="10.00" height="2.8" rx="1.0" fill="#fff" stroke="#555" stroke-width="0.6"/>
<line x1="47.20" y1="297.96" x2="47.20" y2="300.76" stroke="#222" stroke-width="0.7" />
<line x1="29.80" y1="304.10" x2="61.40" y2="304.10" stroke="#3a3a3a" stroke-width="0.7" />
<circle cx="29.80" cy="304.10" r="0.65" fill="#222" stroke="none" stroke-width="0.5" />
<circle cx="61.40" cy="304.10" r="0.65" fill="#222" stroke="none" stroke-width="0.5" />
<rect x="42.40" y="302.70" width="9.20" height="2.8" rx="1.0" fill="#fff" stroke="#555" stroke-width="0.6"/>
<line x1="47.60" y1="302.70" x2="47.60" y2="305.50" stroke="#222" stroke-width="0.7" />
<line x1="27.20" y1="308.85" x2="71.00" y2="308.85" stroke="#3a3a3a" stroke-width="0.7" />
<circle cx="27.20" cy="308.85" r="0.65" fill="#222" stroke="none" stroke-width="0.5" />
<circle cx="71.00" cy="308.85" r="0.65" fill="#222" stroke="none" stroke-width="0.5" />
<rect x="43.30" y="307.45" width="11.20" height="2.8" rx="1.0" fill="#fff" stroke="#555" stroke-width="0.6"/>
<line x1="48.50" y1="307.45" x2="48.50" y2="310.25" stroke="#222" stroke-width="0.7" />
<line x1="28.20" y1="313.59" x2="71.00" y2="313.59" stroke="#3a3a3a" stroke-width="0.7" />
<circle cx="28.20" cy="313.59" r="0.65" fill="#222" stroke="none" stroke-width="0.5" />
<circle cx="71.00" cy="313.59" r="0.65" fill="#222" stroke="none" stroke-width="0.5" />
<rect x="43.60" y="312.19" width="11.80" height="2.8" rx="1.0" fill="#fff" stroke="#555" stroke-width="0.6"/>
<line x1="49.30" y1="312.19" x2="49.30" y2="314.99" stroke="#222" stroke-width="0.7" />
<line x1="30.30" y1="318.34" x2="65.40" y2="318.34" stroke="#3a3a3a" stroke-width="0.7" />
<circle cx="30.30" cy="318.34" r="0.65" fill="#222" stroke="none" stroke-width="0.5" />
<circle cx="65.40" cy="318.34" r="0.65" fill="#222" stroke="none" stroke-width="0.5" />
<rect x="44.10" y="316.94" width="10.40" height="2.8" rx="1.0" fill="#fff" stroke="#555" stroke-width="0.6"/>
<line x1="49.30" y1="316.94" x2="49.30" y2="319.74" stroke="#222" stroke-width="0.7" />
<line x1="25.10" y1="323.08" x2="71.30" y2="323.08" stroke="#3a3a3a" stroke-width="0.7" />
<circle cx="25.10" cy="323.08" r="0.65" fill="#222" stroke="none" stroke-width="0.5" />
<circle cx="71.30" cy="323.08" r="0.65" fill="#222" stroke="none" stroke-width="0.5" />
<rect x="40.30" y="321.69" width="14.20" height="2.8" rx="1.0" fill="#fff" stroke="#555" stroke-width="0.6"/>
<line x1="50.50" y1="321.69" x2="50.50" y2="324.48" stroke="#222" stroke-width="0.7" />
<line x1="33.70" y1="327.83" x2="66.60" y2="327.83" stroke="#3a3a3a" stroke-width="0.7" />
<circle cx="33.70" cy="327.83" r="0.65" fill="#222" stroke="none" stroke-width="0.5" />
<circle cx="66.60" cy="327.83" r="0.65" fill="#222" stroke="none" stroke-width="0.5" />
<rect x="45.90" y="326.43" width="9.10" height="2.8" rx="1.0" fill="#fff" stroke="#555" stroke-width="0.6"/>
<line x1="50.50" y1="326.43" x2="50.50" y2="329.23" stroke="#222" stroke-width="0.7" />
<line x1="30.80" y1="332.57" x2="72.30" y2="332.57" stroke="#3a3a3a" stroke-width="0.7" />
<circle cx="30.80" cy="332.57" r="0.65" fill="#222" stroke="none" stroke-width="0.5" />
<circle cx="72.30" cy="332.57" r="0.65" fill="#222" stroke="none" stroke-width="0.5" />
<rect x="45.30" y="331.18" width="11.80" height="2.8" rx="1.0" fill="#fff" stroke="#555" stroke-width="0.6"/>
<line x1="51.40" y1="331.18" x2="51.40" y2="333.97" stroke="#222" stroke-width="0.7" />
<line x1="18.20" y1="337.32" x2="79.30" y2="337.32" stroke="#3a3a3a" stroke-width="0.7" />
<circle cx="18.20" cy="337.32" r="0.65" fill="#222" stroke="none" stroke-width="0.5" />
<circle cx="79.30" cy="337.32" r="0.65" fill="#222" stroke="none" stroke-width="0.5" />
<rect x="42.90" y="335.92" width="16.80" height="2.8" rx="1.0" fill="#fff" stroke="#555" stroke-width="0.6"/>
<line x1="51.90" y1="335.92" x2="51.90" y2="338.72" stroke="#222" stroke-width="0.7" />
<line x1="31.20" y1="342.06" x2="68.90" y2="342.06" stroke="#3a3a3a" stroke-width="0.7" />
<circle cx="31.20" cy="342.06" r="0.65" fill="#222" stroke="none" stroke-width="0.5" />
<circle cx="68.90" cy="342.06" r="0.65" fill="#222" stroke="none" stroke-width="0.5" />
<rect x="45.90" y="340.67" width="10.70" height="2.8" rx="1.0" fill="#fff" stroke="#555" stroke-width="0.6"/>
<line x1="51.90" y1="340.67" x2="51.90" y2="343.46" stroke="#222" stroke-width="0.7" />
<line x1="29.80" y1="346.81" x2="73.60" y2="346.81" stroke="#3a3a3a" stroke-width="0.7" />
<circle cx="29.80" cy="346.81" r="0.65" fill="#222" stroke="none" stroke-width="0.5" />
<circle cx="73.60" cy="346.81" r="0.65" fill="#222" stroke="none" stroke-width="0.5" />
<rect x="46.40" y="345.41" width="12.10" height="2.8" rx="1.0" fill="#fff" stroke="#555" stroke-width="0.6"/>
<line x1="52.30" y1="345.41" x2="52.30" y2="348.21" stroke="#222" stroke-width="0.7" />
<line x1="37.20" y1="351.55" x2="70.10" y2="351.55" stroke="#3a3a3a" stroke-width="0.7" />
<circle cx="37.20" cy="351.55" r="0.65" fill="#222" stroke="none" stroke-width="0.5" />
<circle cx="70.10" cy="351.55" r="0.65" fill="#222" stroke="none" stroke-width="0.5" />
<rect x="48.10" y="350.15" width="8.70" height="2.8" rx="1.0" fill="#fff" stroke="#555" stroke-width="0.6"/>
<line x1="52.40" y1="350.15" x2="52.40" y2="352.95" stroke="#222" stroke-width="0.7" />
<line x1="29.90" y1="356.30" x2="72.30" y2="356.30" stroke="#3a3a3a" stroke-width="0.7" />
<circle cx="29.90" cy="356.30" r="0.65" fill="#222" stroke="none" stroke-width="0.5" />
<circle cx="72.30" cy="356.30" r="0.65" fill="#222" stroke="none" stroke-width="0.5" />
<rect x="45.90" y="354.90" width="11.60" height="2.8" rx="1.0" fill="#fff" stroke="#555" stroke-width="0.6"/>
<line x1="52.30" y1="354.90" x2="52.30" y2="357.70" stroke="#222" stroke-width="0.7" />
<line x1="34.60" y1="361.04" x2="73.60" y2="361.04" stroke="#3a3a3a" stroke-width="0.7" />
<circle cx="34.60" cy="361.04" r="0.65" fill="#222" stroke="none" stroke-width="0.5" />
<circle cx="73.60" cy="361.04" r="0.65" fill="#222" stroke="none" stroke-width="0.5" />
<rect x="49.30" y="359.64" width="10.40" height="2.8" rx="1.0" fill="#fff" stroke="#555" stroke-width="0.6"/>
<line x1="54.50" y1="359.64" x2="54.50" y2="362.44" stroke="#222" stroke-width="0.7" />
<line x1="35.50" y1="365.79" x2="74.10" y2="365.79" stroke="#3a3a3a" stroke-width="0.7" />
<circle cx="35.50" cy="365.79" r="0.65" fill="#222" stroke="none" stroke-width="0.5" />
<circle cx="74.10" cy="365.79" r="0.65" fill="#222" stroke="none" stroke-width="0.5" />
<rect x="49.80" y="364.39" width="10.80" height="2.8" rx="1.0" fill="#fff" stroke="#555" stroke-width="0.6"/>
<line x1="55.00" y1="364.39" x2="55.00" y2="367.19" stroke="#222" stroke-width="0.7" />
<line x1="40.70" y1="370.53" x2="68.90" y2="370.53" stroke="#3a3a3a" stroke-width="0.7" />
<circle cx="40.70" cy="370.53" r="0.65" fill="#222" stroke="none" stroke-width="0.5" />
<circle cx="68.90" cy="370.53" r="0.65" fill="#222" stroke="none" stroke-width="0.5" />
<rect x="51.10" y="369.13" width="8.60" height="2.8" rx="1.0" fill="#fff" stroke="#555" stroke-width="0.6"/>
<line x1="55.00" y1="369.13" x2="55.00" y2="371.93" stroke="#222" stroke-width="0.7" />
<line x1="36.00" y1="375.28" x2="73.60" y2="375.28" stroke="#3a3a3a" stroke-width="0.7" />
<circle cx="36.00" cy="375.28" r="0.65" fill="#222" stroke="none" stroke-width="0.5" />
<circle cx="73.60" cy="375.28" r="0.65" fill="#222" stroke="none" stroke-width="0.5" />
<rect x="50.20" y="373.88" width="11.20" height="2.8" rx="1.0" fill="#fff" stroke="#555" stroke-width="0.6"/>
<line x1="55.70" y1="373.88" x2="55.70" y2="376.68" stroke="#222" stroke-width="0.7" />
<line x1="34.60" y1="380.02" x2="72.70" y2="380.02" stroke="#3a3a3a" stroke-width="0.7" />
<circle cx="34.60" cy="380.02" r="0.65" fill="#222" stroke="none" stroke-width="0.5" />
<circle cx="72.70" cy="380.02" r="0.65" fill="#222" stroke="none" stroke-width="0.5" />
<rect x="51.40" y="378.62" width="12.30" height="2.8" rx="1.0" fill="#fff" stroke="#555" stroke-width="0.6"/>
<line x1="58.00" y1="378.62" x2="58.00" y2="381.42" stroke="#222" stroke-width="0.7" />
<line x1="38.40" y1="384.77" x2="77.90" y2="384.77" stroke="#3a3a3a" stroke-width="0.7" />
<circle cx="38.40" cy="384.77" r="0.65" fill="#222" stroke="none" stroke-width="0.5" />
<circle cx="77.90" cy="384.77" r="0.65" fill="#222" stroke="none" stroke-width="0.5" />
<rect x="51.60" y="383.37" width="12.10" height="2.8" rx="1.0" fill="#fff" stroke="#555" stroke-width="0.6"/>
<line x1="57.10" y1="383.37" x2="57.10" y2="386.17" stroke="#222" stroke-width="0.7" />
<line x1="41.50" y1="389.51" x2="73.60" y2="389.51" stroke="#3a3a3a" stroke-width="0.7" />
<circle cx="41.50" cy="389.51" r="0.65" fill="#222" stroke="none" stroke-width="0.5" />
<circle cx="73.60" cy="389.51" r="0.65" fill="#222" stroke="none" stroke-width="0.5" />
<rect x="54.00" y="388.12" width="9.70" height="2.8" rx="1.0" fill="#fff" stroke="#555" stroke-width="0.6"/>
<line x1="59.20" y1="388.12" x2="59.20" y2="390.91" stroke="#222" stroke-width="0.7" />
<line x1="45.30" y1="394.26" x2="74.40" y2="394.26" stroke="#3a3a3a" stroke-width="0.7" />
<circle cx="45.30" cy="394.26" r="0.65" fill="#222" stroke="none" stroke-width="0.5" />
<circle cx="74.40" cy="394.26" r="0.65" fill="#222" stroke="none" stroke-width="0.5" />
<rect x="55.70" y="392.86" width="8.30" height="2.8" rx="1.0" fill="#fff" stroke="#555" stroke-width="0.6"/>
<line x1="60.20" y1="392.86" x2="60.20" y2="395.66" stroke="#222" stroke-width="0.7" />
<text x="3.80" y="404.20" font-size="5.8" text-anchor="middle" fill="#222" stroke="#222" stroke-width="0.18" >0</text>
<text x="19.82" y="404.20" font-size="5.8" text-anchor="middle" fill="#222" stroke="#222" stroke-width="0.18" >3</text>
<text x="35.84" y="404.20" font-size="5.8" text-anchor="middle" fill="#222" stroke="#222" stroke-width="0.18" >6</text>
<text x="51.86" y="404.20" font-size="5.8" text-anchor="middle" fill="#222" stroke="#222" stroke-width="0.18" >9</text>
<text x="67.88" y="404.20" font-size="5.8" text-anchor="middle" fill="#222" stroke="#222" stroke-width="0.18" >12</text>
<text x="83.90" y="404.20" font-size="5.8" text-anchor="middle" fill="#222" stroke="#222" stroke-width="0.18" >15</text>
<text x="0.9" y="412.6" font-size="6.55" fill="#222" stroke="#222" stroke-width="0.18">CD45 Expression (log<tspan font-size="4.4" dy="1.4">2</tspan><tspan dy="-1.4"> RSEM)</tspan></text>
<line x1="147.50" y1="255.60" x2="147.50" y2="396.50" stroke="#d4d4d4" stroke-width="0.5" />
<line x1="182.70" y1="255.60" x2="182.70" y2="396.50" stroke="#d4d4d4" stroke-width="0.5" />
<line x1="217.90" y1="255.60" x2="217.90" y2="396.50" stroke="#d4d4d4" stroke-width="0.5" />
<line x1="253.10" y1="255.60" x2="253.10" y2="396.50" stroke="#d4d4d4" stroke-width="0.5" />
<rect x="112.3" y="259.3" width="30.95" height="3.4" fill="#0b2c5e"/>
<rect x="143.2" y="259.3" width="24.25" height="3.4" fill="#4393c3"/>
<rect x="167.4" y="259.3" width="35.65" height="3.4" fill="#d1e5f0"/>
<rect x="203" y="259.3" width="48.25" height="3.4" fill="#fddbc7"/>
<rect x="251.2" y="259.3" width="17.65" height="3.4" fill="#d6604d"/>
<rect x="268.8" y="259.3" width="19.55" height="3.4" fill="#67001f"/>
<text transform="translate(110.00,262.50) scale(0.93,1)" font-size="5.95" text-anchor="end" fill="#333" stroke="#333" stroke-width="0.18" >UVM</text>
<rect x="112.3" y="264.09" width="31.75" height="3.4" fill="#0b2c5e"/>
<rect x="144" y="264.09" width="20.55" height="3.4" fill="#4393c3"/>
<rect x="164.5" y="264.09" width="43.25" height="3.4" fill="#d1e5f0"/>
<rect x="207.7" y="264.09" width="29.35" height="3.4" fill="#fddbc7"/>
<rect x="237" y="264.09" width="29.55" height="3.4" fill="#d6604d"/>
<rect x="266.5" y="264.09" width="21.85" height="3.4" fill="#67001f"/>
<text transform="translate(110.00,267.29) scale(0.93,1)" font-size="5.95" text-anchor="end" fill="#333" stroke="#333" stroke-width="0.18" >ACC</text>
<rect x="112.3" y="268.88" width="18.45" height="3.4" fill="#0b2c5e"/>
<rect x="130.7" y="268.88" width="37.25" height="3.4" fill="#4393c3"/>
<rect x="167.9" y="268.88" width="24.45" height="3.4" fill="#d1e5f0"/>
<rect x="192.3" y="268.88" width="50.65" height="3.4" fill="#fddbc7"/>
<rect x="242.9" y="268.88" width="30.45" height="3.4" fill="#d6604d"/>
<rect x="273.3" y="268.88" width="15.05" height="3.4" fill="#67001f"/>
<text transform="translate(110.00,272.08) scale(0.93,1)" font-size="5.95" text-anchor="end" fill="#333" stroke="#333" stroke-width="0.18" >UCS</text>
<rect x="112.3" y="273.67" width="27.45" height="3.4" fill="#0b2c5e"/>
<rect x="139.7" y="273.67" width="34.85" height="3.4" fill="#4393c3"/>
<rect x="174.5" y="273.67" width="23.25" height="3.4" fill="#d1e5f0"/>
<rect x="197.7" y="273.67" width="35.05" height="3.4" fill="#fddbc7"/>
<rect x="232.7" y="273.67" width="14.15" height="3.4" fill="#d6604d"/>
<rect x="246.8" y="273.67" width="41.55" height="3.4" fill="#67001f"/>
<text transform="translate(110.00,276.87) scale(0.93,1)" font-size="5.95" text-anchor="end" fill="#333" stroke="#333" stroke-width="0.18" >PCPG</text>
<rect x="112.3" y="278.46" width="39.55" height="3.4" fill="#0b2c5e"/>
<rect x="151.8" y="278.46" width="35.45" height="3.4" fill="#4393c3"/>
<rect x="187.2" y="278.46" width="15.85" height="3.4" fill="#d1e5f0"/>
<rect x="203" y="278.46" width="28.25" height="3.4" fill="#fddbc7"/>
<rect x="231.2" y="278.46" width="36.85" height="3.4" fill="#d6604d"/>
<rect x="268" y="278.46" width="20.35" height="3.4" fill="#67001f"/>
<text transform="translate(110.00,281.66) scale(0.93,1)" font-size="5.95" text-anchor="end" fill="#333" stroke="#333" stroke-width="0.18" >UCEC</text>
<rect x="112.3" y="283.25" width="47.65" height="3.4" fill="#0b2c5e"/>
<rect x="159.9" y="283.25" width="27.55" height="3.4" fill="#4393c3"/>
<rect x="187.4" y="283.25" width="16.45" height="3.4" fill="#d1e5f0"/>
<rect x="203.8" y="283.25" width="27.45" height="3.4" fill="#fddbc7"/>
<rect x="231.2" y="283.25" width="31.35" height="3.4" fill="#d6604d"/>
<rect x="262.5" y="283.25" width="25.85" height="3.4" fill="#67001f"/>
<text transform="translate(110.00,286.45) scale(0.93,1)" font-size="5.95" text-anchor="end" fill="#333" stroke="#333" stroke-width="0.18" >LIHC</text>
<rect x="112.3" y="288.04" width="52.35" height="3.4" fill="#0b2c5e"/>
<rect x="164.6" y="288.04" width="15.45" height="3.4" fill="#4393c3"/>
<rect x="180" y="288.04" width="31.55" height="3.4" fill="#d1e5f0"/>
<rect x="211.5" y="288.04" width="16.75" height="3.4" fill="#fddbc7"/>
<rect x="228.2" y="288.04" width="26.15" height="3.4" fill="#d6604d"/>
<rect x="254.3" y="288.04" width="34.05" height="3.4" fill="#67001f"/>
<text transform="translate(110.00,291.24) scale(0.93,1)" font-size="5.95" text-anchor="end" fill="#333" stroke="#333" stroke-width="0.18" >BLCA</text>
<rect x="112.3" y="292.83" width="31.95" height="3.4" fill="#0b2c5e"/>
<rect x="144.2" y="292.83" width="48.85" height="3.4" fill="#4393c3"/>
<rect x="193" y="292.83" width="17.85" height="3.4" fill="#d1e5f0"/>
<rect x="210.8" y="292.83" width="20.45" height="3.4" fill="#fddbc7"/>
<rect x="231.2" y="292.83" width="42.75" height="3.4" fill="#d6604d"/>
<rect x="273.9" y="292.83" width="14.45" height="3.4" fill="#67001f"/>
<text transform="translate(110.00,296.03) scale(0.93,1)" font-size="5.95" text-anchor="end" fill="#333" stroke="#333" stroke-width="0.18" >PRAD</text>
<rect x="112.3" y="297.62" width="37.05" height="3.4" fill="#0b2c5e"/>
<rect x="149.3" y="297.62" width="48.45" height="3.4" fill="#4393c3"/>
<rect x="197.7" y="297.62" width="14.65" height="3.4" fill="#d1e5f0"/>
<rect x="212.3" y="297.62" width="19.85" height="3.4" fill="#fddbc7"/>
<rect x="232.1" y="297.62" width="42.65" height="3.4" fill="#d6604d"/>
<rect x="274.7" y="297.62" width="13.65" height="3.4" fill="#67001f"/>
<text transform="translate(110.00,300.82) scale(0.93,1)" font-size="5.95" text-anchor="end" fill="#333" stroke="#333" stroke-width="0.18" >LGG</text>
<rect x="112.3" y="302.41" width="24.55" height="3.4" fill="#0b2c5e"/>
<rect x="136.8" y="302.41" width="18.95" height="3.4" fill="#4393c3"/>
<rect x="155.7" y="302.41" width="34.35" height="3.4" fill="#d1e5f0"/>
<rect x="190" y="302.41" width="34.35" height="3.4" fill="#fddbc7"/>
<rect x="224.3" y="302.41" width="26.55" height="3.4" fill="#d6604d"/>
<rect x="250.8" y="302.41" width="37.55" height="3.4" fill="#67001f"/>
<text transform="translate(110.00,305.61) scale(0.93,1)" font-size="5.95" text-anchor="end" fill="#333" stroke="#333" stroke-width="0.18" >KICH</text>
<rect x="112.3" y="307.2" width="39.95" height="3.4" fill="#0b2c5e"/>
<rect x="152.2" y="307.2" width="27.55" height="3.4" fill="#4393c3"/>
<rect x="179.7" y="307.2" width="21.85" height="3.4" fill="#d1e5f0"/>
<rect x="201.5" y="307.2" width="27.75" height="3.4" fill="#fddbc7"/>
<rect x="229.2" y="307.2" width="32.95" height="3.4" fill="#d6604d"/>
<rect x="262.1" y="307.2" width="26.25" height="3.4" fill="#67001f"/>
<text transform="translate(110.00,310.40) scale(0.93,1)" font-size="5.95" text-anchor="end" fill="#333" stroke="#333" stroke-width="0.18" >THCA</text>
<rect x="112.3" y="311.99" width="35.15" height="3.4" fill="#0b2c5e"/>
<rect x="147.4" y="311.99" width="44.15" height="3.4" fill="#4393c3"/>
<rect x="191.5" y="311.99" width="13.15" height="3.4" fill="#d1e5f0"/>
<rect x="204.6" y="311.99" width="38.75" height="3.4" fill="#fddbc7"/>
<rect x="243.3" y="311.99" width="9.45" height="3.4" fill="#d6604d"/>
<rect x="252.7" y="311.99" width="35.65" height="3.4" fill="#67001f"/>
<text transform="translate(110.00,315.19) scale(0.93,1)" font-size="5.95" text-anchor="end" fill="#333" stroke="#333" stroke-width="0.18" >COREAD</text>
<rect x="112.3" y="316.78" width="24.55" height="3.4" fill="#0b2c5e"/>
<rect x="136.8" y="316.78" width="37.85" height="3.4" fill="#4393c3"/>
<rect x="174.6" y="316.78" width="19.25" height="3.4" fill="#d1e5f0"/>
<rect x="193.8" y="316.78" width="35.85" height="3.4" fill="#fddbc7"/>
<rect x="229.6" y="316.78" width="30.65" height="3.4" fill="#d6604d"/>
<rect x="260.2" y="316.78" width="28.15" height="3.4" fill="#67001f"/>
<text transform="translate(110.00,319.98) scale(0.93,1)" font-size="5.95" text-anchor="end" fill="#333" stroke="#333" stroke-width="0.18" >OV</text>
<rect x="112.3" y="321.57" width="48.65" height="3.4" fill="#0b2c5e"/>
<rect x="160.9" y="321.57" width="14.65" height="3.4" fill="#4393c3"/>
<rect x="175.5" y="321.57" width="23.05" height="3.4" fill="#d1e5f0"/>
<rect x="198.5" y="321.57" width="31.75" height="3.4" fill="#fddbc7"/>
<rect x="230.2" y="321.57" width="24.55" height="3.4" fill="#d6604d"/>
<rect x="254.7" y="321.57" width="33.65" height="3.4" fill="#67001f"/>
<text transform="translate(110.00,324.77) scale(0.93,1)" font-size="5.95" text-anchor="end" fill="#333" stroke="#333" stroke-width="0.18" >CHOL</text>
<rect x="112.3" y="326.36" width="30.95" height="3.4" fill="#0b2c5e"/>
<rect x="143.2" y="326.36" width="19.25" height="3.4" fill="#4393c3"/>
<rect x="162.4" y="326.36" width="20.65" height="3.4" fill="#d1e5f0"/>
<rect x="183" y="326.36" width="42.35" height="3.4" fill="#fddbc7"/>
<rect x="225.3" y="326.36" width="28.45" height="3.4" fill="#d6604d"/>
<rect x="253.7" y="326.36" width="34.65" height="3.4" fill="#67001f"/>
<text transform="translate(110.00,329.56) scale(0.93,1)" font-size="5.95" text-anchor="end" fill="#333" stroke="#333" stroke-width="0.18" >KIRP</text>
<rect x="112.3" y="331.15" width="45.35" height="3.4" fill="#0b2c5e"/>
<rect x="157.6" y="331.15" width="21.25" height="3.4" fill="#4393c3"/>
<rect x="178.8" y="331.15" width="21.25" height="3.4" fill="#d1e5f0"/>
<rect x="200" y="331.15" width="29.25" height="3.4" fill="#fddbc7"/>
<rect x="229.2" y="331.15" width="28.45" height="3.4" fill="#d6604d"/>
<rect x="257.6" y="331.15" width="30.75" height="3.4" fill="#67001f"/>
<text transform="translate(110.00,334.35) scale(0.93,1)" font-size="5.95" text-anchor="end" fill="#333" stroke="#333" stroke-width="0.18" >SARC</text>
<rect x="112.3" y="335.94" width="52.45" height="3.4" fill="#0b2c5e"/>
<rect x="164.7" y="335.94" width="46.45" height="3.4" fill="#4393c3"/>
<rect x="211.1" y="335.94" width="16.95" height="3.4" fill="#d1e5f0"/>
<rect x="228" y="335.94" width="24.35" height="3.4" fill="#fddbc7"/>
<rect x="252.3" y="335.94" width="13.25" height="3.4" fill="#d6604d"/>
<rect x="265.5" y="335.94" width="22.85" height="3.4" fill="#67001f"/>
<text transform="translate(110.00,339.14) scale(0.93,1)" font-size="5.95" text-anchor="end" fill="#333" stroke="#333" stroke-width="0.18" >SKCM</text>
<rect x="112.3" y="340.73" width="40.95" height="3.4" fill="#0b2c5e"/>
<rect x="153.2" y="340.73" width="19.25" height="3.4" fill="#4393c3"/>
<rect x="172.4" y="340.73" width="22.65" height="3.4" fill="#d1e5f0"/>
<rect x="195" y="340.73" width="25.45" height="3.4" fill="#fddbc7"/>
<rect x="220.4" y="340.73" width="50.05" height="3.4" fill="#d6604d"/>
<rect x="270.4" y="340.73" width="17.95" height="3.4" fill="#67001f"/>
<text transform="translate(110.00,343.93) scale(0.93,1)" font-size="5.95" text-anchor="end" fill="#333" stroke="#333" stroke-width="0.18" >CESC</text>
<rect x="112.3" y="345.52" width="39.95" height="3.4" fill="#0b2c5e"/>
<rect x="152.2" y="345.52" width="11.65" height="3.4" fill="#4393c3"/>
<rect x="163.8" y="345.52" width="36.25" height="3.4" fill="#d1e5f0"/>
<rect x="200" y="345.52" width="37.05" height="3.4" fill="#fddbc7"/>
<rect x="237" y="345.52" width="12.85" height="3.4" fill="#d6604d"/>
<rect x="249.8" y="345.52" width="38.55" height="3.4" fill="#67001f"/>
<text transform="translate(110.00,348.72) scale(0.93,1)" font-size="5.95" text-anchor="end" fill="#333" stroke="#333" stroke-width="0.18" >HNSC</text>
<rect x="112.3" y="350.31" width="42.25" height="3.4" fill="#0b2c5e"/>
<rect x="154.5" y="350.31" width="28.95" height="3.4" fill="#4393c3"/>
<rect x="183.4" y="350.31" width="16.65" height="3.4" fill="#d1e5f0"/>
<rect x="200" y="350.31" width="21.75" height="3.4" fill="#fddbc7"/>
<rect x="221.7" y="350.31" width="47.75" height="3.4" fill="#d6604d"/>
<rect x="269.4" y="350.31" width="18.95" height="3.4" fill="#67001f"/>
<text transform="translate(110.00,353.51) scale(0.93,1)" font-size="5.95" text-anchor="end" fill="#333" stroke="#333" stroke-width="0.18" >GBM</text>
<rect x="112.3" y="355.1" width="33.85" height="3.4" fill="#0b2c5e"/>
<rect x="146.1" y="355.1" width="37.55" height="3.4" fill="#4393c3"/>
<rect x="183.6" y="355.1" width="31.45" height="3.4" fill="#d1e5f0"/>
<rect x="215" y="355.1" width="35.85" height="3.4" fill="#fddbc7"/>
<rect x="250.8" y="355.1" width="29.45" height="3.4" fill="#d6604d"/>
<rect x="280.2" y="355.1" width="8.15" height="3.4" fill="#67001f"/>
<text transform="translate(110.00,358.30) scale(0.93,1)" font-size="5.95" text-anchor="end" fill="#333" stroke="#333" stroke-width="0.18" >ESCA</text>
<rect x="112.3" y="359.89" width="50.15" height="3.4" fill="#0b2c5e"/>
<rect x="162.4" y="359.89" width="29.55" height="3.4" fill="#4393c3"/>
<rect x="191.9" y="359.89" width="23.15" height="3.4" fill="#d1e5f0"/>
<rect x="215" y="359.89" width="33.45" height="3.4" fill="#fddbc7"/>
<rect x="248.4" y="359.89" width="19.05" height="3.4" fill="#d6604d"/>
<rect x="267.4" y="359.89" width="20.95" height="3.4" fill="#67001f"/>
<text transform="translate(110.00,363.09) scale(0.93,1)" font-size="5.95" text-anchor="end" fill="#333" stroke="#333" stroke-width="0.18" >BRCA</text>
<rect x="112.3" y="364.68" width="41.95" height="3.4" fill="#0b2c5e"/>
<rect x="154.2" y="364.68" width="24.65" height="3.4" fill="#4393c3"/>
<rect x="178.8" y="364.68" width="19.25" height="3.4" fill="#d1e5f0"/>
<rect x="198" y="364.68" width="17.55" height="3.4" fill="#fddbc7"/>
<rect x="215.5" y="364.68" width="47.45" height="3.4" fill="#d6604d"/>
<rect x="262.9" y="364.68" width="25.45" height="3.4" fill="#67001f"/>
<text transform="translate(110.00,367.88) scale(0.93,1)" font-size="5.95" text-anchor="end" fill="#333" stroke="#333" stroke-width="0.18" >PAAD</text>
<rect x="112.3" y="369.47" width="32.65" height="3.4" fill="#0b2c5e"/>
<rect x="144.9" y="369.47" width="36.15" height="3.4" fill="#4393c3"/>
<rect x="181" y="369.47" width="24.05" height="3.4" fill="#d1e5f0"/>
<rect x="205" y="369.47" width="35.05" height="3.4" fill="#fddbc7"/>
<rect x="240" y="369.47" width="24.55" height="3.4" fill="#d6604d"/>
<rect x="264.5" y="369.47" width="23.85" height="3.4" fill="#67001f"/>
<text transform="translate(110.00,372.67) scale(0.93,1)" font-size="5.95" text-anchor="end" fill="#333" stroke="#333" stroke-width="0.18" >MESO</text>
<rect x="112.3" y="374.26" width="32.65" height="3.4" fill="#0b2c5e"/>
<rect x="144.9" y="374.26" width="29.45" height="3.4" fill="#4393c3"/>
<rect x="174.3" y="374.26" width="20.75" height="3.4" fill="#d1e5f0"/>
<rect x="195" y="374.26" width="29.35" height="3.4" fill="#fddbc7"/>
<rect x="224.3" y="374.26" width="13.75" height="3.4" fill="#d6604d"/>
<rect x="238" y="374.26" width="50.35" height="3.4" fill="#67001f"/>
<text transform="translate(110.00,377.46) scale(0.93,1)" font-size="5.95" text-anchor="end" fill="#333" stroke="#333" stroke-width="0.18" >LUSC</text>
<rect x="112.3" y="379.05" width="31.75" height="3.4" fill="#0b2c5e"/>
<rect x="144" y="379.05" width="36.15" height="3.4" fill="#4393c3"/>
<rect x="180.1" y="379.05" width="19.95" height="3.4" fill="#d1e5f0"/>
<rect x="200" y="379.05" width="18.45" height="3.4" fill="#fddbc7"/>
<rect x="218.4" y="379.05" width="33.45" height="3.4" fill="#d6604d"/>
<rect x="251.8" y="379.05" width="36.55" height="3.4" fill="#67001f"/>
<text transform="translate(110.00,382.25) scale(0.93,1)" font-size="5.95" text-anchor="end" fill="#333" stroke="#333" stroke-width="0.18" >BRCA-TN</text>
<rect x="112.3" y="383.84" width="33.85" height="3.4" fill="#0b2c5e"/>
<rect x="146.1" y="383.84" width="34.05" height="3.4" fill="#4393c3"/>
<rect x="180.1" y="383.84" width="17.95" height="3.4" fill="#d1e5f0"/>
<rect x="198" y="383.84" width="18.45" height="3.4" fill="#fddbc7"/>
<rect x="216.4" y="383.84" width="34.05" height="3.4" fill="#d6604d"/>
<rect x="250.4" y="383.84" width="37.95" height="3.4" fill="#67001f"/>
<text transform="translate(110.00,387.04) scale(0.93,1)" font-size="5.95" text-anchor="end" fill="#333" stroke="#333" stroke-width="0.18" >STAD</text>
<rect x="112.3" y="388.63" width="39.05" height="3.4" fill="#0b2c5e"/>
<rect x="151.3" y="388.63" width="23.05" height="3.4" fill="#4393c3"/>
<rect x="174.3" y="388.63" width="30.75" height="3.4" fill="#d1e5f0"/>
<rect x="205" y="388.63" width="36.45" height="3.4" fill="#fddbc7"/>
<rect x="241.4" y="388.63" width="23.55" height="3.4" fill="#d6604d"/>
<rect x="264.9" y="388.63" width="23.45" height="3.4" fill="#67001f"/>
<text transform="translate(110.00,391.83) scale(0.93,1)" font-size="5.95" text-anchor="end" fill="#333" stroke="#333" stroke-width="0.18" >LUAD</text>
<rect x="112.3" y="393.42" width="52.85" height="3.4" fill="#0b2c5e"/>
<rect x="165.1" y="393.42" width="18.35" height="3.4" fill="#4393c3"/>
<rect x="183.4" y="393.42" width="21.65" height="3.4" fill="#d1e5f0"/>
<rect x="205" y="393.42" width="18.75" height="3.4" fill="#fddbc7"/>
<rect x="223.7" y="393.42" width="29.45" height="3.4" fill="#d6604d"/>
<rect x="253.1" y="393.42" width="35.25" height="3.4" fill="#67001f"/>
<text transform="translate(110.00,396.62) scale(0.93,1)" font-size="5.95" text-anchor="end" fill="#333" stroke="#333" stroke-width="0.18" >KIRC</text>
<text x="112.30" y="404.20" font-size="5.8" text-anchor="middle" fill="#222" stroke="#222" stroke-width="0.18" >0</text>
<text x="147.50" y="404.20" font-size="5.8" text-anchor="middle" fill="#222" stroke="#222" stroke-width="0.18" >0.2</text>
<text x="182.70" y="404.20" font-size="5.8" text-anchor="middle" fill="#222" stroke="#222" stroke-width="0.18" >0.4</text>
<text x="217.90" y="404.20" font-size="5.8" text-anchor="middle" fill="#222" stroke="#222" stroke-width="0.18" >0.6</text>
<text x="253.10" y="404.20" font-size="5.8" text-anchor="middle" fill="#222" stroke="#222" stroke-width="0.18" >0.8</text>
<text x="288.30" y="404.20" font-size="5.8" text-anchor="middle" fill="#222" stroke="#222" stroke-width="0.18" >1</text>
<text x="195.30" y="413.00" font-size="5.9" text-anchor="middle" fill="#222" stroke="#222" stroke-width="0.18" >Proportion of tumor samples</text>
<rect x="291.2" y="349.6" width="9.5" height="3.8" fill="#0b2c5e" stroke="#bbb" stroke-width="0.3"/>
<text x="303.00" y="353.50" font-size="5.9" text-anchor="start" fill="#222" stroke="#222" stroke-width="0.18" >1</text>
<rect x="291.2" y="357.78" width="9.5" height="3.8" fill="#4393c3" stroke="#bbb" stroke-width="0.3"/>
<text x="303.00" y="361.68" font-size="5.9" text-anchor="start" fill="#222" stroke="#222" stroke-width="0.18" >2</text>
<rect x="291.2" y="365.96" width="9.5" height="3.8" fill="#d1e5f0" stroke="#bbb" stroke-width="0.3"/>
<text x="303.00" y="369.86" font-size="5.9" text-anchor="start" fill="#222" stroke="#222" stroke-width="0.18" >3</text>
<rect x="291.2" y="374.14" width="9.5" height="3.8" fill="#fddbc7" stroke="#bbb" stroke-width="0.3"/>
<text x="303.00" y="378.04" font-size="5.9" text-anchor="start" fill="#222" stroke="#222" stroke-width="0.18" >4</text>
<rect x="291.2" y="382.32" width="9.5" height="3.8" fill="#d6604d" stroke="#bbb" stroke-width="0.3"/>
<text x="303.00" y="386.22" font-size="5.9" text-anchor="start" fill="#222" stroke="#222" stroke-width="0.18" >5</text>
<rect x="291.2" y="390.5" width="9.5" height="3.8" fill="#67001f" stroke="#bbb" stroke-width="0.3"/>
<text x="303.00" y="394.40" font-size="5.9" text-anchor="start" fill="#222" stroke="#222" stroke-width="0.18" >6</text>
<text transform="translate(311.6,372) rotate(-90)" font-size="5.8" text-anchor="middle" fill="#222" stroke="#222" stroke-width="0.18">Immunophenotype</text>
<text transform="translate(351.40,9.80) scale(1.15,1)" font-size="11.3" text-anchor="start" fill="#111" font-weight="bold" >D</text>
<text x="434.90" y="12.30" font-size="5.77" text-anchor="middle" fill="#222" stroke="#222" stroke-width="0.18" >Immunophenotype influence on survival</text>
<rect x="368.9" y="17.8" width="93.8" height="192.4" fill="#cdecdc"/>
<rect x="462.7" y="17.8" width="38.9" height="192.4" fill="#fefbb8"/>
<line x1="389.35" y1="17.80" x2="389.35" y2="210.20" stroke="#eef8f2" stroke-width="0.9" />
<line x1="413.80" y1="17.80" x2="413.80" y2="210.20" stroke="#eef8f2" stroke-width="0.9" />
<line x1="438.25" y1="17.80" x2="438.25" y2="210.20" stroke="#eef8f2" stroke-width="0.9" />
<line x1="462.70" y1="17.80" x2="462.70" y2="210.20" stroke="#333" stroke-width="0.5" stroke-dasharray="1.2,0.9"/>
<text x="370.60" y="23.00" font-size="5.7" text-anchor="start" fill="#1f3a2a" stroke="#1f3a2a" stroke-width="0.18" >Good prognosis</text>
<text x="465.40" y="22.30" font-size="5.7" text-anchor="start" fill="#3a3410" stroke="#3a3410" stroke-width="0.18" >Bad prognosis</text>
<text x="509.6" y="20.0" font-size="5.8" font-style="italic" text-anchor="middle" fill="#222" stroke="#222" stroke-width="0.18">P</text>
<text transform="translate(367.20,26.20) scale(0.92,1)" font-size="5.95" text-anchor="end" fill="#222" stroke="#222" stroke-width="0.18" >UCEC</text>
<line x1="367.40" y1="24.10" x2="369.40" y2="24.10" stroke="#555" stroke-width="0.4" />
<line x1="420.70" y1="24.10" x2="455.70" y2="24.10" stroke="#22332e" stroke-width="0.95" />
<circle cx="437.90" cy="24.10" r="1.20" fill="#0a0a0a" stroke="none" stroke-width="0.5" />
<text x="503.20" y="26.50" font-size="5.75" text-anchor="start" fill="#222" stroke="#222" stroke-width="0.18" >0.005</text>
<text transform="translate(367.20,32.63) scale(0.92,1)" font-size="5.95" text-anchor="end" fill="#222" stroke="#222" stroke-width="0.18" >LGG</text>
<line x1="367.40" y1="30.53" x2="369.40" y2="30.53" stroke="#555" stroke-width="0.4" />
<line x1="464.30" y1="30.53" x2="481.20" y2="30.53" stroke="#22332e" stroke-width="0.95" />
<circle cx="472.60" cy="30.53" r="1.20" fill="#0a0a0a" stroke="none" stroke-width="0.5" />
<text x="503.20" y="32.93" font-size="5.75" text-anchor="start" fill="#222" stroke="#222" stroke-width="0.18" >0.021</text>
<text transform="translate(367.20,39.06) scale(0.92,1)" font-size="5.95" text-anchor="end" fill="#222" stroke="#222" stroke-width="0.18" >ACC</text>
<line x1="367.40" y1="36.96" x2="369.40" y2="36.96" stroke="#555" stroke-width="0.4" />
<line x1="423.90" y1="36.96" x2="461.60" y2="36.96" stroke="#22332e" stroke-width="0.95" />
<circle cx="442.70" cy="36.96" r="1.20" fill="#0a0a0a" stroke="none" stroke-width="0.5" />
<text x="503.20" y="39.36" font-size="5.75" text-anchor="start" fill="#222" stroke="#222" stroke-width="0.18" >0.032</text>
<text transform="translate(367.20,45.49) scale(0.92,1)" font-size="5.95" text-anchor="end" fill="#222" stroke="#222" stroke-width="0.18" >BRCA</text>
<line x1="367.40" y1="43.39" x2="369.40" y2="43.39" stroke="#555" stroke-width="0.4" />
<line x1="442.70" y1="43.39" x2="462.40" y2="43.39" stroke="#22332e" stroke-width="0.95" />
<circle cx="452.70" cy="43.39" r="1.20" fill="#0a0a0a" stroke="none" stroke-width="0.5" />
<text x="503.20" y="45.79" font-size="5.75" text-anchor="start" fill="#222" stroke="#222" stroke-width="0.18" >0.049</text>
<text transform="translate(367.20,51.92) scale(0.92,1)" font-size="5.95" text-anchor="end" fill="#222" stroke="#222" stroke-width="0.18" >LUAD</text>
<line x1="367.40" y1="49.82" x2="369.40" y2="49.82" stroke="#555" stroke-width="0.4" />
<line x1="445.40" y1="49.82" x2="462.90" y2="49.82" stroke="#22332e" stroke-width="0.95" />
<circle cx="454.30" cy="49.82" r="1.20" fill="#0a0a0a" stroke="none" stroke-width="0.5" />
<text x="503.20" y="52.22" font-size="5.75" text-anchor="start" fill="#222" stroke="#222" stroke-width="0.18" >0.051</text>
<text transform="translate(367.20,58.35) scale(0.92,1)" font-size="5.95" text-anchor="end" fill="#222" stroke="#222" stroke-width="0.18" >LIHC</text>
<line x1="367.40" y1="56.25" x2="369.40" y2="56.25" stroke="#555" stroke-width="0.4" />
<line x1="444.90" y1="56.25" x2="463.50" y2="56.25" stroke="#22332e" stroke-width="0.95" />
<circle cx="454.30" cy="56.25" r="1.20" fill="#0a0a0a" stroke="none" stroke-width="0.5" />
<text x="503.20" y="58.65" font-size="5.75" text-anchor="start" fill="#222" stroke="#222" stroke-width="0.18" >0.065</text>
<text transform="translate(367.20,64.78) scale(0.92,1)" font-size="5.95" text-anchor="end" fill="#222" stroke="#222" stroke-width="0.18" >SARC</text>
<line x1="367.40" y1="62.68" x2="369.40" y2="62.68" stroke="#555" stroke-width="0.4" />
<line x1="444.00" y1="62.68" x2="463.70" y2="62.68" stroke="#22332e" stroke-width="0.95" />
<circle cx="454.00" cy="62.68" r="1.20" fill="#0a0a0a" stroke="none" stroke-width="0.5" />
<text x="503.20" y="65.08" font-size="5.75" text-anchor="start" fill="#222" stroke="#222" stroke-width="0.18" >0.080</text>
<text transform="translate(367.20,71.21) scale(0.92,1)" font-size="5.95" text-anchor="end" fill="#222" stroke="#222" stroke-width="0.18" >SKCM</text>
<line x1="367.40" y1="69.11" x2="369.40" y2="69.11" stroke="#555" stroke-width="0.4" />
<line x1="448.10" y1="69.11" x2="463.50" y2="69.11" stroke="#22332e" stroke-width="0.95" />
<circle cx="456.20" cy="69.11" r="1.20" fill="#0a0a0a" stroke="none" stroke-width="0.5" />
<text x="503.20" y="71.51" font-size="5.75" text-anchor="start" fill="#222" stroke="#222" stroke-width="0.18" >0.097</text>
<text transform="translate(367.20,77.64) scale(0.92,1)" font-size="5.95" text-anchor="end" fill="#222" stroke="#222" stroke-width="0.18" >KICH</text>
<line x1="367.40" y1="75.54" x2="369.40" y2="75.54" stroke="#555" stroke-width="0.4" />
<line x1="401.80" y1="75.54" x2="468.30" y2="75.54" stroke="#22332e" stroke-width="0.95" />
<circle cx="435.50" cy="75.54" r="1.20" fill="#0a0a0a" stroke="none" stroke-width="0.5" />
<text x="503.20" y="77.94" font-size="5.75" text-anchor="start" fill="#222" stroke="#222" stroke-width="0.18" >0.101</text>
<text transform="translate(367.20,84.07) scale(0.92,1)" font-size="5.95" text-anchor="end" fill="#222" stroke="#222" stroke-width="0.18" >PCPG</text>
<line x1="367.40" y1="81.97" x2="369.40" y2="81.97" stroke="#555" stroke-width="0.4" />
<line x1="375.40" y1="81.97" x2="474.00" y2="81.97" stroke="#22332e" stroke-width="0.95" />
<circle cx="424.70" cy="81.97" r="1.20" fill="#0a0a0a" stroke="none" stroke-width="0.5" />
<text x="503.20" y="84.37" font-size="5.75" text-anchor="start" fill="#222" stroke="#222" stroke-width="0.18" >0.129</text>
<text transform="translate(367.20,90.50) scale(0.92,1)" font-size="5.95" text-anchor="end" fill="#222" stroke="#222" stroke-width="0.18" >CHOL</text>
<line x1="367.40" y1="88.40" x2="369.40" y2="88.40" stroke="#555" stroke-width="0.4" />
<line x1="418.00" y1="88.40" x2="469.10" y2="88.40" stroke="#22332e" stroke-width="0.95" />
<circle cx="444.10" cy="88.40" r="1.20" fill="#0a0a0a" stroke="none" stroke-width="0.5" />
<text x="503.20" y="90.80" font-size="5.75" text-anchor="start" fill="#222" stroke="#222" stroke-width="0.18" >0.144</text>
<text transform="translate(367.20,96.93) scale(0.92,1)" font-size="5.95" text-anchor="end" fill="#222" stroke="#222" stroke-width="0.18" >BRCA-TN</text>
<line x1="367.40" y1="94.83" x2="369.40" y2="94.83" stroke="#555" stroke-width="0.4" />
<line x1="432.00" y1="94.83" x2="468.30" y2="94.83" stroke="#22332e" stroke-width="0.95" />
<circle cx="450.30" cy="94.83" r="1.20" fill="#0a0a0a" stroke="none" stroke-width="0.5" />
<text x="503.20" y="97.23" font-size="5.75" text-anchor="start" fill="#222" stroke="#222" stroke-width="0.18" >0.175</text>
<text transform="translate(367.20,103.36) scale(0.92,1)" font-size="5.95" text-anchor="end" fill="#222" stroke="#222" stroke-width="0.18" >BLCA</text>
<line x1="367.40" y1="101.26" x2="369.40" y2="101.26" stroke="#555" stroke-width="0.4" />
<line x1="450.30" y1="101.26" x2="465.60" y2="101.26" stroke="#22332e" stroke-width="0.95" />
<circle cx="458.10" cy="101.26" r="1.20" fill="#0a0a0a" stroke="none" stroke-width="0.5" />
<text x="503.20" y="103.66" font-size="5.75" text-anchor="start" fill="#222" stroke="#222" stroke-width="0.18" >0.231</text>
<text transform="translate(367.20,109.79) scale(0.92,1)" font-size="5.95" text-anchor="end" fill="#222" stroke="#222" stroke-width="0.18" >CESC</text>
<line x1="367.40" y1="107.69" x2="369.40" y2="107.69" stroke="#555" stroke-width="0.4" />
<line x1="446.00" y1="107.69" x2="467.00" y2="107.69" stroke="#22332e" stroke-width="0.95" />
<circle cx="456.50" cy="107.69" r="1.20" fill="#0a0a0a" stroke="none" stroke-width="0.5" />
<text x="503.20" y="110.09" font-size="5.75" text-anchor="start" fill="#222" stroke="#222" stroke-width="0.18" >0.239</text>
<text transform="translate(367.20,116.22) scale(0.92,1)" font-size="5.95" text-anchor="end" fill="#222" stroke="#222" stroke-width="0.18" >MESO</text>
<line x1="367.40" y1="114.12" x2="369.40" y2="114.12" stroke="#555" stroke-width="0.4" />
<line x1="444.00" y1="114.12" x2="469.10" y2="114.12" stroke="#22332e" stroke-width="0.95" />
<circle cx="456.50" cy="114.12" r="1.20" fill="#0a0a0a" stroke="none" stroke-width="0.5" />
<text x="503.20" y="116.52" font-size="5.75" text-anchor="start" fill="#222" stroke="#222" stroke-width="0.18" >0.324</text>
<text transform="translate(367.20,122.65) scale(0.92,1)" font-size="5.95" text-anchor="end" fill="#222" stroke="#222" stroke-width="0.18" >COREAD</text>
<line x1="367.40" y1="120.55" x2="369.40" y2="120.55" stroke="#555" stroke-width="0.4" />
<line x1="442.70" y1="120.55" x2="471.00" y2="120.55" stroke="#22332e" stroke-width="0.95" />
<circle cx="457.00" cy="120.55" r="1.20" fill="#0a0a0a" stroke="none" stroke-width="0.5" />
<text x="503.20" y="122.95" font-size="5.75" text-anchor="start" fill="#222" stroke="#222" stroke-width="0.18" >0.423</text>
<text transform="translate(367.20,129.08) scale(0.92,1)" font-size="5.95" text-anchor="end" fill="#222" stroke="#222" stroke-width="0.18" >OV</text>
<line x1="367.40" y1="126.98" x2="369.40" y2="126.98" stroke="#555" stroke-width="0.4" />
<line x1="453.80" y1="126.98" x2="467.80" y2="126.98" stroke="#22332e" stroke-width="0.95" />
<circle cx="460.80" cy="126.98" r="1.20" fill="#0a0a0a" stroke="none" stroke-width="0.5" />
<text x="503.20" y="129.38" font-size="5.75" text-anchor="start" fill="#222" stroke="#222" stroke-width="0.18" >0.564</text>
<text transform="translate(367.20,135.51) scale(0.92,1)" font-size="5.95" text-anchor="end" fill="#222" stroke="#222" stroke-width="0.18" >HNSC</text>
<line x1="367.40" y1="133.41" x2="369.40" y2="133.41" stroke="#555" stroke-width="0.4" />
<line x1="453.50" y1="133.41" x2="467.80" y2="133.41" stroke="#22332e" stroke-width="0.95" />
<circle cx="460.80" cy="133.41" r="1.20" fill="#0a0a0a" stroke="none" stroke-width="0.5" />
<text x="503.20" y="135.81" font-size="5.75" text-anchor="start" fill="#222" stroke="#222" stroke-width="0.18" >0.606</text>
<text transform="translate(367.20,141.94) scale(0.92,1)" font-size="5.95" text-anchor="end" fill="#222" stroke="#222" stroke-width="0.18" >LUSC</text>
<line x1="367.40" y1="139.84" x2="369.40" y2="139.84" stroke="#555" stroke-width="0.4" />
<line x1="453.80" y1="139.84" x2="467.80" y2="139.84" stroke="#22332e" stroke-width="0.95" />
<circle cx="460.80" cy="139.84" r="1.20" fill="#0a0a0a" stroke="none" stroke-width="0.5" />
<text x="503.20" y="142.24" font-size="5.75" text-anchor="start" fill="#222" stroke="#222" stroke-width="0.18" >0.634</text>
<text transform="translate(367.20,148.37) scale(0.92,1)" font-size="5.95" text-anchor="end" fill="#222" stroke="#222" stroke-width="0.18" >PRAD</text>
<line x1="367.40" y1="146.27" x2="369.40" y2="146.27" stroke="#555" stroke-width="0.4" />
<line x1="423.90" y1="146.27" x2="486.60" y2="146.27" stroke="#22332e" stroke-width="0.95" />
<circle cx="455.40" cy="146.27" r="1.20" fill="#0a0a0a" stroke="none" stroke-width="0.5" />
<text x="503.20" y="148.67" font-size="5.75" text-anchor="start" fill="#222" stroke="#222" stroke-width="0.18" >0.653</text>
<text transform="translate(367.20,154.80) scale(0.92,1)" font-size="5.95" text-anchor="end" fill="#222" stroke="#222" stroke-width="0.18" >UVM</text>
<line x1="367.40" y1="152.70" x2="369.40" y2="152.70" stroke="#555" stroke-width="0.4" />
<line x1="440.00" y1="152.70" x2="496.00" y2="152.70" stroke="#22332e" stroke-width="0.95" />
<circle cx="467.80" cy="152.70" r="1.20" fill="#0a0a0a" stroke="none" stroke-width="0.5" />
<text x="503.20" y="155.10" font-size="5.75" text-anchor="start" fill="#222" stroke="#222" stroke-width="0.18" >0.706</text>
<text transform="translate(367.20,161.23) scale(0.92,1)" font-size="5.95" text-anchor="end" fill="#222" stroke="#222" stroke-width="0.18" >STAD</text>
<line x1="367.40" y1="159.13" x2="369.40" y2="159.13" stroke="#555" stroke-width="0.4" />
<line x1="454.90" y1="159.13" x2="473.70" y2="159.13" stroke="#22332e" stroke-width="0.95" />
<circle cx="463.70" cy="159.13" r="1.20" fill="#0a0a0a" stroke="none" stroke-width="0.5" />
<text x="503.20" y="161.53" font-size="5.75" text-anchor="start" fill="#222" stroke="#222" stroke-width="0.18" >0.768</text>
<text transform="translate(367.20,167.66) scale(0.92,1)" font-size="5.95" text-anchor="end" fill="#222" stroke="#222" stroke-width="0.18" >GBM</text>
<line x1="367.40" y1="165.56" x2="369.40" y2="165.56" stroke="#555" stroke-width="0.4" />
<line x1="455.70" y1="165.56" x2="471.80" y2="165.56" stroke="#22332e" stroke-width="0.95" />
<circle cx="463.70" cy="165.56" r="1.20" fill="#0a0a0a" stroke="none" stroke-width="0.5" />
<text x="503.20" y="167.96" font-size="5.75" text-anchor="start" fill="#222" stroke="#222" stroke-width="0.18" >0.795</text>
<text transform="translate(367.20,174.09) scale(0.92,1)" font-size="5.95" text-anchor="end" fill="#222" stroke="#222" stroke-width="0.18" >ESCA</text>
<line x1="367.40" y1="171.99" x2="369.40" y2="171.99" stroke="#555" stroke-width="0.4" />
<line x1="452.20" y1="171.99" x2="475.90" y2="171.99" stroke="#22332e" stroke-width="0.95" />
<circle cx="463.70" cy="171.99" r="1.20" fill="#0a0a0a" stroke="none" stroke-width="0.5" />
<text x="503.20" y="174.39" font-size="5.75" text-anchor="start" fill="#222" stroke="#222" stroke-width="0.18" >0.828</text>
<text transform="translate(367.20,180.52) scale(0.92,1)" font-size="5.95" text-anchor="end" fill="#222" stroke="#222" stroke-width="0.18" >KIRC</text>
<line x1="367.40" y1="178.42" x2="369.40" y2="178.42" stroke="#555" stroke-width="0.4" />
<line x1="456.20" y1="178.42" x2="469.10" y2="178.42" stroke="#22332e" stroke-width="0.95" />
<circle cx="462.40" cy="178.42" r="1.20" fill="#0a0a0a" stroke="none" stroke-width="0.5" />
<text x="503.20" y="180.82" font-size="5.75" text-anchor="start" fill="#222" stroke="#222" stroke-width="0.18" >0.865</text>
<text transform="translate(367.20,186.95) scale(0.92,1)" font-size="5.95" text-anchor="end" fill="#222" stroke="#222" stroke-width="0.18" >KIRP</text>
<line x1="367.40" y1="184.85" x2="369.40" y2="184.85" stroke="#555" stroke-width="0.4" />
<line x1="448.10" y1="184.85" x2="479.10" y2="184.85" stroke="#22332e" stroke-width="0.95" />
<circle cx="463.50" cy="184.85" r="1.20" fill="#0a0a0a" stroke="none" stroke-width="0.5" />
<text x="503.20" y="187.25" font-size="5.75" text-anchor="start" fill="#222" stroke="#222" stroke-width="0.18" >0.894</text>
<text transform="translate(367.20,193.38) scale(0.92,1)" font-size="5.95" text-anchor="end" fill="#222" stroke="#222" stroke-width="0.18" >THCA</text>
<line x1="367.40" y1="191.28" x2="369.40" y2="191.28" stroke="#555" stroke-width="0.4" />
<line x1="442.20" y1="191.28" x2="484.50" y2="191.28" stroke="#22332e" stroke-width="0.95" />
<circle cx="462.90" cy="191.28" r="1.20" fill="#0a0a0a" stroke="none" stroke-width="0.5" />
<text x="503.20" y="193.68" font-size="5.75" text-anchor="start" fill="#222" stroke="#222" stroke-width="0.18" >0.953</text>
<text transform="translate(367.20,199.81) scale(0.92,1)" font-size="5.95" text-anchor="end" fill="#222" stroke="#222" stroke-width="0.18" >PAAD</text>
<line x1="367.40" y1="197.71" x2="369.40" y2="197.71" stroke="#555" stroke-width="0.4" />
<line x1="452.20" y1="197.71" x2="473.20" y2="197.71" stroke="#22332e" stroke-width="0.95" />
<circle cx="462.90" cy="197.71" r="1.20" fill="#0a0a0a" stroke="none" stroke-width="0.5" />
<text x="503.20" y="200.11" font-size="5.75" text-anchor="start" fill="#222" stroke="#222" stroke-width="0.18" >0.993</text>
<text transform="translate(367.20,206.24) scale(0.92,1)" font-size="5.95" text-anchor="end" fill="#222" stroke="#222" stroke-width="0.18" >UCS</text>
<line x1="367.40" y1="204.14" x2="369.40" y2="204.14" stroke="#555" stroke-width="0.4" />
<line x1="444.90" y1="204.14" x2="479.90" y2="204.14" stroke="#22332e" stroke-width="0.95" />
<circle cx="462.90" cy="204.14" r="1.20" fill="#0a0a0a" stroke="none" stroke-width="0.5" />
<text x="503.20" y="206.54" font-size="5.75" text-anchor="start" fill="#222" stroke="#222" stroke-width="0.18" >0.997</text>
<text x="389.35" y="216.20" font-size="5.8" text-anchor="middle" fill="#222" stroke="#222" stroke-width="0.18" >-3</text>
<text x="413.80" y="216.20" font-size="5.8" text-anchor="middle" fill="#222" stroke="#222" stroke-width="0.18" >-2</text>
<text x="438.25" y="216.20" font-size="5.8" text-anchor="middle" fill="#222" stroke="#222" stroke-width="0.18" >-1</text>
<text x="462.70" y="216.20" font-size="5.8" text-anchor="middle" fill="#222" stroke="#222" stroke-width="0.18" >0</text>
<text x="487.15" y="216.20" font-size="5.8" text-anchor="middle" fill="#222" stroke="#222" stroke-width="0.18" >+1</text>
<text x="437.7" y="226.5" font-size="5.9" text-anchor="middle" fill="#222" stroke="#222" stroke-width="0.18">Log<tspan font-size="4.2" dy="1.9">2</tspan><tspan dy="-1.9"> HR (95% CI)</tspan></text>
<text x="319.60" y="253.90" font-size="12.3" text-anchor="start" fill="#111" font-weight="bold" >E</text>
<text x="430.00" y="250.20" font-size="5.75" text-anchor="middle" fill="#222" stroke="#222" stroke-width="0.18" >Advanced pathologic stage vs. immunophenotypes</text>
<rect x="345.1" y="255.5" width="172.89999999999998" height="108.10000000000002" fill="#fff" stroke="#888" stroke-width="0.6"/>
<line x1="432.40" y1="255.50" x2="432.40" y2="363.60" stroke="#aaa" stroke-width="0.6" />
<line x1="345.10" y1="319.30" x2="518.00" y2="319.30" stroke="#999" stroke-width="0.5" stroke-dasharray="1,1"/>
<line x1="345.10" y1="335.40" x2="518.00" y2="335.40" stroke="#aaa" stroke-width="0.5" stroke-dasharray="2,1"/>
<line x1="343.60" y1="359.90" x2="345.10" y2="359.90" stroke="#555" stroke-width="0.5" />
<text x="342.20" y="361.90" font-size="5.8" text-anchor="end" fill="#222" stroke="#222" stroke-width="0.18" >0.0</text>
<line x1="343.60" y1="339.80" x2="345.10" y2="339.80" stroke="#555" stroke-width="0.5" />
<text x="342.20" y="341.80" font-size="5.8" text-anchor="end" fill="#222" stroke="#222" stroke-width="0.18" >0.5</text>
<line x1="343.60" y1="319.70" x2="345.10" y2="319.70" stroke="#555" stroke-width="0.5" />
<text x="342.20" y="321.70" font-size="5.8" text-anchor="end" fill="#222" stroke="#222" stroke-width="0.18" >1.0</text>
<line x1="343.60" y1="299.60" x2="345.10" y2="299.60" stroke="#555" stroke-width="0.5" />
<text x="342.20" y="301.60" font-size="5.8" text-anchor="end" fill="#222" stroke="#222" stroke-width="0.18" >1.5</text>
<line x1="343.60" y1="279.50" x2="345.10" y2="279.50" stroke="#555" stroke-width="0.5" />
<text x="342.20" y="281.50" font-size="5.8" text-anchor="end" fill="#222" stroke="#222" stroke-width="0.18" >2.0</text>
<line x1="343.60" y1="259.40" x2="345.10" y2="259.40" stroke="#555" stroke-width="0.5" />
<text x="342.20" y="261.40" font-size="5.8" text-anchor="end" fill="#222" stroke="#222" stroke-width="0.18" >2.5</text>
<line x1="355.80" y1="363.60" x2="355.80" y2="365.10" stroke="#555" stroke-width="0.5" />
<text x="355.80" y="370.60" font-size="5.8" text-anchor="middle" fill="#222" stroke="#222" stroke-width="0.18" >−0.4</text>
<line x1="394.10" y1="363.60" x2="394.10" y2="365.10" stroke="#555" stroke-width="0.5" />
<text x="394.10" y="370.60" font-size="5.8" text-anchor="middle" fill="#222" stroke="#222" stroke-width="0.18" >−0.2</text>
<line x1="432.40" y1="363.60" x2="432.40" y2="365.10" stroke="#555" stroke-width="0.5" />
<text x="432.40" y="370.60" font-size="5.8" text-anchor="middle" fill="#222" stroke="#222" stroke-width="0.18" >0.0</text>
<line x1="470.70" y1="363.60" x2="470.70" y2="365.10" stroke="#555" stroke-width="0.5" />
<text x="470.70" y="370.60" font-size="5.8" text-anchor="middle" fill="#222" stroke="#222" stroke-width="0.18" >0.2</text>
<line x1="509.00" y1="363.60" x2="509.00" y2="365.10" stroke="#555" stroke-width="0.5" />
<text x="509.00" y="370.60" font-size="5.8" text-anchor="middle" fill="#222" stroke="#222" stroke-width="0.18" >0.4</text>
<text x="432.00" y="378.30" font-size="6.1" text-anchor="middle" fill="#222" stroke="#222" stroke-width="0.18" >Effect size</text>
<text transform="translate(327.4,311.3) rotate(-90)" font-size="5.8" text-anchor="middle" fill="#222" stroke="#222" stroke-width="0.18">−Log<tspan font-size="4.2" dy="1.3">10</tspan><tspan dy="-1.3"> q value</tspan></text>
<text x="485.10" y="323.70" font-size="5.7" text-anchor="start" fill="#222" stroke="#222" stroke-width="0.18" >q-value 10%</text>
<text x="485.70" y="340.60" font-size="5.7" text-anchor="start" fill="#222" stroke="#222" stroke-width="0.18" >q-value 20%</text>
<circle cx="369.80" cy="336.50" r="3.60" fill="#b4b4b4" stroke="#8a8a8a" stroke-width="0.5" fill-opacity="0.75"/>
<circle cx="384.20" cy="332.30" r="3.60" fill="#b4b4b4" stroke="#8a8a8a" stroke-width="0.5" fill-opacity="0.75"/>
<circle cx="391.00" cy="344.20" r="4.30" fill="#b4b4b4" stroke="#8a8a8a" stroke-width="0.5" fill-opacity="0.75"/>
<circle cx="441.70" cy="332.80" r="5.00" fill="#b4b4b4" stroke="#8a8a8a" stroke-width="0.5" fill-opacity="0.75"/>
<circle cx="465.00" cy="336.00" r="5.00" fill="#b4b4b4" stroke="#8a8a8a" stroke-width="0.5" fill-opacity="0.75"/>
<circle cx="419.60" cy="342.50" r="2.50" fill="#b4b4b4" stroke="#8a8a8a" stroke-width="0.5" fill-opacity="0.75"/>
<circle cx="422.50" cy="348.30" r="3.40" fill="#b4b4b4" stroke="#8a8a8a" stroke-width="0.5" fill-opacity="0.75"/>
<circle cx="426.80" cy="349.20" r="2.80" fill="#b4b4b4" stroke="#8a8a8a" stroke-width="0.5" fill-opacity="0.75"/>
<circle cx="430.20" cy="355.50" r="3.60" fill="#b4b4b4" stroke="#8a8a8a" stroke-width="0.5" fill-opacity="0.75"/>
<circle cx="433.00" cy="353.60" r="3.00" fill="#b4b4b4" stroke="#8a8a8a" stroke-width="0.5" fill-opacity="0.75"/>
<circle cx="445.60" cy="348.80" r="3.60" fill="#b4b4b4" stroke="#8a8a8a" stroke-width="0.5" fill-opacity="0.75"/>
<circle cx="436.00" cy="350.50" r="3.20" fill="#b4b4b4" stroke="#8a8a8a" stroke-width="0.5" fill-opacity="0.75"/>
<circle cx="438.80" cy="347.30" r="4.60" fill="#9a9a9a" stroke="#505050" stroke-width="0.55" fill-opacity="0.6"/>
<circle cx="439.30" cy="346.60" r="3.40" fill="#9a9a9a" stroke="#505050" stroke-width="0.55" fill-opacity="0.6"/>
<circle cx="438.20" cy="348.00" r="2.40" fill="#9a9a9a" stroke="#505050" stroke-width="0.55" fill-opacity="0.6"/>
<circle cx="395.40" cy="262.50" r="3.40" fill="#7398dc" stroke="#34589a" stroke-width="0.85" />
<text x="398.90" y="264.50" font-size="5.8" text-anchor="start" fill="#222" stroke="#222" stroke-width="0.18" >LUAD</text>
<circle cx="353.60" cy="295.80" r="3.40" fill="#7398dc" stroke="#34589a" stroke-width="0.85" />
<text x="357.20" y="296.20" font-size="5.8" text-anchor="start" fill="#222" stroke="#222" stroke-width="0.18" >ACC</text>
<circle cx="393.50" cy="300.60" r="3.30" fill="#7398dc" stroke="#34589a" stroke-width="0.85" />
<text x="390.00" y="302.60" font-size="5.8" text-anchor="end" fill="#222" stroke="#222" stroke-width="0.18" >KIRP</text>
<circle cx="404.00" cy="300.60" r="3.30" fill="#7398dc" stroke="#34589a" stroke-width="0.85" />
<text x="407.40" y="302.60" font-size="5.8" text-anchor="start" fill="#222" stroke="#222" stroke-width="0.18" >LIHC</text>
<circle cx="406.30" cy="317.00" r="4.20" fill="#7398dc" stroke="#34589a" stroke-width="0.85" />
<text x="402.30" y="317.00" font-size="5.8" text-anchor="end" fill="#222" stroke="#222" stroke-width="0.18" >COREAD</text>
<circle cx="407.90" cy="324.00" r="2.80" fill="#e6effa" stroke="#5577b5" stroke-width="0.9" />
<circle cx="414.60" cy="330.40" r="5.20" fill="#e6effa" stroke="#5f82bf" stroke-width="1.0" />
<circle cx="417.50" cy="330.40" r="2.90" fill="#e6effa" stroke="#5577b5" stroke-width="0.9" />
<text x="403.50" y="327.50" font-size="5.8" text-anchor="end" fill="#222" stroke="#222" stroke-width="0.18" >UCEC</text>
<text x="418.80" y="325.60" font-size="5.8" text-anchor="start" fill="#222" stroke="#222" stroke-width="0.18" >HNSC</text>
<text x="419.80" y="331.80" font-size="5.8" text-anchor="start" fill="#222" stroke="#222" stroke-width="0.18" >LUSC</text>
<circle cx="455.90" cy="322.80" r="4.00" fill="#fff" stroke="#d23a4e" stroke-width="0.9" />
<text x="461.80" y="324.80" font-size="5.8" text-anchor="start" fill="#222" stroke="#222" stroke-width="0.18" >KIRC</text>
<text x="396.90" y="390.80" font-size="5.75" text-anchor="end" fill="#222" stroke="#222" stroke-width="0.18" >Proportion of tumors</text>
<text x="396.90" y="397.10" font-size="5.75" text-anchor="end" fill="#222" stroke="#222" stroke-width="0.18" >in stage III/IV</text>
<text x="412.00" y="386.40" font-size="5.75" text-anchor="middle" fill="#777" stroke="#777" stroke-width="0.18" >>60%</text>
<circle cx="410.60" cy="393.90" r="4.80" fill="#fff" stroke="#333" stroke-width="0.6" />
<text x="437.00" y="388.20" font-size="5.75" text-anchor="middle" fill="#777" stroke="#777" stroke-width="0.18" >40–60%</text>
<circle cx="431.30" cy="393.90" r="3.90" fill="#fff" stroke="#333" stroke-width="0.6" />
<text x="461.80" y="389.60" font-size="5.75" text-anchor="middle" fill="#777" stroke="#777" stroke-width="0.18" >20–40%</text>
<circle cx="454.60" cy="393.90" r="2.90" fill="#fff" stroke="#333" stroke-width="0.6" />
<text x="485.60" y="390.60" font-size="5.75" text-anchor="middle" fill="#777" stroke="#777" stroke-width="0.18" ><20%</text>
<circle cx="480.30" cy="393.90" r="2.45" fill="#fff" stroke="#333" stroke-width="0.6" />
<circle cx="348.30" cy="406.20" r="1.90" fill="#4f7fc4" stroke="#2f5aa8" stroke-width="0.4" />
<circle cx="348.30" cy="412.60" r="1.90" fill="#d0485c" stroke="#a03040" stroke-width="0.4" />
<text x="352.10" y="408.10" font-size="5.75" text-anchor="start" fill="#222" stroke="#222" stroke-width="0.18" >Negatively correlated with cytotoxic immunophenotypes</text>
<text x="352.10" y="414.60" font-size="5.75" text-anchor="start" fill="#222" stroke="#222" stroke-width="0.18" >Positively correlated with cytotoxic immunophenotypes</text>
</svg>
</body></html>
